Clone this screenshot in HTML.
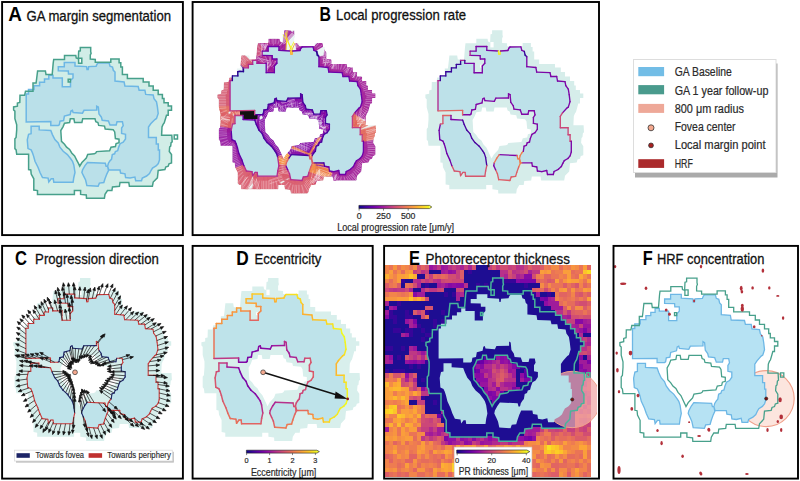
<!DOCTYPE html>
<html><head><meta charset="utf-8"><style>
html,body{margin:0;padding:0;background:#fff;}
body{width:800px;height:481px;overflow:hidden;font-family:"Liberation Sans", sans-serif;}
svg{display:block;}
</style></head><body>
<svg width="800" height="481" viewBox="0 0 800 481" font-family='"Liberation Sans", sans-serif'>
<defs><clipPath id="clipEp"><rect x="385" y="247" width="212" height="231"/></clipPath><clipPath id="clipBL"><path d="M284.2 30.3 L294.6 30.3 L294.6 34.7 L295.0 36.6 L294.2 38.4 L294.2 42.9 L299.2 43.3 L299.2 46.3 L314.7 46.3 L314.7 42.9 L323.0 42.9 L323.0 46.9 L324.7 46.9 L324.7 51.4 L326.3 51.4 L326.3 59.4 L331.3 59.4 L331.3 64.0 L347.1 64.0 L347.1 67.5 L352.9 67.5 L352.9 72.1 L357.1 72.1 L357.1 76.5 L362.1 76.5 L362.1 81.0 L366.3 81.0 L366.3 85.6 L367.9 85.6 L367.9 90.0 L372.1 90.0 L372.1 93.6 L375.4 93.6 L375.4 98.1 L372.1 98.1 L372.1 103.6 L370.4 103.6 L369.6 106.6 L368.1 111.9 L367.0 113.5 L365.9 116.2 L365.5 125.3 L375.7 125.3 L376.1 132.3 L375.0 133.2 L374.6 137.1 L373.6 137.9 L373.2 142.8 L375.4 146.2 L375.4 155.3 L372.9 156.1 L372.1 158.7 L369.6 159.6 L368.8 162.4 L362.1 163.3 L361.3 171.4 L357.1 175.8 L356.3 180.4 L333.3 180.5 L332.7 176.4 L323.9 176.4 L323.3 180.5 L316.4 181.1 L315.8 185.1 L311.4 185.1 L308.9 189.2 L308.3 193.4 L290.4 193.4 L290.2 189.9 L284.5 189.2 L284.5 185.1 L278.3 185.1 L278.3 189.2 L241.4 189.2 L241.4 185.1 L237.7 184.5 L237.7 172.4 L235.1 167.2 L234.7 162.8 L232.5 162.4 L232.5 145.7 L220.6 145.7 L220.0 141.1 L218.8 139.7 L218.8 129.0 L220.0 127.6 L220.6 119.5 L220.6 114.0 L218.8 107.3 L218.8 99.2 L217.5 97.9 L217.5 94.6 L221.3 93.8 L221.3 90.5 L223.7 89.8 L223.9 82.0 L228.5 82.0 L229.4 77.6 L236.9 77.6 L236.9 68.6 L240.0 68.6 L240.5 64.6 L241.5 55.6 L249.3 55.6 L249.9 59.6 L256.1 59.6 L257.1 47.2 L257.6 43.3 L268.4 43.3 L268.4 38.8 L279.7 38.8 L280.1 41.6 L282.2 42.4 L282.6 34.3 L284.2 33.9 Z M268.4 112.2 L273.5 111.5 L274.2 107.4 L277.8 107.4 L278.5 111.5 L285.8 111.5 L286.6 107.4 L298.9 107.4 L299.7 110.6 L301.8 111.5 L302.6 114.6 L308.4 115.3 L309.1 118.5 L317.1 119.2 L318.6 121.6 L319.3 128.8 L322.9 129.5 L322.9 133.4 L320.0 134.3 L319.3 137.4 L314.9 138.2 L313.5 142.1 L300.4 142.9 L299.7 144.5 L298.2 145.3 L291.6 146.1 L290.2 150.0 L288.0 152.3 L285.8 154.7 L283.6 158.6 L282.2 155.5 L280.7 152.3 L278.5 147.6 L275.6 144.5 L273.5 140.6 L270.5 138.2 L268.4 135.0 L265.4 131.9 L264.7 120.1 L266.9 116.1 Z" fill-rule="evenodd" clip-rule="evenodd"/></clipPath><linearGradient id="plasma" x1="0" x2="1" y1="0" y2="0"><stop offset="0.00" stop-color="#0d0887"/><stop offset="0.10" stop-color="#41049d"/><stop offset="0.20" stop-color="#6a00a8"/><stop offset="0.30" stop-color="#8f0da4"/><stop offset="0.40" stop-color="#b12a90"/><stop offset="0.50" stop-color="#cc4778"/><stop offset="0.60" stop-color="#e16462"/><stop offset="0.70" stop-color="#f2844b"/><stop offset="0.80" stop-color="#fca636"/><stop offset="0.90" stop-color="#fcce25"/><stop offset="1.00" stop-color="#f0f921"/></linearGradient></defs>
<rect width="800" height="481" fill="#fff"/>
<path d="M80.3 47.5 L90.7 47.5 L90.7 51.6 L91.1 53.3 L90.3 55.0 L90.3 59.1 L95.3 59.5 L95.3 62.3 L110.8 62.3 L110.8 59.1 L119.1 59.1 L119.1 62.8 L120.8 62.8 L120.8 67.0 L122.4 67.0 L122.4 74.4 L127.4 74.4 L127.4 78.6 L143.2 78.6 L143.2 81.9 L149.0 81.9 L149.0 86.1 L153.2 86.1 L153.2 90.2 L158.2 90.2 L158.2 94.4 L162.4 94.4 L162.4 98.6 L164.0 98.6 L164.0 102.7 L168.2 102.7 L168.2 106.0 L171.5 106.0 L171.5 110.2 L168.2 110.2 L168.2 115.2 L166.5 115.2 L165.7 118.0 L164.2 122.9 L163.1 124.4 L162.0 126.9 L161.6 135.3 L171.8 135.3 L172.2 141.8 L171.1 142.6 L170.7 146.2 L169.7 146.9 L169.3 151.5 L171.5 154.6 L171.5 163.0 L169.0 163.8 L168.2 166.2 L165.7 167.0 L164.9 169.6 L158.2 170.4 L157.4 177.9 L153.2 182.0 L152.4 186.2 L129.4 186.3 L128.8 182.5 L120.0 182.5 L119.4 186.3 L112.5 186.9 L111.9 190.6 L107.5 190.6 L105.0 194.4 L104.4 198.2 L86.5 198.2 L86.3 195.0 L80.6 194.4 L80.6 190.6 L74.4 190.6 L74.4 194.4 L37.5 194.4 L37.5 190.6 L33.8 190.0 L33.8 178.8 L31.2 174.0 L30.8 170.0 L28.6 169.6 L28.6 154.2 L16.7 154.2 L16.1 149.9 L14.9 148.6 L14.9 138.7 L16.1 137.4 L16.7 129.9 L16.7 124.9 L14.9 118.7 L14.9 111.2 L13.6 110.0 L13.6 106.9 L17.4 106.2 L17.4 103.1 L19.8 102.5 L20.0 95.3 L24.6 95.3 L25.5 91.2 L33.0 91.2 L33.0 82.9 L36.1 82.9 L36.6 79.2 L37.6 70.9 L45.4 70.9 L46.0 74.6 L52.2 74.6 L53.2 63.1 L53.7 59.5 L64.5 59.5 L64.5 55.4 L75.8 55.4 L76.2 57.9 L78.3 58.7 L78.7 51.2 L80.3 50.8 Z M64.5 123.2 L69.6 122.5 L70.3 118.8 L73.9 118.8 L74.6 122.5 L81.9 122.5 L82.7 118.8 L95.0 118.8 L95.8 121.7 L97.9 122.5 L98.7 125.4 L104.5 126.1 L105.2 129.0 L113.2 129.7 L114.7 131.9 L115.4 138.5 L119.0 139.2 L119.0 142.8 L116.1 143.6 L115.4 146.5 L111.0 147.2 L109.6 150.8 L96.5 151.6 L95.8 153.0 L94.3 153.8 L87.7 154.5 L86.3 158.1 L84.1 160.3 L81.9 162.5 L79.7 166.1 L78.3 163.2 L76.8 160.3 L74.6 155.9 L71.7 153.0 L69.6 149.4 L66.6 147.2 L64.5 144.3 L61.5 141.4 L60.8 130.5 L63.0 126.8 Z" fill="#d1ede7" fill-rule="evenodd"/>
<path d="M78.6 58.3 L81.8 58.3 L81.8 63.3 L78.6 63.3 Z" fill="#fff"/>
<path d="M68.2 79.3 L70.4 79.3 L70.4 82.0 L68.2 82.0 Z" fill="#fff"/>
<path d="M26.2 121.9 L26.2 94.0 L28.5 94.0 L28.5 89.6 L34.0 89.6 L34.0 85.8 L39.6 85.8 L39.6 82.2 L44.5 82.2 L44.5 79.0 L48.8 79.0 L48.8 75.3 L53.0 75.3 L53.0 78.0 L62.3 78.0 L62.3 86.7 L70.5 86.7 L70.5 80.5 L73.0 78.0 L73.0 74.0 L68.5 74.0 L68.3 71.0 L58.3 70.7 L58.3 66.7 L64.3 66.7 L64.3 62.5 L75.0 62.5 L75.0 66.0 L86.6 66.6 L87.0 69.5 L88.2 69.5 L88.7 66.6 L96.1 66.2 L97.0 64.1 L98.2 62.9 L109.1 62.8 L110.0 66.1 L112.5 67.0 L113.3 70.3 L115.0 72.0 L115.0 81.1 L124.1 81.9 L124.9 86.1 L138.2 86.6 L139.1 90.2 L144.9 90.2 L145.7 94.4 L153.2 94.9 L154.0 98.6 L156.5 101.9 L157.4 106.9 L158.2 113.5 L156.5 118.5 L154.9 119.5 L150.7 123.8 L148.5 127.0 L148.5 137.5 L156.3 137.5 L156.3 144.0 L158.3 144.0 L158.3 150.0 L159.5 150.0 L159.5 160.0 L158.3 163.6 L156.1 166.0 L152.5 168.0 L151.0 170.5 L149.5 173.5 L146.6 176.0 L142.3 178.0 L141.5 180.8 L135.7 180.8 L134.9 177.1 L130.0 178.1 L125.6 177.5 L125.0 173.8 L120.6 173.1 L120.0 170.0 L110.0 170.0 L108.4 170.0 L107.6 166.3 L108.4 163.2 L110.0 160.8 L111.5 159.3 L112.3 154.6 L114.6 153.8 L115.4 151.5 L117.7 150.7 L118.5 147.6 L120.1 143.7 L123.2 142.1 L125.5 139.0 L125.5 134.3 L121.6 133.5 L121.6 128.1 L123.2 125.7 L122.4 121.8 L117.0 121.8 L116.2 125.0 L110.0 125.0 L108.4 121.0 L102.2 120.3 L101.4 117.2 L99.0 114.0 L98.3 107.0 L96.7 106.2 L96.7 110.1 L84.0 110.3 L82.5 113.2 L73.1 112.5 L72.4 110.3 L70.9 111.0 L70.2 114.6 L64.4 116.1 L63.6 120.5 L60.0 121.2 L59.3 124.8 L58.2 125.5 L50.8 125.5 L50.8 121.5 Z M31.1 126.2 L39.2 126.2 L39.2 129.9 L50.8 130.5 L52.4 134.6 L54.9 139.6 L58.2 143.0 L59.9 147.1 L63.2 151.3 L67.4 154.6 L70.7 158.8 L72.5 161.3 L73.8 165.0 L75.0 172.5 L73.8 177.5 L73.1 182.3 L53.8 182.3 L53.3 178.8 L51.2 178.8 L48.8 181.9 L48.1 178.1 L42.5 177.5 L40.0 172.5 L38.1 167.5 L35.0 161.3 L33.6 156.1 L32.3 152.4 L31.1 149.9 L28.0 148.6 L27.3 139.9 L28.6 134.3 L31.1 133.7 Z M87.5 162.5 L105.3 163.2 L106.1 166.3 L107.6 166.3 L108.8 170.0 L106.9 173.8 L105.0 178.8 L103.8 182.5 L99.4 183.1 L98.1 186.3 L86.9 185.6 L85.6 180.0 L83.8 176.3 L81.9 172.5 L82.5 170.0 L85.0 165.6 Z" fill="#bae0e9"/>
<path d="M26.2 121.9 L26.2 94.0 L28.5 94.0 L28.5 89.6 L34.0 89.6 L34.0 85.8 L39.6 85.8 L39.6 82.2 L44.5 82.2 L44.5 79.0 L48.8 79.0 L48.8 75.3 L53.0 75.3 L53.0 78.0 L62.3 78.0 L62.3 86.7 L70.5 86.7 L70.5 80.5 L73.0 78.0 L73.0 74.0 L68.5 74.0 L68.3 71.0 L58.3 70.7 L58.3 66.7 L64.3 66.7 L64.3 62.5 L75.0 62.5 L75.0 66.0 L86.6 66.6 L87.0 69.5 L88.2 69.5 L88.7 66.6 L96.1 66.2 L97.0 64.1 L98.2 62.9 L109.1 62.8 L110.0 66.1 L112.5 67.0 L113.3 70.3 L115.0 72.0 L115.0 81.1 L124.1 81.9 L124.9 86.1 L138.2 86.6 L139.1 90.2 L144.9 90.2 L145.7 94.4 L153.2 94.9 L154.0 98.6 L156.5 101.9 L157.4 106.9 L158.2 113.5 L156.5 118.5 L154.9 119.5 L150.7 123.8 L148.5 127.0 L148.5 137.5 L156.3 137.5 L156.3 144.0 L158.3 144.0 L158.3 150.0 L159.5 150.0 L159.5 160.0 L158.3 163.6 L156.1 166.0 L152.5 168.0 L151.0 170.5 L149.5 173.5 L146.6 176.0 L142.3 178.0 L141.5 180.8 L135.7 180.8 L134.9 177.1 L130.0 178.1 L125.6 177.5 L125.0 173.8 L120.6 173.1 L120.0 170.0 L110.0 170.0 L108.4 170.0 L107.6 166.3 L108.4 163.2 L110.0 160.8 L111.5 159.3 L112.3 154.6 L114.6 153.8 L115.4 151.5 L117.7 150.7 L118.5 147.6 L120.1 143.7 L123.2 142.1 L125.5 139.0 L125.5 134.3 L121.6 133.5 L121.6 128.1 L123.2 125.7 L122.4 121.8 L117.0 121.8 L116.2 125.0 L110.0 125.0 L108.4 121.0 L102.2 120.3 L101.4 117.2 L99.0 114.0 L98.3 107.0 L96.7 106.2 L96.7 110.1 L84.0 110.3 L82.5 113.2 L73.1 112.5 L72.4 110.3 L70.9 111.0 L70.2 114.6 L64.4 116.1 L63.6 120.5 L60.0 121.2 L59.3 124.8 L58.2 125.5 L50.8 125.5 L50.8 121.5 Z M31.1 126.2 L39.2 126.2 L39.2 129.9 L50.8 130.5 L52.4 134.6 L54.9 139.6 L58.2 143.0 L59.9 147.1 L63.2 151.3 L67.4 154.6 L70.7 158.8 L72.5 161.3 L73.8 165.0 L75.0 172.5 L73.8 177.5 L73.1 182.3 L53.8 182.3 L53.3 178.8 L51.2 178.8 L48.8 181.9 L48.1 178.1 L42.5 177.5 L40.0 172.5 L38.1 167.5 L35.0 161.3 L33.6 156.1 L32.3 152.4 L31.1 149.9 L28.0 148.6 L27.3 139.9 L28.6 134.3 L31.1 133.7 Z M87.5 162.5 L105.3 163.2 L106.1 166.3 L107.6 166.3 L108.8 170.0 L106.9 173.8 L105.0 178.8 L103.8 182.5 L99.4 183.1 L98.1 186.3 L86.9 185.6 L85.6 180.0 L83.8 176.3 L81.9 172.5 L82.5 170.0 L85.0 165.6 Z" fill="none" stroke="#6db7e5" stroke-width="1.50"/>
<path d="M80.3 47.5 L90.7 47.5 L90.7 51.6 L91.1 53.3 L90.3 55.0 L90.3 59.1 L95.3 59.5 L95.3 62.3 L110.8 62.3 L110.8 59.1 L119.1 59.1 L119.1 62.8 L120.8 62.8 L120.8 67.0 L122.4 67.0 L122.4 74.4 L127.4 74.4 L127.4 78.6 L143.2 78.6 L143.2 81.9 L149.0 81.9 L149.0 86.1 L153.2 86.1 L153.2 90.2 L158.2 90.2 L158.2 94.4 L162.4 94.4 L162.4 98.6 L164.0 98.6 L164.0 102.7 L168.2 102.7 L168.2 106.0 L171.5 106.0 L171.5 110.2 L168.2 110.2 L168.2 115.2 L166.5 115.2 L165.7 118.0 L164.2 122.9 L163.1 124.4 L162.0 126.9 L161.6 135.3 L171.8 135.3 L172.2 141.8 L171.1 142.6 L170.7 146.2 L169.7 146.9 L169.3 151.5 L171.5 154.6 L171.5 163.0 L169.0 163.8 L168.2 166.2 L165.7 167.0 L164.9 169.6 L158.2 170.4 L157.4 177.9 L153.2 182.0 L152.4 186.2 L129.4 186.3 L128.8 182.5 L120.0 182.5 L119.4 186.3 L112.5 186.9 L111.9 190.6 L107.5 190.6 L105.0 194.4 L104.4 198.2 L86.5 198.2 L86.3 195.0 L80.6 194.4 L80.6 190.6 L74.4 190.6 L74.4 194.4 L37.5 194.4 L37.5 190.6 L33.8 190.0 L33.8 178.8 L31.2 174.0 L30.8 170.0 L28.6 169.6 L28.6 154.2 L16.7 154.2 L16.1 149.9 L14.9 148.6 L14.9 138.7 L16.1 137.4 L16.7 129.9 L16.7 124.9 L14.9 118.7 L14.9 111.2 L13.6 110.0 L13.6 106.9 L17.4 106.2 L17.4 103.1 L19.8 102.5 L20.0 95.3 L24.6 95.3 L25.5 91.2 L33.0 91.2 L33.0 82.9 L36.1 82.9 L36.6 79.2 L37.6 70.9 L45.4 70.9 L46.0 74.6 L52.2 74.6 L53.2 63.1 L53.7 59.5 L64.5 59.5 L64.5 55.4 L75.8 55.4 L76.2 57.9 L78.3 58.7 L78.7 51.2 L80.3 50.8 Z M64.5 123.2 L69.6 122.5 L70.3 118.8 L73.9 118.8 L74.6 122.5 L81.9 122.5 L82.7 118.8 L95.0 118.8 L95.8 121.7 L97.9 122.5 L98.7 125.4 L104.5 126.1 L105.2 129.0 L113.2 129.7 L114.7 131.9 L115.4 138.5 L119.0 139.2 L119.0 142.8 L116.1 143.6 L115.4 146.5 L111.0 147.2 L109.6 150.8 L96.5 151.6 L95.8 153.0 L94.3 153.8 L87.7 154.5 L86.3 158.1 L84.1 160.3 L81.9 162.5 L79.7 166.1 L78.3 163.2 L76.8 160.3 L74.6 155.9 L71.7 153.0 L69.6 149.4 L66.6 147.2 L64.5 144.3 L61.5 141.4 L60.8 130.5 L63.0 126.8 Z" fill="none" stroke="#47a08b" stroke-width="1.50"/>
<path d="M78.6 58.3 L81.8 58.3 L81.8 63.3 L78.6 63.3 Z" fill="none" stroke="#47a08b" stroke-width="1.50"/>
<path d="M68.2 79.3 L70.4 79.3 L70.4 82.0 L68.2 82.0 Z" fill="none" stroke="#47a08b" stroke-width="1.50"/>
<path d="M174.2 135.0 L177.5 135.0 L177.5 138.9 L174.2 138.9 Z" fill="none" stroke="#47a08b" stroke-width="1.50"/>
<path d="M492.1 30.3 L502.5 30.3 L502.5 34.7 L502.9 36.6 L502.1 38.4 L502.1 42.9 L507.1 43.3 L507.1 46.3 L522.6 46.3 L522.6 42.9 L530.9 42.9 L530.9 46.9 L532.6 46.9 L532.6 51.4 L534.2 51.4 L534.2 59.4 L539.2 59.4 L539.2 64.0 L555.0 64.0 L555.0 67.5 L560.8 67.5 L560.8 72.1 L565.0 72.1 L565.0 76.5 L570.0 76.5 L570.0 81.0 L574.2 81.0 L574.2 85.6 L575.8 85.6 L575.8 90.0 L580.0 90.0 L580.0 93.6 L583.3 93.6 L583.3 98.1 L580.0 98.1 L580.0 103.6 L578.3 103.6 L577.5 106.6 L576.0 111.9 L574.9 113.5 L573.8 116.2 L573.4 125.3 L583.6 125.3 L584.0 132.3 L582.9 133.2 L582.5 137.1 L581.5 137.9 L581.1 142.8 L583.3 146.2 L583.3 155.3 L580.8 156.1 L580.0 158.7 L577.5 159.6 L576.7 162.4 L570.0 163.3 L569.2 171.4 L565.0 175.8 L564.2 180.4 L541.2 180.5 L540.6 176.4 L531.8 176.4 L531.2 180.5 L524.3 181.1 L523.7 185.1 L519.3 185.1 L516.8 189.2 L516.2 193.4 L498.3 193.4 L498.1 189.9 L492.4 189.2 L492.4 185.1 L486.2 185.1 L486.2 189.2 L449.3 189.2 L449.3 185.1 L445.6 184.5 L445.6 172.4 L443.0 167.2 L442.6 162.8 L440.4 162.4 L440.4 145.7 L428.5 145.7 L427.9 141.1 L426.7 139.7 L426.7 129.0 L427.9 127.6 L428.5 119.5 L428.5 114.0 L426.7 107.3 L426.7 99.2 L425.4 97.9 L425.4 94.6 L429.2 93.8 L429.2 90.5 L431.6 89.8 L431.8 82.0 L436.4 82.0 L437.3 77.6 L444.8 77.6 L444.8 68.6 L447.9 68.6 L448.4 64.6 L449.4 55.6 L457.2 55.6 L457.8 59.6 L464.0 59.6 L465.0 47.2 L465.5 43.3 L476.3 43.3 L476.3 38.8 L487.6 38.8 L488.0 41.6 L490.1 42.4 L490.5 34.3 L492.1 33.9 Z M476.3 112.2 L481.4 111.5 L482.1 107.4 L485.7 107.4 L486.4 111.5 L493.7 111.5 L494.5 107.4 L506.8 107.4 L507.6 110.6 L509.7 111.5 L510.5 114.6 L516.3 115.3 L517.0 118.5 L525.0 119.2 L526.5 121.6 L527.2 128.8 L530.8 129.5 L530.8 133.4 L527.9 134.3 L527.2 137.4 L522.8 138.2 L521.4 142.1 L508.3 142.9 L507.6 144.5 L506.1 145.3 L499.5 146.1 L498.1 150.0 L495.9 152.3 L493.7 154.7 L491.5 158.6 L490.1 155.5 L488.6 152.3 L486.4 147.6 L483.5 144.5 L481.4 140.6 L478.4 138.2 L476.3 135.0 L473.3 131.9 L472.6 120.1 L474.8 116.1 Z" fill="#d6edea" fill-rule="evenodd"/>
<path d="M490.4 42.0 L493.6 42.0 L493.6 47.4 L490.4 47.4 Z" fill="#fff"/>
<path d="M480.0 64.7 L482.2 64.7 L482.2 67.6 L480.0 67.6 Z" fill="#fff"/>
<path d="M438.0 110.8 L438.0 80.6 L440.3 80.6 L440.3 75.9 L445.8 75.9 L445.8 71.7 L451.4 71.7 L451.4 67.8 L456.3 67.8 L456.3 64.4 L460.6 64.4 L460.6 60.4 L464.8 60.4 L464.8 63.3 L474.1 63.3 L474.1 72.7 L482.3 72.7 L482.3 66.0 L484.8 63.3 L484.8 59.0 L480.3 59.0 L480.1 55.7 L470.1 55.4 L470.1 51.1 L476.1 51.1 L476.1 46.5 L486.8 46.5 L486.8 50.3 L498.4 51.0 L498.8 54.1 L500.0 54.1 L500.5 51.0 L507.9 50.5 L508.8 48.3 L510.0 47.0 L520.9 46.9 L521.8 50.4 L524.3 51.4 L525.1 55.0 L526.8 56.8 L526.8 66.7 L535.9 67.5 L536.7 72.1 L550.0 72.6 L550.9 76.5 L556.7 76.5 L557.5 81.0 L565.0 81.6 L565.8 85.6 L568.3 89.2 L569.2 94.6 L570.0 101.7 L568.3 107.1 L566.7 108.2 L562.5 112.9 L560.3 116.3 L560.3 127.7 L568.1 127.7 L568.1 134.7 L570.1 134.7 L570.1 141.2 L571.3 141.2 L571.3 152.0 L570.1 155.9 L567.9 158.5 L564.3 160.7 L562.8 163.4 L561.3 166.6 L558.4 169.3 L554.1 171.5 L553.3 174.5 L547.5 174.5 L546.7 170.5 L541.8 171.6 L537.4 171.0 L536.8 167.0 L532.4 166.2 L531.8 162.8 L521.8 162.8 L520.2 162.8 L519.4 158.8 L520.2 155.5 L521.8 152.9 L523.3 151.3 L524.1 146.2 L526.4 145.3 L527.2 142.8 L529.5 142.0 L530.3 138.6 L531.9 134.4 L535.0 132.7 L537.3 129.3 L537.3 124.2 L533.4 123.4 L533.4 117.5 L535.0 114.9 L534.2 110.7 L528.8 110.7 L528.0 114.2 L521.8 114.2 L520.2 109.8 L514.0 109.1 L513.2 105.7 L510.8 102.3 L510.1 94.7 L508.5 93.8 L508.5 98.0 L495.8 98.2 L494.3 101.4 L484.9 100.6 L484.2 98.2 L482.7 99.0 L482.0 102.9 L476.2 104.5 L475.4 109.3 L471.8 110.0 L471.1 113.9 L470.0 114.7 L462.6 114.7 L462.6 110.4 Z M442.9 115.5 L451.0 115.5 L451.0 119.5 L462.6 120.1 L464.2 124.5 L466.7 130.0 L470.0 133.6 L471.7 138.1 L475.0 142.6 L479.2 146.2 L482.5 150.7 L484.3 153.4 L485.6 157.4 L486.8 165.6 L485.6 171.0 L484.9 176.2 L465.6 176.2 L465.1 172.4 L463.0 172.4 L460.6 175.7 L459.9 171.6 L454.3 171.0 L451.8 165.6 L449.9 160.1 L446.8 153.4 L445.4 147.8 L444.1 143.8 L442.9 141.1 L439.8 139.7 L439.1 130.3 L440.4 124.2 L442.9 123.6 Z M499.3 154.7 L517.1 155.5 L517.9 158.8 L519.4 158.8 L520.6 162.8 L518.7 167.0 L516.8 172.4 L515.6 176.4 L511.2 177.0 L509.9 180.5 L498.7 179.7 L497.4 173.7 L495.6 169.7 L493.7 165.6 L494.3 162.8 L496.8 158.1 Z" fill="#bde1e9"/>
<line x1="438.0" y1="110.8" x2="438.0" y2="80.6" stroke="#b12a90" stroke-width="1.35" stroke-linecap="round"/>
<line x1="438.0" y1="80.6" x2="440.3" y2="80.6" stroke="#b12a90" stroke-width="1.35" stroke-linecap="round"/>
<line x1="440.3" y1="80.6" x2="440.3" y2="75.9" stroke="#370599" stroke-width="1.35" stroke-linecap="round"/>
<line x1="440.3" y1="75.9" x2="445.8" y2="75.9" stroke="#370599" stroke-width="1.35" stroke-linecap="round"/>
<line x1="445.8" y1="75.9" x2="445.8" y2="71.7" stroke="#370599" stroke-width="1.35" stroke-linecap="round"/>
<line x1="445.8" y1="71.7" x2="451.4" y2="71.7" stroke="#370599" stroke-width="1.35" stroke-linecap="round"/>
<line x1="451.4" y1="71.7" x2="451.4" y2="67.8" stroke="#370599" stroke-width="1.35" stroke-linecap="round"/>
<line x1="451.4" y1="67.8" x2="456.3" y2="67.8" stroke="#370599" stroke-width="1.35" stroke-linecap="round"/>
<line x1="456.3" y1="67.8" x2="456.3" y2="64.4" stroke="#370599" stroke-width="1.35" stroke-linecap="round"/>
<line x1="456.3" y1="64.4" x2="460.6" y2="64.4" stroke="#370599" stroke-width="1.35" stroke-linecap="round"/>
<line x1="460.6" y1="64.4" x2="460.6" y2="60.4" stroke="#370599" stroke-width="1.35" stroke-linecap="round"/>
<line x1="460.6" y1="60.4" x2="464.8" y2="60.4" stroke="#b12a90" stroke-width="1.35" stroke-linecap="round"/>
<line x1="464.8" y1="60.4" x2="464.8" y2="63.3" stroke="#370599" stroke-width="1.35" stroke-linecap="round"/>
<line x1="464.8" y1="63.3" x2="474.1" y2="63.3" stroke="#7c06a6" stroke-width="1.35" stroke-linecap="round"/>
<line x1="474.1" y1="63.3" x2="474.1" y2="72.7" stroke="#7c06a6" stroke-width="1.35" stroke-linecap="round"/>
<line x1="474.1" y1="72.7" x2="482.3" y2="72.7" stroke="#7c06a6" stroke-width="1.35" stroke-linecap="round"/>
<line x1="482.3" y1="72.7" x2="482.3" y2="66.0" stroke="#7c06a6" stroke-width="1.35" stroke-linecap="round"/>
<line x1="482.3" y1="66.0" x2="484.8" y2="63.3" stroke="#7c06a6" stroke-width="1.35" stroke-linecap="round"/>
<line x1="484.8" y1="63.3" x2="484.8" y2="59.0" stroke="#7c06a6" stroke-width="1.35" stroke-linecap="round"/>
<line x1="484.8" y1="59.0" x2="480.3" y2="59.0" stroke="#7c06a6" stroke-width="1.35" stroke-linecap="round"/>
<line x1="480.3" y1="59.0" x2="480.1" y2="55.7" stroke="#7c06a6" stroke-width="1.35" stroke-linecap="round"/>
<line x1="480.1" y1="55.7" x2="470.1" y2="55.4" stroke="#7c06a6" stroke-width="1.35" stroke-linecap="round"/>
<line x1="470.1" y1="55.4" x2="470.1" y2="51.1" stroke="#b12a90" stroke-width="1.35" stroke-linecap="round"/>
<line x1="470.1" y1="51.1" x2="476.1" y2="51.1" stroke="#7c06a6" stroke-width="1.35" stroke-linecap="round"/>
<line x1="476.1" y1="51.1" x2="476.1" y2="46.5" stroke="#7c06a6" stroke-width="1.35" stroke-linecap="round"/>
<line x1="476.1" y1="46.5" x2="486.8" y2="46.5" stroke="#7c06a6" stroke-width="1.35" stroke-linecap="round"/>
<line x1="486.8" y1="46.5" x2="486.8" y2="50.3" stroke="#7c06a6" stroke-width="1.35" stroke-linecap="round"/>
<line x1="486.8" y1="50.3" x2="498.4" y2="51.0" stroke="#7c06a6" stroke-width="1.35" stroke-linecap="round"/>
<line x1="498.4" y1="51.0" x2="498.8" y2="54.1" stroke="#f2f022" stroke-width="1.35" stroke-linecap="round"/>
<line x1="498.8" y1="54.1" x2="500.0" y2="54.1" stroke="#f2f022" stroke-width="1.35" stroke-linecap="round"/>
<line x1="500.0" y1="54.1" x2="500.5" y2="51.0" stroke="#f2f022" stroke-width="1.35" stroke-linecap="round"/>
<line x1="500.5" y1="51.0" x2="507.9" y2="50.5" stroke="#7c06a6" stroke-width="1.35" stroke-linecap="round"/>
<line x1="507.9" y1="50.5" x2="508.8" y2="48.3" stroke="#7c06a6" stroke-width="1.35" stroke-linecap="round"/>
<line x1="508.8" y1="48.3" x2="510.0" y2="47.0" stroke="#7c06a6" stroke-width="1.35" stroke-linecap="round"/>
<line x1="510.0" y1="47.0" x2="520.9" y2="46.9" stroke="#7c06a6" stroke-width="1.35" stroke-linecap="round"/>
<line x1="520.9" y1="46.9" x2="521.8" y2="50.4" stroke="#7c06a6" stroke-width="1.35" stroke-linecap="round"/>
<line x1="521.8" y1="50.4" x2="524.3" y2="51.4" stroke="#7c06a6" stroke-width="1.35" stroke-linecap="round"/>
<line x1="524.3" y1="51.4" x2="525.1" y2="55.0" stroke="#370599" stroke-width="1.35" stroke-linecap="round"/>
<line x1="525.1" y1="55.0" x2="526.8" y2="56.8" stroke="#370599" stroke-width="1.35" stroke-linecap="round"/>
<line x1="526.8" y1="56.8" x2="526.8" y2="66.7" stroke="#7c06a6" stroke-width="1.35" stroke-linecap="round"/>
<line x1="526.8" y1="66.7" x2="535.9" y2="67.5" stroke="#7c06a6" stroke-width="1.35" stroke-linecap="round"/>
<line x1="535.9" y1="67.5" x2="536.7" y2="72.1" stroke="#7c06a6" stroke-width="1.35" stroke-linecap="round"/>
<line x1="536.7" y1="72.1" x2="550.0" y2="72.6" stroke="#7c06a6" stroke-width="1.35" stroke-linecap="round"/>
<line x1="550.0" y1="72.6" x2="550.9" y2="76.5" stroke="#7c06a6" stroke-width="1.35" stroke-linecap="round"/>
<line x1="550.9" y1="76.5" x2="556.7" y2="76.5" stroke="#7c06a6" stroke-width="1.35" stroke-linecap="round"/>
<line x1="556.7" y1="76.5" x2="557.5" y2="81.0" stroke="#7c06a6" stroke-width="1.35" stroke-linecap="round"/>
<line x1="557.5" y1="81.0" x2="565.0" y2="81.6" stroke="#7c06a6" stroke-width="1.35" stroke-linecap="round"/>
<line x1="565.0" y1="81.6" x2="565.8" y2="85.6" stroke="#7c06a6" stroke-width="1.35" stroke-linecap="round"/>
<line x1="565.8" y1="85.6" x2="568.3" y2="89.2" stroke="#7c06a6" stroke-width="1.35" stroke-linecap="round"/>
<line x1="568.3" y1="89.2" x2="569.2" y2="94.6" stroke="#7c06a6" stroke-width="1.35" stroke-linecap="round"/>
<line x1="569.2" y1="94.6" x2="570.0" y2="101.7" stroke="#7c06a6" stroke-width="1.35" stroke-linecap="round"/>
<line x1="570.0" y1="101.7" x2="568.3" y2="107.1" stroke="#7c06a6" stroke-width="1.35" stroke-linecap="round"/>
<line x1="568.3" y1="107.1" x2="566.7" y2="108.2" stroke="#7c06a6" stroke-width="1.35" stroke-linecap="round"/>
<line x1="566.7" y1="108.2" x2="562.5" y2="112.9" stroke="#7c06a6" stroke-width="1.35" stroke-linecap="round"/>
<line x1="562.5" y1="112.9" x2="560.3" y2="116.3" stroke="#cc4778" stroke-width="1.35" stroke-linecap="round"/>
<line x1="560.3" y1="116.3" x2="560.3" y2="127.7" stroke="#cc4778" stroke-width="1.35" stroke-linecap="round"/>
<line x1="560.3" y1="127.7" x2="568.1" y2="127.7" stroke="#cc4778" stroke-width="1.35" stroke-linecap="round"/>
<line x1="568.1" y1="127.7" x2="568.1" y2="134.7" stroke="#cc4778" stroke-width="1.35" stroke-linecap="round"/>
<line x1="568.1" y1="134.7" x2="570.1" y2="134.7" stroke="#cc4778" stroke-width="1.35" stroke-linecap="round"/>
<line x1="570.1" y1="134.7" x2="570.1" y2="141.2" stroke="#cc4778" stroke-width="1.35" stroke-linecap="round"/>
<line x1="570.1" y1="141.2" x2="571.3" y2="141.2" stroke="#cc4778" stroke-width="1.35" stroke-linecap="round"/>
<line x1="571.3" y1="141.2" x2="571.3" y2="152.0" stroke="#7c06a6" stroke-width="1.35" stroke-linecap="round"/>
<line x1="571.3" y1="152.0" x2="570.1" y2="155.9" stroke="#7c06a6" stroke-width="1.35" stroke-linecap="round"/>
<line x1="570.1" y1="155.9" x2="567.9" y2="158.5" stroke="#7c06a6" stroke-width="1.35" stroke-linecap="round"/>
<line x1="567.9" y1="158.5" x2="564.3" y2="160.7" stroke="#7c06a6" stroke-width="1.35" stroke-linecap="round"/>
<line x1="564.3" y1="160.7" x2="562.8" y2="163.4" stroke="#7c06a6" stroke-width="1.35" stroke-linecap="round"/>
<line x1="562.8" y1="163.4" x2="561.3" y2="166.6" stroke="#7c06a6" stroke-width="1.35" stroke-linecap="round"/>
<line x1="561.3" y1="166.6" x2="558.4" y2="169.3" stroke="#7c06a6" stroke-width="1.35" stroke-linecap="round"/>
<line x1="558.4" y1="169.3" x2="554.1" y2="171.5" stroke="#7c06a6" stroke-width="1.35" stroke-linecap="round"/>
<line x1="554.1" y1="171.5" x2="553.3" y2="174.5" stroke="#7c06a6" stroke-width="1.35" stroke-linecap="round"/>
<line x1="553.3" y1="174.5" x2="547.5" y2="174.5" stroke="#7c06a6" stroke-width="1.35" stroke-linecap="round"/>
<line x1="547.5" y1="174.5" x2="546.7" y2="170.5" stroke="#7c06a6" stroke-width="1.35" stroke-linecap="round"/>
<line x1="546.7" y1="170.5" x2="541.8" y2="171.6" stroke="#7c06a6" stroke-width="1.35" stroke-linecap="round"/>
<line x1="541.8" y1="171.6" x2="537.4" y2="171.0" stroke="#7c06a6" stroke-width="1.35" stroke-linecap="round"/>
<line x1="537.4" y1="171.0" x2="536.8" y2="167.0" stroke="#7c06a6" stroke-width="1.35" stroke-linecap="round"/>
<line x1="536.8" y1="167.0" x2="532.4" y2="166.2" stroke="#7c06a6" stroke-width="1.35" stroke-linecap="round"/>
<line x1="532.4" y1="166.2" x2="531.8" y2="162.8" stroke="#8008a6" stroke-width="1.35" stroke-linecap="round"/>
<line x1="531.8" y1="162.8" x2="521.8" y2="162.8" stroke="#8008a6" stroke-width="1.35" stroke-linecap="round"/>
<line x1="521.8" y1="162.8" x2="520.2" y2="162.8" stroke="#ef7e50" stroke-width="1.35" stroke-linecap="round"/>
<line x1="520.2" y1="162.8" x2="519.4" y2="158.8" stroke="#ef7e50" stroke-width="1.35" stroke-linecap="round"/>
<line x1="519.4" y1="158.8" x2="520.2" y2="155.5" stroke="#ef7e50" stroke-width="1.35" stroke-linecap="round"/>
<line x1="520.2" y1="155.5" x2="521.8" y2="152.9" stroke="#ef7e50" stroke-width="1.35" stroke-linecap="round"/>
<line x1="521.8" y1="152.9" x2="523.3" y2="151.3" stroke="#ef7e50" stroke-width="1.35" stroke-linecap="round"/>
<line x1="523.3" y1="151.3" x2="524.1" y2="146.2" stroke="#8008a6" stroke-width="1.35" stroke-linecap="round"/>
<line x1="524.1" y1="146.2" x2="526.4" y2="145.3" stroke="#8008a6" stroke-width="1.35" stroke-linecap="round"/>
<line x1="526.4" y1="145.3" x2="527.2" y2="142.8" stroke="#8008a6" stroke-width="1.35" stroke-linecap="round"/>
<line x1="527.2" y1="142.8" x2="529.5" y2="142.0" stroke="#8008a6" stroke-width="1.35" stroke-linecap="round"/>
<line x1="529.5" y1="142.0" x2="530.3" y2="138.6" stroke="#8008a6" stroke-width="1.35" stroke-linecap="round"/>
<line x1="530.3" y1="138.6" x2="531.9" y2="134.4" stroke="#8008a6" stroke-width="1.35" stroke-linecap="round"/>
<line x1="531.9" y1="134.4" x2="535.0" y2="132.7" stroke="#8008a6" stroke-width="1.35" stroke-linecap="round"/>
<line x1="535.0" y1="132.7" x2="537.3" y2="129.3" stroke="#8008a6" stroke-width="1.35" stroke-linecap="round"/>
<line x1="537.3" y1="129.3" x2="537.3" y2="124.2" stroke="#7c06a6" stroke-width="1.35" stroke-linecap="round"/>
<line x1="537.3" y1="124.2" x2="533.4" y2="123.4" stroke="#8008a6" stroke-width="1.35" stroke-linecap="round"/>
<line x1="533.4" y1="123.4" x2="533.4" y2="117.5" stroke="#8008a6" stroke-width="1.35" stroke-linecap="round"/>
<line x1="533.4" y1="117.5" x2="535.0" y2="114.9" stroke="#8008a6" stroke-width="1.35" stroke-linecap="round"/>
<line x1="535.0" y1="114.9" x2="534.2" y2="110.7" stroke="#8008a6" stroke-width="1.35" stroke-linecap="round"/>
<line x1="534.2" y1="110.7" x2="528.8" y2="110.7" stroke="#8008a6" stroke-width="1.35" stroke-linecap="round"/>
<line x1="528.8" y1="110.7" x2="528.0" y2="114.2" stroke="#8008a6" stroke-width="1.35" stroke-linecap="round"/>
<line x1="528.0" y1="114.2" x2="521.8" y2="114.2" stroke="#8008a6" stroke-width="1.35" stroke-linecap="round"/>
<line x1="521.8" y1="114.2" x2="520.2" y2="109.8" stroke="#8008a6" stroke-width="1.35" stroke-linecap="round"/>
<line x1="520.2" y1="109.8" x2="514.0" y2="109.1" stroke="#8008a6" stroke-width="1.35" stroke-linecap="round"/>
<line x1="514.0" y1="109.1" x2="513.2" y2="105.7" stroke="#8008a6" stroke-width="1.35" stroke-linecap="round"/>
<line x1="513.2" y1="105.7" x2="510.8" y2="102.3" stroke="#8008a6" stroke-width="1.35" stroke-linecap="round"/>
<line x1="510.8" y1="102.3" x2="510.1" y2="94.7" stroke="#8008a6" stroke-width="1.35" stroke-linecap="round"/>
<line x1="510.1" y1="94.7" x2="508.5" y2="93.8" stroke="#8008a6" stroke-width="1.35" stroke-linecap="round"/>
<line x1="508.5" y1="93.8" x2="508.5" y2="98.0" stroke="#8008a6" stroke-width="1.35" stroke-linecap="round"/>
<line x1="508.5" y1="98.0" x2="495.8" y2="98.2" stroke="#8008a6" stroke-width="1.35" stroke-linecap="round"/>
<line x1="495.8" y1="98.2" x2="494.3" y2="101.4" stroke="#8008a6" stroke-width="1.35" stroke-linecap="round"/>
<line x1="494.3" y1="101.4" x2="484.9" y2="100.6" stroke="#8008a6" stroke-width="1.35" stroke-linecap="round"/>
<line x1="484.9" y1="100.6" x2="484.2" y2="98.2" stroke="#8008a6" stroke-width="1.35" stroke-linecap="round"/>
<line x1="484.2" y1="98.2" x2="482.7" y2="99.0" stroke="#8008a6" stroke-width="1.35" stroke-linecap="round"/>
<line x1="482.7" y1="99.0" x2="482.0" y2="102.9" stroke="#8008a6" stroke-width="1.35" stroke-linecap="round"/>
<line x1="482.0" y1="102.9" x2="476.2" y2="104.5" stroke="#8008a6" stroke-width="1.35" stroke-linecap="round"/>
<line x1="476.2" y1="104.5" x2="475.4" y2="109.3" stroke="#8008a6" stroke-width="1.35" stroke-linecap="round"/>
<line x1="475.4" y1="109.3" x2="471.8" y2="110.0" stroke="#8008a6" stroke-width="1.35" stroke-linecap="round"/>
<line x1="471.8" y1="110.0" x2="471.1" y2="113.9" stroke="#8008a6" stroke-width="1.35" stroke-linecap="round"/>
<line x1="471.1" y1="113.9" x2="470.0" y2="114.7" stroke="#8008a6" stroke-width="1.35" stroke-linecap="round"/>
<line x1="470.0" y1="114.7" x2="462.6" y2="114.7" stroke="#8008a6" stroke-width="1.35" stroke-linecap="round"/>
<line x1="462.6" y1="114.7" x2="462.6" y2="110.4" stroke="#e16462" stroke-width="1.35" stroke-linecap="round"/>
<line x1="462.6" y1="110.4" x2="438.0" y2="110.8" stroke="#e16462" stroke-width="1.35" stroke-linecap="round"/>
<line x1="442.9" y1="115.5" x2="451.0" y2="115.5" stroke="#e16462" stroke-width="1.35" stroke-linecap="round"/>
<line x1="451.0" y1="115.5" x2="451.0" y2="119.5" stroke="#7c06a6" stroke-width="1.35" stroke-linecap="round"/>
<line x1="451.0" y1="119.5" x2="462.6" y2="120.1" stroke="#7c06a6" stroke-width="1.35" stroke-linecap="round"/>
<line x1="462.6" y1="120.1" x2="464.2" y2="124.5" stroke="#49039f" stroke-width="1.35" stroke-linecap="round"/>
<line x1="464.2" y1="124.5" x2="466.7" y2="130.0" stroke="#49039f" stroke-width="1.35" stroke-linecap="round"/>
<line x1="466.7" y1="130.0" x2="470.0" y2="133.6" stroke="#49039f" stroke-width="1.35" stroke-linecap="round"/>
<line x1="470.0" y1="133.6" x2="471.7" y2="138.1" stroke="#49039f" stroke-width="1.35" stroke-linecap="round"/>
<line x1="471.7" y1="138.1" x2="475.0" y2="142.6" stroke="#49039f" stroke-width="1.35" stroke-linecap="round"/>
<line x1="475.0" y1="142.6" x2="479.2" y2="146.2" stroke="#49039f" stroke-width="1.35" stroke-linecap="round"/>
<line x1="479.2" y1="146.2" x2="482.5" y2="150.7" stroke="#49039f" stroke-width="1.35" stroke-linecap="round"/>
<line x1="482.5" y1="150.7" x2="484.3" y2="153.4" stroke="#49039f" stroke-width="1.35" stroke-linecap="round"/>
<line x1="484.3" y1="153.4" x2="485.6" y2="157.4" stroke="#49039f" stroke-width="1.35" stroke-linecap="round"/>
<line x1="485.6" y1="157.4" x2="486.8" y2="165.6" stroke="#49039f" stroke-width="1.35" stroke-linecap="round"/>
<line x1="486.8" y1="165.6" x2="485.6" y2="171.0" stroke="#d6566d" stroke-width="1.35" stroke-linecap="round"/>
<line x1="485.6" y1="171.0" x2="484.9" y2="176.2" stroke="#d6566d" stroke-width="1.35" stroke-linecap="round"/>
<line x1="484.9" y1="176.2" x2="465.6" y2="176.2" stroke="#d6566d" stroke-width="1.35" stroke-linecap="round"/>
<line x1="465.6" y1="176.2" x2="465.1" y2="172.4" stroke="#d6566d" stroke-width="1.35" stroke-linecap="round"/>
<line x1="465.1" y1="172.4" x2="463.0" y2="172.4" stroke="#d6566d" stroke-width="1.35" stroke-linecap="round"/>
<line x1="463.0" y1="172.4" x2="460.6" y2="175.7" stroke="#d6566d" stroke-width="1.35" stroke-linecap="round"/>
<line x1="460.6" y1="175.7" x2="459.9" y2="171.6" stroke="#d6566d" stroke-width="1.35" stroke-linecap="round"/>
<line x1="459.9" y1="171.6" x2="454.3" y2="171.0" stroke="#d6566d" stroke-width="1.35" stroke-linecap="round"/>
<line x1="454.3" y1="171.0" x2="451.8" y2="165.6" stroke="#d6566d" stroke-width="1.35" stroke-linecap="round"/>
<line x1="451.8" y1="165.6" x2="449.9" y2="160.1" stroke="#7103a7" stroke-width="1.35" stroke-linecap="round"/>
<line x1="449.9" y1="160.1" x2="446.8" y2="153.4" stroke="#7103a7" stroke-width="1.35" stroke-linecap="round"/>
<line x1="446.8" y1="153.4" x2="445.4" y2="147.8" stroke="#7103a7" stroke-width="1.35" stroke-linecap="round"/>
<line x1="445.4" y1="147.8" x2="444.1" y2="143.8" stroke="#7103a7" stroke-width="1.35" stroke-linecap="round"/>
<line x1="444.1" y1="143.8" x2="442.9" y2="141.1" stroke="#7103a7" stroke-width="1.35" stroke-linecap="round"/>
<line x1="442.9" y1="141.1" x2="439.8" y2="139.7" stroke="#7103a7" stroke-width="1.35" stroke-linecap="round"/>
<line x1="439.8" y1="139.7" x2="439.1" y2="130.3" stroke="#7103a7" stroke-width="1.35" stroke-linecap="round"/>
<line x1="439.1" y1="130.3" x2="440.4" y2="124.2" stroke="#7103a7" stroke-width="1.35" stroke-linecap="round"/>
<line x1="440.4" y1="124.2" x2="442.9" y2="123.6" stroke="#d6566d" stroke-width="1.35" stroke-linecap="round"/>
<line x1="442.9" y1="123.6" x2="442.9" y2="115.5" stroke="#d6566d" stroke-width="1.35" stroke-linecap="round"/>
<line x1="499.3" y1="154.7" x2="517.1" y2="155.5" stroke="#8008a6" stroke-width="1.35" stroke-linecap="round"/>
<line x1="517.1" y1="155.5" x2="517.9" y2="158.8" stroke="#ef7e50" stroke-width="1.35" stroke-linecap="round"/>
<line x1="517.9" y1="158.8" x2="519.4" y2="158.8" stroke="#ef7e50" stroke-width="1.35" stroke-linecap="round"/>
<line x1="519.4" y1="158.8" x2="520.6" y2="162.8" stroke="#ef7e50" stroke-width="1.35" stroke-linecap="round"/>
<line x1="520.6" y1="162.8" x2="518.7" y2="167.0" stroke="#ef7e50" stroke-width="1.35" stroke-linecap="round"/>
<line x1="518.7" y1="167.0" x2="516.8" y2="172.4" stroke="#dd5e66" stroke-width="1.35" stroke-linecap="round"/>
<line x1="516.8" y1="172.4" x2="515.6" y2="176.4" stroke="#dd5e66" stroke-width="1.35" stroke-linecap="round"/>
<line x1="515.6" y1="176.4" x2="511.2" y2="177.0" stroke="#dd5e66" stroke-width="1.35" stroke-linecap="round"/>
<line x1="511.2" y1="177.0" x2="509.9" y2="180.5" stroke="#dd5e66" stroke-width="1.35" stroke-linecap="round"/>
<line x1="509.9" y1="180.5" x2="498.7" y2="179.7" stroke="#dd5e66" stroke-width="1.35" stroke-linecap="round"/>
<line x1="498.7" y1="179.7" x2="497.4" y2="173.7" stroke="#dd5e66" stroke-width="1.35" stroke-linecap="round"/>
<line x1="497.4" y1="173.7" x2="495.6" y2="169.7" stroke="#dd5e66" stroke-width="1.35" stroke-linecap="round"/>
<line x1="495.6" y1="169.7" x2="493.7" y2="165.6" stroke="#7c06a6" stroke-width="1.35" stroke-linecap="round"/>
<line x1="493.7" y1="165.6" x2="494.3" y2="162.8" stroke="#8008a6" stroke-width="1.35" stroke-linecap="round"/>
<line x1="494.3" y1="162.8" x2="496.8" y2="158.1" stroke="#ea7456" stroke-width="1.35" stroke-linecap="round"/>
<line x1="496.8" y1="158.1" x2="499.3" y2="154.7" stroke="#ea7456" stroke-width="1.35" stroke-linecap="round"/>
<path d="M284.2 30.3 L294.6 30.3 L294.6 34.7 L295.0 36.6 L294.2 38.4 L294.2 42.9 L299.2 43.3 L299.2 46.3 L314.7 46.3 L314.7 42.9 L323.0 42.9 L323.0 46.9 L324.7 46.9 L324.7 51.4 L326.3 51.4 L326.3 59.4 L331.3 59.4 L331.3 64.0 L347.1 64.0 L347.1 67.5 L352.9 67.5 L352.9 72.1 L357.1 72.1 L357.1 76.5 L362.1 76.5 L362.1 81.0 L366.3 81.0 L366.3 85.6 L367.9 85.6 L367.9 90.0 L372.1 90.0 L372.1 93.6 L375.4 93.6 L375.4 98.1 L372.1 98.1 L372.1 103.6 L370.4 103.6 L369.6 106.6 L368.1 111.9 L367.0 113.5 L365.9 116.2 L365.5 125.3 L375.7 125.3 L376.1 132.3 L375.0 133.2 L374.6 137.1 L373.6 137.9 L373.2 142.8 L375.4 146.2 L375.4 155.3 L372.9 156.1 L372.1 158.7 L369.6 159.6 L368.8 162.4 L362.1 163.3 L361.3 171.4 L357.1 175.8 L356.3 180.4 L333.3 180.5 L332.7 176.4 L323.9 176.4 L323.3 180.5 L316.4 181.1 L315.8 185.1 L311.4 185.1 L308.9 189.2 L308.3 193.4 L290.4 193.4 L290.2 189.9 L284.5 189.2 L284.5 185.1 L278.3 185.1 L278.3 189.2 L241.4 189.2 L241.4 185.1 L237.7 184.5 L237.7 172.4 L235.1 167.2 L234.7 162.8 L232.5 162.4 L232.5 145.7 L220.6 145.7 L220.0 141.1 L218.8 139.7 L218.8 129.0 L220.0 127.6 L220.6 119.5 L220.6 114.0 L218.8 107.3 L218.8 99.2 L217.5 97.9 L217.5 94.6 L221.3 93.8 L221.3 90.5 L223.7 89.8 L223.9 82.0 L228.5 82.0 L229.4 77.6 L236.9 77.6 L236.9 68.6 L240.0 68.6 L240.5 64.6 L241.5 55.6 L249.3 55.6 L249.9 59.6 L256.1 59.6 L257.1 47.2 L257.6 43.3 L268.4 43.3 L268.4 38.8 L279.7 38.8 L280.1 41.6 L282.2 42.4 L282.6 34.3 L284.2 33.9 Z M268.4 112.2 L273.5 111.5 L274.2 107.4 L277.8 107.4 L278.5 111.5 L285.8 111.5 L286.6 107.4 L298.9 107.4 L299.7 110.6 L301.8 111.5 L302.6 114.6 L308.4 115.3 L309.1 118.5 L317.1 119.2 L318.6 121.6 L319.3 128.8 L322.9 129.5 L322.9 133.4 L320.0 134.3 L319.3 137.4 L314.9 138.2 L313.5 142.1 L300.4 142.9 L299.7 144.5 L298.2 145.3 L291.6 146.1 L290.2 150.0 L288.0 152.3 L285.8 154.7 L283.6 158.6 L282.2 155.5 L280.7 152.3 L278.5 147.6 L275.6 144.5 L273.5 140.6 L270.5 138.2 L268.4 135.0 L265.4 131.9 L264.7 120.1 L266.9 116.1 Z" fill="#eaf5f4" fill-rule="evenodd"/>
<g clip-path="url(#clipBL)">
<path d="M230.1 110.8L220.6 120.0L220.6 116.0L230.1 110.0ZM230.1 110.0L220.6 116.0L220.3 113.0L230.1 109.2ZM230.1 109.2L220.3 113.0L219.7 110.7L230.1 108.4ZM230.1 108.4L219.7 110.7L219.1 108.5L230.1 107.6ZM230.1 107.6L219.1 108.5L218.8 106.8L230.1 106.8ZM230.1 106.8L218.8 106.8L218.8 106.0L230.1 106.0ZM354.2 113.4L365.7 121.2L365.7 121.0L353.8 114.1ZM353.8 114.1L365.7 121.0L365.7 120.8L353.4 114.8ZM353.4 114.8L365.7 120.8L365.7 120.5L353.0 115.4ZM353.0 115.4L365.7 120.5L365.7 120.2L352.5 116.1ZM352.5 116.1L365.7 120.2L365.7 120.2L352.4 116.9ZM352.4 116.9L365.7 120.2L365.7 120.2L352.4 117.7ZM352.4 117.7L365.7 120.2L365.7 120.2L352.4 118.5ZM352.4 118.5L365.7 120.2L365.7 120.2L352.4 119.3ZM352.4 119.3L365.7 120.2L365.7 120.3L352.4 120.1ZM352.4 120.1L365.7 120.3L365.7 120.9L352.4 120.9ZM352.4 120.9L365.7 120.9L365.7 121.7L352.4 121.7ZM352.4 121.7L365.7 121.7L365.6 122.5L352.4 122.5ZM352.4 122.5L365.6 122.5L365.6 123.3L352.4 123.3ZM352.4 123.3L365.6 123.3L365.6 123.4L352.4 124.1ZM352.4 124.1L365.6 123.4L365.6 122.5L352.4 124.9ZM352.4 124.9L365.6 122.5L365.7 121.2L352.4 125.7ZM352.4 125.7L365.7 121.2L365.8 119.3L352.4 126.5ZM352.4 126.5L365.8 119.3L365.9 116.2L352.4 127.3ZM352.8 127.7L366.7 110.6L364.0 108.3L353.6 127.7ZM353.6 127.7L364.0 108.3L361.3 106.8L354.4 127.7ZM354.4 127.7L361.3 106.8L359.0 106.0L355.2 127.7ZM355.2 127.7L359.0 106.0L357.1 105.7L356.0 127.7ZM356.0 127.7L357.1 105.7L358.6 105.8L356.8 127.7ZM356.8 127.7L358.6 105.8L362.2 106.2L357.6 127.7ZM357.6 127.7L362.2 106.2L366.2 107.1L358.4 127.7ZM359.2 127.7L365.9 116.6L365.7 121.4L360.0 127.7ZM360.0 127.7L365.7 121.4L365.5 124.3L360.2 128.3ZM360.2 128.3L365.5 124.3L368.1 125.3L360.2 129.1ZM360.2 129.9L375.7 125.4L375.9 128.5L360.2 130.7ZM360.2 130.7L375.9 128.5L375.9 129.3L360.2 131.5ZM360.2 131.5L375.9 129.3L375.9 128.4L360.2 132.3ZM360.2 132.3L375.9 128.4L375.8 127.9L360.2 133.1ZM360.2 133.1L375.8 127.9L375.9 128.7L360.2 133.9ZM360.2 133.9L375.9 128.7L375.9 129.4L360.2 134.7ZM360.2 134.7L375.9 129.4L376.0 129.7L361.0 134.7ZM361.0 134.7L376.0 129.7L376.0 130.0L361.8 134.7ZM361.8 134.7L376.0 130.0L376.0 130.5L362.2 135.1ZM362.2 135.1L376.0 130.5L376.0 131.3L362.2 135.9ZM362.2 135.9L376.0 131.3L376.1 132.1L362.2 136.7ZM362.2 136.7L376.1 132.1L374.9 134.5L362.2 137.5ZM362.2 137.5L374.9 134.5L374.8 135.4L362.2 138.3ZM362.2 138.3L374.8 135.4L374.6 136.9L362.2 139.1ZM362.2 139.1L374.6 136.9L373.6 137.9L362.2 139.9ZM362.2 139.9L373.6 137.9L373.5 138.7L362.2 140.7ZM362.2 140.7L373.5 138.7L373.5 139.3L362.5 141.2ZM362.5 141.2L373.5 139.3L373.5 139.4L363.3 141.2ZM363.3 141.2L373.5 139.4L373.4 140.1L363.4 141.9ZM255.2 114.7L251.0 119.9L248.3 119.7L254.7 114.4ZM254.7 114.4L248.3 119.7L247.5 119.7L254.7 113.6ZM254.7 113.6L247.5 119.7L246.6 119.7L254.7 112.8ZM254.7 112.8L246.6 119.7L245.8 119.6L254.7 112.0ZM254.7 112.0L245.8 119.6L244.9 119.6L254.7 111.2ZM254.7 111.2L244.9 119.6L245.7 119.6L254.7 110.4ZM254.7 110.4L245.7 119.6L247.9 119.7L253.9 110.4ZM253.9 110.4L247.9 119.7L249.3 119.8L253.1 110.4ZM253.1 110.4L249.3 119.8L250.1 119.8L252.3 110.4ZM252.3 110.4L250.1 119.8L250.6 119.9L251.5 110.4ZM251.5 110.4L250.6 119.9L250.9 119.9L250.7 110.4ZM250.7 110.4L250.9 119.9L250.1 119.8L249.9 110.5ZM249.9 110.5L250.1 119.8L249.2 119.8L249.1 110.5ZM249.1 110.5L249.2 119.8L248.4 119.8L248.3 110.5ZM248.3 110.5L248.4 119.8L247.6 119.7L247.5 110.5ZM247.5 110.5L247.6 119.7L246.8 119.7L246.7 110.5ZM246.7 110.5L246.8 119.7L246.0 119.6L245.9 110.5ZM245.9 110.5L246.0 119.6L245.2 119.6L245.1 110.5ZM245.1 110.5L245.2 119.6L244.4 119.5L244.3 110.6ZM244.3 110.6L244.4 119.5L243.6 119.5L243.5 110.6ZM243.5 110.6L243.6 119.5L242.8 115.5L242.7 110.6ZM242.7 110.6L242.8 115.5L242.0 115.5L241.9 110.6ZM241.9 110.6L242.0 115.5L241.2 115.5L241.1 110.6ZM241.1 110.6L241.2 115.5L240.4 115.5L240.3 110.6ZM240.3 110.6L240.4 115.5L239.6 115.5L239.5 110.6ZM239.5 110.6L239.6 115.5L238.8 115.5L238.7 110.6ZM238.7 110.6L238.8 115.5L238.0 115.5L237.9 110.7ZM237.9 110.7L238.0 115.5L237.2 115.5L237.1 110.7ZM237.1 110.7L237.2 115.5L236.4 115.5L236.3 110.7ZM236.3 110.7L236.4 115.5L235.6 115.5L235.5 110.7ZM234.7 110.7L234.9 123.6L234.1 123.8L233.9 110.7ZM233.1 110.7L231.0 132.6L227.1 132.2L232.3 110.8ZM232.3 110.8L227.1 132.2L222.8 131.0L231.5 110.8ZM235.0 115.5L231.0 110.8L233.2 110.7L235.8 115.5ZM235.8 115.5L233.2 110.7L235.1 110.7L236.6 115.5ZM236.6 115.5L235.1 110.7L236.6 110.7L237.4 115.5ZM237.4 115.5L236.6 110.7L238.1 110.7L238.2 115.5ZM238.2 115.5L238.1 110.7L239.0 110.6L239.0 115.5ZM239.0 115.5L239.0 110.6L240.3 110.6L239.8 115.5ZM239.8 115.5L240.3 110.6L241.7 110.6L240.6 115.5ZM240.6 115.5L241.7 110.6L243.4 110.6L241.4 115.5ZM241.4 115.5L243.4 110.6L245.3 110.5L242.2 115.5ZM242.2 115.5L245.3 110.5L247.7 110.5L243.0 115.5ZM243.0 115.5L247.7 110.5L248.8 110.5L243.1 116.2ZM243.1 116.2L248.8 110.5L249.7 110.5L243.1 117.0Z" fill="#e46a5d" fill-opacity="0.85" stroke="#e46a5d" stroke-width="0.3"/>
<path d="M230.1 106.0L218.8 106.0L218.8 105.2L230.1 105.2ZM230.1 105.2L218.8 105.2L218.8 104.4L230.1 104.4ZM230.1 104.4L218.8 104.4L218.8 103.6L230.1 103.6ZM230.1 103.6L218.8 103.6L218.8 102.8L230.1 102.8ZM230.1 102.8L218.8 102.8L218.8 102.0L230.1 102.0ZM230.1 102.0L218.8 102.0L218.8 101.2L230.1 101.2ZM230.1 101.2L218.8 101.2L218.8 100.4L230.1 100.4ZM230.1 100.4L218.8 100.4L218.8 99.6L230.1 99.6ZM230.1 99.6L218.8 99.6L218.4 98.8L230.1 98.8ZM230.1 98.8L218.4 98.8L217.6 98.0L230.1 98.0ZM230.1 98.0L217.6 98.0L217.5 97.2L230.1 97.2ZM230.1 97.2L217.5 97.2L217.5 96.4L230.1 96.4ZM230.1 96.4L217.5 96.4L217.5 95.6L230.1 95.6ZM230.1 95.6L217.5 95.6L217.5 94.8L230.1 94.8ZM230.1 94.8L217.5 94.8L220.4 94.0L230.1 94.0ZM230.1 94.0L220.4 94.0L221.3 93.2L230.1 93.2ZM230.1 93.2L221.3 93.2L221.3 92.4L230.1 92.4ZM230.1 92.4L221.3 92.4L221.3 91.6L230.1 91.6ZM230.1 91.6L221.3 91.6L221.3 90.8L230.1 90.8ZM230.1 90.8L221.3 90.8L223.0 90.0L230.1 90.0ZM230.1 90.0L223.0 90.0L223.7 89.2L230.1 89.2ZM230.1 89.2L223.7 89.2L223.7 88.4L230.1 88.4ZM230.1 88.4L223.7 88.4L223.8 87.6L230.1 87.6ZM230.1 87.6L223.8 87.6L223.8 86.8L230.1 86.8ZM230.1 86.8L223.8 86.8L223.8 86.0L230.1 86.0ZM230.1 86.0L223.8 86.0L223.8 85.2L230.1 85.2ZM230.1 85.2L223.8 85.2L223.8 84.2L230.1 84.4ZM230.1 84.4L223.8 84.2L223.9 82.7L230.1 83.6ZM230.1 83.6L223.9 82.7L227.4 82.0L230.1 82.8ZM230.1 82.8L227.4 82.0L228.6 81.4L230.1 82.0ZM230.1 82.0L228.6 81.4L228.8 80.7L230.1 81.2ZM230.1 81.2L228.8 80.7L228.9 80.0L230.3 80.6ZM230.3 80.6L228.9 80.0L229.0 79.7L231.1 80.6ZM231.1 80.6L229.0 79.7L229.0 79.4L231.9 80.6ZM231.9 80.6L229.0 79.4L229.1 79.0L232.4 80.3ZM232.4 80.3L229.1 79.0L229.3 78.0L232.4 79.5ZM232.4 79.5L229.3 78.0L230.8 77.6L232.4 78.7ZM232.4 78.7L230.8 77.6L231.9 77.6L232.4 77.9ZM243.5 68.2L240.5 65.0L240.6 63.7L243.9 67.8ZM243.9 67.8L240.6 63.7L240.8 61.7L244.7 67.8ZM244.7 67.8L240.8 61.7L240.9 60.6L245.5 67.8ZM245.5 67.8L240.9 60.6L241.1 59.5L246.3 67.8ZM246.3 67.8L241.1 59.5L241.2 58.4L247.1 67.8ZM247.1 67.8L241.2 58.4L241.1 58.9L247.9 67.8ZM247.9 67.8L241.1 58.9L241.2 58.1L248.4 67.5ZM248.4 67.5L241.2 58.1L241.3 57.4L248.4 66.7ZM248.4 66.7L241.3 57.4L241.4 56.7L248.4 65.9ZM248.4 65.9L241.4 56.7L241.5 56.0L248.4 65.1ZM248.4 65.1L241.5 56.0L241.8 55.6L248.5 64.4ZM248.5 64.4L241.8 55.6L241.7 55.6L249.3 64.4ZM249.3 64.4L241.7 55.6L242.5 55.6L250.1 64.4ZM250.1 64.4L242.5 55.6L243.3 55.6L250.9 64.4ZM250.9 64.4L243.3 55.6L244.1 55.6L251.7 64.4ZM251.7 64.4L244.1 55.6L244.6 55.6L252.5 64.4ZM252.5 64.4L244.6 55.6L244.5 55.6L252.7 63.8ZM252.7 63.8L244.5 55.6L245.3 55.6L252.7 63.0ZM252.7 62.2L250.1 59.6L250.9 59.6L252.7 61.4ZM252.7 61.4L250.9 59.6L251.7 59.6L252.7 60.6ZM252.7 60.6L251.7 59.6L252.7 59.6L253.3 60.4ZM253.3 60.4L252.7 59.6L253.8 59.6L254.1 60.4ZM254.1 60.4L253.8 59.6L254.9 59.6L254.9 60.4ZM254.9 60.4L254.9 59.6L256.0 59.6L255.7 60.4ZM256.5 60.4L266.0 43.3L267.0 43.3L256.9 60.8ZM256.9 60.8L267.0 43.3L267.4 43.3L256.9 61.6ZM256.9 61.6L267.4 43.3L267.9 43.3L256.9 62.4ZM256.9 62.4L267.9 43.3L267.9 44.1L256.9 63.2ZM256.9 63.2L267.9 44.1L268.5 44.2L257.6 63.3ZM257.6 63.3L268.5 44.2L267.6 43.4L258.4 63.3ZM258.4 63.3L267.6 43.4L264.7 43.3L259.2 63.3ZM259.2 63.3L264.7 43.3L262.6 43.3L260.0 63.3Z" fill="#d6566d" fill-opacity="0.85" stroke="#d6566d" stroke-width="0.3"/>
<path d="M237.6 75.9L236.9 75.1L237.2 74.7L237.9 75.4ZM237.9 75.4L237.2 74.7L237.2 73.9L237.9 74.6ZM237.9 74.6L237.2 73.9L237.2 73.1L237.9 73.8ZM237.9 73.8L237.2 73.1L237.2 72.3L237.9 73.0ZM237.9 73.0L237.2 72.3L237.2 71.5L237.9 72.2ZM237.9 72.2L237.2 71.5L237.6 71.0L238.2 71.7ZM238.2 71.7L237.6 71.0L238.6 70.9L239.0 71.7ZM239.0 71.7L238.6 70.9L239.4 70.8L239.8 71.7ZM239.8 71.7L239.4 70.8L240.2 70.8L240.6 71.7ZM240.6 71.7L240.2 70.8L241.0 70.8L241.4 71.7ZM241.4 71.7L241.0 70.8L241.8 70.9L242.2 71.7ZM242.2 71.7L241.8 70.9L242.4 71.0L243.0 71.7ZM243.0 71.7L242.4 71.0L242.8 70.7L243.5 71.4ZM243.5 71.4L242.8 70.7L242.8 69.9L243.5 70.6ZM243.5 70.6L242.8 69.9L242.8 69.1L243.5 69.8ZM243.5 69.8L242.8 69.1L242.8 68.3L243.5 69.0ZM243.5 69.0L242.8 68.3L240.5 65.0L243.5 68.2ZM316.3 51.3L317.1 50.8L317.4 51.5L316.5 52.0ZM316.5 52.0L317.4 51.5L317.5 52.2L316.7 52.8ZM316.7 52.8L317.5 52.2L317.7 53.0L316.9 53.6ZM316.9 53.6L317.7 53.0L318.0 53.9L317.1 54.4ZM317.1 54.4L318.0 53.9L318.3 54.8L317.3 55.1ZM317.3 55.1L318.3 54.8L318.8 55.4L317.9 55.7ZM317.9 55.7L318.8 55.4L319.4 56.0L318.4 56.3Z" fill="#370599" fill-opacity="0.85" stroke="#370599" stroke-width="0.3"/>
<path d="M260.0 63.3L262.6 43.3L261.1 43.3L260.8 63.3ZM260.8 63.3L261.1 43.3L261.6 43.3L261.6 63.3ZM261.6 63.3L261.6 43.3L262.8 43.3L262.4 63.3ZM262.4 63.3L262.8 43.3L265.9 43.3L263.2 63.3ZM263.2 63.3L265.9 43.3L269.9 42.1L264.0 63.3ZM263.3 55.4L252.1 74.4L248.0 71.9L262.5 55.4ZM262.2 54.9L256.1 59.6L256.4 56.5L262.2 54.1ZM262.2 54.1L256.4 56.5L256.6 53.6L262.2 53.3ZM262.2 53.3L256.6 53.6L256.8 50.8L262.2 52.5ZM262.2 52.5L256.8 50.8L257.0 48.1L262.2 51.7ZM262.2 51.7L257.0 48.1L257.3 45.7L262.3 51.1ZM262.3 51.1L257.3 45.7L258.3 43.3L263.1 51.1ZM263.1 51.1L258.3 43.3L260.9 43.3L263.9 51.1Z" fill="#cc4778" fill-opacity="0.85" stroke="#cc4778" stroke-width="0.3"/>
<path d="M264.0 63.3L269.9 42.1L274.1 43.4L264.8 63.3ZM264.8 63.3L274.1 43.4L278.4 45.5L265.6 63.3ZM265.6 63.3L278.4 45.5L282.4 48.5L266.2 63.5ZM266.2 63.5L282.4 48.5L285.0 52.8L266.2 64.3ZM266.2 64.3L285.0 52.8L286.7 57.1L266.2 65.1ZM266.2 65.1L286.7 57.1L287.7 61.1L266.2 65.9ZM266.2 65.9L287.7 61.1L288.1 64.7L266.2 66.7ZM266.2 66.7L288.1 64.7L288.2 67.5L266.2 67.5ZM266.2 67.5L288.2 67.5L288.2 68.3L266.2 68.3ZM266.2 68.3L288.2 68.3L288.2 68.1L266.2 69.1ZM266.2 69.1L288.2 68.1L287.9 66.2L266.2 69.9ZM266.2 69.9L287.9 66.2L287.1 63.9L266.2 70.7ZM266.2 70.7L287.1 63.9L285.7 61.3L266.2 71.5ZM266.2 71.5L285.7 61.3L283.4 58.6L266.2 72.3ZM266.2 72.3L283.4 58.6L280.7 55.9L266.5 72.7ZM266.5 72.7L280.7 55.9L278.0 53.5L267.3 72.7ZM267.3 72.7L278.0 53.5L275.3 51.9L268.1 72.7ZM268.1 72.7L275.3 51.9L273.0 51.1L268.9 72.7ZM268.9 72.7L273.0 51.1L271.1 50.8L269.7 72.7ZM269.7 72.7L271.1 50.8L270.1 50.7L270.5 72.7ZM270.5 72.7L270.1 50.7L268.4 50.9L271.3 72.7ZM271.3 72.7L268.4 50.9L266.2 51.5L272.1 72.7ZM272.1 72.7L266.2 51.5L263.6 52.8L272.9 72.7ZM272.9 72.7L263.6 52.8L260.9 54.8L273.7 72.7ZM273.7 72.7L260.9 54.8L258.3 57.6L274.4 72.6ZM274.4 72.6L258.3 57.6L255.7 60.2L274.4 71.8ZM274.4 71.8L255.7 60.2L253.9 62.9L274.4 71.0ZM274.4 71.0L253.9 62.9L252.9 65.4L274.4 70.2ZM274.4 70.2L252.9 65.4L252.6 66.1L274.4 69.4ZM274.4 69.4L252.6 66.1L252.6 65.8L274.4 68.6ZM274.4 68.6L252.6 65.8L252.8 63.4L274.4 67.8ZM274.4 67.8L252.8 63.4L253.3 60.9L274.4 67.0ZM274.4 67.0L253.3 60.9L256.0 59.6L274.4 66.2ZM274.4 66.2L256.0 59.6L256.2 58.9L274.8 65.5ZM274.8 65.5L256.2 58.9L256.2 58.1L275.4 65.0ZM275.4 65.0L256.2 58.1L256.3 57.4L275.9 64.4ZM275.9 64.4L256.3 57.4L256.3 56.6L276.5 63.8ZM276.5 63.8L256.3 56.6L256.4 55.9L276.9 63.1ZM276.9 63.1L256.4 55.9L256.2 57.8L276.9 62.3ZM276.9 62.3L256.2 57.8L254.9 61.2L276.9 61.5ZM276.9 61.5L254.9 61.2L255.5 65.7L276.9 60.7ZM276.9 60.7L255.5 65.7L257.5 70.4L276.9 59.9ZM276.9 59.9L257.5 70.4L260.7 74.0L276.9 59.1ZM276.9 59.1L260.7 74.0L262.8 76.4L276.3 59.0ZM276.3 59.0L262.8 76.4L262.1 76.4L275.5 59.0ZM275.5 59.0L262.1 76.4L261.4 76.5L274.7 59.0ZM274.7 59.0L261.4 76.5L260.7 76.6L273.9 59.0ZM273.9 59.0L260.7 76.6L260.3 76.8L273.1 59.0ZM273.1 59.0L260.3 76.8L260.3 77.2L272.4 58.8ZM272.4 58.8L260.3 77.2L260.1 76.4L272.3 58.1ZM272.3 58.1L260.1 76.4L260.0 75.5L272.3 57.3ZM272.3 57.3L260.0 75.5L259.9 74.7L272.2 56.5ZM272.2 56.5L259.9 74.7L259.7 73.9L272.1 55.7ZM272.1 55.7L259.7 73.9L259.4 74.2L271.3 55.7ZM271.3 55.7L259.4 74.2L261.8 75.9L270.5 55.7ZM270.5 55.7L261.8 75.9L264.1 76.9L269.7 55.6ZM269.7 55.6L264.1 76.9L266.1 77.4L268.9 55.6ZM268.9 55.6L266.1 77.4L267.4 77.6L268.1 55.6ZM268.1 55.6L267.4 77.6L266.6 77.6L267.3 55.6ZM267.3 55.6L266.6 77.6L265.8 77.5L266.5 55.5ZM266.5 55.5L265.8 77.5L263.7 77.4L265.7 55.5ZM265.7 55.5L263.7 77.4L260.2 77.0L264.9 55.5ZM264.9 55.5L260.2 77.0L256.3 76.0L264.1 55.5ZM264.1 55.5L256.3 76.0L252.1 74.4L263.3 55.4ZM263.9 51.1L260.9 43.3L262.1 43.3L264.7 51.1ZM264.7 51.1L262.1 43.3L262.9 43.3L265.5 51.1ZM265.5 51.1L262.9 43.3L263.5 43.3L266.3 51.1ZM266.3 51.1L263.5 43.3L262.6 43.3L267.1 51.1ZM267.1 51.1L262.6 43.3L261.1 43.3L267.9 51.1ZM267.9 51.1L261.1 43.3L258.7 43.3L268.2 50.5ZM268.2 50.5L258.7 43.3L259.7 43.3L268.2 49.7ZM268.2 49.7L259.7 43.3L260.8 43.3L268.2 48.9ZM268.2 48.9L260.8 43.3L261.8 43.3L268.2 48.1ZM268.2 48.1L261.8 43.3L262.9 43.3L268.2 47.3ZM268.2 47.3L262.9 43.3L264.9 43.3L268.2 46.5ZM268.2 46.5L264.9 43.3L266.8 43.3L269.0 46.5ZM269.0 46.5L266.8 43.3L268.4 43.3L269.8 46.5ZM269.8 46.5L268.4 43.3L268.7 38.8L270.6 46.5ZM270.6 46.5L268.7 38.8L270.5 38.8L271.4 46.5ZM271.4 46.5L270.5 38.8L272.2 38.8L272.2 46.5ZM272.2 46.5L272.2 38.8L273.0 38.8L273.0 46.5ZM273.0 46.5L273.0 38.8L273.8 38.8L273.8 46.5ZM273.8 46.5L273.8 38.8L274.6 38.8L274.6 46.5ZM274.6 46.5L274.6 38.8L275.9 38.8L275.4 46.5ZM275.4 46.5L275.9 38.8L277.7 38.8L276.2 46.5ZM276.2 46.5L277.7 38.8L279.7 38.9L277.0 46.5ZM277.0 46.5L279.7 38.9L280.5 41.7L277.8 46.5ZM277.8 46.5L280.5 41.7L282.1 42.4L278.6 46.5ZM278.9 47.0L293.7 30.7L293.8 31.6L278.9 47.8ZM278.9 47.8L293.8 31.6L293.9 32.5L278.9 48.6ZM278.9 48.6L293.9 32.5L294.0 33.4L278.9 49.4ZM278.9 49.4L294.0 33.4L294.1 34.3L278.9 50.2ZM278.9 50.2L294.1 34.3L292.9 32.8L279.6 50.4ZM279.6 50.4L292.9 32.8L290.4 30.8L280.4 50.4ZM280.4 50.4L290.4 30.8L287.7 30.3L281.2 50.4ZM281.2 50.4L287.7 30.3L285.7 30.3L282.0 50.5ZM282.0 50.5L285.7 30.3L283.9 33.9L282.8 50.5ZM282.8 50.5L283.9 33.9L284.7 30.3L283.6 50.6ZM283.6 50.6L284.7 30.3L285.5 30.3L284.4 50.6ZM284.4 50.6L285.5 30.3L286.3 30.3L285.2 50.7ZM285.2 50.7L286.3 30.3L287.1 30.3L286.0 50.7ZM296.5 50.7L295.5 43.0L295.6 43.0L297.3 50.7ZM297.3 50.7L295.6 43.0L295.4 43.0L298.1 50.6ZM298.1 50.6L295.4 43.0L295.4 43.0L298.9 50.6ZM298.9 50.6L295.4 43.0L295.4 43.0L299.7 50.5ZM299.7 50.5L295.4 43.0L295.7 43.0L300.2 50.0ZM300.2 50.0L295.7 43.0L296.5 43.1L300.5 49.3ZM300.5 49.3L296.5 43.1L299.4 46.3L300.8 48.5ZM300.8 48.5L299.4 46.3L300.2 46.3L301.2 47.9ZM301.2 47.9L300.2 46.3L301.2 46.3L301.8 47.3ZM301.8 47.3L301.2 46.3L302.1 46.3L302.4 47.0ZM302.4 47.0L302.1 46.3L303.0 46.3L303.2 47.0ZM303.2 47.0L303.0 46.3L303.9 46.3L304.0 46.9ZM304.0 46.9L303.9 46.3L304.7 46.3L304.8 46.9ZM304.8 46.9L304.7 46.3L305.6 46.3L305.6 46.9ZM305.6 46.9L305.6 46.3L306.4 46.3L306.4 46.9ZM306.4 46.9L306.4 46.3L307.2 46.3L307.2 46.9ZM307.2 46.9L307.2 46.3L308.0 46.3L308.0 46.9ZM308.0 46.9L308.0 46.3L308.8 46.3L308.8 46.9ZM308.8 46.9L308.8 46.3L309.7 46.3L309.6 46.9ZM309.6 46.9L309.7 46.3L310.5 46.3L310.4 46.9ZM310.4 46.9L310.5 46.3L311.4 46.3L311.2 46.9ZM311.2 46.9L311.4 46.3L312.3 46.3L312.0 46.9ZM312.0 46.9L312.3 46.3L313.2 46.3L312.8 46.9ZM312.8 46.9L313.2 46.3L314.0 46.3L313.2 47.5ZM313.2 47.5L314.0 46.3L317.8 42.9L313.3 48.2ZM313.3 48.2L317.8 42.9L319.0 42.9L313.5 49.0ZM313.5 49.0L319.0 42.9L321.7 42.9L313.7 49.8ZM313.7 49.8L321.7 42.9L323.0 44.6L314.0 50.5ZM314.0 50.5L323.0 44.6L323.0 45.8L314.8 50.8ZM314.8 50.8L323.0 45.8L323.0 46.5L315.5 51.1ZM318.9 56.9L326.3 54.9L326.3 55.9L318.9 57.7ZM318.9 57.7L326.3 55.9L326.3 56.9L318.9 58.5ZM318.9 58.5L326.3 56.9L326.3 58.3L318.9 59.3ZM318.9 59.3L326.3 58.3L330.3 59.4L318.9 60.1ZM318.9 60.1L330.3 59.4L331.3 60.9L318.9 60.9ZM318.9 60.9L331.3 60.9L331.3 61.7L318.9 61.7ZM318.9 61.7L331.3 61.7L331.3 62.5L318.9 62.5ZM318.9 62.5L331.3 62.5L331.3 62.2L318.9 63.3ZM318.9 63.3L331.3 62.2L331.3 61.4L318.9 64.1ZM318.9 64.1L331.3 61.4L331.3 60.3L318.9 64.9ZM318.9 64.9L331.3 60.3L329.8 59.4L318.9 65.7ZM318.9 65.7L329.8 59.4L327.3 59.4L318.9 66.5ZM318.9 66.5L327.3 59.4L326.3 58.5L319.5 66.7ZM319.5 66.7L326.3 58.5L326.3 56.3L320.3 66.8ZM320.3 66.8L326.3 56.3L326.3 53.2L321.1 66.9ZM321.1 66.9L326.3 53.2L325.5 51.4L321.9 66.9ZM321.9 66.9L325.5 51.4L324.7 49.8L322.7 67.0ZM322.7 67.0L324.7 49.8L325.0 51.4L323.5 67.1ZM323.5 67.1L325.0 51.4L326.3 52.4L324.3 67.2ZM325.1 67.2L327.1 59.4L329.0 59.4L325.9 67.3ZM325.9 67.3L329.0 59.4L331.1 59.4L326.7 67.4ZM326.7 67.4L331.1 59.4L331.3 62.5L327.5 67.5ZM327.5 67.5L331.3 62.5L332.1 64.0L328.1 67.8ZM328.1 67.8L332.1 64.0L333.6 64.0L328.2 68.6ZM328.2 68.6L333.6 64.0L334.6 64.0L328.3 69.4ZM328.3 69.4L334.6 64.0L335.6 64.0L328.5 70.2ZM328.5 70.2L335.6 64.0L336.5 64.0L328.6 71.0ZM328.6 71.0L336.5 64.0L336.5 64.0L328.7 71.8ZM328.7 71.8L336.5 64.0L335.1 64.0L329.3 72.1ZM329.3 72.1L335.1 64.0L334.2 64.0L330.1 72.1ZM330.1 72.1L334.2 64.0L333.6 64.0L330.9 72.2ZM330.9 72.2L333.6 64.0L333.3 64.0L331.7 72.2ZM331.7 72.2L333.3 64.0L333.1 64.0L332.5 72.2ZM332.5 72.2L333.1 64.0L333.6 64.0L333.3 72.2ZM333.3 72.2L333.6 64.0L334.4 64.0L334.1 72.3ZM334.1 72.3L334.4 64.0L335.2 64.0L334.9 72.3ZM334.9 72.3L335.2 64.0L336.0 64.0L335.7 72.3ZM335.7 72.3L336.0 64.0L336.8 64.0L336.5 72.4ZM336.5 72.4L336.8 64.0L337.6 64.0L337.3 72.4ZM337.3 72.4L337.6 64.0L338.4 64.0L338.1 72.4ZM338.1 72.4L338.4 64.0L340.1 64.0L338.9 72.5ZM338.9 72.5L340.1 64.0L342.0 64.0L339.7 72.5ZM339.7 72.5L342.0 64.0L344.0 64.0L340.5 72.5ZM340.5 72.5L344.0 64.0L346.4 64.0L341.3 72.6ZM341.3 72.6L346.4 64.0L347.1 66.5L342.1 72.6ZM342.1 72.6L347.1 66.5L347.1 67.5L342.3 73.4ZM342.3 73.4L347.1 67.5L347.9 67.5L342.5 74.1ZM342.5 74.1L347.9 67.5L348.6 67.5L342.6 74.9ZM342.6 74.9L348.6 67.5L349.4 67.5L342.8 75.7ZM342.8 75.7L349.4 67.5L350.1 67.5L343.0 76.5ZM343.0 76.5L350.1 67.5L348.9 67.5L343.8 76.5ZM343.8 76.5L348.9 67.5L348.0 67.5L344.6 76.5ZM344.6 76.5L348.0 67.5L348.5 67.5L345.4 76.5ZM345.4 76.5L348.5 67.5L349.3 67.5L346.2 76.5ZM346.2 76.5L349.3 67.5L350.1 67.5L347.0 76.5ZM347.0 76.5L350.1 67.5L352.6 67.5L347.8 76.5ZM347.8 76.5L352.6 67.5L352.9 70.9L348.6 76.5ZM348.6 76.5L352.9 70.9L354.3 72.1L348.9 77.1ZM348.9 77.1L354.3 72.1L355.4 72.1L349.0 77.9ZM349.0 77.9L355.4 72.1L356.5 72.1L349.2 78.7ZM349.2 78.7L356.5 72.1L357.1 72.5L349.3 79.4ZM349.3 79.4L357.1 72.5L357.1 73.5L349.5 80.2ZM349.5 80.2L357.1 73.5L357.1 72.8L349.6 81.0ZM349.6 81.0L357.1 72.8L356.4 72.1L350.4 81.1ZM350.4 81.1L356.4 72.1L355.4 72.1L351.2 81.2ZM351.2 81.2L355.4 72.1L354.8 72.1L352.0 81.2ZM352.0 81.2L354.8 72.1L354.4 72.1L352.8 81.3ZM352.8 81.3L354.4 72.1L354.8 72.1L353.6 81.3ZM353.6 81.3L354.8 72.1L356.6 72.1L354.4 81.4ZM354.4 81.4L356.6 72.1L357.1 76.4L355.2 81.4ZM355.2 81.4L357.1 76.4L358.7 76.5L356.0 81.5ZM356.0 81.5L358.7 76.5L360.6 76.5L356.8 81.6ZM356.8 81.6L360.6 76.5L362.1 77.1L357.2 82.0ZM357.2 82.0L362.1 77.1L362.1 78.9L357.3 82.8ZM357.3 82.8L362.1 78.9L362.1 80.5L357.5 83.6ZM357.5 83.6L362.1 80.5L363.7 81.0L357.7 84.4ZM357.7 84.4L363.7 81.0L366.3 81.3L357.8 85.2ZM357.8 85.2L366.3 81.3L366.3 82.2L358.1 85.9ZM358.1 85.9L366.3 82.2L366.3 83.1L358.6 86.5ZM358.6 86.5L366.3 83.1L366.3 84.0L359.0 87.2ZM359.0 87.2L366.3 84.0L366.3 84.9L359.5 87.9ZM359.5 87.9L366.3 84.9L366.7 85.6L359.9 88.5ZM359.9 88.5L366.7 85.6L367.9 86.1L360.4 89.2ZM360.4 89.2L367.9 86.1L367.9 87.3L360.5 90.0ZM360.5 90.0L367.9 87.3L367.9 88.5L360.7 90.7ZM360.7 90.7L367.9 88.5L367.9 89.8L360.8 91.5ZM360.8 91.5L367.9 89.8L372.1 90.1L360.9 92.3ZM360.9 92.3L372.1 90.1L372.1 91.5L361.1 93.1ZM361.1 93.1L372.1 91.5L372.1 92.3L361.2 93.9ZM361.2 93.9L372.1 92.3L372.1 93.2L361.3 94.7ZM361.3 94.7L372.1 93.2L375.4 93.6L361.4 95.5ZM361.4 95.5L375.4 93.6L375.4 94.5L361.5 96.3ZM361.5 96.3L375.4 94.5L375.4 95.4L361.6 97.1ZM361.6 97.1L375.4 95.4L375.4 96.4L361.7 97.9ZM361.7 97.9L375.4 96.4L375.4 97.8L361.8 98.7ZM361.8 98.7L375.4 97.8L372.1 99.2L361.8 99.5ZM361.8 99.5L372.1 99.2L372.1 100.5L361.9 100.3ZM361.9 100.3L372.1 100.5L372.1 101.7L362.0 101.1ZM362.0 101.1L372.1 101.7L372.1 102.9L362.1 101.8ZM362.1 101.8L372.1 102.9L370.3 103.9L361.8 102.6ZM361.8 102.6L370.3 103.9L370.0 105.0L361.6 103.4ZM361.6 103.4L370.0 105.0L369.6 106.7L361.3 104.1ZM361.3 104.1L369.6 106.7L369.1 108.3L361.1 104.9ZM361.1 104.9L369.1 108.3L368.7 109.8L360.9 105.7ZM360.9 105.7L368.7 109.8L368.3 111.0L360.6 106.4ZM360.6 106.4L368.3 111.0L367.9 112.1L360.3 107.2ZM360.3 107.2L367.9 112.1L367.3 113.1L359.7 107.6ZM359.7 107.6L367.3 113.1L366.7 114.2L359.0 108.1ZM359.0 108.1L366.7 114.2L366.3 115.3L358.4 108.6ZM358.4 108.6L366.3 115.3L365.9 116.7L357.9 109.2ZM357.9 109.2L365.9 116.7L365.8 118.3L357.4 109.8ZM357.4 109.8L365.8 118.3L365.8 118.8L356.8 110.4ZM356.8 110.4L365.8 118.8L365.8 119.1L356.3 111.0ZM356.3 111.0L365.8 119.1L365.7 119.8L355.8 111.6ZM355.8 111.6L365.7 119.8L365.7 120.5L355.2 112.2ZM355.2 112.2L365.7 120.5L365.7 121.2L354.7 112.8ZM354.7 112.8L365.7 121.2L365.7 121.2L354.2 113.4ZM363.4 141.9L373.4 140.1L373.4 140.9L363.4 142.7ZM363.4 142.7L373.4 140.9L373.3 141.7L363.4 143.5ZM363.4 143.5L373.3 141.7L373.3 143.0L363.4 144.3ZM363.4 144.3L373.3 143.0L374.6 144.9L363.4 145.1ZM363.4 145.1L374.6 144.9L375.2 145.9L363.4 145.9ZM363.4 145.9L375.2 145.9L375.4 146.7L363.4 146.7ZM363.4 146.7L375.4 146.7L375.4 147.5L363.4 147.5ZM363.4 147.5L375.4 147.5L375.4 148.4L363.4 148.3ZM363.4 148.3L375.4 148.4L375.4 149.6L363.4 149.1ZM363.4 149.1L375.4 149.6L375.4 150.7L363.4 149.9ZM363.4 149.9L375.4 150.7L375.4 151.9L363.4 150.7ZM363.4 150.7L375.4 151.9L375.4 153.0L363.4 151.5ZM363.4 151.5L375.4 153.0L375.4 154.3L363.3 152.3ZM363.3 152.3L375.4 154.3L374.1 155.7L363.1 153.0ZM363.1 153.0L374.1 155.7L372.7 156.9L362.9 153.8ZM362.9 153.8L372.7 156.9L372.2 158.4L362.6 154.6ZM362.6 154.6L372.2 158.4L370.5 159.3L362.4 155.3ZM362.4 155.3L370.5 159.3L369.4 160.4L362.1 156.1ZM362.1 156.1L369.4 160.4L368.9 161.9L361.6 156.7ZM361.6 156.7L368.9 161.9L367.5 162.6L361.0 157.3ZM361.0 157.3L367.5 162.6L365.7 162.8L360.5 157.9ZM360.5 157.9L365.7 162.8L364.1 163.0L360.0 158.5ZM360.0 158.5L364.1 163.0L363.0 163.2L359.3 158.9ZM359.3 158.9L363.0 163.2L362.2 163.3L358.6 159.3ZM358.6 159.3L362.2 163.3L362.0 164.1L358.0 159.7ZM358.0 159.7L362.0 164.1L361.9 165.0L357.3 160.2ZM357.3 160.2L361.9 165.0L361.9 165.7L356.6 160.6ZM356.6 160.6L361.9 165.7L361.8 166.1L356.1 161.2ZM356.1 161.2L361.8 166.1L361.8 166.5L355.7 161.9ZM355.7 161.9L361.8 166.5L361.7 166.9L355.3 162.6ZM355.3 162.6L361.7 166.9L361.7 167.4L355.0 163.3ZM355.0 163.3L361.7 167.4L361.6 168.1L354.6 164.0ZM354.6 164.0L361.6 168.1L361.5 169.2L354.3 164.7ZM354.3 164.7L361.5 169.2L361.4 170.3L353.9 165.5ZM353.9 165.5L361.4 170.3L361.2 171.5L353.6 166.2ZM353.6 166.2L361.2 171.5L360.4 172.4L353.2 166.8ZM353.2 166.8L360.4 172.4L359.4 173.4L352.6 167.4ZM352.6 167.4L359.4 173.4L358.4 174.4L352.0 167.9ZM352.0 167.9L358.4 174.4L357.5 175.5L351.4 168.5ZM351.4 168.5L357.5 175.5L356.9 177.0L350.8 169.0ZM350.8 169.0L356.9 177.0L356.6 178.9L350.2 169.5ZM350.2 169.5L356.6 178.9L356.4 179.9L349.5 169.9ZM349.5 169.9L356.4 179.9L356.3 180.1L348.8 170.2ZM348.8 170.2L356.3 180.1L356.3 180.2L348.0 170.6ZM348.0 170.6L356.3 180.2L356.3 180.3L347.3 170.9ZM347.3 170.9L356.3 180.3L355.4 180.4L346.6 171.3ZM346.6 171.3L355.4 180.4L353.7 180.4L346.1 171.8ZM346.1 171.8L353.7 180.4L352.2 180.4L345.9 172.6ZM345.9 172.6L352.2 180.4L350.8 180.4L345.7 173.4ZM345.7 173.4L350.8 180.4L349.6 180.4L345.5 174.1ZM345.5 174.1L349.6 180.4L348.4 180.4L345.0 174.5ZM345.0 174.5L348.4 180.4L346.9 180.4L344.2 174.5ZM344.2 174.5L346.9 180.4L345.0 180.4L343.4 174.5ZM343.4 174.5L345.0 180.4L342.8 180.4L342.6 174.5ZM342.6 174.5L342.8 180.4L340.5 180.4L341.8 174.5ZM341.8 174.5L340.5 180.4L338.4 180.5L341.0 174.5ZM341.0 174.5L338.4 180.5L336.4 180.5L340.2 174.5ZM340.2 174.5L336.4 180.5L334.4 180.5L339.6 174.3ZM339.6 174.3L334.4 180.5L333.8 180.5L339.4 173.6ZM339.4 173.6L333.8 180.5L333.3 180.4L339.2 172.8ZM339.2 172.8L333.3 180.4L333.2 179.9L339.1 172.0ZM339.1 172.0L333.2 179.9L333.1 179.4L338.9 171.2ZM338.9 171.2L333.1 179.4L333.2 179.6L338.7 170.6ZM338.7 170.6L333.2 179.6L334.4 180.5L337.9 170.7ZM337.9 170.7L334.4 180.5L335.1 180.5L337.1 170.9ZM337.1 170.9L335.1 180.5L335.5 180.5L336.3 171.1ZM336.3 171.1L335.5 180.5L335.7 180.5L335.6 171.2ZM335.6 171.2L335.7 180.5L335.5 180.5L334.8 171.4ZM334.8 171.4L335.5 180.5L334.4 180.5L334.0 171.6ZM334.0 171.6L334.4 180.5L333.0 178.7L333.2 171.5ZM333.2 171.5L333.0 178.7L331.6 176.4L332.4 171.4ZM332.4 171.4L331.6 176.4L329.9 176.4L331.6 171.3ZM331.6 171.3L329.9 176.4L328.0 176.4L330.8 171.2ZM330.8 171.2L328.0 176.4L325.7 176.4L330.0 171.0ZM329.5 170.7L319.1 180.9L318.0 181.0L329.3 169.9ZM329.3 169.9L318.0 181.0L317.0 181.1L329.2 169.1ZM329.2 169.1L317.0 181.1L313.3 183.7L329.1 168.3ZM329.1 168.3L313.3 183.7L313.2 182.8L329.0 167.5ZM329.0 167.5L313.2 182.8L313.5 182.9L328.7 166.9ZM328.7 166.9L313.5 182.9L313.6 183.5L327.9 166.8ZM327.9 166.8L313.6 183.5L312.8 183.4L327.1 166.7ZM327.1 166.7L312.8 183.4L312.1 183.3L326.3 166.5ZM326.3 166.5L312.1 183.3L311.3 183.2L325.5 166.4ZM325.5 166.4L311.3 183.2L311.1 183.5L324.8 166.2ZM324.8 166.2L311.1 183.5L311.0 183.1L324.4 165.7ZM324.4 165.7L311.0 183.1L311.2 182.6L324.3 164.9ZM329.2 129.6L319.0 126.0L319.0 126.0L329.4 128.8ZM329.4 128.8L319.0 126.0L319.0 126.1L329.4 128.0ZM329.4 128.0L319.0 126.1L319.1 127.1L329.4 127.2ZM329.4 127.2L319.1 127.1L319.2 128.2L329.4 126.4ZM329.4 126.4L319.2 128.2L320.8 129.1L329.4 125.6ZM329.4 125.6L320.8 129.1L322.1 129.4L329.4 124.8ZM329.4 124.8L322.1 129.4L322.6 129.5L329.2 124.2ZM329.2 124.2L322.6 129.5L321.8 129.3L328.4 124.0ZM243.1 117.0L249.7 110.5L250.7 110.4L243.1 117.8ZM243.1 117.8L250.7 110.4L251.6 110.4L243.1 118.6ZM243.1 118.6L251.6 110.4L252.6 110.4L243.1 119.4ZM243.1 119.4L252.6 110.4L250.7 110.4L243.8 119.5ZM243.8 119.5L250.7 110.4L249.2 110.5L244.6 119.5ZM244.6 119.5L249.2 110.5L248.4 110.5L245.4 119.6ZM245.4 119.6L248.4 110.5L247.9 110.5L246.2 119.6ZM246.2 119.6L247.9 110.5L247.6 110.5L247.0 119.7ZM247.0 119.7L247.6 110.5L248.3 110.5L247.8 119.7ZM247.8 119.7L248.3 110.5L249.1 110.5L248.6 119.8ZM248.6 119.8L249.1 110.5L249.9 110.5L249.4 119.8ZM249.4 119.8L249.9 110.5L250.7 110.4L250.2 119.9ZM250.2 119.9L250.7 110.4L251.8 110.4L251.0 119.9ZM251.0 119.9L251.8 110.4L253.6 110.4L251.8 119.9ZM251.8 119.9L253.6 110.4L254.7 113.2L252.6 120.0ZM252.6 120.0L254.7 113.2L255.8 114.7L253.4 120.0ZM253.4 120.0L255.8 114.7L257.5 114.7L254.2 120.1ZM287.4 169.1L277.4 173.6L277.6 171.9L287.1 168.3ZM287.1 168.3L277.6 171.9L277.8 170.3L286.8 167.6ZM286.8 167.6L277.8 170.3L278.2 168.8L286.4 166.9ZM286.4 166.9L278.2 168.8L278.5 167.3L286.1 166.2ZM286.1 166.2L278.5 167.3L278.8 165.8L285.8 165.4ZM285.8 165.4L278.8 165.8L278.7 164.3L286.0 164.6Z" fill="#a31e98" fill-opacity="0.85" stroke="#a31e98" stroke-width="0.3"/>
<path d="M324.3 164.9L311.2 182.6L311.4 182.0L324.1 164.1ZM324.1 164.1L311.4 182.0L311.6 181.5L324.0 163.3ZM324.0 163.3L311.6 181.5L311.5 181.2L323.6 162.8ZM323.6 162.8L311.5 181.2L312.9 182.5L322.8 162.8ZM322.8 162.8L312.9 182.5L315.2 183.8L322.0 162.8ZM322.0 162.8L315.2 183.8L317.9 181.0L321.2 162.8ZM321.2 162.8L317.9 181.0L319.3 180.9L320.4 162.8ZM320.4 162.8L319.3 180.9L319.6 180.8L319.6 162.8ZM319.6 162.8L319.6 180.8L318.8 180.9L318.8 162.8ZM318.8 162.8L318.8 180.9L318.0 181.0L318.0 162.8ZM318.0 162.8L318.0 181.0L317.2 181.1L317.2 162.8ZM317.2 162.8L317.2 181.1L316.4 181.3L316.4 162.8ZM316.4 162.8L316.4 181.3L313.5 184.7L315.6 162.8ZM312.5 155.1L292.7 146.0L296.3 145.5L312.9 154.5ZM312.9 154.5L296.3 145.5L297.6 145.4L313.3 153.8ZM313.3 153.8L297.6 145.4L298.5 145.1L313.8 153.1ZM313.8 153.1L298.5 145.1L299.2 144.7L314.3 152.5ZM314.3 152.5L299.2 144.7L299.6 144.5L314.8 151.9ZM314.8 151.9L299.6 144.5L299.6 144.5L315.4 151.3ZM315.4 151.3L299.6 144.5L299.7 144.4L315.5 150.5ZM315.5 150.5L299.7 144.4L300.1 143.6L315.6 149.7ZM315.6 149.7L300.1 143.6L302.2 142.8L315.8 149.0ZM315.8 149.0L302.2 142.8L305.0 142.6L315.9 148.2ZM315.9 148.2L305.0 142.6L306.6 142.5L316.0 147.4ZM316.0 147.4L306.6 142.5L308.3 142.4L316.1 146.6ZM316.1 146.6L308.3 142.4L309.8 142.3L316.6 146.0ZM316.6 146.0L309.8 142.3L311.3 142.2L317.3 145.8ZM317.3 145.8L311.3 142.2L313.5 142.0L318.1 145.5ZM318.1 145.5L313.5 142.0L314.0 140.6L318.6 145.0ZM318.6 145.0L314.0 140.6L314.5 139.2L318.8 144.2ZM318.8 144.2L314.5 139.2L314.7 138.8L319.1 143.5ZM319.1 143.5L314.7 138.8L314.7 138.7L319.4 142.8ZM319.4 142.8L314.7 138.7L314.7 138.7L320.2 142.5ZM320.2 142.5L314.7 138.7L314.8 138.5L320.9 142.2ZM320.9 142.2L314.8 138.5L315.4 138.1L321.6 141.9ZM321.6 141.9L315.4 138.1L316.5 137.9L321.8 141.1ZM321.8 141.1L316.5 137.9L317.6 137.7L322.0 140.3ZM322.0 140.3L317.6 137.7L318.2 137.6L322.2 139.6ZM322.2 139.6L318.2 137.6L319.0 137.5L322.4 138.8ZM322.4 138.8L319.0 137.5L319.4 137.0L322.6 138.0ZM322.6 138.0L319.4 137.0L319.6 135.9L322.9 137.3ZM322.9 137.3L319.6 135.9L319.9 134.8L323.2 136.5ZM323.2 136.5L319.9 134.8L320.7 134.1L323.5 135.8ZM323.5 135.8L320.7 134.1L322.0 133.7L323.8 135.0ZM323.8 135.0L322.0 133.7L322.9 133.4L324.1 134.3ZM324.1 134.3L322.9 133.4L322.9 132.3L324.8 133.9ZM324.8 133.9L322.9 132.3L322.9 131.2L325.5 133.6ZM325.5 133.6L322.9 131.2L322.9 130.0L326.2 133.2ZM326.9 132.8L318.9 124.8L318.8 123.9L327.4 132.2ZM327.4 132.2L318.8 123.9L318.9 124.6L327.9 131.5ZM327.9 131.5L318.9 124.6L318.9 125.1L328.3 130.9ZM328.3 130.9L318.9 125.1L319.0 125.6L328.8 130.2ZM328.8 130.2L319.0 125.6L319.0 126.0L329.2 129.6ZM328.4 124.0L321.8 129.3L321.0 129.1L327.6 123.8ZM327.6 123.8L321.0 129.1L320.2 129.0L326.9 123.7ZM326.9 123.7L320.2 129.0L319.4 128.8L326.1 123.5ZM326.1 123.5L319.4 128.8L319.2 127.8L325.5 123.1ZM325.5 123.1L319.2 127.8L319.0 125.7L325.5 122.3ZM325.5 122.3L319.0 125.7L318.8 123.8L325.5 121.5ZM325.5 121.5L318.8 123.8L318.6 121.7L325.5 120.7ZM325.5 120.7L318.6 121.7L317.4 119.7L325.5 119.9ZM325.5 118.3L304.0 113.8L303.9 113.4L325.5 117.5ZM325.5 117.5L303.9 113.4L304.2 113.2L325.9 116.9ZM325.9 116.9L304.2 113.2L304.6 112.9L326.3 116.2ZM326.3 116.2L304.6 112.9L304.9 112.6L326.7 115.5ZM326.7 115.5L304.9 112.6L305.2 112.4L327.1 114.8ZM327.1 114.8L305.2 112.4L304.9 113.4L326.9 114.0ZM326.9 114.0L304.9 113.4L308.6 116.2L326.8 113.2ZM326.8 113.2L308.6 116.2L311.3 118.7L326.6 112.4ZM326.6 112.4L311.3 118.7L316.1 119.1L326.5 111.7ZM326.5 111.7L316.1 119.1L317.8 120.4L326.3 110.9ZM326.3 110.9L317.8 120.4L318.6 121.8L325.7 110.7ZM325.7 110.7L318.6 121.8L318.9 124.7L324.9 110.7ZM324.9 110.7L318.9 124.7L321.1 129.1L324.1 110.7ZM323.3 110.7L325.5 132.6L330.0 131.4L322.5 110.7ZM322.5 110.7L330.0 131.4L332.6 129.8L321.7 110.7ZM321.7 110.7L332.6 129.8L333.0 129.1L320.9 110.7ZM320.9 110.7L333.0 129.1L332.8 129.8L320.7 111.5ZM320.7 111.5L332.8 129.8L332.7 130.6L320.5 112.3ZM320.5 112.3L332.7 130.6L332.5 131.4L320.4 113.0ZM320.4 113.0L332.5 131.4L332.3 132.2L320.2 113.8ZM320.2 113.8L332.3 132.2L331.7 132.6L319.6 114.2ZM319.6 114.2L331.7 132.6L327.9 134.2L318.8 114.2ZM317.2 114.2L317.7 120.2L315.7 119.1L316.4 114.2ZM316.4 114.2L315.7 119.1L314.1 119.0L315.6 114.2ZM315.6 114.2L314.1 119.0L312.6 118.8L314.8 114.2ZM314.8 114.2L312.6 118.8L311.1 118.7L314.0 114.2ZM314.0 114.2L311.1 118.7L309.3 118.5L313.7 113.5ZM313.7 113.5L309.3 118.5L308.9 117.8L313.4 112.8ZM313.4 112.8L308.9 117.8L308.7 116.8L313.1 112.0ZM313.1 112.0L308.7 116.8L308.5 115.9L312.8 111.3ZM312.8 111.3L308.5 115.9L308.0 115.3L312.6 110.5ZM312.6 110.5L308.0 115.3L308.0 115.3L312.3 109.8ZM312.3 109.8L308.0 115.3L308.1 115.3L311.5 109.7ZM311.5 109.7L308.1 115.3L308.1 115.3L310.7 109.6ZM310.7 109.6L308.1 115.3L307.8 115.3L309.9 109.5ZM309.9 109.5L307.8 115.3L307.0 115.2L309.1 109.4ZM309.1 109.4L307.0 115.2L306.1 115.0L308.3 109.3ZM308.3 109.3L306.1 115.0L304.5 114.8L307.5 109.2ZM307.5 109.2L304.5 114.8L302.7 114.6L306.7 109.1ZM306.7 109.1L302.7 114.6L302.2 113.2L306.1 108.9ZM306.1 108.9L302.2 113.2L301.9 111.8L305.9 108.1ZM305.9 108.1L301.9 111.8L300.9 111.1L305.7 107.3ZM305.7 107.3L300.9 111.1L299.6 110.4L305.5 106.5ZM305.5 106.5L299.6 110.4L299.3 109.0L305.3 105.8ZM305.3 105.8L299.3 109.0L299.0 107.7L304.9 105.1ZM304.9 105.1L299.0 107.7L297.4 107.4L304.4 104.4ZM304.4 104.4L297.4 107.4L295.1 107.4L304.0 103.8ZM304.0 103.8L295.1 107.4L292.6 107.4L303.5 103.1ZM303.5 103.1L292.6 107.4L290.0 107.4L303.0 102.5ZM302.9 101.7L281.9 108.5L281.5 106.6L302.8 100.9ZM302.8 100.9L281.5 106.6L281.2 104.7L302.7 100.1ZM302.7 100.1L281.2 104.7L280.9 102.8L302.6 99.3ZM302.6 99.3L280.9 102.8L280.7 101.2L302.6 98.5ZM302.6 98.5L280.7 101.2L280.9 102.0L302.5 97.7ZM302.5 97.7L280.9 102.0L281.3 103.2L302.4 96.9ZM302.4 96.9L281.3 103.2L281.7 103.9L302.3 96.1ZM302.3 96.1L281.7 103.9L282.6 105.3L302.3 95.3ZM302.3 95.3L282.6 105.3L285.0 108.5L302.1 94.6ZM300.6 94.5L314.9 111.3L315.5 111.5L300.6 95.3ZM300.6 95.3L315.5 111.5L315.9 112.0L300.6 96.1ZM300.6 96.1L315.9 112.0L316.5 112.1L300.6 96.9ZM300.6 96.9L316.5 112.1L317.0 112.3L300.6 97.7ZM300.6 97.7L317.0 112.3L313.8 115.2L300.1 98.0ZM300.1 98.0L313.8 115.2L309.6 117.5L299.3 98.1ZM297.7 98.1L299.9 110.7L297.4 107.4L296.9 98.1ZM296.9 98.1L297.4 107.4L296.3 107.4L296.1 98.1ZM296.1 98.1L296.3 107.4L295.5 107.4L295.3 98.1ZM295.3 98.1L295.5 107.4L294.7 107.4L294.5 98.1ZM294.5 98.1L294.7 107.4L293.9 107.4L293.7 98.2ZM293.7 98.2L293.9 107.4L293.1 107.4L292.9 98.2ZM292.9 98.2L293.1 107.4L292.3 107.4L292.1 98.2ZM292.1 98.2L292.3 107.4L292.1 107.4L291.3 98.2ZM291.3 98.2L292.1 107.4L292.3 107.4L290.5 98.2ZM290.5 98.2L292.3 107.4L292.5 107.4L289.7 98.2ZM289.7 98.2L292.5 107.4L293.0 107.4L288.9 98.2ZM288.9 98.2L293.0 107.4L293.0 107.4L288.1 98.2ZM288.1 98.2L293.0 107.4L292.1 107.4L287.6 98.8ZM287.6 98.8L292.1 107.4L291.3 107.4L287.3 99.5ZM287.3 99.5L291.3 107.4L290.5 107.4L287.0 100.2ZM287.0 100.2L290.5 107.4L289.7 107.4L286.6 101.0ZM286.6 101.0L289.7 107.4L288.9 107.4L286.1 101.4ZM286.1 101.4L288.9 107.4L287.4 107.4L285.3 101.3ZM285.3 101.3L287.4 107.4L286.2 109.5L284.5 101.2ZM284.5 101.2L286.2 109.5L284.6 111.5L283.7 101.2ZM283.7 101.2L284.6 111.5L282.7 111.5L282.9 101.1ZM282.9 101.1L282.7 111.5L281.3 111.5L282.1 101.0ZM282.1 101.0L281.3 111.5L280.5 111.5L281.3 101.0ZM281.3 101.0L280.5 111.5L279.0 111.5L280.5 100.9ZM280.5 100.9L279.0 111.5L277.9 108.0L279.7 100.8ZM279.7 100.8L277.9 108.0L276.4 107.4L278.9 100.8ZM278.9 100.8L276.4 107.4L275.3 107.4L278.1 100.7ZM278.1 100.7L275.3 107.4L274.9 107.4L277.3 100.7ZM277.3 100.7L274.9 107.4L274.9 107.4L276.9 100.2ZM276.9 100.2L274.9 107.4L275.5 107.4L276.6 99.4ZM276.6 99.4L275.5 107.4L276.6 107.4L276.4 98.6ZM276.4 98.6L276.6 107.4L279.3 111.5L275.9 98.4ZM275.9 98.4L279.3 111.5L282.6 111.5L275.2 98.8ZM275.2 98.8L282.6 111.5L285.8 111.5L274.7 99.3ZM274.7 99.3L285.8 111.5L285.9 110.9L274.6 100.1ZM274.6 100.1L285.9 110.9L285.9 110.9L274.5 100.9ZM274.5 100.9L285.9 110.9L285.6 111.5L274.3 101.7ZM274.3 101.7L285.6 111.5L284.2 111.5L274.2 102.5ZM274.2 102.5L284.2 111.5L282.0 111.5L273.7 103.0ZM273.0 103.2L276.2 107.4L274.6 107.4L272.2 103.4ZM272.2 103.4L274.6 107.4L274.1 108.2L271.4 103.6ZM271.4 103.6L274.1 108.2L273.9 109.4L270.7 103.9ZM270.7 103.9L273.9 109.4L273.8 110.0L269.9 104.1ZM269.9 104.1L273.8 110.0L273.8 109.8L269.1 104.3ZM269.1 104.3L273.8 109.8L273.8 109.5L268.4 104.5ZM268.4 104.5L273.8 109.5L273.9 109.3L268.2 105.3ZM268.2 105.3L273.9 109.3L273.8 110.0L268.0 106.0ZM268.0 106.0L273.8 110.0L273.6 110.8L267.9 106.8ZM267.9 106.8L273.6 110.8L273.2 111.5L267.8 107.6ZM267.8 107.6L273.2 111.5L272.1 111.7L267.6 108.4ZM267.6 108.4L272.1 111.7L270.6 111.9L267.5 109.2ZM267.5 109.2L270.6 111.9L269.8 112.0L266.8 109.4ZM266.8 109.4L269.8 112.0L268.9 112.1L266.0 109.6ZM266.0 109.6L268.9 112.1L268.3 112.4L265.2 109.8ZM265.2 109.8L268.3 112.4L268.1 113.1L264.5 109.9ZM264.5 109.9L268.1 113.1L267.8 113.9L263.9 110.3ZM263.9 110.3L267.8 113.9L267.5 114.4L263.7 111.1ZM263.7 111.1L267.5 114.4L267.3 115.1L263.6 111.9ZM263.6 111.9L267.3 115.1L267.0 115.9L263.4 112.6ZM263.4 112.6L267.0 115.9L266.6 116.6L263.3 113.4ZM263.3 113.4L266.6 116.6L266.1 117.5L263.0 114.1ZM263.0 114.1L266.1 117.5L265.3 119.0L262.3 114.6ZM262.3 114.6L265.3 119.0L264.8 121.5L261.6 114.7ZM259.2 114.7L260.5 131.8L258.0 128.2L258.4 114.7ZM258.4 114.7L258.0 128.2L256.0 123.8L257.6 114.7ZM257.6 114.7L256.0 123.8L254.9 120.6L256.8 114.7ZM256.8 114.7L254.9 120.6L253.2 120.0L256.0 114.7ZM256.0 114.7L253.2 120.0L251.0 119.9L255.2 114.7ZM254.2 120.1L257.5 114.7L259.4 114.7L254.8 120.4ZM254.8 120.4L259.4 114.7L261.8 114.7L255.1 121.1ZM255.6 122.6L267.0 115.9L265.3 118.9L255.9 123.4ZM255.9 123.4L265.3 118.9L264.7 120.7L256.2 124.1ZM256.2 124.1L264.7 120.7L264.8 121.4L256.5 124.9ZM256.5 124.9L264.8 121.4L264.8 122.2L256.8 125.6ZM256.8 125.6L264.8 122.2L264.9 122.9L257.1 126.3ZM257.1 126.3L264.9 122.9L264.9 123.5L257.5 127.0ZM257.5 127.0L264.9 123.5L264.9 124.0L257.8 127.8ZM257.8 127.8L264.9 124.0L265.0 124.6L258.1 128.5ZM258.1 128.5L265.0 124.6L265.0 125.2L258.5 129.2ZM258.5 129.2L265.0 125.2L265.0 125.8L258.8 130.0ZM258.8 130.0L265.0 125.8L265.1 126.5L259.3 130.5ZM259.3 130.5L265.1 126.5L265.1 127.4L259.9 131.1ZM259.9 131.1L265.1 127.4L265.2 128.4L260.4 131.7ZM260.4 131.7L265.2 128.4L265.3 129.4L260.9 132.3ZM260.9 132.3L265.3 129.4L265.3 130.4L261.5 132.9ZM261.5 132.9L265.3 130.4L265.4 131.4L262.0 133.5ZM262.0 133.5L265.4 131.4L265.8 132.3L262.3 134.2ZM262.3 134.2L265.8 132.3L266.4 132.9L262.6 135.0ZM262.6 135.0L266.4 132.9L267.0 133.5L262.9 135.7ZM262.9 135.7L267.0 133.5L267.6 134.2L263.2 136.5ZM263.2 136.5L267.6 134.2L268.2 134.8L263.5 137.2ZM263.5 137.2L268.2 134.8L268.6 135.4L263.8 138.0ZM263.8 138.0L268.6 135.4L269.0 135.9L264.2 138.6ZM264.2 138.6L269.0 135.9L269.3 136.5L264.7 139.3ZM264.7 139.3L269.3 136.5L269.7 136.9L265.2 139.9ZM265.2 139.9L269.7 136.9L269.9 137.3L265.6 140.6ZM265.6 140.6L269.9 137.3L270.2 137.8L266.1 141.2ZM266.1 141.2L270.2 137.8L270.7 138.3L266.6 141.9ZM266.6 141.9L270.7 138.3L271.2 138.7L267.0 142.5ZM267.0 142.5L271.2 138.7L271.7 139.1L267.6 143.1ZM267.6 143.1L271.7 139.1L272.2 139.5L268.2 143.6ZM268.2 143.6L272.2 139.5L272.8 140.0L268.8 144.1ZM268.8 144.1L272.8 140.0L273.5 140.5L269.5 144.6ZM269.5 144.6L273.5 140.5L273.9 141.3L270.1 145.1ZM270.1 145.1L273.9 141.3L274.3 142.1L270.7 145.7ZM270.7 145.7L274.3 142.1L274.8 142.9L271.3 146.2ZM271.3 146.2L274.8 142.9L275.2 143.8L271.8 146.8ZM271.8 146.8L275.2 143.8L275.7 144.5L272.2 147.5ZM272.2 147.5L275.7 144.5L276.3 145.2L272.7 148.1ZM272.7 148.1L276.3 145.2L277.0 145.9L273.2 148.8ZM273.2 148.8L277.0 145.9L277.6 146.6L273.6 149.4ZM273.6 149.4L277.6 146.6L278.2 147.2L274.1 150.1ZM274.1 150.1L278.2 147.2L278.7 148.0L274.6 150.7ZM274.6 150.7L278.7 148.0L279.1 148.9L275.0 151.4ZM275.0 151.4L279.1 148.9L279.5 149.7L275.5 152.0ZM275.5 152.0L279.5 149.7L279.9 150.6L275.9 152.7ZM275.9 152.7L279.9 150.6L280.3 151.4L276.4 153.4ZM276.4 153.4L280.3 151.4L280.7 152.3L276.6 154.1ZM276.6 154.1L280.7 152.3L281.1 153.2L276.9 154.9ZM276.9 154.9L281.1 153.2L281.6 154.1L277.1 155.6ZM277.1 155.6L281.6 154.1L282.0 155.0L277.4 156.4ZM291.4 154.7L289.6 150.6L290.5 149.1L292.2 154.8ZM292.2 154.8L290.5 149.1L291.5 146.4L293.0 154.8ZM293.0 154.8L291.5 146.4L293.1 145.9L293.8 154.8ZM293.8 154.8L293.1 145.9L294.8 145.7L294.6 154.9ZM294.6 154.9L294.8 145.7L295.8 145.6L295.4 154.9ZM295.4 154.9L295.8 145.6L296.6 145.5L296.2 154.9ZM296.2 154.9L296.6 145.5L297.4 145.4L297.0 155.0ZM297.0 155.0L297.4 145.4L298.2 145.3L297.8 155.0ZM297.8 155.0L298.2 145.3L299.0 144.8L298.6 155.0ZM298.6 155.0L299.0 144.8L299.9 144.1L299.4 155.1ZM299.4 155.1L299.9 144.1L300.7 142.9L300.2 155.1ZM300.2 155.1L300.7 142.9L301.5 142.9L301.0 155.1ZM301.0 155.1L301.5 142.9L302.3 142.8L301.8 155.2ZM301.8 155.2L302.3 142.8L303.1 142.8L302.6 155.2ZM302.6 155.2L303.1 142.8L303.9 142.7L303.4 155.2ZM303.4 155.2L303.9 142.7L304.7 142.7L304.2 155.3ZM304.2 155.3L304.7 142.7L305.5 142.6L305.0 155.3ZM305.0 155.3L305.5 142.6L307.3 142.5L305.8 155.3ZM305.8 155.3L307.3 142.5L309.7 142.3L306.6 155.4ZM306.6 155.4L309.7 142.3L312.4 142.1L307.4 155.4ZM290.3 156.2L287.3 153.1L288.2 152.1L290.8 155.5ZM290.8 155.5L288.2 152.1L289.1 151.1L291.3 154.9ZM291.3 154.9L289.1 151.1L289.6 150.6L291.4 154.7Z" fill="#8409a5" fill-opacity="0.85" stroke="#8409a5" stroke-width="0.3"/>
<path d="M315.6 162.8L313.5 184.7L310.0 184.3L314.8 162.8ZM314.8 162.8L310.0 184.3L306.3 183.5L314.0 162.8ZM312.4 162.8L298.7 180.1L295.4 176.3L312.2 162.1ZM312.2 162.1L295.4 176.3L292.7 171.8L312.0 161.3ZM312.0 161.3L292.7 171.8L290.9 167.2L311.8 160.6ZM311.8 160.6L290.9 167.2L289.9 162.8L311.7 159.8ZM311.7 159.8L289.9 162.8L289.5 158.6L311.5 159.0ZM311.7 158.2L309.8 158.0L309.6 157.0L311.8 157.4ZM311.8 157.4L309.6 157.0L309.3 156.0L312.0 156.7ZM312.2 155.9L291.5 148.5L292.7 146.0L312.5 155.1ZM308.2 155.4L317.9 137.7L321.1 137.1L309.0 155.5ZM309.0 155.5L321.1 137.1L321.4 137.6L309.3 156.1ZM309.7 157.6L312.9 154.5L312.0 156.9L309.9 158.4ZM309.9 158.4L312.0 156.9L311.7 158.1L310.3 158.8ZM310.3 158.8L311.7 158.1L311.6 158.6L311.1 158.8ZM311.6 159.3L331.4 149.5L332.2 151.6L311.9 160.0ZM311.9 160.0L332.2 151.6L333.0 153.9L312.1 160.8ZM312.1 160.8L333.0 153.9L333.9 157.3L312.3 161.6ZM312.3 161.6L333.9 157.3L334.5 162.0L312.5 162.3ZM312.6 163.1L324.1 164.2L324.4 165.8L312.3 163.8ZM311.9 164.5L329.1 168.5L329.4 170.6L311.6 165.3ZM311.6 165.3L329.4 170.6L331.9 173.6L311.3 166.0ZM311.3 166.0L331.9 173.6L331.3 175.0L310.9 166.7ZM310.9 166.7L331.3 175.0L331.1 175.6L310.6 167.5ZM310.6 167.5L331.1 175.6L330.9 176.2L310.4 168.2ZM310.4 168.2L330.9 176.2L329.9 176.4L310.1 169.0ZM310.1 169.0L329.9 176.4L328.4 176.4L309.8 169.7ZM309.8 169.7L328.4 176.4L326.8 176.4L309.6 170.5ZM309.6 170.5L326.8 176.4L324.7 176.4L309.3 171.2ZM309.3 171.2L324.7 176.4L323.8 176.8L309.0 172.0Z" fill="#f48b47" fill-opacity="0.85" stroke="#f48b47" stroke-width="0.3"/>
<path d="M277.4 156.4L282.0 155.0L282.4 156.0L277.6 157.2ZM277.6 157.2L282.4 156.0L282.8 156.8L277.8 157.9ZM277.8 157.9L282.8 156.8L283.2 157.6L277.9 158.7ZM277.9 158.7L283.2 157.6L283.5 158.5L278.0 159.5ZM278.1 160.3L288.7 158.5L288.1 159.6L278.2 161.1ZM278.2 161.1L288.1 159.6L287.5 160.7L278.4 161.9ZM278.4 161.9L287.5 160.7L286.9 161.9L278.5 162.7ZM278.5 162.7L286.9 161.9L286.4 163.0L278.6 163.5ZM278.6 163.5L286.4 163.0L286.1 164.1L278.7 164.3ZM278.7 164.3L286.1 164.1L285.9 165.1L278.8 165.1ZM278.8 165.1L285.9 165.1L286.1 166.2L278.8 165.8ZM278.8 165.8L286.1 166.2L286.6 167.3L278.7 166.6ZM278.7 166.6L286.6 167.3L287.1 168.4L278.5 167.4ZM278.5 167.4L287.1 168.4L287.7 169.6L278.3 168.2ZM278.3 168.2L287.7 169.6L288.2 170.7L278.1 169.0ZM278.1 169.0L288.2 170.7L288.7 171.8L278.0 169.8ZM278.0 169.8L288.7 171.8L289.0 172.6L277.8 170.5ZM277.8 170.5L289.0 172.6L289.4 173.4L277.7 171.3ZM277.7 171.3L289.4 173.4L289.6 174.1L277.5 172.1ZM277.5 172.1L289.6 174.1L290.0 176.2L277.4 172.9ZM277.4 172.9L290.0 176.2L290.6 178.9L277.3 173.7ZM277.2 174.5L296.5 185.2L294.5 188.8L277.1 175.3ZM276.3 176.2L281.9 185.1L279.2 185.1L275.5 176.2ZM275.5 176.2L279.2 185.1L278.0 189.2L274.7 176.2ZM274.7 176.2L278.0 189.2L275.5 189.2L273.9 176.2ZM273.9 176.2L275.5 189.2L273.2 189.2L273.1 176.2ZM273.1 176.2L273.2 189.2L272.3 189.2L272.3 176.2ZM272.3 176.2L272.3 189.2L271.5 189.2L271.5 176.2ZM271.5 176.2L271.5 189.2L270.7 189.2L270.7 176.2ZM270.7 176.2L270.7 189.2L269.9 189.2L269.9 176.2ZM269.9 176.2L269.9 189.2L269.1 189.2L269.1 176.2ZM269.1 176.2L269.1 189.2L268.3 189.2L268.3 176.2ZM268.3 176.2L268.3 189.2L267.5 189.2L267.5 176.2ZM267.5 176.2L267.5 189.2L266.7 189.2L266.7 176.2ZM266.7 176.2L266.7 189.2L265.9 189.2L265.9 176.2ZM265.9 176.2L265.9 189.2L265.1 189.2L265.1 176.2ZM265.1 176.2L265.1 189.2L264.3 189.2L264.3 176.2ZM264.3 176.2L264.3 189.2L263.5 189.2L263.5 176.2ZM263.5 176.2L263.5 189.2L262.7 189.2L262.7 176.2ZM262.7 176.2L262.7 189.2L261.9 189.2L261.9 176.2ZM261.9 176.2L261.9 189.2L260.0 189.2L261.1 176.2ZM261.1 176.2L260.0 189.2L257.6 189.2L260.3 176.2ZM260.3 176.2L257.6 189.2L254.7 189.2L259.5 176.2ZM259.5 176.2L254.7 189.2L251.4 189.2L258.7 176.2ZM258.7 176.2L251.4 189.2L247.3 189.2L257.9 176.2ZM257.9 176.2L247.3 189.2L246.5 189.2L257.6 175.5ZM257.6 175.5L246.5 189.2L245.8 189.2L257.5 174.7ZM257.5 174.7L245.8 189.2L245.5 189.2L257.4 174.0ZM257.4 174.0L245.5 189.2L246.3 189.2L257.3 173.2ZM257.3 173.2L246.3 189.2L247.5 189.2L257.2 172.4ZM257.2 172.4L247.5 189.2L252.4 189.2L256.4 172.4ZM255.6 172.4L257.4 189.2L260.5 189.2L254.9 172.6ZM254.9 172.6L260.5 189.2L259.8 189.2L254.5 173.3ZM254.5 173.3L259.8 189.2L259.1 189.2L254.0 173.9ZM254.0 173.9L259.1 189.2L256.4 189.2L253.5 174.6ZM253.5 174.6L256.4 189.2L253.2 189.2L253.1 175.2ZM252.7 175.5L248.0 189.2L244.8 189.2L252.5 174.8ZM252.5 174.8L244.8 189.2L241.8 189.2L252.4 174.0ZM252.4 174.0L241.8 189.2L241.4 186.4L252.3 173.2ZM252.3 173.2L241.4 186.4L240.4 185.0L252.1 172.4ZM252.1 172.4L240.4 185.0L239.5 184.8L252.0 171.6ZM252.0 171.6L239.5 184.8L241.4 185.6L251.2 171.5ZM251.2 171.5L241.4 185.6L241.4 189.2L250.4 171.4ZM250.4 171.4L241.4 189.2L241.4 188.7L249.6 171.3ZM249.6 171.3L241.4 188.7L241.4 187.8L248.8 171.2ZM248.8 171.2L241.4 187.8L241.4 186.7L248.0 171.1ZM248.0 171.1L241.4 186.7L239.5 184.8L247.2 171.1ZM247.2 171.1L239.5 184.8L237.7 183.1L246.4 171.0ZM246.4 171.0L237.7 183.1L237.7 179.5L246.1 170.3ZM246.1 170.3L237.7 179.5L237.7 176.7L245.7 169.5ZM245.7 169.5L237.7 176.7L237.7 174.3L245.4 168.8ZM245.4 168.8L237.7 174.3L237.6 172.2L245.1 168.1ZM245.1 168.1L237.6 172.2L236.9 170.8L244.7 167.4ZM244.7 167.4L236.9 170.8L236.5 170.0L244.4 166.6ZM244.4 166.6L236.5 170.0L236.1 169.2L244.1 165.9ZM244.1 165.9L236.1 169.2L235.7 168.4L243.8 165.2ZM243.8 165.2L235.7 168.4L235.3 167.6L243.5 164.4ZM309.0 172.0L323.8 176.8L323.7 178.0L308.8 172.7ZM308.8 172.7L323.7 178.0L323.3 180.3L308.6 173.5ZM308.6 173.5L323.3 180.3L319.4 180.8L308.3 174.3ZM308.3 174.3L319.4 180.8L316.4 181.3L308.1 175.0ZM308.1 175.0L316.4 181.3L316.0 183.7L307.9 175.8ZM307.9 175.8L316.0 183.7L314.5 185.1L307.5 176.4ZM307.5 176.4L314.5 185.1L313.1 185.1L306.7 176.5ZM306.7 176.5L313.1 185.1L312.1 185.1L305.9 176.6ZM305.9 176.6L312.1 185.1L311.3 185.3L305.1 176.8ZM305.1 176.8L311.3 185.3L310.8 186.0L304.3 176.9ZM304.3 176.9L310.8 186.0L310.5 186.5L303.5 177.0ZM303.5 177.0L310.5 186.5L310.0 187.4L303.1 177.5ZM303.1 177.5L310.0 187.4L309.5 188.3L302.8 178.3ZM302.8 178.3L309.5 188.3L309.0 189.1L302.5 179.0ZM302.5 179.0L309.0 189.1L308.7 190.4L302.3 179.8ZM302.3 179.8L308.7 190.4L308.5 191.9L301.9 180.5ZM301.9 180.5L308.5 191.9L306.8 193.4L301.1 180.4ZM301.1 180.4L306.8 193.4L303.9 193.4L300.3 180.4ZM300.3 180.4L303.9 193.4L301.4 193.4L299.5 180.3ZM299.5 180.3L301.4 193.4L299.1 193.4L298.7 180.3ZM298.7 180.3L299.1 193.4L297.1 193.4L297.9 180.2ZM297.9 180.2L297.1 193.4L296.3 193.4L297.1 180.2ZM297.1 180.2L296.3 193.4L295.4 193.4L296.3 180.1ZM296.3 180.1L295.4 193.4L294.6 193.4L295.5 180.0ZM295.5 180.0L294.6 193.4L293.8 193.4L294.7 180.0ZM294.7 180.0L293.8 193.4L291.6 193.4L294.0 179.9ZM294.0 179.9L291.6 193.4L290.1 189.9L293.2 179.9ZM293.2 179.9L290.1 189.9L287.9 189.6L292.4 179.8ZM292.4 179.8L287.9 189.6L285.4 189.3L291.6 179.8ZM291.6 179.8L285.4 189.3L284.5 186.8L290.8 179.7ZM290.8 179.7L284.5 186.8L283.2 185.1L290.6 178.9ZM290.6 178.9L283.2 185.1L279.2 185.1L290.5 178.1ZM290.3 177.3L270.3 186.6L269.4 183.9L290.1 176.6ZM290.1 176.6L269.4 183.9L268.7 181.4L290.0 175.8ZM290.0 175.8L268.7 181.4L268.6 181.1L289.8 175.0ZM289.8 175.0L268.6 181.1L268.6 180.8L289.6 174.2ZM289.6 174.2L268.6 180.8L268.5 180.4L289.4 173.4ZM289.4 173.4L268.5 180.4L268.4 180.2L289.1 172.7ZM289.1 172.7L268.4 180.2L268.2 179.9L288.7 172.0ZM288.4 171.3L277.0 175.9L277.1 175.3L288.1 170.5ZM288.1 170.5L277.1 175.3L277.2 174.6L287.8 169.8ZM287.8 169.8L277.2 174.6L277.4 173.6L287.4 169.1Z" fill="#d9586b" fill-opacity="0.85" stroke="#d9586b" stroke-width="0.3"/>
<path d="M243.5 164.4L235.3 167.6L235.1 166.8L243.2 163.7ZM243.2 163.7L235.1 166.8L235.0 165.9L243.0 162.9ZM243.0 162.9L235.0 165.9L234.9 165.1L242.7 162.1ZM242.7 162.1L234.9 165.1L234.8 164.3L242.4 161.4ZM242.4 161.4L234.8 164.3L234.8 163.6L242.2 160.6ZM242.2 160.6L234.8 163.6L234.7 162.8L241.9 159.9ZM241.9 159.9L234.7 162.8L233.4 162.6L241.5 159.2ZM241.5 159.2L233.4 162.6L232.5 162.2L241.2 158.4ZM241.2 158.4L232.5 162.2L232.5 161.4L240.9 157.7ZM240.9 157.7L232.5 161.4L232.5 160.6L240.5 157.0ZM240.5 157.0L232.5 160.6L232.5 159.6L240.2 156.3ZM240.2 156.3L232.5 159.6L232.5 158.6L239.9 155.5ZM239.9 155.5L232.5 158.6L232.5 157.6L239.5 154.8ZM239.5 154.8L232.5 157.6L232.5 156.6L239.2 154.1ZM239.2 154.1L232.5 156.6L232.5 155.6L238.9 153.3ZM238.9 153.3L232.5 155.6L232.5 154.6L238.7 152.6ZM238.7 152.6L232.5 154.6L232.5 153.6L238.5 151.8ZM238.5 151.8L232.5 153.6L232.5 152.7L238.3 151.0ZM238.3 151.0L232.5 152.7L232.5 151.8L238.1 150.2ZM238.1 150.2L232.5 151.8L232.5 150.9L237.9 149.5ZM237.9 149.5L232.5 150.9L232.5 150.1L237.7 148.7ZM237.7 148.7L232.5 150.1L232.5 149.3L237.5 147.9ZM237.5 147.9L232.5 149.3L232.5 148.6L237.3 147.2ZM237.3 147.2L232.5 148.6L232.5 147.8L237.0 146.4ZM237.0 146.4L232.5 147.8L232.5 147.1L236.8 145.6ZM236.8 145.6L232.5 147.1L232.5 146.3L236.5 144.9ZM236.5 144.9L232.5 146.3L232.5 145.8L236.3 144.1ZM236.3 144.1L232.5 145.8L231.7 145.7L236.0 143.4ZM236.0 143.4L231.7 145.7L231.0 145.7L235.7 142.6ZM235.7 142.6L231.0 145.7L230.5 145.7L235.4 141.9ZM235.4 141.9L230.5 145.7L229.5 145.7L235.0 141.2ZM235.0 141.2L229.5 145.7L228.0 145.7L234.3 140.8ZM234.3 140.8L228.0 145.7L226.5 145.7L233.6 140.5ZM233.6 140.5L226.5 145.7L224.7 145.7L232.9 140.1ZM232.9 140.1L224.7 145.7L222.7 145.7L232.2 139.8ZM232.2 139.8L222.7 145.7L220.6 145.7L231.9 139.2ZM231.9 139.2L220.6 145.7L220.3 143.5L231.8 138.4ZM231.8 138.4L220.3 143.5L220.0 141.3L231.7 137.6ZM231.7 137.6L220.0 141.3L218.8 139.4L231.7 136.8ZM231.7 136.8L218.8 139.4L218.8 137.4L231.6 136.0ZM231.6 136.0L218.8 137.4L218.8 136.1L231.6 135.2ZM231.6 135.2L218.8 136.1L218.8 135.3L231.5 134.4ZM231.5 134.4L218.8 135.3L218.8 134.2L231.4 133.6ZM231.4 133.6L218.8 134.2L218.8 133.1L231.4 132.8ZM231.4 132.8L218.8 133.1L218.8 131.9L231.3 132.0ZM231.3 132.0L218.8 131.9L218.8 130.8L231.3 131.2ZM231.3 131.2L218.8 130.8L218.8 129.6L231.2 130.4ZM231.2 130.4L218.8 129.6L219.2 128.5L231.3 129.6ZM231.3 129.6L219.2 128.5L220.0 127.4L231.5 128.8ZM231.5 128.8L220.0 127.4L220.1 126.2L231.7 128.1Z" fill="#9613a0" fill-opacity="0.85" stroke="#9613a0" stroke-width="0.3"/>
<path d="M231.7 128.1L220.1 126.2L220.3 123.9L231.8 127.3ZM231.8 127.3L220.3 123.9L220.5 121.4L232.0 126.5ZM232.0 126.5L220.5 121.4L220.6 118.9L232.2 125.7ZM232.2 125.7L220.6 118.9L220.6 118.0L232.3 124.9ZM232.3 124.9L220.6 118.0L220.6 117.5L232.6 124.2ZM232.6 124.2L220.6 117.5L220.6 117.3L233.3 124.0ZM233.3 124.0L220.6 117.3L220.6 117.1L234.1 123.8ZM234.1 123.8L220.6 117.1L220.6 116.9L234.9 123.6ZM234.9 123.6L220.6 116.9L220.6 116.6L235.0 122.9ZM235.0 122.9L220.6 116.6L220.6 116.4L235.0 122.1ZM235.0 122.1L220.6 116.4L220.6 117.7L235.0 121.3ZM235.0 121.3L220.6 117.7L220.6 118.8L235.0 120.5ZM235.0 120.5L220.6 118.8L220.6 119.5L235.0 119.7ZM235.0 119.7L220.6 119.5L220.6 118.9L235.0 118.9ZM235.0 118.9L220.6 118.9L220.6 116.3L235.0 118.1ZM235.0 118.1L220.6 116.3L220.4 113.3L235.0 117.3ZM235.0 117.3L220.4 113.3L219.2 108.9L235.0 116.5Z" fill="#dd5e66" fill-opacity="0.85" stroke="#dd5e66" stroke-width="0.3"/>
<path d="M286.0 164.6L278.7 164.3L278.5 162.8L286.2 163.9ZM286.2 163.9L278.5 162.8L278.3 161.2L286.3 163.1ZM286.3 163.1L278.3 161.2L278.0 159.5L286.7 162.4ZM286.7 162.4L278.0 159.5L277.7 157.8L287.0 161.6ZM287.0 161.6L277.7 157.8L277.3 156.2L287.4 160.9ZM287.8 160.2L283.8 158.2L284.3 157.3L288.1 159.5ZM288.1 159.5L284.3 157.3L284.8 156.5L288.5 158.8ZM288.5 158.8L284.8 156.5L285.2 155.8L288.9 158.1ZM288.9 158.1L285.2 155.8L285.6 155.0L289.4 157.5ZM289.4 157.5L285.6 155.0L286.4 154.1L289.8 156.8ZM289.8 156.8L286.4 154.1L287.3 153.1L290.3 156.2Z" fill="#f79540" fill-opacity="0.85" stroke="#f79540" stroke-width="0.3"/>
<path d="M226.8 114.0L220.6 120.0M226.7 110.5L220.3 113.0M226.3 107.9L219.1 108.5M226.1 106.0L218.8 106.0M226.1 104.4L218.8 104.4M226.1 102.8L218.8 102.8M226.1 101.2L218.8 101.2M226.1 99.6L218.8 99.6M225.7 98.0L217.6 98.0M225.7 96.4L217.5 96.4M225.7 94.8L217.5 94.8M227.0 93.2L221.3 93.2M227.0 91.6L221.3 91.6M227.6 90.0L223.0 90.0M227.9 88.4L223.7 88.4M227.9 86.8L223.8 86.8M227.9 85.2L223.8 85.2M227.9 83.3L223.9 82.7M230.9 80.2L229.0 79.4M231.3 79.0L229.3 78.0M242.4 67.1L240.5 65.0M243.4 65.7L240.8 61.7M244.5 64.9L241.1 59.5M245.6 64.7L241.1 58.9M245.9 63.4L241.3 57.4M246.0 61.9L241.5 56.0M246.6 61.3L241.7 55.6M248.2 61.3L243.3 55.6M249.7 61.3L244.6 55.6M252.1 60.8L250.9 59.6M259.8 54.4L266.0 43.3M260.6 55.2L267.4 43.3M260.7 56.5L267.9 44.1M261.6 56.3L267.6 43.4M260.9 56.3L262.6 43.3M261.6 56.3L261.6 43.3M264.1 56.3L265.9 43.3M268.0 56.3L274.1 43.4M271.9 58.2L282.4 48.5M273.4 62.3L286.7 57.1M273.9 66.0L288.1 64.7M273.9 68.3L288.2 68.3M273.8 68.6L287.9 66.2M273.0 67.9L285.7 61.3M271.5 66.8L280.7 55.9M270.7 65.4L275.3 51.9M270.2 65.0L271.1 50.8M270.3 65.1L268.4 50.9M269.7 65.7L263.6 52.8M268.8 67.3L258.3 57.6M267.2 68.2L253.9 62.9M266.8 68.2L252.6 66.1M266.9 66.2L252.8 63.4M268.0 63.9L256.0 59.6M268.7 62.6L256.2 58.1M269.4 61.3L256.3 56.6M269.7 60.8L256.2 57.8M269.4 62.5L255.5 65.7M271.2 64.3L260.7 74.0M270.8 65.1L262.1 76.4M269.3 65.1L260.7 76.6M268.1 65.3L260.3 77.2M268.0 63.6L260.0 75.5M267.8 62.1L259.7 73.9M267.5 62.7L261.8 75.9M267.9 63.3L266.1 77.4M267.1 63.3L266.6 77.6M265.0 63.2L263.7 77.4M261.4 62.7L256.3 76.0M260.2 55.0L256.4 56.5M260.3 51.9L256.8 50.8M260.6 49.2L257.3 45.7M262.9 48.3L260.9 43.3M264.6 48.3L262.9 43.3M265.6 48.3L262.6 43.3M264.9 48.0L258.7 43.3M265.6 47.0L260.8 43.3M266.3 45.9L262.9 43.3M268.2 45.4L266.8 43.3M269.9 43.8L268.7 38.8M272.2 43.8L272.2 38.8M273.8 43.8L273.8 38.8M275.6 43.8L275.9 38.8M277.9 43.9L279.7 38.9M284.1 42.2L293.8 31.6M284.2 43.8L294.0 33.4M284.3 44.2L292.9 32.8M283.5 43.4L287.7 30.3M283.2 44.7L283.9 33.9M284.8 43.5L285.5 30.3M296.2 48.0L295.5 43.0M297.2 48.0L295.4 43.0M298.2 47.9L295.4 43.0M299.1 47.1L296.5 43.1M315.5 46.9L319.0 42.9M317.2 48.4L323.0 44.6M321.5 57.1L326.3 55.9M321.5 59.0L326.3 58.3M323.2 60.9L331.3 60.9M323.2 62.5L331.3 62.5M323.2 63.2L331.3 61.4M322.7 63.5L329.8 59.4M321.9 63.8L326.3 58.5M322.9 62.1L326.3 53.2M323.4 61.0L324.7 49.8M327.0 64.6L329.0 59.4M328.8 65.7L331.3 62.5M330.1 67.0L333.6 64.0M331.0 68.0L335.6 64.0M331.5 69.0L336.5 64.0M331.5 69.3L334.2 64.0M332.2 69.3L333.3 64.0M333.4 69.3L333.6 64.0M335.0 69.4L335.2 64.0M336.6 69.4L336.8 64.0M338.2 69.5L338.4 64.0M340.5 69.5L342.0 64.0M343.1 69.6L346.4 64.0M344.0 71.3L347.1 67.5M344.7 72.3L348.6 67.5M345.5 73.3L350.1 67.5M345.8 73.4L348.0 67.5M347.3 73.4L349.3 67.5M349.5 73.4L352.6 67.5M350.8 75.3L354.3 72.1M351.7 76.3L356.5 72.1M352.1 77.9L357.1 73.5M352.5 77.9L356.4 72.1M353.0 78.0L354.8 72.1M354.0 78.1L354.8 72.1M355.8 79.7L357.1 76.4M358.1 79.8L360.6 76.5M359.0 81.5L362.1 78.9M359.8 83.2L363.7 81.0M361.0 84.6L366.3 82.2M361.6 86.1L366.3 84.0M362.3 87.5L366.7 85.6M363.1 89.0L367.9 87.3M363.3 90.9L367.9 89.8M364.9 92.5L372.1 91.5M365.1 94.2L372.1 93.2M366.4 95.7L375.4 94.5M366.5 97.3L375.4 96.4M365.4 99.4L372.1 99.2M365.6 101.3L372.1 101.7M364.8 103.0L370.3 103.9M364.2 105.0L369.6 106.7M363.6 107.1L368.7 109.8M363.0 108.9L367.9 112.1M361.7 110.2L366.7 114.2M360.7 111.8L365.9 116.7M360.0 113.3L365.8 118.8M359.3 114.4L365.7 119.8M358.5 115.7L365.7 121.2M358.0 116.5L365.7 121.0M357.4 117.2L365.7 120.5M357.1 118.0L365.7 120.2M357.1 119.1L365.7 120.2M357.1 120.2L365.7 120.3M357.0 121.7L365.7 121.7M357.0 123.3L365.6 123.3M357.0 124.1L365.6 122.5M357.1 124.0L365.8 119.3M357.7 121.7L366.7 110.6M356.8 120.4L361.3 106.8M356.4 120.0L357.1 105.7M359.2 120.1L362.2 106.2M361.5 123.8L365.9 116.6M362.1 126.9L365.5 124.3M365.6 128.3L375.7 125.4M365.7 130.7L375.9 129.3M365.7 131.3L375.8 127.9M365.7 132.8L375.9 129.4M366.7 133.1L376.0 130.0M367.0 134.3L376.0 131.3M366.6 136.5L374.9 134.5M366.5 138.3L374.6 136.9M366.2 140.0L373.5 138.7M366.8 140.6L373.5 139.4M366.9 142.1L373.4 140.9M366.9 143.8L373.3 143.0M367.5 145.9L375.2 145.9M367.6 147.5L375.4 147.5M367.6 149.3L375.4 149.6M367.6 151.1L375.4 151.9M367.6 153.0L375.4 154.3M366.3 154.9L372.7 156.9M365.2 156.7L370.5 159.3M364.1 158.5L368.9 161.9M362.3 159.6L365.7 162.8M360.6 160.4L363.0 163.2M359.4 161.3L362.0 164.1M358.4 162.4L361.9 165.7M357.8 163.5L361.8 166.5M357.3 164.7L361.7 167.4M356.8 166.3L361.5 169.2M356.3 168.0L361.2 171.5M355.0 169.5L359.4 173.4M353.5 170.9L357.5 175.5M352.4 172.8L356.6 178.9M351.4 173.7L356.3 180.1M350.5 174.2L356.3 180.3M348.8 174.8L353.7 180.4M347.5 175.8L350.8 180.4M346.2 176.6L348.4 180.4M344.0 176.6L345.0 180.4M341.3 176.6L340.5 180.4M338.9 176.6L336.4 180.5M337.4 176.0L333.8 180.5M337.0 174.8L333.2 179.9M336.8 173.7L333.2 179.6M336.4 174.2L335.1 180.5M335.6 174.5L335.7 180.5M334.1 174.7L334.4 180.5M332.1 173.1L331.6 176.4M329.8 173.0L328.0 176.4M325.8 174.3L319.1 180.9M324.9 173.3L317.0 181.1M323.4 172.9L313.2 182.8M322.9 172.6L313.6 183.5M321.3 172.4L312.1 183.3M320.0 172.3L311.1 183.5M319.7 171.1L311.2 182.6M319.6 169.7L311.6 181.5M319.3 169.7L312.9 182.5M320.0 169.2L317.9 181.0M319.6 169.1L319.6 180.8M318.0 169.2L318.0 181.0M316.4 169.3L316.4 181.3M313.1 170.4L310.0 184.3M306.3 167.1L295.4 176.3M304.5 162.9L290.9 167.2M305.0 153.3L291.5 148.5M307.1 151.3L296.3 145.5M308.4 150.3L298.5 145.1M309.5 149.3L299.6 144.5M310.0 148.4L299.7 144.4M311.0 146.8L302.2 142.8M312.7 145.7L306.6 142.5M314.2 144.7L309.8 142.3M316.5 144.3L313.5 142.0M317.3 142.5L314.5 139.2M317.8 141.4L314.7 138.7M318.8 140.9L314.8 138.5M320.0 140.0L316.5 137.9M320.8 138.9L318.2 137.6M321.5 137.7L319.4 137.0M322.0 135.9L319.9 134.8M324.4 129.3L318.8 123.9M325.0 128.9L318.9 125.1M325.7 128.3L319.0 126.0M325.8 127.4L319.0 126.1M325.8 127.0L319.2 128.2M326.8 126.4L322.1 129.4M326.1 125.9L321.8 129.3M324.5 125.5L320.2 129.0M323.3 124.8L319.2 127.8M323.2 122.3L318.8 123.8M318.0 116.8L304.0 113.8M318.3 115.6L304.2 113.2M319.1 114.5L304.9 112.6M319.2 113.8L304.9 113.4M321.3 114.6L311.3 118.7M323.4 114.2L317.8 120.4M322.8 115.6L318.9 124.7M324.1 118.4L325.5 132.6M325.5 117.4L332.6 129.8M325.0 117.9L332.8 129.8M324.6 119.5L332.5 131.4M323.9 120.6L331.7 132.6M316.2 115.9L315.7 119.1M314.1 115.8L312.6 118.8M312.2 115.3L309.3 118.5M311.6 113.7L308.7 116.8M311.0 112.2L308.0 115.3M310.3 111.7L308.1 115.3M309.2 111.5L307.8 115.3M307.5 111.3L306.1 115.0M305.3 111.1L302.7 114.6M304.5 109.4L301.9 111.8M303.4 107.9L299.6 110.4M302.8 106.0L299.0 107.7M300.9 105.1L295.1 107.4M295.3 102.9L281.5 106.6M295.0 100.5L280.9 102.8M294.9 99.2L280.9 102.0M295.1 98.8L281.7 103.9M305.8 101.0L315.5 111.5M306.2 102.2L316.5 112.1M304.9 104.1L313.8 115.2M297.1 101.4L297.4 107.4M295.4 101.4L295.5 107.4M293.8 101.4L293.9 107.4M292.2 101.4L292.3 107.4M291.1 101.4L292.3 107.4M290.3 101.5L293.0 107.4M289.2 101.8L292.1 107.4M288.2 102.8L290.5 107.4M287.1 103.5L288.9 107.4M285.1 104.1L286.2 109.5M282.8 104.7L282.7 111.5M281.0 104.6L280.5 111.5M279.1 103.4L277.9 108.0M277.1 103.1L275.3 107.4M276.2 102.7L274.9 107.4M276.5 101.7L276.6 107.4M277.8 103.2L282.6 111.5M278.6 103.9L285.9 110.9M278.3 105.1L285.6 111.5M273.0 104.8L274.6 107.4M271.8 105.8L273.9 109.4M270.8 106.2L273.8 109.8M270.2 106.7L273.9 109.3M269.9 108.2L273.6 110.8M269.2 109.5L272.1 111.7M267.8 110.3L269.8 112.0M266.3 110.7L268.3 112.4M265.2 111.5L267.8 113.9M264.9 113.0L267.3 115.1M264.5 114.5L266.6 116.6M263.4 116.1L265.3 119.0M259.6 120.7L260.5 131.8M257.0 117.9L256.0 123.8M255.0 116.6L253.2 120.0M252.5 116.2L248.3 119.7M251.9 115.2L246.6 119.7M251.3 114.1L244.9 119.6M251.8 113.7L247.9 119.7M251.5 113.7L250.1 119.8M250.7 113.7L250.9 119.9M249.1 113.7L249.2 119.8M247.5 113.7L247.6 119.7M245.9 113.7L246.0 119.6M244.3 113.7L244.4 119.5M242.7 112.3L242.8 115.5M241.1 112.3L241.2 115.5M239.5 112.3L239.6 115.5M237.9 112.3L238.0 115.5M236.3 112.4L236.4 115.5M234.8 115.2L234.9 123.6M232.3 118.4L231.0 132.6M233.6 113.8L231.0 110.8M236.1 113.8L235.1 110.7M238.1 113.8L238.1 110.7M240.0 113.8L240.3 110.6M242.1 113.7L243.4 110.6M244.7 113.7L247.7 110.5M245.4 114.7L249.7 110.5M246.1 115.7L251.6 110.4M246.2 116.3L250.7 110.4M246.4 116.4L248.4 110.5M247.2 116.5L247.6 110.5M248.8 116.5L249.1 110.5M250.4 116.6L250.7 110.4M252.4 116.6L253.6 110.4M254.2 118.2L255.8 114.7M256.4 118.4L259.4 114.7M259.2 121.8L265.3 118.9M259.4 123.7L264.8 121.4M259.8 125.1L264.9 122.9M260.3 126.5L264.9 124.0M260.8 127.8L265.0 125.2M261.3 129.1L265.1 126.5M262.1 130.6L265.2 128.4M262.8 132.0L265.3 130.4M263.5 133.6L265.8 132.3M264.3 135.0L267.0 133.5M265.1 136.4L268.2 134.8M265.9 137.7L269.0 135.9M266.7 138.9L269.7 136.9M267.5 140.0L270.2 137.8M268.5 141.2L271.2 138.7M269.6 142.2L272.2 139.5M270.9 143.2L273.5 140.5M272.0 144.4L274.3 142.1M273.0 145.7L275.2 143.8M274.0 147.1L276.3 145.2M275.0 148.4L277.6 146.6M276.0 149.7L278.7 148.0M276.9 151.2L279.5 149.7M277.7 152.7L280.3 151.4M278.4 154.3L281.1 153.2M279.0 155.9L282.0 155.0M279.5 157.5L282.8 156.8M281.7 160.6L288.1 159.6M281.4 162.4L286.9 161.9M281.3 164.2L286.1 164.1M281.4 166.0L286.1 166.2M281.5 167.8L287.1 168.4M281.7 169.6L288.2 170.7M281.7 171.2L289.0 172.6M281.8 172.8L289.6 174.1M278.3 179.3L281.9 185.1M275.8 180.7L278.0 189.2M273.1 180.7L273.2 189.2M271.5 180.7L271.5 189.2M269.9 180.7L269.9 189.2M268.3 180.7L268.3 189.2M266.7 180.7L266.7 189.2M265.1 180.7L265.1 189.2M263.5 180.7L263.5 189.2M261.9 180.7L261.9 189.2M259.3 180.7L257.6 189.2M256.1 180.7L251.4 189.2M253.7 180.3L246.5 189.2M253.2 179.3L245.5 189.2M253.8 178.3L247.5 189.2M256.2 178.3L257.4 189.2M256.3 178.9L259.8 189.2M254.5 179.7L256.4 189.2M251.0 180.3L248.0 189.2M248.7 179.3L241.8 189.2M248.0 176.8L240.4 185.0M247.8 176.4L241.4 185.6M246.7 177.4L241.4 188.7M245.7 176.6L241.4 186.7M243.4 175.2L237.7 183.1M242.9 172.0L237.7 176.7M242.5 169.5L237.6 172.2M241.6 167.8L236.5 170.0M240.9 166.3L235.7 168.4M240.4 164.7L235.1 166.8M240.0 163.2L234.9 165.1M239.6 161.7L234.8 163.6M238.7 160.4L233.4 162.6M237.9 159.0L232.5 161.4M237.5 157.4L232.5 159.6M237.1 155.8L232.5 157.6M236.6 154.1L232.5 155.6M236.4 152.4L232.5 153.6M236.1 150.8L232.5 151.8M235.9 149.2L232.5 150.1M235.6 147.7L232.5 148.6M235.3 146.1L232.5 147.1M235.0 144.7L232.5 145.8M234.0 143.7L231.0 145.7M233.1 142.8L229.5 145.7M231.1 142.3L226.5 145.7M228.9 141.9L222.7 145.7M227.8 140.2L220.3 143.5M227.2 137.7L218.8 139.4M227.1 135.5L218.8 136.1M227.0 133.8L218.8 134.2M226.9 132.0L218.8 131.9M226.9 130.1L218.8 129.6M227.5 128.3L220.0 127.4M227.8 126.1L220.3 123.9M228.1 123.3L220.6 118.9M228.4 121.9L220.6 117.5M229.4 121.4L220.6 117.1M230.0 120.7L220.6 116.6M230.0 120.0L220.6 117.7M230.0 119.6L220.6 119.5M230.0 117.5L220.6 116.3M290.8 153.3L289.6 150.6M292.5 151.9L291.5 146.4M294.7 151.7L294.8 145.7M296.3 151.6L296.6 145.5M297.9 151.6L298.2 145.3M299.6 151.2L299.9 144.1M301.2 150.8L301.5 142.9M302.8 150.8L303.1 142.8M304.4 150.9L304.7 142.7M306.3 150.8L307.3 142.5M313.2 149.1L321.1 137.1M310.6 157.9L312.0 156.9M319.0 157.1L332.2 151.6M319.9 160.1L333.9 157.3M316.6 163.5L324.1 164.2M317.9 165.9L329.1 168.5M318.5 168.6L331.9 173.6M317.8 170.3L331.1 175.6M317.0 171.6L329.9 176.4M315.6 172.5L326.8 176.4M314.2 173.7L323.8 176.8M313.7 175.9L323.3 180.3M311.0 177.2L316.4 181.3M310.0 179.5L314.5 185.1M308.1 179.6L312.1 185.1M306.6 180.1L310.8 186.0M305.5 181.0L310.0 187.4M304.8 182.6L309.0 189.1M304.2 184.5L308.5 191.9M301.6 184.9L303.9 193.4M298.9 184.8L299.1 193.4M296.8 184.8L296.3 193.4M295.2 184.7L294.6 193.4M293.1 184.6L291.6 193.4M290.8 183.3L287.9 189.6M288.6 182.2L284.5 186.8M282.9 179.1L269.4 183.9M282.4 177.1L268.6 181.1M282.1 175.9L268.5 180.4M284.2 172.2L277.1 175.3M283.9 170.6L277.4 173.6M283.6 168.6L277.8 170.3M283.4 166.6L278.5 167.3M283.5 164.5L278.7 164.3M283.5 162.4L278.3 161.2M283.8 160.3L277.7 157.8M286.4 159.5L283.8 158.2M287.2 158.0L284.8 156.5M288.1 156.6L285.6 155.0M289.3 155.1L287.3 153.1M290.5 153.6L289.1 151.1" stroke="#fff" stroke-width="0.45" stroke-opacity="0.7" fill="none"/>
<line x1="286.0" y1="50.7" x2="287.1" y2="30.3" stroke="#fcce25" stroke-width="0.9"/>
<line x1="289.2" y1="50.9" x2="294.2" y2="41.4" stroke="#f0f921" stroke-width="0.9"/>
<line x1="290.7" y1="52.8" x2="295.1" y2="42.9" stroke="#fca636" stroke-width="0.9"/>
<line x1="292.2" y1="53.4" x2="285.2" y2="32.5" stroke="#fcce25" stroke-width="0.9"/>
<line x1="293.3" y1="50.9" x2="282.7" y2="34.3" stroke="#f0f921" stroke-width="0.9"/>
</g>
<rect x="240" y="110.6" width="17.5" height="8.4" fill="#111"/>
<path d="M230.1 110.8 L230.1 80.6 L232.4 80.6 L232.4 75.9 L237.9 75.9 L237.9 71.7 L243.5 71.7 L243.5 67.8 L248.4 67.8 L248.4 64.4 L252.7 64.4 L252.7 60.4 L256.9 60.4 L256.9 63.3 L266.2 63.3 L266.2 72.7 L274.4 72.7 L274.4 66.0 L276.9 63.3 L276.9 59.0 L272.4 59.0 L272.2 55.7 L262.2 55.4 L262.2 51.1 L268.2 51.1 L268.2 46.5 L278.9 46.5 L278.9 50.3 L290.5 51.0 L290.9 54.1 L292.1 54.1 L292.6 51.0 L300.0 50.5 L300.9 48.3 L302.1 47.0 L313.0 46.9 L313.9 50.4 L316.4 51.4 L317.2 55.0 L318.9 56.8 L318.9 66.7 L328.0 67.5 L328.8 72.1 L342.1 72.6 L343.0 76.5 L348.8 76.5 L349.6 81.0 L357.1 81.6 L357.9 85.6 L360.4 89.2 L361.3 94.6 L362.1 101.7 L360.4 107.1 L358.8 108.2 L354.6 112.9 L352.4 116.3 L352.4 127.7 L360.2 127.7 L360.2 134.7 L362.2 134.7 L362.2 141.2 L363.4 141.2 L363.4 152.0 L362.2 155.9 L360.0 158.5 L356.4 160.7 L354.9 163.4 L353.4 166.6 L350.5 169.3 L346.2 171.5 L345.4 174.5 L339.6 174.5 L338.8 170.5 L333.9 171.6 L329.5 171.0 L328.9 167.0 L324.5 166.2 L323.9 162.8 L313.9 162.8 L312.3 162.8 L311.5 158.8 L312.3 155.5 L313.9 152.9 L315.4 151.3 L316.2 146.2 L318.5 145.3 L319.3 142.8 L321.6 142.0 L322.4 138.6 L324.0 134.4 L327.1 132.7 L329.4 129.3 L329.4 124.2 L325.5 123.4 L325.5 117.5 L327.1 114.9 L326.3 110.7 L320.9 110.7 L320.1 114.2 L313.9 114.2 L312.3 109.8 L306.1 109.1 L305.3 105.7 L302.9 102.3 L302.2 94.7 L300.6 93.8 L300.6 98.0 L287.9 98.2 L286.4 101.4 L277.0 100.6 L276.3 98.2 L274.8 99.0 L274.1 102.9 L268.3 104.5 L267.5 109.3 L263.9 110.0 L263.2 113.9 L262.1 114.7 L254.7 114.7 L254.7 110.4 Z M235.0 115.5 L243.1 115.5 L243.1 119.5 L254.7 120.1 L256.3 124.5 L258.8 130.0 L262.1 133.6 L263.8 138.1 L267.1 142.6 L271.3 146.2 L274.6 150.7 L276.4 153.4 L277.7 157.4 L278.9 165.6 L277.7 171.0 L277.0 176.2 L257.7 176.2 L257.2 172.4 L255.1 172.4 L252.7 175.7 L252.0 171.6 L246.4 171.0 L243.9 165.6 L242.0 160.1 L238.9 153.4 L237.5 147.8 L236.2 143.8 L235.0 141.1 L231.9 139.7 L231.2 130.3 L232.5 124.2 L235.0 123.6 Z M291.4 154.7 L309.2 155.5 L310.0 158.8 L311.5 158.8 L312.7 162.8 L310.8 167.0 L308.9 172.4 L307.7 176.4 L303.3 177.0 L302.0 180.5 L290.8 179.7 L289.5 173.7 L287.7 169.7 L285.8 165.6 L286.4 162.8 L288.9 158.1 Z" fill="#bde1e9"/>
<line x1="230.1" y1="110.8" x2="230.1" y2="80.6" stroke="#b12a90" stroke-width="1.3" stroke-linecap="round"/>
<line x1="230.1" y1="80.6" x2="232.4" y2="80.6" stroke="#b12a90" stroke-width="1.3" stroke-linecap="round"/>
<line x1="232.4" y1="80.6" x2="232.4" y2="75.9" stroke="#270692" stroke-width="1.3" stroke-linecap="round"/>
<line x1="232.4" y1="75.9" x2="237.9" y2="75.9" stroke="#270692" stroke-width="1.3" stroke-linecap="round"/>
<line x1="237.9" y1="75.9" x2="237.9" y2="71.7" stroke="#270692" stroke-width="1.3" stroke-linecap="round"/>
<line x1="237.9" y1="71.7" x2="243.5" y2="71.7" stroke="#270692" stroke-width="1.3" stroke-linecap="round"/>
<line x1="243.5" y1="71.7" x2="243.5" y2="67.8" stroke="#270692" stroke-width="1.3" stroke-linecap="round"/>
<line x1="243.5" y1="67.8" x2="248.4" y2="67.8" stroke="#b12a90" stroke-width="1.3" stroke-linecap="round"/>
<line x1="248.4" y1="67.8" x2="248.4" y2="64.4" stroke="#b12a90" stroke-width="1.3" stroke-linecap="round"/>
<line x1="248.4" y1="64.4" x2="252.7" y2="64.4" stroke="#b12a90" stroke-width="1.3" stroke-linecap="round"/>
<line x1="252.7" y1="64.4" x2="252.7" y2="60.4" stroke="#b12a90" stroke-width="1.3" stroke-linecap="round"/>
<line x1="252.7" y1="60.4" x2="256.9" y2="60.4" stroke="#b12a90" stroke-width="1.3" stroke-linecap="round"/>
<line x1="256.9" y1="60.4" x2="256.9" y2="63.3" stroke="#b12a90" stroke-width="1.3" stroke-linecap="round"/>
<line x1="256.9" y1="63.3" x2="266.2" y2="63.3" stroke="#a01b9a" stroke-width="1.3" stroke-linecap="round"/>
<line x1="266.2" y1="63.3" x2="266.2" y2="72.7" stroke="#6e01a8" stroke-width="1.3" stroke-linecap="round"/>
<line x1="266.2" y1="72.7" x2="274.4" y2="72.7" stroke="#6e01a8" stroke-width="1.3" stroke-linecap="round"/>
<line x1="274.4" y1="72.7" x2="274.4" y2="66.0" stroke="#6e01a8" stroke-width="1.3" stroke-linecap="round"/>
<line x1="274.4" y1="66.0" x2="276.9" y2="63.3" stroke="#6e01a8" stroke-width="1.3" stroke-linecap="round"/>
<line x1="276.9" y1="63.3" x2="276.9" y2="59.0" stroke="#6e01a8" stroke-width="1.3" stroke-linecap="round"/>
<line x1="276.9" y1="59.0" x2="272.4" y2="59.0" stroke="#6e01a8" stroke-width="1.3" stroke-linecap="round"/>
<line x1="272.4" y1="59.0" x2="272.2" y2="55.7" stroke="#6e01a8" stroke-width="1.3" stroke-linecap="round"/>
<line x1="272.2" y1="55.7" x2="262.2" y2="55.4" stroke="#6e01a8" stroke-width="1.3" stroke-linecap="round"/>
<line x1="262.2" y1="55.4" x2="262.2" y2="51.1" stroke="#a01b9a" stroke-width="1.3" stroke-linecap="round"/>
<line x1="262.2" y1="51.1" x2="268.2" y2="51.1" stroke="#6e01a8" stroke-width="1.3" stroke-linecap="round"/>
<line x1="268.2" y1="51.1" x2="268.2" y2="46.5" stroke="#6e01a8" stroke-width="1.3" stroke-linecap="round"/>
<line x1="268.2" y1="46.5" x2="278.9" y2="46.5" stroke="#6e01a8" stroke-width="1.3" stroke-linecap="round"/>
<line x1="278.9" y1="46.5" x2="278.9" y2="50.3" stroke="#6e01a8" stroke-width="1.3" stroke-linecap="round"/>
<line x1="278.9" y1="50.3" x2="290.5" y2="51.0" stroke="#6e01a8" stroke-width="1.3" stroke-linecap="round"/>
<line x1="290.5" y1="51.0" x2="290.9" y2="54.1" stroke="#fcb231" stroke-width="1.3" stroke-linecap="round"/>
<line x1="290.9" y1="54.1" x2="292.1" y2="54.1" stroke="#fcb231" stroke-width="1.3" stroke-linecap="round"/>
<line x1="292.1" y1="54.1" x2="292.6" y2="51.0" stroke="#fcb231" stroke-width="1.3" stroke-linecap="round"/>
<line x1="292.6" y1="51.0" x2="300.0" y2="50.5" stroke="#6e01a8" stroke-width="1.3" stroke-linecap="round"/>
<line x1="300.0" y1="50.5" x2="300.9" y2="48.3" stroke="#6e01a8" stroke-width="1.3" stroke-linecap="round"/>
<line x1="300.9" y1="48.3" x2="302.1" y2="47.0" stroke="#6e01a8" stroke-width="1.3" stroke-linecap="round"/>
<line x1="302.1" y1="47.0" x2="313.0" y2="46.9" stroke="#6e01a8" stroke-width="1.3" stroke-linecap="round"/>
<line x1="313.0" y1="46.9" x2="313.9" y2="50.4" stroke="#6e01a8" stroke-width="1.3" stroke-linecap="round"/>
<line x1="313.9" y1="50.4" x2="316.4" y2="51.4" stroke="#6e01a8" stroke-width="1.3" stroke-linecap="round"/>
<line x1="316.4" y1="51.4" x2="317.2" y2="55.0" stroke="#270692" stroke-width="1.3" stroke-linecap="round"/>
<line x1="317.2" y1="55.0" x2="318.9" y2="56.8" stroke="#270692" stroke-width="1.3" stroke-linecap="round"/>
<line x1="318.9" y1="56.8" x2="318.9" y2="66.7" stroke="#6e01a8" stroke-width="1.3" stroke-linecap="round"/>
<line x1="318.9" y1="66.7" x2="328.0" y2="67.5" stroke="#6e01a8" stroke-width="1.3" stroke-linecap="round"/>
<line x1="328.0" y1="67.5" x2="328.8" y2="72.1" stroke="#6e01a8" stroke-width="1.3" stroke-linecap="round"/>
<line x1="328.8" y1="72.1" x2="342.1" y2="72.6" stroke="#6e01a8" stroke-width="1.3" stroke-linecap="round"/>
<line x1="342.1" y1="72.6" x2="343.0" y2="76.5" stroke="#6e01a8" stroke-width="1.3" stroke-linecap="round"/>
<line x1="343.0" y1="76.5" x2="348.8" y2="76.5" stroke="#6e01a8" stroke-width="1.3" stroke-linecap="round"/>
<line x1="348.8" y1="76.5" x2="349.6" y2="81.0" stroke="#6e01a8" stroke-width="1.3" stroke-linecap="round"/>
<line x1="349.6" y1="81.0" x2="357.1" y2="81.6" stroke="#6e01a8" stroke-width="1.3" stroke-linecap="round"/>
<line x1="357.1" y1="81.6" x2="357.9" y2="85.6" stroke="#6e01a8" stroke-width="1.3" stroke-linecap="round"/>
<line x1="357.9" y1="85.6" x2="360.4" y2="89.2" stroke="#6e01a8" stroke-width="1.3" stroke-linecap="round"/>
<line x1="360.4" y1="89.2" x2="361.3" y2="94.6" stroke="#6e01a8" stroke-width="1.3" stroke-linecap="round"/>
<line x1="361.3" y1="94.6" x2="362.1" y2="101.7" stroke="#6e01a8" stroke-width="1.3" stroke-linecap="round"/>
<line x1="362.1" y1="101.7" x2="360.4" y2="107.1" stroke="#6e01a8" stroke-width="1.3" stroke-linecap="round"/>
<line x1="360.4" y1="107.1" x2="358.8" y2="108.2" stroke="#6e01a8" stroke-width="1.3" stroke-linecap="round"/>
<line x1="358.8" y1="108.2" x2="354.6" y2="112.9" stroke="#6e01a8" stroke-width="1.3" stroke-linecap="round"/>
<line x1="354.6" y1="112.9" x2="352.4" y2="116.3" stroke="#c43e7f" stroke-width="1.3" stroke-linecap="round"/>
<line x1="352.4" y1="116.3" x2="352.4" y2="127.7" stroke="#c43e7f" stroke-width="1.3" stroke-linecap="round"/>
<line x1="352.4" y1="127.7" x2="360.2" y2="127.7" stroke="#c43e7f" stroke-width="1.3" stroke-linecap="round"/>
<line x1="360.2" y1="127.7" x2="360.2" y2="134.7" stroke="#c43e7f" stroke-width="1.3" stroke-linecap="round"/>
<line x1="360.2" y1="134.7" x2="362.2" y2="134.7" stroke="#c43e7f" stroke-width="1.3" stroke-linecap="round"/>
<line x1="362.2" y1="134.7" x2="362.2" y2="141.2" stroke="#c43e7f" stroke-width="1.3" stroke-linecap="round"/>
<line x1="362.2" y1="141.2" x2="363.4" y2="141.2" stroke="#c43e7f" stroke-width="1.3" stroke-linecap="round"/>
<line x1="363.4" y1="141.2" x2="363.4" y2="152.0" stroke="#6e01a8" stroke-width="1.3" stroke-linecap="round"/>
<line x1="363.4" y1="152.0" x2="362.2" y2="155.9" stroke="#6e01a8" stroke-width="1.3" stroke-linecap="round"/>
<line x1="362.2" y1="155.9" x2="360.0" y2="158.5" stroke="#6e01a8" stroke-width="1.3" stroke-linecap="round"/>
<line x1="360.0" y1="158.5" x2="356.4" y2="160.7" stroke="#6e01a8" stroke-width="1.3" stroke-linecap="round"/>
<line x1="356.4" y1="160.7" x2="354.9" y2="163.4" stroke="#6e01a8" stroke-width="1.3" stroke-linecap="round"/>
<line x1="354.9" y1="163.4" x2="353.4" y2="166.6" stroke="#6e01a8" stroke-width="1.3" stroke-linecap="round"/>
<line x1="353.4" y1="166.6" x2="350.5" y2="169.3" stroke="#6e01a8" stroke-width="1.3" stroke-linecap="round"/>
<line x1="350.5" y1="169.3" x2="346.2" y2="171.5" stroke="#6e01a8" stroke-width="1.3" stroke-linecap="round"/>
<line x1="346.2" y1="171.5" x2="345.4" y2="174.5" stroke="#6e01a8" stroke-width="1.3" stroke-linecap="round"/>
<line x1="345.4" y1="174.5" x2="339.6" y2="174.5" stroke="#6e01a8" stroke-width="1.3" stroke-linecap="round"/>
<line x1="339.6" y1="174.5" x2="338.8" y2="170.5" stroke="#6e01a8" stroke-width="1.3" stroke-linecap="round"/>
<line x1="338.8" y1="170.5" x2="333.9" y2="171.6" stroke="#6e01a8" stroke-width="1.3" stroke-linecap="round"/>
<line x1="333.9" y1="171.6" x2="329.5" y2="171.0" stroke="#6e01a8" stroke-width="1.3" stroke-linecap="round"/>
<line x1="329.5" y1="171.0" x2="328.9" y2="167.0" stroke="#6e01a8" stroke-width="1.3" stroke-linecap="round"/>
<line x1="328.9" y1="167.0" x2="324.5" y2="166.2" stroke="#6e01a8" stroke-width="1.3" stroke-linecap="round"/>
<line x1="324.5" y1="166.2" x2="323.9" y2="162.8" stroke="#49039f" stroke-width="1.3" stroke-linecap="round"/>
<line x1="323.9" y1="162.8" x2="313.9" y2="162.8" stroke="#49039f" stroke-width="1.3" stroke-linecap="round"/>
<line x1="313.9" y1="162.8" x2="312.3" y2="162.8" stroke="#db5b69" stroke-width="1.3" stroke-linecap="round"/>
<line x1="312.3" y1="162.8" x2="311.5" y2="158.8" stroke="#db5b69" stroke-width="1.3" stroke-linecap="round"/>
<line x1="311.5" y1="158.8" x2="312.3" y2="155.5" stroke="#db5b69" stroke-width="1.3" stroke-linecap="round"/>
<line x1="312.3" y1="155.5" x2="313.9" y2="152.9" stroke="#49039f" stroke-width="1.3" stroke-linecap="round"/>
<line x1="313.9" y1="152.9" x2="315.4" y2="151.3" stroke="#49039f" stroke-width="1.3" stroke-linecap="round"/>
<line x1="315.4" y1="151.3" x2="316.2" y2="146.2" stroke="#49039f" stroke-width="1.3" stroke-linecap="round"/>
<line x1="316.2" y1="146.2" x2="318.5" y2="145.3" stroke="#49039f" stroke-width="1.3" stroke-linecap="round"/>
<line x1="318.5" y1="145.3" x2="319.3" y2="142.8" stroke="#49039f" stroke-width="1.3" stroke-linecap="round"/>
<line x1="319.3" y1="142.8" x2="321.6" y2="142.0" stroke="#49039f" stroke-width="1.3" stroke-linecap="round"/>
<line x1="321.6" y1="142.0" x2="322.4" y2="138.6" stroke="#49039f" stroke-width="1.3" stroke-linecap="round"/>
<line x1="322.4" y1="138.6" x2="324.0" y2="134.4" stroke="#49039f" stroke-width="1.3" stroke-linecap="round"/>
<line x1="324.0" y1="134.4" x2="327.1" y2="132.7" stroke="#49039f" stroke-width="1.3" stroke-linecap="round"/>
<line x1="327.1" y1="132.7" x2="329.4" y2="129.3" stroke="#49039f" stroke-width="1.3" stroke-linecap="round"/>
<line x1="329.4" y1="129.3" x2="329.4" y2="124.2" stroke="#6e01a8" stroke-width="1.3" stroke-linecap="round"/>
<line x1="329.4" y1="124.2" x2="325.5" y2="123.4" stroke="#49039f" stroke-width="1.3" stroke-linecap="round"/>
<line x1="325.5" y1="123.4" x2="325.5" y2="117.5" stroke="#49039f" stroke-width="1.3" stroke-linecap="round"/>
<line x1="325.5" y1="117.5" x2="327.1" y2="114.9" stroke="#49039f" stroke-width="1.3" stroke-linecap="round"/>
<line x1="327.1" y1="114.9" x2="326.3" y2="110.7" stroke="#49039f" stroke-width="1.3" stroke-linecap="round"/>
<line x1="326.3" y1="110.7" x2="320.9" y2="110.7" stroke="#49039f" stroke-width="1.3" stroke-linecap="round"/>
<line x1="320.9" y1="110.7" x2="320.1" y2="114.2" stroke="#49039f" stroke-width="1.3" stroke-linecap="round"/>
<line x1="320.1" y1="114.2" x2="313.9" y2="114.2" stroke="#49039f" stroke-width="1.3" stroke-linecap="round"/>
<line x1="313.9" y1="114.2" x2="312.3" y2="109.8" stroke="#49039f" stroke-width="1.3" stroke-linecap="round"/>
<line x1="312.3" y1="109.8" x2="306.1" y2="109.1" stroke="#49039f" stroke-width="1.3" stroke-linecap="round"/>
<line x1="306.1" y1="109.1" x2="305.3" y2="105.7" stroke="#49039f" stroke-width="1.3" stroke-linecap="round"/>
<line x1="305.3" y1="105.7" x2="302.9" y2="102.3" stroke="#49039f" stroke-width="1.3" stroke-linecap="round"/>
<line x1="302.9" y1="102.3" x2="302.2" y2="94.7" stroke="#49039f" stroke-width="1.3" stroke-linecap="round"/>
<line x1="302.2" y1="94.7" x2="300.6" y2="93.8" stroke="#49039f" stroke-width="1.3" stroke-linecap="round"/>
<line x1="300.6" y1="93.8" x2="300.6" y2="98.0" stroke="#49039f" stroke-width="1.3" stroke-linecap="round"/>
<line x1="300.6" y1="98.0" x2="287.9" y2="98.2" stroke="#49039f" stroke-width="1.3" stroke-linecap="round"/>
<line x1="287.9" y1="98.2" x2="286.4" y2="101.4" stroke="#49039f" stroke-width="1.3" stroke-linecap="round"/>
<line x1="286.4" y1="101.4" x2="277.0" y2="100.6" stroke="#49039f" stroke-width="1.3" stroke-linecap="round"/>
<line x1="277.0" y1="100.6" x2="276.3" y2="98.2" stroke="#49039f" stroke-width="1.3" stroke-linecap="round"/>
<line x1="276.3" y1="98.2" x2="274.8" y2="99.0" stroke="#49039f" stroke-width="1.3" stroke-linecap="round"/>
<line x1="274.8" y1="99.0" x2="274.1" y2="102.9" stroke="#49039f" stroke-width="1.3" stroke-linecap="round"/>
<line x1="274.1" y1="102.9" x2="268.3" y2="104.5" stroke="#49039f" stroke-width="1.3" stroke-linecap="round"/>
<line x1="268.3" y1="104.5" x2="267.5" y2="109.3" stroke="#49039f" stroke-width="1.3" stroke-linecap="round"/>
<line x1="267.5" y1="109.3" x2="263.9" y2="110.0" stroke="#49039f" stroke-width="1.3" stroke-linecap="round"/>
<line x1="263.9" y1="110.0" x2="263.2" y2="113.9" stroke="#49039f" stroke-width="1.3" stroke-linecap="round"/>
<line x1="263.2" y1="113.9" x2="262.1" y2="114.7" stroke="#49039f" stroke-width="1.3" stroke-linecap="round"/>
<line x1="262.1" y1="114.7" x2="254.7" y2="114.7" stroke="#49039f" stroke-width="1.3" stroke-linecap="round"/>
<line x1="254.7" y1="114.7" x2="254.7" y2="110.4" stroke="#c43e7f" stroke-width="1.3" stroke-linecap="round"/>
<line x1="254.7" y1="110.4" x2="230.1" y2="110.8" stroke="#c43e7f" stroke-width="1.3" stroke-linecap="round"/>
<line x1="235.0" y1="115.5" x2="243.1" y2="115.5" stroke="#c43e7f" stroke-width="1.3" stroke-linecap="round"/>
<line x1="243.1" y1="115.5" x2="243.1" y2="119.5" stroke="#6e01a8" stroke-width="1.3" stroke-linecap="round"/>
<line x1="243.1" y1="119.5" x2="254.7" y2="120.1" stroke="#6e01a8" stroke-width="1.3" stroke-linecap="round"/>
<line x1="254.7" y1="120.1" x2="256.3" y2="124.5" stroke="#49039f" stroke-width="1.3" stroke-linecap="round"/>
<line x1="256.3" y1="124.5" x2="258.8" y2="130.0" stroke="#49039f" stroke-width="1.3" stroke-linecap="round"/>
<line x1="258.8" y1="130.0" x2="262.1" y2="133.6" stroke="#49039f" stroke-width="1.3" stroke-linecap="round"/>
<line x1="262.1" y1="133.6" x2="263.8" y2="138.1" stroke="#49039f" stroke-width="1.3" stroke-linecap="round"/>
<line x1="263.8" y1="138.1" x2="267.1" y2="142.6" stroke="#49039f" stroke-width="1.3" stroke-linecap="round"/>
<line x1="267.1" y1="142.6" x2="271.3" y2="146.2" stroke="#49039f" stroke-width="1.3" stroke-linecap="round"/>
<line x1="271.3" y1="146.2" x2="274.6" y2="150.7" stroke="#49039f" stroke-width="1.3" stroke-linecap="round"/>
<line x1="274.6" y1="150.7" x2="276.4" y2="153.4" stroke="#49039f" stroke-width="1.3" stroke-linecap="round"/>
<line x1="276.4" y1="153.4" x2="277.7" y2="157.4" stroke="#49039f" stroke-width="1.3" stroke-linecap="round"/>
<line x1="277.7" y1="157.4" x2="278.9" y2="165.6" stroke="#b42d8e" stroke-width="1.3" stroke-linecap="round"/>
<line x1="278.9" y1="165.6" x2="277.7" y2="171.0" stroke="#b42d8e" stroke-width="1.3" stroke-linecap="round"/>
<line x1="277.7" y1="171.0" x2="277.0" y2="176.2" stroke="#b42d8e" stroke-width="1.3" stroke-linecap="round"/>
<line x1="277.0" y1="176.2" x2="257.7" y2="176.2" stroke="#b42d8e" stroke-width="1.3" stroke-linecap="round"/>
<line x1="257.7" y1="176.2" x2="257.2" y2="172.4" stroke="#b42d8e" stroke-width="1.3" stroke-linecap="round"/>
<line x1="257.2" y1="172.4" x2="255.1" y2="172.4" stroke="#b42d8e" stroke-width="1.3" stroke-linecap="round"/>
<line x1="255.1" y1="172.4" x2="252.7" y2="175.7" stroke="#b42d8e" stroke-width="1.3" stroke-linecap="round"/>
<line x1="252.7" y1="175.7" x2="252.0" y2="171.6" stroke="#b42d8e" stroke-width="1.3" stroke-linecap="round"/>
<line x1="252.0" y1="171.6" x2="246.4" y2="171.0" stroke="#b42d8e" stroke-width="1.3" stroke-linecap="round"/>
<line x1="246.4" y1="171.0" x2="243.9" y2="165.6" stroke="#b42d8e" stroke-width="1.3" stroke-linecap="round"/>
<line x1="243.9" y1="165.6" x2="242.0" y2="160.1" stroke="#5e01a5" stroke-width="1.3" stroke-linecap="round"/>
<line x1="242.0" y1="160.1" x2="238.9" y2="153.4" stroke="#5e01a5" stroke-width="1.3" stroke-linecap="round"/>
<line x1="238.9" y1="153.4" x2="237.5" y2="147.8" stroke="#5e01a5" stroke-width="1.3" stroke-linecap="round"/>
<line x1="237.5" y1="147.8" x2="236.2" y2="143.8" stroke="#5e01a5" stroke-width="1.3" stroke-linecap="round"/>
<line x1="236.2" y1="143.8" x2="235.0" y2="141.1" stroke="#5e01a5" stroke-width="1.3" stroke-linecap="round"/>
<line x1="235.0" y1="141.1" x2="231.9" y2="139.7" stroke="#5e01a5" stroke-width="1.3" stroke-linecap="round"/>
<line x1="231.9" y1="139.7" x2="231.2" y2="130.3" stroke="#5e01a5" stroke-width="1.3" stroke-linecap="round"/>
<line x1="231.2" y1="130.3" x2="232.5" y2="124.2" stroke="#b93389" stroke-width="1.3" stroke-linecap="round"/>
<line x1="232.5" y1="124.2" x2="235.0" y2="123.6" stroke="#b93389" stroke-width="1.3" stroke-linecap="round"/>
<line x1="235.0" y1="123.6" x2="235.0" y2="115.5" stroke="#b93389" stroke-width="1.3" stroke-linecap="round"/>
<line x1="291.4" y1="154.7" x2="309.2" y2="155.5" stroke="#49039f" stroke-width="1.3" stroke-linecap="round"/>
<line x1="309.2" y1="155.5" x2="310.0" y2="158.8" stroke="#db5b69" stroke-width="1.3" stroke-linecap="round"/>
<line x1="310.0" y1="158.8" x2="311.5" y2="158.8" stroke="#db5b69" stroke-width="1.3" stroke-linecap="round"/>
<line x1="311.5" y1="158.8" x2="312.7" y2="162.8" stroke="#db5b69" stroke-width="1.3" stroke-linecap="round"/>
<line x1="312.7" y1="162.8" x2="310.8" y2="167.0" stroke="#db5b69" stroke-width="1.3" stroke-linecap="round"/>
<line x1="310.8" y1="167.0" x2="308.9" y2="172.4" stroke="#db5b69" stroke-width="1.3" stroke-linecap="round"/>
<line x1="308.9" y1="172.4" x2="307.7" y2="176.4" stroke="#b42d8e" stroke-width="1.3" stroke-linecap="round"/>
<line x1="307.7" y1="176.4" x2="303.3" y2="177.0" stroke="#b42d8e" stroke-width="1.3" stroke-linecap="round"/>
<line x1="303.3" y1="177.0" x2="302.0" y2="180.5" stroke="#b42d8e" stroke-width="1.3" stroke-linecap="round"/>
<line x1="302.0" y1="180.5" x2="290.8" y2="179.7" stroke="#b42d8e" stroke-width="1.3" stroke-linecap="round"/>
<line x1="290.8" y1="179.7" x2="289.5" y2="173.7" stroke="#b42d8e" stroke-width="1.3" stroke-linecap="round"/>
<line x1="289.5" y1="173.7" x2="287.7" y2="169.7" stroke="#b42d8e" stroke-width="1.3" stroke-linecap="round"/>
<line x1="287.7" y1="169.7" x2="285.8" y2="165.6" stroke="#6e01a8" stroke-width="1.3" stroke-linecap="round"/>
<line x1="285.8" y1="165.6" x2="286.4" y2="162.8" stroke="#e16462" stroke-width="1.3" stroke-linecap="round"/>
<line x1="286.4" y1="162.8" x2="288.9" y2="158.1" stroke="#e16462" stroke-width="1.3" stroke-linecap="round"/>
<line x1="288.9" y1="158.1" x2="291.4" y2="154.7" stroke="#49039f" stroke-width="1.3" stroke-linecap="round"/>
<rect x="358.9" y="205.4" width="70.6" height="3.2" fill="url(#plasma)"/>
<path d="M429.5 205.4 L431.8 207.0 L429.5 208.6 Z" fill="#f0f921"/>
<path d="M358.9 205.4 H429.5 L431.8 207.0 L429.5 208.6 H358.9 Z" fill="none" stroke="#222" stroke-width="0.6"/>
<line x1="359.1" y1="208.6" x2="359.1" y2="210.6" stroke="#333" stroke-width="0.6"/>
<text x="359.1" y="218.5" font-size="8.7" font-weight="normal" fill="#2a2a2a" text-anchor="middle" stroke="#2a2a2a" stroke-width="0.2">0</text>
<line x1="383.5" y1="208.6" x2="383.5" y2="210.6" stroke="#333" stroke-width="0.6"/>
<text x="383.5" y="218.5" font-size="8.7" font-weight="normal" fill="#2a2a2a" text-anchor="middle" stroke="#2a2a2a" stroke-width="0.2">250</text>
<line x1="408.2" y1="208.6" x2="408.2" y2="210.6" stroke="#333" stroke-width="0.6"/>
<text x="408.2" y="218.5" font-size="8.7" font-weight="normal" fill="#2a2a2a" text-anchor="middle" stroke="#2a2a2a" stroke-width="0.2">500</text>
<text x="337.2" y="230.6" font-size="10.0" font-weight="normal" fill="#2a2a2a" text-anchor="start" textLength="116.8" lengthAdjust="spacingAndGlyphs" stroke="#2a2a2a" stroke-width="0.2">Local progression rate [μm/y]</text>
<path d="M80.0 277.9 L90.4 277.9 L90.4 282.3 L90.8 284.2 L90.0 286.0 L90.0 290.5 L95.0 290.9 L95.0 293.9 L110.5 293.9 L110.5 290.5 L118.8 290.5 L118.8 294.5 L120.5 294.5 L120.5 299.0 L122.1 299.0 L122.1 307.0 L127.1 307.0 L127.1 311.6 L142.9 311.6 L142.9 315.1 L148.7 315.1 L148.7 319.7 L152.9 319.7 L152.9 324.1 L157.9 324.1 L157.9 328.6 L162.1 328.6 L162.1 333.2 L163.7 333.2 L163.7 337.6 L167.9 337.6 L167.9 341.2 L171.2 341.2 L171.2 345.7 L167.9 345.7 L167.9 351.2 L166.2 351.2 L165.4 354.2 L163.9 359.5 L162.8 361.1 L161.7 363.8 L161.3 372.9 L171.5 372.9 L171.9 379.9 L170.8 380.8 L170.4 384.7 L169.4 385.5 L169.0 390.4 L171.2 393.8 L171.2 402.9 L168.7 403.7 L167.9 406.3 L165.4 407.2 L164.6 410.0 L157.9 410.9 L157.1 419.0 L152.9 423.4 L152.1 428.0 L129.1 428.1 L128.5 424.0 L119.7 424.0 L119.1 428.1 L112.2 428.7 L111.6 432.7 L107.2 432.7 L104.7 436.8 L104.1 441.0 L86.2 441.0 L86.0 437.5 L80.3 436.8 L80.3 432.7 L74.1 432.7 L74.1 436.8 L37.2 436.8 L37.2 432.7 L33.5 432.1 L33.5 420.0 L30.9 414.8 L30.5 410.4 L28.3 410.0 L28.3 393.3 L16.4 393.3 L15.8 388.7 L14.6 387.3 L14.6 376.6 L15.8 375.2 L16.4 367.1 L16.4 361.6 L14.6 354.9 L14.6 346.8 L13.3 345.5 L13.3 342.2 L17.1 341.4 L17.1 338.1 L19.5 337.4 L19.7 329.6 L24.3 329.6 L25.2 325.2 L32.7 325.2 L32.7 316.2 L35.8 316.2 L36.3 312.2 L37.3 303.2 L45.1 303.2 L45.7 307.2 L51.9 307.2 L52.9 294.8 L53.4 290.9 L64.2 290.9 L64.2 286.4 L75.5 286.4 L75.9 289.2 L78.0 290.0 L78.4 281.9 L80.0 281.5 Z M64.2 359.8 L69.3 359.0 L70.0 355.0 L73.6 355.0 L74.3 359.0 L81.6 359.0 L82.4 355.0 L94.7 355.0 L95.5 358.2 L97.6 359.0 L98.4 362.2 L104.2 362.9 L104.9 366.1 L112.9 366.8 L114.4 369.2 L115.1 376.4 L118.7 377.1 L118.7 381.0 L115.8 381.9 L115.1 385.0 L110.7 385.8 L109.3 389.7 L96.2 390.5 L95.5 392.1 L94.0 392.9 L87.4 393.7 L86.0 397.6 L83.8 399.9 L81.6 402.3 L79.4 406.2 L78.0 403.1 L76.5 399.9 L74.3 395.2 L71.4 392.1 L69.3 388.2 L66.3 385.8 L64.2 382.6 L61.2 379.5 L60.5 367.7 L62.7 363.7 Z" fill="#d8efec" fill-rule="evenodd"/>
<path d="M78.3 289.6 L81.5 289.6 L81.5 295.0 L78.3 295.0 Z" fill="#fff"/>
<path d="M67.9 312.3 L70.1 312.3 L70.1 315.2 L67.9 315.2 Z" fill="#fff"/>
<path d="M25.9 358.4 L25.9 328.2 L28.2 328.2 L28.2 323.5 L33.7 323.5 L33.7 319.3 L39.3 319.3 L39.3 315.4 L44.2 315.4 L44.2 312.0 L48.5 312.0 L48.5 308.0 L52.7 308.0 L52.7 310.9 L62.0 310.9 L62.0 320.3 L70.2 320.3 L70.2 313.6 L72.7 310.9 L72.7 306.6 L68.2 306.6 L68.0 303.3 L58.0 303.0 L58.0 298.7 L64.0 298.7 L64.0 294.1 L74.7 294.1 L74.7 297.9 L86.3 298.6 L86.7 301.7 L87.9 301.7 L88.4 298.6 L95.8 298.1 L96.7 295.9 L97.9 294.6 L108.8 294.5 L109.7 298.0 L112.2 299.0 L113.0 302.6 L114.7 304.4 L114.7 314.3 L123.8 315.1 L124.6 319.7 L137.9 320.2 L138.8 324.1 L144.6 324.1 L145.4 328.6 L152.9 329.2 L153.7 333.2 L156.2 336.8 L157.1 342.2 L157.9 349.3 L156.2 354.7 L154.6 355.8 L150.4 360.5 L148.2 363.9 L148.2 375.3 L156.0 375.3 L156.0 382.3 L158.0 382.3 L158.0 388.8 L159.2 388.8 L159.2 399.6 L158.0 403.5 L155.8 406.1 L152.2 408.3 L150.7 411.0 L149.2 414.2 L146.3 416.9 L142.0 419.1 L141.2 422.1 L135.4 422.1 L134.6 418.1 L129.7 419.2 L125.3 418.6 L124.7 414.6 L120.3 413.8 L119.7 410.4 L109.7 410.4 L108.1 410.4 L107.3 406.4 L108.1 403.1 L109.7 400.5 L111.2 398.9 L112.0 393.8 L114.3 392.9 L115.1 390.4 L117.4 389.6 L118.2 386.2 L119.8 382.0 L122.9 380.3 L125.2 376.9 L125.2 371.8 L121.3 371.0 L121.3 365.1 L122.9 362.5 L122.1 358.3 L116.7 358.3 L115.9 361.8 L109.7 361.8 L108.1 357.4 L101.9 356.7 L101.1 353.3 L98.7 349.9 L98.0 342.3 L96.4 341.4 L96.4 345.6 L83.7 345.8 L82.2 349.0 L72.8 348.2 L72.1 345.8 L70.6 346.6 L69.9 350.5 L64.1 352.1 L63.3 356.9 L59.7 357.6 L59.0 361.5 L57.9 362.3 L50.5 362.3 L50.5 358.0 Z M30.8 363.1 L38.9 363.1 L38.9 367.1 L50.5 367.7 L52.1 372.1 L54.6 377.6 L57.9 381.2 L59.6 385.7 L62.9 390.2 L67.1 393.8 L70.4 398.3 L72.2 401.0 L73.5 405.0 L74.7 413.1 L73.5 418.6 L72.8 423.8 L53.5 423.8 L53.0 420.0 L50.9 420.0 L48.5 423.3 L47.8 419.2 L42.2 418.6 L39.7 413.1 L37.8 407.7 L34.7 401.0 L33.3 395.4 L32.0 391.4 L30.8 388.7 L27.7 387.3 L27.0 377.9 L28.3 371.8 L30.8 371.2 Z M87.2 402.3 L105.0 403.1 L105.8 406.4 L107.3 406.4 L108.5 410.4 L106.6 414.6 L104.7 420.0 L103.5 424.0 L99.1 424.6 L97.8 428.1 L86.6 427.3 L85.3 421.3 L83.5 417.3 L81.6 413.1 L82.2 410.4 L84.7 405.7 Z" fill="#bee3ea"/>
<line x1="25.9" y1="358.4" x2="25.9" y2="328.2" stroke="#c8393a" stroke-width="1.1" stroke-linecap="round"/>
<line x1="25.9" y1="328.2" x2="28.2" y2="328.2" stroke="#c8393a" stroke-width="1.1" stroke-linecap="round"/>
<line x1="28.2" y1="328.2" x2="28.2" y2="323.5" stroke="#c8393a" stroke-width="1.1" stroke-linecap="round"/>
<line x1="28.2" y1="323.5" x2="33.7" y2="323.5" stroke="#c8393a" stroke-width="1.1" stroke-linecap="round"/>
<line x1="33.7" y1="323.5" x2="33.7" y2="319.3" stroke="#c8393a" stroke-width="1.1" stroke-linecap="round"/>
<line x1="33.7" y1="319.3" x2="39.3" y2="319.3" stroke="#c8393a" stroke-width="1.1" stroke-linecap="round"/>
<line x1="39.3" y1="319.3" x2="39.3" y2="315.4" stroke="#c8393a" stroke-width="1.1" stroke-linecap="round"/>
<line x1="39.3" y1="315.4" x2="44.2" y2="315.4" stroke="#c8393a" stroke-width="1.1" stroke-linecap="round"/>
<line x1="44.2" y1="315.4" x2="44.2" y2="312.0" stroke="#c8393a" stroke-width="1.1" stroke-linecap="round"/>
<line x1="44.2" y1="312.0" x2="48.5" y2="312.0" stroke="#c8393a" stroke-width="1.1" stroke-linecap="round"/>
<line x1="48.5" y1="312.0" x2="48.5" y2="308.0" stroke="#c8393a" stroke-width="1.1" stroke-linecap="round"/>
<line x1="48.5" y1="308.0" x2="52.7" y2="308.0" stroke="#c8393a" stroke-width="1.1" stroke-linecap="round"/>
<line x1="52.7" y1="308.0" x2="52.7" y2="310.9" stroke="#c8393a" stroke-width="1.1" stroke-linecap="round"/>
<line x1="52.7" y1="310.9" x2="62.0" y2="310.9" stroke="#c8393a" stroke-width="1.1" stroke-linecap="round"/>
<line x1="62.0" y1="310.9" x2="62.0" y2="320.3" stroke="#c8393a" stroke-width="1.1" stroke-linecap="round"/>
<line x1="62.0" y1="320.3" x2="70.2" y2="320.3" stroke="#c8393a" stroke-width="1.1" stroke-linecap="round"/>
<line x1="70.2" y1="320.3" x2="70.2" y2="313.6" stroke="#c8393a" stroke-width="1.1" stroke-linecap="round"/>
<line x1="70.2" y1="313.6" x2="72.7" y2="310.9" stroke="#c8393a" stroke-width="1.1" stroke-linecap="round"/>
<line x1="72.7" y1="310.9" x2="72.7" y2="306.6" stroke="#c8393a" stroke-width="1.1" stroke-linecap="round"/>
<line x1="72.7" y1="306.6" x2="68.2" y2="306.6" stroke="#c8393a" stroke-width="1.1" stroke-linecap="round"/>
<line x1="68.2" y1="306.6" x2="68.0" y2="303.3" stroke="#c8393a" stroke-width="1.1" stroke-linecap="round"/>
<line x1="68.0" y1="303.3" x2="58.0" y2="303.0" stroke="#c8393a" stroke-width="1.1" stroke-linecap="round"/>
<line x1="58.0" y1="303.0" x2="58.0" y2="298.7" stroke="#c8393a" stroke-width="1.1" stroke-linecap="round"/>
<line x1="58.0" y1="298.7" x2="64.0" y2="298.7" stroke="#c8393a" stroke-width="1.1" stroke-linecap="round"/>
<line x1="64.0" y1="298.7" x2="64.0" y2="294.1" stroke="#c8393a" stroke-width="1.1" stroke-linecap="round"/>
<line x1="64.0" y1="294.1" x2="74.7" y2="294.1" stroke="#c8393a" stroke-width="1.1" stroke-linecap="round"/>
<line x1="74.7" y1="294.1" x2="74.7" y2="297.9" stroke="#c8393a" stroke-width="1.1" stroke-linecap="round"/>
<line x1="74.7" y1="297.9" x2="86.3" y2="298.6" stroke="#c8393a" stroke-width="1.1" stroke-linecap="round"/>
<line x1="86.3" y1="298.6" x2="86.7" y2="301.7" stroke="#c8393a" stroke-width="1.1" stroke-linecap="round"/>
<line x1="86.7" y1="301.7" x2="87.9" y2="301.7" stroke="#c8393a" stroke-width="1.1" stroke-linecap="round"/>
<line x1="87.9" y1="301.7" x2="88.4" y2="298.6" stroke="#c8393a" stroke-width="1.1" stroke-linecap="round"/>
<line x1="88.4" y1="298.6" x2="95.8" y2="298.1" stroke="#c8393a" stroke-width="1.1" stroke-linecap="round"/>
<line x1="95.8" y1="298.1" x2="96.7" y2="295.9" stroke="#c8393a" stroke-width="1.1" stroke-linecap="round"/>
<line x1="96.7" y1="295.9" x2="97.9" y2="294.6" stroke="#c8393a" stroke-width="1.1" stroke-linecap="round"/>
<line x1="97.9" y1="294.6" x2="108.8" y2="294.5" stroke="#c8393a" stroke-width="1.1" stroke-linecap="round"/>
<line x1="108.8" y1="294.5" x2="109.7" y2="298.0" stroke="#c8393a" stroke-width="1.1" stroke-linecap="round"/>
<line x1="109.7" y1="298.0" x2="112.2" y2="299.0" stroke="#c8393a" stroke-width="1.1" stroke-linecap="round"/>
<line x1="112.2" y1="299.0" x2="113.0" y2="302.6" stroke="#c8393a" stroke-width="1.1" stroke-linecap="round"/>
<line x1="113.0" y1="302.6" x2="114.7" y2="304.4" stroke="#c8393a" stroke-width="1.1" stroke-linecap="round"/>
<line x1="114.7" y1="304.4" x2="114.7" y2="314.3" stroke="#c8393a" stroke-width="1.1" stroke-linecap="round"/>
<line x1="114.7" y1="314.3" x2="123.8" y2="315.1" stroke="#c8393a" stroke-width="1.1" stroke-linecap="round"/>
<line x1="123.8" y1="315.1" x2="124.6" y2="319.7" stroke="#c8393a" stroke-width="1.1" stroke-linecap="round"/>
<line x1="124.6" y1="319.7" x2="137.9" y2="320.2" stroke="#c8393a" stroke-width="1.1" stroke-linecap="round"/>
<line x1="137.9" y1="320.2" x2="138.8" y2="324.1" stroke="#c8393a" stroke-width="1.1" stroke-linecap="round"/>
<line x1="138.8" y1="324.1" x2="144.6" y2="324.1" stroke="#c8393a" stroke-width="1.1" stroke-linecap="round"/>
<line x1="144.6" y1="324.1" x2="145.4" y2="328.6" stroke="#c8393a" stroke-width="1.1" stroke-linecap="round"/>
<line x1="145.4" y1="328.6" x2="152.9" y2="329.2" stroke="#c8393a" stroke-width="1.1" stroke-linecap="round"/>
<line x1="152.9" y1="329.2" x2="153.7" y2="333.2" stroke="#c8393a" stroke-width="1.1" stroke-linecap="round"/>
<line x1="153.7" y1="333.2" x2="156.2" y2="336.8" stroke="#c8393a" stroke-width="1.1" stroke-linecap="round"/>
<line x1="156.2" y1="336.8" x2="157.1" y2="342.2" stroke="#c8393a" stroke-width="1.1" stroke-linecap="round"/>
<line x1="157.1" y1="342.2" x2="157.9" y2="349.3" stroke="#c8393a" stroke-width="1.1" stroke-linecap="round"/>
<line x1="157.9" y1="349.3" x2="156.2" y2="354.7" stroke="#c8393a" stroke-width="1.1" stroke-linecap="round"/>
<line x1="156.2" y1="354.7" x2="154.6" y2="355.8" stroke="#c8393a" stroke-width="1.1" stroke-linecap="round"/>
<line x1="154.6" y1="355.8" x2="150.4" y2="360.5" stroke="#c8393a" stroke-width="1.1" stroke-linecap="round"/>
<line x1="150.4" y1="360.5" x2="148.2" y2="363.9" stroke="#c8393a" stroke-width="1.1" stroke-linecap="round"/>
<line x1="148.2" y1="363.9" x2="148.2" y2="375.3" stroke="#c8393a" stroke-width="1.1" stroke-linecap="round"/>
<line x1="148.2" y1="375.3" x2="156.0" y2="375.3" stroke="#c8393a" stroke-width="1.1" stroke-linecap="round"/>
<line x1="156.0" y1="375.3" x2="156.0" y2="382.3" stroke="#c8393a" stroke-width="1.1" stroke-linecap="round"/>
<line x1="156.0" y1="382.3" x2="158.0" y2="382.3" stroke="#c8393a" stroke-width="1.1" stroke-linecap="round"/>
<line x1="158.0" y1="382.3" x2="158.0" y2="388.8" stroke="#c8393a" stroke-width="1.1" stroke-linecap="round"/>
<line x1="158.0" y1="388.8" x2="159.2" y2="388.8" stroke="#c8393a" stroke-width="1.1" stroke-linecap="round"/>
<line x1="159.2" y1="388.8" x2="159.2" y2="399.6" stroke="#c8393a" stroke-width="1.1" stroke-linecap="round"/>
<line x1="159.2" y1="399.6" x2="158.0" y2="403.5" stroke="#c8393a" stroke-width="1.1" stroke-linecap="round"/>
<line x1="158.0" y1="403.5" x2="155.8" y2="406.1" stroke="#c8393a" stroke-width="1.1" stroke-linecap="round"/>
<line x1="155.8" y1="406.1" x2="152.2" y2="408.3" stroke="#c8393a" stroke-width="1.1" stroke-linecap="round"/>
<line x1="152.2" y1="408.3" x2="150.7" y2="411.0" stroke="#c8393a" stroke-width="1.1" stroke-linecap="round"/>
<line x1="150.7" y1="411.0" x2="149.2" y2="414.2" stroke="#c8393a" stroke-width="1.1" stroke-linecap="round"/>
<line x1="149.2" y1="414.2" x2="146.3" y2="416.9" stroke="#c8393a" stroke-width="1.1" stroke-linecap="round"/>
<line x1="146.3" y1="416.9" x2="142.0" y2="419.1" stroke="#c8393a" stroke-width="1.1" stroke-linecap="round"/>
<line x1="142.0" y1="419.1" x2="141.2" y2="422.1" stroke="#c8393a" stroke-width="1.1" stroke-linecap="round"/>
<line x1="141.2" y1="422.1" x2="135.4" y2="422.1" stroke="#c8393a" stroke-width="1.1" stroke-linecap="round"/>
<line x1="135.4" y1="422.1" x2="134.6" y2="418.1" stroke="#c8393a" stroke-width="1.1" stroke-linecap="round"/>
<line x1="134.6" y1="418.1" x2="129.7" y2="419.2" stroke="#c8393a" stroke-width="1.1" stroke-linecap="round"/>
<line x1="129.7" y1="419.2" x2="125.3" y2="418.6" stroke="#c8393a" stroke-width="1.1" stroke-linecap="round"/>
<line x1="125.3" y1="418.6" x2="124.7" y2="414.6" stroke="#c8393a" stroke-width="1.1" stroke-linecap="round"/>
<line x1="124.7" y1="414.6" x2="120.3" y2="413.8" stroke="#c8393a" stroke-width="1.1" stroke-linecap="round"/>
<line x1="120.3" y1="413.8" x2="119.7" y2="410.4" stroke="#c8393a" stroke-width="1.1" stroke-linecap="round"/>
<line x1="119.7" y1="410.4" x2="109.7" y2="410.4" stroke="#c8393a" stroke-width="1.1" stroke-linecap="round"/>
<line x1="109.7" y1="410.4" x2="108.1" y2="410.4" stroke="#c8393a" stroke-width="1.1" stroke-linecap="round"/>
<line x1="108.1" y1="410.4" x2="107.3" y2="406.4" stroke="#c8393a" stroke-width="1.1" stroke-linecap="round"/>
<line x1="107.3" y1="406.4" x2="108.1" y2="403.1" stroke="#c8393a" stroke-width="1.1" stroke-linecap="round"/>
<line x1="108.1" y1="403.1" x2="109.7" y2="400.5" stroke="#c8393a" stroke-width="1.1" stroke-linecap="round"/>
<line x1="109.7" y1="400.5" x2="111.2" y2="398.9" stroke="#c8393a" stroke-width="1.1" stroke-linecap="round"/>
<line x1="111.2" y1="398.9" x2="112.0" y2="393.8" stroke="#1c2466" stroke-width="1.1" stroke-linecap="round"/>
<line x1="112.0" y1="393.8" x2="114.3" y2="392.9" stroke="#1c2466" stroke-width="1.1" stroke-linecap="round"/>
<line x1="114.3" y1="392.9" x2="115.1" y2="390.4" stroke="#1c2466" stroke-width="1.1" stroke-linecap="round"/>
<line x1="115.1" y1="390.4" x2="117.4" y2="389.6" stroke="#1c2466" stroke-width="1.1" stroke-linecap="round"/>
<line x1="117.4" y1="389.6" x2="118.2" y2="386.2" stroke="#1c2466" stroke-width="1.1" stroke-linecap="round"/>
<line x1="118.2" y1="386.2" x2="119.8" y2="382.0" stroke="#1c2466" stroke-width="1.1" stroke-linecap="round"/>
<line x1="119.8" y1="382.0" x2="122.9" y2="380.3" stroke="#1c2466" stroke-width="1.1" stroke-linecap="round"/>
<line x1="122.9" y1="380.3" x2="125.2" y2="376.9" stroke="#1c2466" stroke-width="1.1" stroke-linecap="round"/>
<line x1="125.2" y1="376.9" x2="125.2" y2="371.8" stroke="#1c2466" stroke-width="1.1" stroke-linecap="round"/>
<line x1="125.2" y1="371.8" x2="121.3" y2="371.0" stroke="#1c2466" stroke-width="1.1" stroke-linecap="round"/>
<line x1="121.3" y1="371.0" x2="121.3" y2="365.1" stroke="#1c2466" stroke-width="1.1" stroke-linecap="round"/>
<line x1="121.3" y1="365.1" x2="122.9" y2="362.5" stroke="#c8393a" stroke-width="1.1" stroke-linecap="round"/>
<line x1="122.9" y1="362.5" x2="122.1" y2="358.3" stroke="#c8393a" stroke-width="1.1" stroke-linecap="round"/>
<line x1="122.1" y1="358.3" x2="116.7" y2="358.3" stroke="#c8393a" stroke-width="1.1" stroke-linecap="round"/>
<line x1="116.7" y1="358.3" x2="115.9" y2="361.8" stroke="#1c2466" stroke-width="1.1" stroke-linecap="round"/>
<line x1="115.9" y1="361.8" x2="109.7" y2="361.8" stroke="#1c2466" stroke-width="1.1" stroke-linecap="round"/>
<line x1="109.7" y1="361.8" x2="108.1" y2="357.4" stroke="#1c2466" stroke-width="1.1" stroke-linecap="round"/>
<line x1="108.1" y1="357.4" x2="101.9" y2="356.7" stroke="#1c2466" stroke-width="1.1" stroke-linecap="round"/>
<line x1="101.9" y1="356.7" x2="101.1" y2="353.3" stroke="#1c2466" stroke-width="1.1" stroke-linecap="round"/>
<line x1="101.1" y1="353.3" x2="98.7" y2="349.9" stroke="#1c2466" stroke-width="1.1" stroke-linecap="round"/>
<line x1="98.7" y1="349.9" x2="98.0" y2="342.3" stroke="#c8393a" stroke-width="1.1" stroke-linecap="round"/>
<line x1="98.0" y1="342.3" x2="96.4" y2="341.4" stroke="#c8393a" stroke-width="1.1" stroke-linecap="round"/>
<line x1="96.4" y1="341.4" x2="96.4" y2="345.6" stroke="#c8393a" stroke-width="1.1" stroke-linecap="round"/>
<line x1="96.4" y1="345.6" x2="83.7" y2="345.8" stroke="#1c2466" stroke-width="1.1" stroke-linecap="round"/>
<line x1="83.7" y1="345.8" x2="82.2" y2="349.0" stroke="#1c2466" stroke-width="1.1" stroke-linecap="round"/>
<line x1="82.2" y1="349.0" x2="72.8" y2="348.2" stroke="#1c2466" stroke-width="1.1" stroke-linecap="round"/>
<line x1="72.8" y1="348.2" x2="72.1" y2="345.8" stroke="#1c2466" stroke-width="1.1" stroke-linecap="round"/>
<line x1="72.1" y1="345.8" x2="70.6" y2="346.6" stroke="#1c2466" stroke-width="1.1" stroke-linecap="round"/>
<line x1="70.6" y1="346.6" x2="69.9" y2="350.5" stroke="#1c2466" stroke-width="1.1" stroke-linecap="round"/>
<line x1="69.9" y1="350.5" x2="64.1" y2="352.1" stroke="#1c2466" stroke-width="1.1" stroke-linecap="round"/>
<line x1="64.1" y1="352.1" x2="63.3" y2="356.9" stroke="#1c2466" stroke-width="1.1" stroke-linecap="round"/>
<line x1="63.3" y1="356.9" x2="59.7" y2="357.6" stroke="#1c2466" stroke-width="1.1" stroke-linecap="round"/>
<line x1="59.7" y1="357.6" x2="59.0" y2="361.5" stroke="#1c2466" stroke-width="1.1" stroke-linecap="round"/>
<line x1="59.0" y1="361.5" x2="57.9" y2="362.3" stroke="#1c2466" stroke-width="1.1" stroke-linecap="round"/>
<line x1="57.9" y1="362.3" x2="50.5" y2="362.3" stroke="#c8393a" stroke-width="1.1" stroke-linecap="round"/>
<line x1="50.5" y1="362.3" x2="50.5" y2="358.0" stroke="#c8393a" stroke-width="1.1" stroke-linecap="round"/>
<line x1="50.5" y1="358.0" x2="25.9" y2="358.4" stroke="#c8393a" stroke-width="1.1" stroke-linecap="round"/>
<line x1="30.8" y1="363.1" x2="38.9" y2="363.1" stroke="#c8393a" stroke-width="1.1" stroke-linecap="round"/>
<line x1="38.9" y1="363.1" x2="38.9" y2="367.1" stroke="#c8393a" stroke-width="1.1" stroke-linecap="round"/>
<line x1="38.9" y1="367.1" x2="50.5" y2="367.7" stroke="#c8393a" stroke-width="1.1" stroke-linecap="round"/>
<line x1="50.5" y1="367.7" x2="52.1" y2="372.1" stroke="#c8393a" stroke-width="1.1" stroke-linecap="round"/>
<line x1="52.1" y1="372.1" x2="54.6" y2="377.6" stroke="#1c2466" stroke-width="1.1" stroke-linecap="round"/>
<line x1="54.6" y1="377.6" x2="57.9" y2="381.2" stroke="#1c2466" stroke-width="1.1" stroke-linecap="round"/>
<line x1="57.9" y1="381.2" x2="59.6" y2="385.7" stroke="#1c2466" stroke-width="1.1" stroke-linecap="round"/>
<line x1="59.6" y1="385.7" x2="62.9" y2="390.2" stroke="#1c2466" stroke-width="1.1" stroke-linecap="round"/>
<line x1="62.9" y1="390.2" x2="67.1" y2="393.8" stroke="#1c2466" stroke-width="1.1" stroke-linecap="round"/>
<line x1="67.1" y1="393.8" x2="70.4" y2="398.3" stroke="#1c2466" stroke-width="1.1" stroke-linecap="round"/>
<line x1="70.4" y1="398.3" x2="72.2" y2="401.0" stroke="#1c2466" stroke-width="1.1" stroke-linecap="round"/>
<line x1="72.2" y1="401.0" x2="73.5" y2="405.0" stroke="#1c2466" stroke-width="1.1" stroke-linecap="round"/>
<line x1="73.5" y1="405.0" x2="74.7" y2="413.1" stroke="#1c2466" stroke-width="1.1" stroke-linecap="round"/>
<line x1="74.7" y1="413.1" x2="73.5" y2="418.6" stroke="#c8393a" stroke-width="1.1" stroke-linecap="round"/>
<line x1="73.5" y1="418.6" x2="72.8" y2="423.8" stroke="#c8393a" stroke-width="1.1" stroke-linecap="round"/>
<line x1="72.8" y1="423.8" x2="53.5" y2="423.8" stroke="#c8393a" stroke-width="1.1" stroke-linecap="round"/>
<line x1="53.5" y1="423.8" x2="53.0" y2="420.0" stroke="#c8393a" stroke-width="1.1" stroke-linecap="round"/>
<line x1="53.0" y1="420.0" x2="50.9" y2="420.0" stroke="#c8393a" stroke-width="1.1" stroke-linecap="round"/>
<line x1="50.9" y1="420.0" x2="48.5" y2="423.3" stroke="#c8393a" stroke-width="1.1" stroke-linecap="round"/>
<line x1="48.5" y1="423.3" x2="47.8" y2="419.2" stroke="#c8393a" stroke-width="1.1" stroke-linecap="round"/>
<line x1="47.8" y1="419.2" x2="42.2" y2="418.6" stroke="#c8393a" stroke-width="1.1" stroke-linecap="round"/>
<line x1="42.2" y1="418.6" x2="39.7" y2="413.1" stroke="#c8393a" stroke-width="1.1" stroke-linecap="round"/>
<line x1="39.7" y1="413.1" x2="37.8" y2="407.7" stroke="#c8393a" stroke-width="1.1" stroke-linecap="round"/>
<line x1="37.8" y1="407.7" x2="34.7" y2="401.0" stroke="#c8393a" stroke-width="1.1" stroke-linecap="round"/>
<line x1="34.7" y1="401.0" x2="33.3" y2="395.4" stroke="#c8393a" stroke-width="1.1" stroke-linecap="round"/>
<line x1="33.3" y1="395.4" x2="32.0" y2="391.4" stroke="#c8393a" stroke-width="1.1" stroke-linecap="round"/>
<line x1="32.0" y1="391.4" x2="30.8" y2="388.7" stroke="#c8393a" stroke-width="1.1" stroke-linecap="round"/>
<line x1="30.8" y1="388.7" x2="27.7" y2="387.3" stroke="#c8393a" stroke-width="1.1" stroke-linecap="round"/>
<line x1="27.7" y1="387.3" x2="27.0" y2="377.9" stroke="#c8393a" stroke-width="1.1" stroke-linecap="round"/>
<line x1="27.0" y1="377.9" x2="28.3" y2="371.8" stroke="#c8393a" stroke-width="1.1" stroke-linecap="round"/>
<line x1="28.3" y1="371.8" x2="30.8" y2="371.2" stroke="#c8393a" stroke-width="1.1" stroke-linecap="round"/>
<line x1="30.8" y1="371.2" x2="30.8" y2="363.1" stroke="#c8393a" stroke-width="1.1" stroke-linecap="round"/>
<line x1="87.2" y1="402.3" x2="105.0" y2="403.1" stroke="#c8393a" stroke-width="1.1" stroke-linecap="round"/>
<line x1="105.0" y1="403.1" x2="105.8" y2="406.4" stroke="#c8393a" stroke-width="1.1" stroke-linecap="round"/>
<line x1="105.8" y1="406.4" x2="107.3" y2="406.4" stroke="#c8393a" stroke-width="1.1" stroke-linecap="round"/>
<line x1="107.3" y1="406.4" x2="108.5" y2="410.4" stroke="#c8393a" stroke-width="1.1" stroke-linecap="round"/>
<line x1="108.5" y1="410.4" x2="106.6" y2="414.6" stroke="#c8393a" stroke-width="1.1" stroke-linecap="round"/>
<line x1="106.6" y1="414.6" x2="104.7" y2="420.0" stroke="#c8393a" stroke-width="1.1" stroke-linecap="round"/>
<line x1="104.7" y1="420.0" x2="103.5" y2="424.0" stroke="#c8393a" stroke-width="1.1" stroke-linecap="round"/>
<line x1="103.5" y1="424.0" x2="99.1" y2="424.6" stroke="#c8393a" stroke-width="1.1" stroke-linecap="round"/>
<line x1="99.1" y1="424.6" x2="97.8" y2="428.1" stroke="#c8393a" stroke-width="1.1" stroke-linecap="round"/>
<line x1="97.8" y1="428.1" x2="86.6" y2="427.3" stroke="#c8393a" stroke-width="1.1" stroke-linecap="round"/>
<line x1="86.6" y1="427.3" x2="85.3" y2="421.3" stroke="#c8393a" stroke-width="1.1" stroke-linecap="round"/>
<line x1="85.3" y1="421.3" x2="83.5" y2="417.3" stroke="#c8393a" stroke-width="1.1" stroke-linecap="round"/>
<line x1="83.5" y1="417.3" x2="81.6" y2="413.1" stroke="#1c2466" stroke-width="1.1" stroke-linecap="round"/>
<line x1="81.6" y1="413.1" x2="82.2" y2="410.4" stroke="#1c2466" stroke-width="1.1" stroke-linecap="round"/>
<line x1="82.2" y1="410.4" x2="84.7" y2="405.7" stroke="#1c2466" stroke-width="1.1" stroke-linecap="round"/>
<line x1="84.7" y1="405.7" x2="87.2" y2="402.3" stroke="#1c2466" stroke-width="1.1" stroke-linecap="round"/>
<path d="M25.9 358.4L18.1 356.2M14.8 355.3L18.5 354.9L17.7 357.5ZM25.9 353.5L18.3 350.6M15.2 349.4L18.8 349.4L17.9 351.9ZM25.9 348.7L18.6 345.2M15.5 343.7L19.2 343.9L18.0 346.4ZM25.9 343.8L18.9 339.7M16.0 338.0L19.6 338.6L18.2 340.9ZM25.9 338.9L19.2 334.4M16.4 332.5L20.0 333.3L18.4 335.5ZM25.9 334.1L19.5 329.1M16.8 327.0L20.3 328.0L18.7 330.1ZM25.9 329.2L19.8 323.8M17.3 321.6L20.7 322.8L18.9 324.9ZM28.2 326.8L22.4 321.2M19.9 318.8L23.3 320.2L21.4 322.1ZM29.6 323.5L24.1 317.5M21.8 315.0L25.1 316.6L23.1 318.4ZM33.7 323.0L28.5 316.8M26.3 314.2L29.5 315.9L27.5 317.7ZM34.8 319.3L29.9 312.9M27.8 310.2L31.0 312.1L28.8 313.7ZM39.3 319.3L34.8 312.6M32.9 309.8L35.9 311.9L33.7 313.4ZM40.2 315.4L36.0 308.5M34.2 305.6L37.1 307.8L34.8 309.2ZM44.2 314.9L40.4 307.8M38.8 304.8L41.6 307.1L39.2 308.4ZM46.0 312.0L42.5 304.7M41.0 301.6L43.7 304.1L41.3 305.3ZM48.5 309.8L45.3 302.4M44.0 299.2L46.6 301.8L44.1 302.9ZM51.3 308.0L48.5 300.4M47.3 297.2L49.8 299.9L47.2 300.8ZM53.1 310.9L50.4 303.3M49.2 300.1L51.6 302.8L49.1 303.7ZM57.6 310.9L55.4 303.1M54.5 299.8L56.7 302.7L54.1 303.5ZM62.0 311.0L60.3 303.1M59.6 299.8L61.6 302.8L59.0 303.4ZM62.0 315.9L60.2 308.0M59.4 304.7L61.5 307.7L58.9 308.3ZM62.4 320.3L60.5 312.4M59.7 309.1L61.8 312.1L59.2 312.8ZM66.9 320.3L65.7 312.3M65.1 309.0L67.0 312.1L64.3 312.5ZM70.2 319.0L69.5 310.9M69.2 307.6L70.8 310.8L68.1 311.1ZM70.2 314.1L69.5 306.1M69.3 302.7L70.9 306.0L68.2 306.2ZM72.7 310.4L72.4 302.3M72.3 298.9L73.7 302.3L71.0 302.4ZM71.7 306.6L71.3 298.5M71.2 295.1L72.7 298.4L70.0 298.6ZM68.1 305.5L67.3 297.5M67.0 294.1L68.6 297.3L66.0 297.6ZM65.5 303.2L64.4 295.2M64.0 291.9L65.8 295.0L63.1 295.4ZM61.0 303.1L59.4 295.2M58.8 291.8L60.8 294.9L58.1 295.4ZM58.0 301.4L56.1 293.6M55.3 290.2L57.4 293.2L54.8 293.9ZM60.0 298.7L58.3 290.7M57.6 287.4L59.7 290.5L57.0 291.0ZM64.0 298.2L62.8 290.2M62.3 286.8L64.1 290.0L61.5 290.4ZM64.8 294.1L63.7 286.1M63.3 282.7L65.0 285.9L62.4 286.3ZM69.3 294.1L68.7 286.1M68.4 282.7L70.0 286.0L67.3 286.2ZM73.8 294.1L73.6 286.0M73.6 282.6L75.0 286.0L72.3 286.1ZM74.8 297.9L74.7 289.8M74.7 286.4L76.1 289.8L73.4 289.8ZM79.2 298.2L79.7 290.1M79.9 286.7L81.1 290.2L78.4 290.0ZM83.7 298.4L84.7 290.4M85.1 287.0L86.0 290.5L83.4 290.2ZM86.6 300.6L87.9 292.6M88.4 289.3L89.2 292.9L86.5 292.4ZM88.3 299.2L89.7 291.3M90.4 287.9L91.1 291.5L88.4 291.0ZM92.3 298.3L94.1 290.5M94.9 287.1L95.4 290.8L92.8 290.1ZM96.2 297.2L98.4 289.4M99.3 286.1L99.7 289.8L97.1 289.0ZM99.4 294.5L101.8 286.8M102.8 283.6L103.1 287.2L100.5 286.4ZM103.9 294.5L106.7 286.9M107.9 283.7L108.0 287.4L105.4 286.4ZM108.4 294.5L111.6 287.0M112.9 283.9L112.8 287.5L110.3 286.5ZM110.3 298.3L113.8 291.0M115.3 287.9L115.0 291.5L112.6 290.4ZM112.8 301.6L116.6 294.5M118.2 291.5L117.8 295.1L115.4 293.8ZM114.7 305.7L118.8 298.7M120.6 295.8L120.0 299.4L117.7 298.1ZM114.7 310.6L119.1 303.8M120.9 300.9L120.2 304.5L117.9 303.0ZM115.8 314.4L120.5 307.7M122.4 305.0L121.6 308.5L119.4 307.0ZM120.3 314.8L125.3 308.4M127.4 305.8L126.3 309.3L124.2 307.6ZM124.0 316.1L129.3 310.0M131.5 307.5L130.3 310.9L128.3 309.2ZM125.8 319.7L131.4 313.9M133.8 311.4L132.4 314.8L130.4 313.0ZM130.3 319.9L136.2 314.3M138.6 312.0L137.1 315.3L135.2 313.3ZM134.8 320.1L140.9 314.8M143.4 312.5L141.8 315.8L140.0 313.7ZM138.2 321.7L144.6 316.6M147.2 314.5L145.4 317.6L143.7 315.5ZM141.0 324.1L147.5 319.3M150.3 317.3L148.3 320.4L146.7 318.2ZM144.8 325.0L151.5 320.5M154.3 318.6L152.2 321.6L150.7 319.4ZM146.5 328.7L153.4 324.5M156.3 322.7L154.1 325.7L152.7 323.4ZM151.0 329.0L158.0 325.0M161.0 323.4L158.7 326.2L157.4 323.9ZM153.4 331.9L160.6 328.2M163.7 326.6L161.3 329.4L160.0 327.0ZM155.7 336.0L163.1 332.7M166.2 331.3L163.6 333.9L162.5 331.5ZM156.8 340.6L164.4 337.7M167.6 336.5L164.9 339.0L163.9 336.5ZM157.5 345.5L165.2 343.0M168.4 341.9L165.6 344.2L164.8 341.7ZM157.6 350.3L165.4 348.2M168.7 347.3L165.8 349.5L165.1 346.9ZM156.1 354.8L164.0 353.1M167.3 352.4L164.3 354.4L163.7 351.8ZM152.7 357.9L160.6 356.5M164.0 355.8L160.9 357.8L160.4 355.1ZM149.7 361.6L157.7 360.4M161.1 359.9L157.9 361.8L157.5 359.1ZM148.2 365.9L156.3 365.2M159.7 364.9L156.4 366.6L156.2 363.9ZM148.2 370.8L156.3 370.6M159.7 370.6L156.3 372.0L156.3 369.3ZM148.6 375.3L156.7 375.6M160.0 375.8L156.6 377.0L156.7 374.3ZM153.1 375.3L161.2 375.6M164.5 375.7L161.1 376.9L161.2 374.2ZM156.0 377.0L164.1 377.4M167.5 377.6L164.0 378.8L164.2 376.1ZM156.0 381.8L164.0 382.8M167.4 383.2L163.9 384.1L164.2 381.4ZM158.0 384.5L166.0 385.7M169.4 386.2L165.8 387.1L166.2 384.4ZM158.6 388.8L166.5 390.4M169.8 391.0L166.2 391.7L166.8 389.1ZM159.2 393.0L167.1 394.9M170.4 395.7L166.7 396.2L167.4 393.6ZM159.2 397.8L166.9 400.2M170.2 401.2L166.6 401.5L167.3 398.9ZM158.3 402.6L165.9 405.3M169.1 406.5L165.4 406.6L166.4 404.1ZM155.5 406.3L163.0 409.4M166.1 410.8L162.5 410.7L163.5 408.2ZM151.8 408.9L159.2 412.4M162.2 413.9L158.6 413.6L159.7 411.2ZM149.7 413.2L156.8 417.1M159.8 418.7L156.1 418.3L157.4 415.9ZM146.6 416.6L153.5 420.9M156.4 422.7L152.8 422.1L154.2 419.8ZM142.6 418.8L149.3 423.4M152.1 425.3L148.5 424.5L150.0 422.3ZM140.3 422.1L146.7 427.0M149.4 429.1L145.9 428.1L147.5 426.0ZM135.8 422.1L142.0 427.3M144.7 429.4L141.2 428.3L142.9 426.2ZM134.3 418.2L140.7 423.2M143.3 425.3L139.8 424.2L141.5 422.1ZM129.8 419.2L136.0 424.4M138.6 426.7L135.1 425.5L136.9 423.4ZM125.4 418.6L131.4 424.1M133.9 426.4L130.4 425.0L132.3 423.1ZM124.0 414.4L130.2 419.7M132.8 421.9L129.3 420.8L131.1 418.7ZM120.2 413.0L126.2 418.5M128.7 420.8L125.3 419.5L127.1 417.5ZM117.7 410.4L123.7 415.8M126.2 418.1L122.8 416.9L124.6 414.8ZM113.2 410.4L118.9 416.2M121.3 418.6L117.9 417.1L119.8 415.2ZM108.7 410.4L114.0 416.5M116.3 419.1L113.0 417.4L115.0 415.6ZM107.3 406.3L112.9 412.1M115.3 414.6L111.9 413.1L113.9 411.2ZM108.9 401.8L115.0 407.1M117.6 409.3L114.1 408.1L115.9 406.1ZM111.2 398.9L102.2 392.3M99.5 390.3L103.0 391.2L101.4 393.4ZM111.8 395.2L102.4 389.3M99.5 387.5L103.1 388.2L101.6 390.5ZM114.1 393.0L104.3 387.8M101.3 386.2L104.9 386.6L103.6 389.0ZM115.9 390.1L105.7 385.7M102.6 384.3L106.2 384.5L105.2 386.9ZM117.9 387.6L107.4 383.9M104.2 382.7L107.9 382.6L107.0 385.1ZM119.0 384.0L108.3 381.2M105.0 380.3L108.7 379.9L108.0 382.5ZM121.1 381.3L110.2 379.1M106.9 378.5L110.5 377.8L109.9 380.5ZM123.8 379.0L112.8 377.5M109.4 377.0L113.0 376.1L112.6 378.8ZM125.2 375.7L114.1 374.9M110.7 374.7L114.2 373.6L114.0 376.3ZM125.2 371.9L114.1 372.0M110.7 372.0L114.1 370.6L114.1 373.3ZM121.9 371.1L110.8 371.4M107.4 371.4L110.7 370.0L110.8 372.7ZM121.3 367.8L110.3 368.8M106.9 369.2L110.1 367.5L110.4 370.2ZM121.9 364.2L110.9 366.1M107.6 366.6L110.7 364.7L111.2 367.4ZM122.4 359.7L130.2 357.6M133.5 356.8L130.5 358.9L129.9 356.3ZM118.9 358.3L126.7 355.8M129.9 354.8L127.1 357.1L126.2 354.6ZM116.4 359.6L105.8 362.9M102.5 363.9L105.4 361.6L106.2 364.2ZM114.4 361.8L103.7 364.6M100.4 365.5L103.4 363.3L104.0 365.9ZM110.9 361.8L100.3 364.9M97.0 365.8L99.9 363.6L100.7 366.2ZM108.9 359.5L98.5 363.4M95.3 364.6L98.0 362.1L98.9 364.7ZM106.6 357.2L96.6 362.0M93.5 363.5L96.0 360.8L97.2 363.2ZM103.2 356.8L93.4 362.2M90.5 363.8L92.8 361.0L94.1 363.3ZM101.3 354.3L92.2 360.6M89.4 362.5L91.4 359.5L92.9 361.7ZM99.6 351.1L91.2 358.4M88.6 360.6L90.3 357.3L92.0 359.4ZM98.5 347.7L90.8 355.7M88.5 358.2L89.9 354.8L91.8 356.6ZM98.1 342.8L103.0 336.5M105.1 333.8L104.1 337.3L102.0 335.6ZM96.4 343.8L101.3 337.3M103.3 334.6L102.3 338.1L100.2 336.5ZM94.6 345.7L88.0 354.6M86.0 357.3L86.9 353.8L89.1 355.4ZM91.1 345.7L85.3 355.2M83.6 358.1L84.2 354.5L86.5 355.9ZM87.6 345.8L82.8 355.8M81.4 358.9L81.6 355.2L84.0 356.4ZM84.1 345.8L80.5 356.3M79.4 359.6L79.2 355.9L81.8 356.8ZM82.3 348.8L79.0 359.4M78.0 362.7L77.7 359.0L80.3 359.8ZM78.9 348.7L77.1 359.7M76.5 363.0L75.7 359.5L78.4 359.9ZM75.4 348.4L75.2 359.5M75.2 362.9L73.9 359.5L76.6 359.6ZM72.5 347.3L73.6 358.3M74.0 361.7L72.3 358.5L75.0 358.2ZM70.5 347.1L72.5 358.0M73.1 361.4L71.1 358.2L73.8 357.8ZM69.6 350.6L72.3 361.4M73.1 364.7L71.0 361.7L73.6 361.0ZM66.2 351.5L70.6 361.8M71.9 364.9L69.3 362.3L71.8 361.2ZM63.9 353.5L69.5 363.0M71.3 366.0L68.4 363.7L70.7 362.3ZM63.0 357.0L69.8 365.7M71.9 368.4L68.8 366.5L70.9 364.8ZM59.7 357.8L67.7 365.4M70.2 367.7L66.8 366.4L68.7 364.4ZM59.0 361.5L68.2 367.7M71.0 369.6L67.5 368.8L69.0 366.6ZM54.7 362.3L47.5 358.7M44.4 357.2L48.1 357.5L46.9 359.9ZM50.5 362.0L43.0 358.9M39.9 357.6L43.5 357.6L42.5 360.1ZM49.7 358.0L42.7 354.0M39.7 352.3L43.3 352.8L42.0 355.2ZM45.2 358.1L37.9 354.6M34.8 353.1L38.5 353.4L37.3 355.8ZM40.7 358.1L33.2 355.1M30.1 353.8L33.8 353.8L32.7 356.3ZM36.2 358.2L28.6 355.5M25.4 354.3L29.1 354.2L28.2 356.7ZM31.7 358.3L24.0 355.8M20.8 354.8L24.4 354.5L23.6 357.1ZM27.2 358.4L19.5 356.1M16.2 355.2L19.8 354.8L19.1 357.4ZM30.8 363.1L22.9 361.4M19.5 360.7L23.1 360.1L22.6 362.7ZM35.3 363.1L27.4 361.2M24.1 360.5L27.7 359.9L27.1 362.5ZM38.9 364.0L31.0 362.2M27.7 361.5L31.3 360.9L30.7 363.5ZM40.6 367.2L32.6 366.0M29.2 365.5L32.8 364.6L32.4 367.3ZM45.1 367.4L37.1 366.1M33.7 365.6L37.3 364.8L36.9 367.4ZM49.6 367.7L41.6 366.2M38.3 365.6L41.9 364.9L41.4 367.5ZM51.8 371.3L62.9 371.8M66.3 371.9L62.8 373.1L62.9 370.4ZM53.3 374.7L64.3 373.5M67.7 373.1L64.5 374.8L64.2 372.1ZM55.0 378.0L65.7 374.9M68.9 374.0L66.1 376.2L65.3 373.6ZM57.5 380.7L67.4 375.9M70.5 374.4L68.0 377.1L66.9 374.7ZM59.0 384.1L67.9 377.5M70.7 375.5L68.7 378.6L67.1 376.4ZM60.8 387.3L68.4 379.2M70.7 376.8L69.4 380.2L67.4 378.3ZM63.0 390.3L69.1 381.0M71.0 378.2L70.3 381.8L68.0 380.3ZM65.7 392.6L70.3 382.5M71.7 379.4L71.5 383.1L69.1 381.9ZM68.2 395.3L71.3 384.6M72.3 381.4L72.6 385.0L70.0 384.2ZM70.3 398.2L72.3 387.3M72.9 384.0L73.6 387.5L71.0 387.1ZM72.3 401.4L73.3 390.3M73.6 386.9L74.7 390.4L72.0 390.2ZM73.5 404.9L74.0 393.8M74.1 390.4L75.3 393.9L72.6 393.8ZM74.0 408.7L74.3 397.6M74.4 394.2L75.7 397.6L73.0 397.5ZM74.6 412.4L74.7 401.3M74.7 397.9L76.1 401.3L73.4 401.3ZM73.8 417.1L73.6 425.2M73.5 428.6L72.3 425.2L75.0 425.3ZM73.0 421.9L72.7 430.0M72.6 433.4L71.4 430.0L74.1 430.1ZM70.0 423.8L69.2 431.8M68.9 435.2L67.9 431.7L70.6 431.9ZM65.5 423.8L64.0 431.7M63.4 435.1L62.7 431.5L65.4 432.0ZM61.0 423.8L58.9 431.6M58.0 434.9L57.6 431.2L60.2 431.9ZM56.5 423.8L53.8 431.4M52.6 434.6L52.5 430.9L55.0 431.8ZM53.3 422.1L50.1 429.6M48.7 432.7L48.8 429.0L51.3 430.1ZM50.7 420.3L47.0 427.5M45.5 430.5L45.8 426.9L48.2 428.1ZM48.3 422.3L44.5 429.5M42.9 432.5L43.3 428.8L45.7 430.1ZM46.2 419.0L42.0 425.9M40.2 428.8L40.8 425.2L43.1 426.6ZM42.0 418.1L37.3 424.7M35.3 427.5L36.2 423.9L38.4 425.5ZM40.0 413.8L34.8 420.0M32.6 422.6L33.7 419.1L35.8 420.8ZM38.3 409.2L32.6 415.0M30.2 417.4L31.7 414.0L33.6 415.9ZM36.5 404.8L30.3 410.1M27.7 412.2L29.4 409.0L31.1 411.1ZM34.5 400.4L27.9 405.1M25.1 407.0L27.1 403.9L28.7 406.2ZM33.4 395.7L26.3 399.7M23.4 401.4L25.7 398.5L27.0 400.9ZM31.9 391.1L24.5 394.4M21.3 395.7L23.9 393.1L25.0 395.6ZM29.0 387.9L21.3 390.5M18.1 391.6L20.9 389.2L21.7 391.7ZM27.4 383.9L19.6 385.8M16.3 386.6L19.3 384.5L19.9 387.1ZM27.1 379.1L19.1 380.2M15.7 380.7L18.9 378.9L19.3 381.5ZM27.8 374.3L19.7 374.6M16.3 374.8L19.6 373.3L19.7 376.0ZM30.4 371.3L22.3 371.1M18.9 371.0L22.3 369.7L22.3 372.4ZM30.8 366.7L22.8 365.7M19.4 365.3L22.9 364.4L22.6 367.1ZM87.2 402.3L83.0 392.0M81.8 388.9L84.3 391.5L81.8 392.6ZM90.7 402.5L85.6 392.6M84.0 389.6L86.8 392.0L84.4 393.2ZM94.2 402.6L88.3 393.2M86.4 390.4L89.4 392.5L87.1 394.0ZM98.7 402.8L103.7 409.2M105.7 411.9L102.6 410.0L104.7 408.4ZM103.2 403.0L108.7 409.0M111.0 411.5L107.7 409.9L109.7 408.1ZM105.7 405.9L111.1 411.9M113.4 414.4L110.1 412.8L112.1 411.0ZM108.1 409.0L113.5 415.0M115.8 417.5L112.5 415.9L114.5 414.1ZM107.1 413.4L112.1 419.8M114.2 422.5L111.0 420.7L113.2 419.0ZM105.4 417.9L109.9 424.7M111.8 427.5L108.8 425.4L111.0 423.9ZM103.9 422.5L108.0 429.6M109.7 432.5L106.8 430.2L109.1 428.9ZM100.4 424.4L104.0 431.7M105.5 434.8L102.8 432.3L105.2 431.1ZM97.9 427.8L101.0 435.3M102.3 438.4L99.7 435.8L102.2 434.8ZM93.6 427.8L96.2 435.5M97.2 438.7L94.9 435.9L97.4 435.0ZM89.1 427.5L91.1 435.3M91.9 438.6L89.8 435.7L92.4 435.0ZM86.1 425.2L87.8 433.2M88.5 436.5L86.5 433.4L89.1 432.9ZM85.0 420.5L86.6 428.5M87.3 431.8L85.3 428.7L87.9 428.2ZM83.0 416.2L84.4 424.1M85.1 427.5L83.1 424.4L85.8 423.9ZM81.7 412.8L79.9 401.8M79.3 398.4L81.2 401.6L78.5 402.0ZM82.8 409.2L80.5 398.4M79.8 395.0L81.9 398.1L79.2 398.6ZM84.6 405.9L81.5 395.2M80.6 392.0L82.8 394.9L80.2 395.6ZM86.7 402.9L82.8 392.6M81.6 389.4L84.0 392.1L81.5 393.1Z" fill="#111" stroke="#111" stroke-width="0.7"/>
<circle cx="75.0" cy="372.3" r="2.4" fill="#f4a88e" stroke="#333" stroke-width="0.7"/>
<rect x="16" y="451.8" width="157.8" height="10.8" fill="#bbb"/>
<rect x="14.5" y="450.2" width="157.8" height="10.8" fill="#fff" stroke="#ddd" stroke-width="0.8"/>
<rect x="16.5" y="453.2" width="13.3" height="4.6" fill="#1c2466"/>
<rect x="88.6" y="453.2" width="13.5" height="4.6" fill="#c0302f"/>
<text x="35.5" y="457.6" font-size="8.7" font-weight="normal" fill="#2a2a2a" text-anchor="start" textLength="48.5" lengthAdjust="spacingAndGlyphs" stroke="#2a2a2a" stroke-width="0.15">Towards fovea</text>
<text x="107.3" y="457.6" font-size="8.7" font-weight="normal" fill="#2a2a2a" text-anchor="start" textLength="63.5" lengthAdjust="spacingAndGlyphs" stroke="#2a2a2a" stroke-width="0.15">Towards periphery</text>
<path d="M268.1 277.9 L278.5 277.9 L278.5 282.3 L278.9 284.2 L278.1 286.0 L278.1 290.5 L283.1 290.9 L283.1 293.9 L298.6 293.9 L298.6 290.5 L306.9 290.5 L306.9 294.5 L308.6 294.5 L308.6 299.0 L310.2 299.0 L310.2 307.0 L315.2 307.0 L315.2 311.6 L331.0 311.6 L331.0 315.1 L336.8 315.1 L336.8 319.7 L341.0 319.7 L341.0 324.1 L346.0 324.1 L346.0 328.6 L350.2 328.6 L350.2 333.2 L351.8 333.2 L351.8 337.6 L356.0 337.6 L356.0 341.2 L359.3 341.2 L359.3 345.7 L356.0 345.7 L356.0 351.2 L354.3 351.2 L353.5 354.2 L352.0 359.5 L350.9 361.1 L349.8 363.8 L349.4 372.9 L359.6 372.9 L360.0 379.9 L358.9 380.8 L358.5 384.7 L357.5 385.5 L357.1 390.4 L359.3 393.8 L359.3 402.9 L356.8 403.7 L356.0 406.3 L353.5 407.2 L352.7 410.0 L346.0 410.9 L345.2 419.0 L341.0 423.4 L340.2 428.0 L317.2 428.1 L316.6 424.0 L307.8 424.0 L307.2 428.1 L300.3 428.7 L299.7 432.7 L295.3 432.7 L292.8 436.8 L292.2 441.0 L274.3 441.0 L274.1 437.5 L268.4 436.8 L268.4 432.7 L262.2 432.7 L262.2 436.8 L225.3 436.8 L225.3 432.7 L221.6 432.1 L221.6 420.0 L219.0 414.8 L218.6 410.4 L216.4 410.0 L216.4 393.3 L204.5 393.3 L203.9 388.7 L202.7 387.3 L202.7 376.6 L203.9 375.2 L204.5 367.1 L204.5 361.6 L202.7 354.9 L202.7 346.8 L201.4 345.5 L201.4 342.2 L205.2 341.4 L205.2 338.1 L207.6 337.4 L207.8 329.6 L212.4 329.6 L213.3 325.2 L220.8 325.2 L220.8 316.2 L223.9 316.2 L224.4 312.2 L225.4 303.2 L233.2 303.2 L233.8 307.2 L240.0 307.2 L241.0 294.8 L241.5 290.9 L252.3 290.9 L252.3 286.4 L263.6 286.4 L264.0 289.2 L266.1 290.0 L266.5 281.9 L268.1 281.5 Z M252.3 359.8 L257.4 359.0 L258.1 355.0 L261.7 355.0 L262.4 359.0 L269.7 359.0 L270.5 355.0 L282.8 355.0 L283.6 358.2 L285.7 359.0 L286.5 362.2 L292.3 362.9 L293.0 366.1 L301.0 366.8 L302.5 369.2 L303.2 376.4 L306.8 377.1 L306.8 381.0 L303.9 381.9 L303.2 385.0 L298.8 385.8 L297.4 389.7 L284.3 390.5 L283.6 392.1 L282.1 392.9 L275.5 393.7 L274.1 397.6 L271.9 399.9 L269.7 402.3 L267.5 406.2 L266.1 403.1 L264.6 399.9 L262.4 395.2 L259.5 392.1 L257.4 388.2 L254.4 385.8 L252.3 382.6 L249.3 379.5 L248.6 367.7 L250.8 363.7 Z" fill="#d8efec" fill-rule="evenodd"/>
<path d="M266.4 289.6 L269.6 289.6 L269.6 295.0 L266.4 295.0 Z" fill="#fff"/>
<path d="M256.0 312.3 L258.2 312.3 L258.2 315.2 L256.0 315.2 Z" fill="#fff"/>
<path d="M214.0 358.4 L214.0 328.2 L216.3 328.2 L216.3 323.5 L221.8 323.5 L221.8 319.3 L227.4 319.3 L227.4 315.4 L232.3 315.4 L232.3 312.0 L236.6 312.0 L236.6 308.0 L240.8 308.0 L240.8 310.9 L250.1 310.9 L250.1 320.3 L258.3 320.3 L258.3 313.6 L260.8 310.9 L260.8 306.6 L256.3 306.6 L256.1 303.3 L246.1 303.0 L246.1 298.7 L252.1 298.7 L252.1 294.1 L262.8 294.1 L262.8 297.9 L274.4 298.6 L274.8 301.7 L276.0 301.7 L276.5 298.6 L283.9 298.1 L284.8 295.9 L286.0 294.6 L296.9 294.5 L297.8 298.0 L300.3 299.0 L301.1 302.6 L302.8 304.4 L302.8 314.3 L311.9 315.1 L312.7 319.7 L326.0 320.2 L326.9 324.1 L332.7 324.1 L333.5 328.6 L341.0 329.2 L341.8 333.2 L344.3 336.8 L345.2 342.2 L346.0 349.3 L344.3 354.7 L342.7 355.8 L338.5 360.5 L336.3 363.9 L336.3 375.3 L344.1 375.3 L344.1 382.3 L346.1 382.3 L346.1 388.8 L347.3 388.8 L347.3 399.6 L346.1 403.5 L343.9 406.1 L340.3 408.3 L338.8 411.0 L337.3 414.2 L334.4 416.9 L330.1 419.1 L329.3 422.1 L323.5 422.1 L322.7 418.1 L317.8 419.2 L313.4 418.6 L312.8 414.6 L308.4 413.8 L307.8 410.4 L297.8 410.4 L296.2 410.4 L295.4 406.4 L296.2 403.1 L297.8 400.5 L299.3 398.9 L300.1 393.8 L302.4 392.9 L303.2 390.4 L305.5 389.6 L306.3 386.2 L307.9 382.0 L311.0 380.3 L313.3 376.9 L313.3 371.8 L309.4 371.0 L309.4 365.1 L311.0 362.5 L310.2 358.3 L304.8 358.3 L304.0 361.8 L297.8 361.8 L296.2 357.4 L290.0 356.7 L289.2 353.3 L286.8 349.9 L286.1 342.3 L284.5 341.4 L284.5 345.6 L271.8 345.8 L270.3 349.0 L260.9 348.2 L260.2 345.8 L258.7 346.6 L258.0 350.5 L252.2 352.1 L251.4 356.9 L247.8 357.6 L247.1 361.5 L246.0 362.3 L238.6 362.3 L238.6 358.0 Z M218.9 363.1 L227.0 363.1 L227.0 367.1 L238.6 367.7 L240.2 372.1 L242.7 377.6 L246.0 381.2 L247.7 385.7 L251.0 390.2 L255.2 393.8 L258.5 398.3 L260.3 401.0 L261.6 405.0 L262.8 413.1 L261.6 418.6 L260.9 423.8 L241.6 423.8 L241.1 420.0 L239.0 420.0 L236.6 423.3 L235.9 419.2 L230.3 418.6 L227.8 413.1 L225.9 407.7 L222.8 401.0 L221.4 395.4 L220.1 391.4 L218.9 388.7 L215.8 387.3 L215.1 377.9 L216.4 371.8 L218.9 371.2 Z M275.3 402.3 L293.1 403.1 L293.9 406.4 L295.4 406.4 L296.6 410.4 L294.7 414.6 L292.8 420.0 L291.6 424.0 L287.2 424.6 L285.9 428.1 L274.7 427.3 L273.4 421.3 L271.6 417.3 L269.7 413.1 L270.3 410.4 L272.8 405.7 Z" fill="#bee3ea"/>
<line x1="214.0" y1="358.4" x2="214.0" y2="328.2" stroke="#e97357" stroke-width="1.5" stroke-linecap="round"/>
<line x1="214.0" y1="328.2" x2="216.3" y2="328.2" stroke="#f69243" stroke-width="1.5" stroke-linecap="round"/>
<line x1="216.3" y1="328.2" x2="216.3" y2="323.5" stroke="#f79541" stroke-width="1.5" stroke-linecap="round"/>
<line x1="216.3" y1="323.5" x2="221.8" y2="323.5" stroke="#f79441" stroke-width="1.5" stroke-linecap="round"/>
<line x1="221.8" y1="323.5" x2="221.8" y2="319.3" stroke="#f69342" stroke-width="1.5" stroke-linecap="round"/>
<line x1="221.8" y1="319.3" x2="227.4" y2="319.3" stroke="#f69342" stroke-width="1.5" stroke-linecap="round"/>
<line x1="227.4" y1="319.3" x2="227.4" y2="315.4" stroke="#f69342" stroke-width="1.5" stroke-linecap="round"/>
<line x1="227.4" y1="315.4" x2="232.3" y2="315.4" stroke="#f79441" stroke-width="1.5" stroke-linecap="round"/>
<line x1="232.3" y1="315.4" x2="232.3" y2="312.0" stroke="#f79640" stroke-width="1.5" stroke-linecap="round"/>
<line x1="232.3" y1="312.0" x2="236.6" y2="312.0" stroke="#f8983f" stroke-width="1.5" stroke-linecap="round"/>
<line x1="236.6" y1="312.0" x2="236.6" y2="308.0" stroke="#f99b3d" stroke-width="1.5" stroke-linecap="round"/>
<line x1="236.6" y1="308.0" x2="240.8" y2="308.0" stroke="#faa03a" stroke-width="1.5" stroke-linecap="round"/>
<line x1="240.8" y1="308.0" x2="240.8" y2="310.9" stroke="#f8983f" stroke-width="1.5" stroke-linecap="round"/>
<line x1="240.8" y1="310.9" x2="250.1" y2="310.9" stroke="#f58d46" stroke-width="1.5" stroke-linecap="round"/>
<line x1="250.1" y1="310.9" x2="250.1" y2="320.3" stroke="#eb7754" stroke-width="1.5" stroke-linecap="round"/>
<line x1="250.1" y1="320.3" x2="258.3" y2="320.3" stroke="#e16462" stroke-width="1.5" stroke-linecap="round"/>
<line x1="258.3" y1="320.3" x2="258.3" y2="313.6" stroke="#e66e5b" stroke-width="1.5" stroke-linecap="round"/>
<line x1="258.3" y1="313.6" x2="260.8" y2="310.9" stroke="#ef7f4f" stroke-width="1.5" stroke-linecap="round"/>
<line x1="260.8" y1="310.9" x2="260.8" y2="306.6" stroke="#f48c46" stroke-width="1.5" stroke-linecap="round"/>
<line x1="260.8" y1="306.6" x2="256.3" y2="306.6" stroke="#f79441" stroke-width="1.5" stroke-linecap="round"/>
<line x1="256.3" y1="306.6" x2="256.1" y2="303.3" stroke="#f99b3d" stroke-width="1.5" stroke-linecap="round"/>
<line x1="256.1" y1="303.3" x2="246.1" y2="303.0" stroke="#fca537" stroke-width="1.5" stroke-linecap="round"/>
<line x1="246.1" y1="303.0" x2="246.1" y2="298.7" stroke="#fcb430" stroke-width="1.5" stroke-linecap="round"/>
<line x1="246.1" y1="298.7" x2="252.1" y2="298.7" stroke="#fcba2d" stroke-width="1.5" stroke-linecap="round"/>
<line x1="252.1" y1="298.7" x2="252.1" y2="294.1" stroke="#fcc22a" stroke-width="1.5" stroke-linecap="round"/>
<line x1="252.1" y1="294.1" x2="262.8" y2="294.1" stroke="#fcca27" stroke-width="1.5" stroke-linecap="round"/>
<line x1="262.8" y1="294.1" x2="262.8" y2="297.9" stroke="#fcc02b" stroke-width="1.5" stroke-linecap="round"/>
<line x1="262.8" y1="297.9" x2="274.4" y2="298.6" stroke="#fcb72f" stroke-width="1.5" stroke-linecap="round"/>
<line x1="274.4" y1="298.6" x2="274.8" y2="301.7" stroke="#fcb231" stroke-width="1.5" stroke-linecap="round"/>
<line x1="274.8" y1="301.7" x2="276.0" y2="301.7" stroke="#fcac34" stroke-width="1.5" stroke-linecap="round"/>
<line x1="276.0" y1="301.7" x2="276.5" y2="298.6" stroke="#fcb330" stroke-width="1.5" stroke-linecap="round"/>
<line x1="276.5" y1="298.6" x2="283.9" y2="298.1" stroke="#fcbf2b" stroke-width="1.5" stroke-linecap="round"/>
<line x1="283.9" y1="298.1" x2="284.8" y2="295.9" stroke="#fcc927" stroke-width="1.5" stroke-linecap="round"/>
<line x1="284.8" y1="295.9" x2="286.0" y2="294.6" stroke="#fbd325" stroke-width="1.5" stroke-linecap="round"/>
<line x1="286.0" y1="294.6" x2="296.9" y2="294.5" stroke="#f7df23" stroke-width="1.5" stroke-linecap="round"/>
<line x1="296.9" y1="294.5" x2="297.8" y2="298.0" stroke="#f6e223" stroke-width="1.5" stroke-linecap="round"/>
<line x1="297.8" y1="298.0" x2="300.3" y2="299.0" stroke="#f8dc24" stroke-width="1.5" stroke-linecap="round"/>
<line x1="300.3" y1="299.0" x2="301.1" y2="302.6" stroke="#fad624" stroke-width="1.5" stroke-linecap="round"/>
<line x1="301.1" y1="302.6" x2="302.8" y2="304.4" stroke="#fccd25" stroke-width="1.5" stroke-linecap="round"/>
<line x1="302.8" y1="304.4" x2="302.8" y2="314.3" stroke="#fcb82e" stroke-width="1.5" stroke-linecap="round"/>
<line x1="302.8" y1="314.3" x2="311.9" y2="315.1" stroke="#fcb032" stroke-width="1.5" stroke-linecap="round"/>
<line x1="311.9" y1="315.1" x2="312.7" y2="319.7" stroke="#fcb530" stroke-width="1.5" stroke-linecap="round"/>
<line x1="312.7" y1="319.7" x2="326.0" y2="320.2" stroke="#fcc32a" stroke-width="1.5" stroke-linecap="round"/>
<line x1="326.0" y1="320.2" x2="326.9" y2="324.1" stroke="#fad624" stroke-width="1.5" stroke-linecap="round"/>
<line x1="326.9" y1="324.1" x2="332.7" y2="324.1" stroke="#f8dd24" stroke-width="1.5" stroke-linecap="round"/>
<line x1="332.7" y1="324.1" x2="333.5" y2="328.6" stroke="#f6e423" stroke-width="1.5" stroke-linecap="round"/>
<line x1="333.5" y1="328.6" x2="341.0" y2="329.2" stroke="#f3ef22" stroke-width="1.5" stroke-linecap="round"/>
<line x1="341.0" y1="329.2" x2="341.8" y2="333.2" stroke="#f0f921" stroke-width="1.5" stroke-linecap="round"/>
<line x1="341.8" y1="333.2" x2="344.3" y2="336.8" stroke="#f0f921" stroke-width="1.5" stroke-linecap="round"/>
<line x1="344.3" y1="336.8" x2="345.2" y2="342.2" stroke="#f0f921" stroke-width="1.5" stroke-linecap="round"/>
<line x1="345.2" y1="342.2" x2="346.0" y2="349.3" stroke="#f2f222" stroke-width="1.5" stroke-linecap="round"/>
<line x1="346.0" y1="349.3" x2="344.3" y2="354.7" stroke="#f5e823" stroke-width="1.5" stroke-linecap="round"/>
<line x1="344.3" y1="354.7" x2="342.7" y2="355.8" stroke="#f8dd24" stroke-width="1.5" stroke-linecap="round"/>
<line x1="342.7" y1="355.8" x2="338.5" y2="360.5" stroke="#fccc26" stroke-width="1.5" stroke-linecap="round"/>
<line x1="338.5" y1="360.5" x2="336.3" y2="363.9" stroke="#fcbb2d" stroke-width="1.5" stroke-linecap="round"/>
<line x1="336.3" y1="363.9" x2="336.3" y2="375.3" stroke="#fcb330" stroke-width="1.5" stroke-linecap="round"/>
<line x1="336.3" y1="375.3" x2="344.1" y2="375.3" stroke="#fcc529" stroke-width="1.5" stroke-linecap="round"/>
<line x1="344.1" y1="375.3" x2="344.1" y2="382.3" stroke="#f9d824" stroke-width="1.5" stroke-linecap="round"/>
<line x1="344.1" y1="382.3" x2="346.1" y2="382.3" stroke="#f7df23" stroke-width="1.5" stroke-linecap="round"/>
<line x1="346.1" y1="382.3" x2="346.1" y2="388.8" stroke="#f5e623" stroke-width="1.5" stroke-linecap="round"/>
<line x1="346.1" y1="388.8" x2="347.3" y2="388.8" stroke="#f4eb22" stroke-width="1.5" stroke-linecap="round"/>
<line x1="347.3" y1="388.8" x2="347.3" y2="399.6" stroke="#f1f421" stroke-width="1.5" stroke-linecap="round"/>
<line x1="347.3" y1="399.6" x2="346.1" y2="403.5" stroke="#f0f921" stroke-width="1.5" stroke-linecap="round"/>
<line x1="346.1" y1="403.5" x2="343.9" y2="406.1" stroke="#f0f921" stroke-width="1.5" stroke-linecap="round"/>
<line x1="343.9" y1="406.1" x2="340.3" y2="408.3" stroke="#f2f122" stroke-width="1.5" stroke-linecap="round"/>
<line x1="340.3" y1="408.3" x2="338.8" y2="411.0" stroke="#f4eb22" stroke-width="1.5" stroke-linecap="round"/>
<line x1="338.8" y1="411.0" x2="337.3" y2="414.2" stroke="#f4eb22" stroke-width="1.5" stroke-linecap="round"/>
<line x1="337.3" y1="414.2" x2="334.4" y2="416.9" stroke="#f5e923" stroke-width="1.5" stroke-linecap="round"/>
<line x1="334.4" y1="416.9" x2="330.1" y2="419.1" stroke="#f7e023" stroke-width="1.5" stroke-linecap="round"/>
<line x1="330.1" y1="419.1" x2="329.3" y2="422.1" stroke="#f8dd24" stroke-width="1.5" stroke-linecap="round"/>
<line x1="329.3" y1="422.1" x2="323.5" y2="422.1" stroke="#fad524" stroke-width="1.5" stroke-linecap="round"/>
<line x1="323.5" y1="422.1" x2="322.7" y2="418.1" stroke="#fcc32a" stroke-width="1.5" stroke-linecap="round"/>
<line x1="322.7" y1="418.1" x2="317.8" y2="419.2" stroke="#fcb530" stroke-width="1.5" stroke-linecap="round"/>
<line x1="317.8" y1="419.2" x2="313.4" y2="418.6" stroke="#fca536" stroke-width="1.5" stroke-linecap="round"/>
<line x1="313.4" y1="418.6" x2="312.8" y2="414.6" stroke="#f8983f" stroke-width="1.5" stroke-linecap="round"/>
<line x1="312.8" y1="414.6" x2="308.4" y2="413.8" stroke="#f48b47" stroke-width="1.5" stroke-linecap="round"/>
<line x1="308.4" y1="413.8" x2="307.8" y2="410.4" stroke="#ef7f4f" stroke-width="1.5" stroke-linecap="round"/>
<line x1="307.8" y1="410.4" x2="297.8" y2="410.4" stroke="#e56c5c" stroke-width="1.5" stroke-linecap="round"/>
<line x1="297.8" y1="410.4" x2="296.2" y2="410.4" stroke="#dd5e66" stroke-width="1.5" stroke-linecap="round"/>
<line x1="296.2" y1="410.4" x2="295.4" y2="406.4" stroke="#d7576c" stroke-width="1.5" stroke-linecap="round"/>
<line x1="295.4" y1="406.4" x2="296.2" y2="403.1" stroke="#d14e73" stroke-width="1.5" stroke-linecap="round"/>
<line x1="296.2" y1="403.1" x2="297.8" y2="400.5" stroke="#ce4a76" stroke-width="1.5" stroke-linecap="round"/>
<line x1="297.8" y1="400.5" x2="299.3" y2="398.9" stroke="#ce4a76" stroke-width="1.5" stroke-linecap="round"/>
<line x1="299.3" y1="398.9" x2="300.1" y2="393.8" stroke="#cb4679" stroke-width="1.5" stroke-linecap="round"/>
<line x1="300.1" y1="393.8" x2="302.4" y2="392.9" stroke="#cb4679" stroke-width="1.5" stroke-linecap="round"/>
<line x1="302.4" y1="392.9" x2="303.2" y2="390.4" stroke="#cc4878" stroke-width="1.5" stroke-linecap="round"/>
<line x1="303.2" y1="390.4" x2="305.5" y2="389.6" stroke="#ce4a76" stroke-width="1.5" stroke-linecap="round"/>
<line x1="305.5" y1="389.6" x2="306.3" y2="386.2" stroke="#d04c74" stroke-width="1.5" stroke-linecap="round"/>
<line x1="306.3" y1="386.2" x2="307.9" y2="382.0" stroke="#d04c74" stroke-width="1.5" stroke-linecap="round"/>
<line x1="307.9" y1="382.0" x2="311.0" y2="380.3" stroke="#d45270" stroke-width="1.5" stroke-linecap="round"/>
<line x1="311.0" y1="380.3" x2="313.3" y2="376.9" stroke="#d9596a" stroke-width="1.5" stroke-linecap="round"/>
<line x1="313.3" y1="376.9" x2="313.3" y2="371.8" stroke="#db5c68" stroke-width="1.5" stroke-linecap="round"/>
<line x1="313.3" y1="371.8" x2="309.4" y2="371.0" stroke="#d6556d" stroke-width="1.5" stroke-linecap="round"/>
<line x1="309.4" y1="371.0" x2="309.4" y2="365.1" stroke="#d24f72" stroke-width="1.5" stroke-linecap="round"/>
<line x1="309.4" y1="365.1" x2="311.0" y2="362.5" stroke="#d5546e" stroke-width="1.5" stroke-linecap="round"/>
<line x1="311.0" y1="362.5" x2="310.2" y2="358.3" stroke="#d8576c" stroke-width="1.5" stroke-linecap="round"/>
<line x1="310.2" y1="358.3" x2="304.8" y2="358.3" stroke="#d24f72" stroke-width="1.5" stroke-linecap="round"/>
<line x1="304.8" y1="358.3" x2="304.0" y2="361.8" stroke="#c9447b" stroke-width="1.5" stroke-linecap="round"/>
<line x1="304.0" y1="361.8" x2="297.8" y2="361.8" stroke="#bd3785" stroke-width="1.5" stroke-linecap="round"/>
<line x1="297.8" y1="361.8" x2="296.2" y2="357.4" stroke="#b42d8d" stroke-width="1.5" stroke-linecap="round"/>
<line x1="296.2" y1="357.4" x2="290.0" y2="356.7" stroke="#ab2594" stroke-width="1.5" stroke-linecap="round"/>
<line x1="290.0" y1="356.7" x2="289.2" y2="353.3" stroke="#a31e98" stroke-width="1.5" stroke-linecap="round"/>
<line x1="289.2" y1="353.3" x2="286.8" y2="349.9" stroke="#a62196" stroke-width="1.5" stroke-linecap="round"/>
<line x1="286.8" y1="349.9" x2="286.1" y2="342.3" stroke="#b12a90" stroke-width="1.5" stroke-linecap="round"/>
<line x1="286.1" y1="342.3" x2="284.5" y2="341.4" stroke="#b93289" stroke-width="1.5" stroke-linecap="round"/>
<line x1="284.5" y1="341.4" x2="284.5" y2="345.6" stroke="#b32c8e" stroke-width="1.5" stroke-linecap="round"/>
<line x1="284.5" y1="345.6" x2="271.8" y2="345.8" stroke="#9f1a9b" stroke-width="1.5" stroke-linecap="round"/>
<line x1="271.8" y1="345.8" x2="270.3" y2="349.0" stroke="#8e0da4" stroke-width="1.5" stroke-linecap="round"/>
<line x1="270.3" y1="349.0" x2="260.9" y2="348.2" stroke="#8409a5" stroke-width="1.5" stroke-linecap="round"/>
<line x1="260.9" y1="348.2" x2="260.2" y2="345.8" stroke="#8b0ba4" stroke-width="1.5" stroke-linecap="round"/>
<line x1="260.2" y1="345.8" x2="258.7" y2="346.6" stroke="#8e0da4" stroke-width="1.5" stroke-linecap="round"/>
<line x1="258.7" y1="346.6" x2="258.0" y2="350.5" stroke="#860aa5" stroke-width="1.5" stroke-linecap="round"/>
<line x1="258.0" y1="350.5" x2="252.2" y2="352.1" stroke="#7e07a6" stroke-width="1.5" stroke-linecap="round"/>
<line x1="252.2" y1="352.1" x2="251.4" y2="356.9" stroke="#7c06a6" stroke-width="1.5" stroke-linecap="round"/>
<line x1="251.4" y1="356.9" x2="247.8" y2="357.6" stroke="#7c06a6" stroke-width="1.5" stroke-linecap="round"/>
<line x1="247.8" y1="357.6" x2="247.1" y2="361.5" stroke="#7c06a6" stroke-width="1.5" stroke-linecap="round"/>
<line x1="247.1" y1="361.5" x2="246.0" y2="362.3" stroke="#7c06a6" stroke-width="1.5" stroke-linecap="round"/>
<line x1="246.0" y1="362.3" x2="238.6" y2="362.3" stroke="#8108a6" stroke-width="1.5" stroke-linecap="round"/>
<line x1="238.6" y1="362.3" x2="238.6" y2="358.0" stroke="#9310a2" stroke-width="1.5" stroke-linecap="round"/>
<line x1="238.6" y1="358.0" x2="214.0" y2="358.4" stroke="#be3885" stroke-width="1.5" stroke-linecap="round"/>
<line x1="218.9" y1="363.1" x2="227.0" y2="363.1" stroke="#c33e80" stroke-width="1.5" stroke-linecap="round"/>
<line x1="227.0" y1="363.1" x2="227.0" y2="367.1" stroke="#b62f8c" stroke-width="1.5" stroke-linecap="round"/>
<line x1="227.0" y1="367.1" x2="238.6" y2="367.7" stroke="#a01b9a" stroke-width="1.5" stroke-linecap="round"/>
<line x1="238.6" y1="367.7" x2="240.2" y2="372.1" stroke="#8409a5" stroke-width="1.5" stroke-linecap="round"/>
<line x1="240.2" y1="372.1" x2="242.7" y2="377.6" stroke="#7c06a6" stroke-width="1.5" stroke-linecap="round"/>
<line x1="242.7" y1="377.6" x2="246.0" y2="381.2" stroke="#7c06a6" stroke-width="1.5" stroke-linecap="round"/>
<line x1="246.0" y1="381.2" x2="247.7" y2="385.7" stroke="#7c06a6" stroke-width="1.5" stroke-linecap="round"/>
<line x1="247.7" y1="385.7" x2="251.0" y2="390.2" stroke="#7c06a6" stroke-width="1.5" stroke-linecap="round"/>
<line x1="251.0" y1="390.2" x2="255.2" y2="393.8" stroke="#7d07a6" stroke-width="1.5" stroke-linecap="round"/>
<line x1="255.2" y1="393.8" x2="258.5" y2="398.3" stroke="#870aa5" stroke-width="1.5" stroke-linecap="round"/>
<line x1="258.5" y1="398.3" x2="260.3" y2="401.0" stroke="#9411a1" stroke-width="1.5" stroke-linecap="round"/>
<line x1="260.3" y1="401.0" x2="261.6" y2="405.0" stroke="#a01c9a" stroke-width="1.5" stroke-linecap="round"/>
<line x1="261.6" y1="405.0" x2="262.8" y2="413.1" stroke="#b62f8b" stroke-width="1.5" stroke-linecap="round"/>
<line x1="262.8" y1="413.1" x2="261.6" y2="418.6" stroke="#cb4679" stroke-width="1.5" stroke-linecap="round"/>
<line x1="261.6" y1="418.6" x2="260.9" y2="423.8" stroke="#d8576c" stroke-width="1.5" stroke-linecap="round"/>
<line x1="260.9" y1="423.8" x2="241.6" y2="423.8" stroke="#e16462" stroke-width="1.5" stroke-linecap="round"/>
<line x1="241.6" y1="423.8" x2="241.1" y2="420.0" stroke="#e4695e" stroke-width="1.5" stroke-linecap="round"/>
<line x1="241.1" y1="420.0" x2="239.0" y2="420.0" stroke="#e16561" stroke-width="1.5" stroke-linecap="round"/>
<line x1="239.0" y1="420.0" x2="236.6" y2="423.3" stroke="#e66e5b" stroke-width="1.5" stroke-linecap="round"/>
<line x1="236.6" y1="423.3" x2="235.9" y2="419.2" stroke="#e76f5a" stroke-width="1.5" stroke-linecap="round"/>
<line x1="235.9" y1="419.2" x2="230.3" y2="418.6" stroke="#e66e5b" stroke-width="1.5" stroke-linecap="round"/>
<line x1="230.3" y1="418.6" x2="227.8" y2="413.1" stroke="#e66d5b" stroke-width="1.5" stroke-linecap="round"/>
<line x1="227.8" y1="413.1" x2="225.9" y2="407.7" stroke="#e16462" stroke-width="1.5" stroke-linecap="round"/>
<line x1="225.9" y1="407.7" x2="222.8" y2="401.0" stroke="#db5c68" stroke-width="1.5" stroke-linecap="round"/>
<line x1="222.8" y1="401.0" x2="221.4" y2="395.4" stroke="#d7566d" stroke-width="1.5" stroke-linecap="round"/>
<line x1="221.4" y1="395.4" x2="220.1" y2="391.4" stroke="#d45270" stroke-width="1.5" stroke-linecap="round"/>
<line x1="220.1" y1="391.4" x2="218.9" y2="388.7" stroke="#d35170" stroke-width="1.5" stroke-linecap="round"/>
<line x1="218.9" y1="388.7" x2="215.8" y2="387.3" stroke="#d6556d" stroke-width="1.5" stroke-linecap="round"/>
<line x1="215.8" y1="387.3" x2="215.1" y2="377.9" stroke="#d7576c" stroke-width="1.5" stroke-linecap="round"/>
<line x1="215.1" y1="377.9" x2="216.4" y2="371.8" stroke="#d4526f" stroke-width="1.5" stroke-linecap="round"/>
<line x1="216.4" y1="371.8" x2="218.9" y2="371.2" stroke="#cf4c74" stroke-width="1.5" stroke-linecap="round"/>
<line x1="218.9" y1="371.2" x2="218.9" y2="363.1" stroke="#cd4977" stroke-width="1.5" stroke-linecap="round"/>
<line x1="275.3" y1="402.3" x2="293.1" y2="403.1" stroke="#b7308b" stroke-width="1.5" stroke-linecap="round"/>
<line x1="293.1" y1="403.1" x2="293.9" y2="406.4" stroke="#cd4977" stroke-width="1.5" stroke-linecap="round"/>
<line x1="293.9" y1="406.4" x2="295.4" y2="406.4" stroke="#d24f72" stroke-width="1.5" stroke-linecap="round"/>
<line x1="295.4" y1="406.4" x2="296.6" y2="410.4" stroke="#d8576c" stroke-width="1.5" stroke-linecap="round"/>
<line x1="296.6" y1="410.4" x2="294.7" y2="414.6" stroke="#df6165" stroke-width="1.5" stroke-linecap="round"/>
<line x1="294.7" y1="414.6" x2="292.8" y2="420.0" stroke="#e46a5e" stroke-width="1.5" stroke-linecap="round"/>
<line x1="292.8" y1="420.0" x2="291.6" y2="424.0" stroke="#ea7555" stroke-width="1.5" stroke-linecap="round"/>
<line x1="291.6" y1="424.0" x2="287.2" y2="424.6" stroke="#ec7854" stroke-width="1.5" stroke-linecap="round"/>
<line x1="287.2" y1="424.6" x2="285.9" y2="428.1" stroke="#ed7a52" stroke-width="1.5" stroke-linecap="round"/>
<line x1="285.9" y1="428.1" x2="274.7" y2="427.3" stroke="#eb7754" stroke-width="1.5" stroke-linecap="round"/>
<line x1="274.7" y1="427.3" x2="273.4" y2="421.3" stroke="#e26561" stroke-width="1.5" stroke-linecap="round"/>
<line x1="273.4" y1="421.3" x2="271.6" y2="417.3" stroke="#d5546e" stroke-width="1.5" stroke-linecap="round"/>
<line x1="271.6" y1="417.3" x2="269.7" y2="413.1" stroke="#cb4679" stroke-width="1.5" stroke-linecap="round"/>
<line x1="269.7" y1="413.1" x2="270.3" y2="410.4" stroke="#c03a83" stroke-width="1.5" stroke-linecap="round"/>
<line x1="270.3" y1="410.4" x2="272.8" y2="405.7" stroke="#b62f8c" stroke-width="1.5" stroke-linecap="round"/>
<line x1="272.8" y1="405.7" x2="275.3" y2="402.3" stroke="#ab2594" stroke-width="1.5" stroke-linecap="round"/>
<line x1="263.1" y1="372.3" x2="337" y2="395" stroke="#111" stroke-width="1.5"/>
<path d="M347.7 398.9 L335.6 391.4 L334.6 398.6 Z" fill="#111"/>
<circle cx="263.1" cy="372.3" r="2.4" fill="#f4a88e" stroke="#333" stroke-width="0.7"/>
<circle cx="347.7" cy="398.9" r="1.3" fill="#8a1a1a"/>
<rect x="246.4" y="450.2" width="70.5" height="2.9" fill="url(#plasma)"/>
<path d="M316.9 450.2 L319.4 451.6 L316.9 453.1 Z" fill="#f0f921"/>
<path d="M246.4 450.2 H316.9 L319.4 451.6 L316.9 453.1 H246.4 Z" fill="none" stroke="#222" stroke-width="0.6"/>
<line x1="246.6" y1="453.1" x2="246.6" y2="455.1" stroke="#333" stroke-width="0.6"/>
<text x="246.6" y="462.6" font-size="7.3" font-weight="normal" fill="#2a2a2a" text-anchor="middle" stroke="#2a2a2a" stroke-width="0.2">0</text>
<line x1="269.6" y1="453.1" x2="269.6" y2="455.1" stroke="#333" stroke-width="0.6"/>
<text x="269.6" y="462.6" font-size="7.3" font-weight="normal" fill="#2a2a2a" text-anchor="middle" stroke="#2a2a2a" stroke-width="0.2">1</text>
<line x1="292.5" y1="453.1" x2="292.5" y2="455.1" stroke="#333" stroke-width="0.6"/>
<text x="292.5" y="462.6" font-size="7.3" font-weight="normal" fill="#2a2a2a" text-anchor="middle" stroke="#2a2a2a" stroke-width="0.2">2</text>
<line x1="315.4" y1="453.1" x2="315.4" y2="455.1" stroke="#333" stroke-width="0.6"/>
<text x="315.4" y="462.6" font-size="7.3" font-weight="normal" fill="#2a2a2a" text-anchor="middle" stroke="#2a2a2a" stroke-width="0.2">3</text>
<text x="250.9" y="475.7" font-size="10.0" font-weight="normal" fill="#2a2a2a" text-anchor="start" textLength="65.4" lengthAdjust="spacingAndGlyphs" stroke="#2a2a2a" stroke-width="0.2">Eccentricity [μm]</text>
<path d="M385.0 265.2h4.01v4.55h-4.01zM404.8 265.2h4.01v4.55h-4.01zM563.3 265.2h4.01v4.55h-4.01zM385.0 269.7h4.01v4.55h-4.01zM392.9 274.2h4.01v4.55h-4.01zM539.5 274.2h4.01v4.55h-4.01zM559.3 274.2h4.01v4.55h-4.01zM385.0 278.7h4.01v4.55h-4.01zM392.9 278.7h4.01v4.55h-4.01zM579.1 283.2h4.01v4.55h-4.01zM551.4 287.7h4.01v4.55h-4.01zM389.0 292.2h4.01v4.55h-4.01zM392.9 292.2h4.01v4.55h-4.01zM571.2 292.2h4.01v4.55h-4.01zM555.3 296.7h4.01v4.55h-4.01zM408.8 391.2h4.01v4.55h-4.01zM389.0 400.2h4.01v4.55h-4.01zM396.9 400.2h4.01v4.55h-4.01zM416.7 409.2h4.01v4.55h-4.01zM389.0 413.7h4.01v4.55h-4.01zM392.9 413.7h4.01v4.55h-4.01zM392.9 422.7h4.01v4.55h-4.01zM412.7 422.7h4.01v4.55h-4.01zM389.0 427.2h4.01v4.55h-4.01zM404.8 427.2h4.01v4.55h-4.01zM389.0 440.7h4.01v4.55h-4.01zM408.8 440.7h4.01v4.55h-4.01zM555.3 440.7h4.01v4.55h-4.01zM567.2 440.7h4.01v4.55h-4.01zM583.1 440.7h4.01v4.55h-4.01zM385.0 445.2h4.01v4.55h-4.01zM389.0 445.2h4.01v4.55h-4.01zM404.8 445.2h4.01v4.55h-4.01zM424.6 445.2h4.01v4.55h-4.01zM428.6 445.2h4.01v4.55h-4.01zM495.9 445.2h4.01v4.55h-4.01zM499.9 445.2h4.01v4.55h-4.01zM511.8 445.2h4.01v4.55h-4.01zM519.7 445.2h4.01v4.55h-4.01zM523.7 445.2h4.01v4.55h-4.01zM563.3 445.2h4.01v4.55h-4.01zM567.2 445.2h4.01v4.55h-4.01zM385.0 449.7h4.01v4.55h-4.01zM400.8 449.7h4.01v4.55h-4.01zM424.6 449.7h4.01v4.55h-4.01zM464.2 449.7h4.01v4.55h-4.01zM468.2 449.7h4.01v4.55h-4.01zM571.2 449.7h4.01v4.55h-4.01zM400.8 454.2h4.01v4.55h-4.01zM448.4 454.2h4.01v4.55h-4.01zM472.2 454.2h4.01v4.55h-4.01zM484.0 454.2h4.01v4.55h-4.01zM519.7 454.2h4.01v4.55h-4.01zM385.0 458.7h4.01v4.55h-4.01zM440.5 458.7h4.01v4.55h-4.01zM539.5 458.7h4.01v4.55h-4.01zM551.4 458.7h4.01v4.55h-4.01zM571.2 458.7h4.01v4.55h-4.01zM587.0 458.7h4.01v4.55h-4.01zM385.0 463.2h4.01v4.55h-4.01zM420.7 463.2h4.01v4.55h-4.01zM428.6 463.2h4.01v4.55h-4.01zM492.0 463.2h4.01v4.55h-4.01zM495.9 463.2h4.01v4.55h-4.01zM507.8 463.2h4.01v4.55h-4.01zM527.6 463.2h4.01v4.55h-4.01zM583.1 463.2h4.01v4.55h-4.01zM400.8 467.7h4.01v4.55h-4.01zM519.7 467.7h4.01v4.55h-4.01zM571.2 467.7h4.01v4.55h-4.01zM579.1 467.7h4.01v4.55h-4.01zM583.1 467.7h4.01v4.55h-4.01zM408.8 472.2h4.01v4.55h-4.01zM412.7 472.2h4.01v4.55h-4.01zM468.2 472.2h4.01v4.55h-4.01zM476.1 472.2h4.01v4.55h-4.01zM488.0 472.2h4.01v4.55h-4.01zM523.7 472.2h4.01v4.55h-4.01zM563.3 472.2h4.01v4.55h-4.01zM571.2 472.2h4.01v4.55h-4.01z" fill="#f2844b" shape-rendering="crispEdges"/>
<path d="M389.0 265.2h4.01v4.55h-4.01zM396.9 265.2h4.01v4.55h-4.01zM408.8 265.2h4.01v4.55h-4.01zM547.4 265.2h4.01v4.55h-4.01zM579.1 265.2h4.01v4.55h-4.01zM392.9 269.7h4.01v4.55h-4.01zM551.4 269.7h4.01v4.55h-4.01zM575.2 269.7h4.01v4.55h-4.01zM579.1 269.7h4.01v4.55h-4.01zM551.4 274.2h4.01v4.55h-4.01zM555.3 274.2h4.01v4.55h-4.01zM571.2 274.2h4.01v4.55h-4.01zM587.0 274.2h4.01v4.55h-4.01zM559.3 278.7h4.01v4.55h-4.01zM583.1 278.7h4.01v4.55h-4.01zM389.0 283.2h4.01v4.55h-4.01zM404.8 283.2h4.01v4.55h-4.01zM551.4 283.2h4.01v4.55h-4.01zM555.3 283.2h4.01v4.55h-4.01zM559.3 283.2h4.01v4.55h-4.01zM567.2 283.2h4.01v4.55h-4.01zM587.0 283.2h4.01v4.55h-4.01zM575.2 287.7h4.01v4.55h-4.01zM385.0 292.2h4.01v4.55h-4.01zM400.8 292.2h4.01v4.55h-4.01zM559.3 296.7h4.01v4.55h-4.01zM567.2 296.7h4.01v4.55h-4.01zM587.0 305.7h4.01v4.55h-4.01zM583.1 310.2h4.01v4.55h-4.01zM424.6 314.7h4.01v4.55h-4.01zM385.0 377.7h4.01v4.55h-4.01zM392.9 377.7h4.01v4.55h-4.01zM396.9 404.7h4.01v4.55h-4.01zM408.8 404.7h4.01v4.55h-4.01zM420.7 404.7h4.01v4.55h-4.01zM420.7 409.2h4.01v4.55h-4.01zM385.0 418.2h4.01v4.55h-4.01zM389.0 418.2h4.01v4.55h-4.01zM416.7 418.2h4.01v4.55h-4.01zM436.5 422.7h4.01v4.55h-4.01zM440.5 422.7h4.01v4.55h-4.01zM396.9 427.2h4.01v4.55h-4.01zM396.9 431.7h4.01v4.55h-4.01zM408.8 431.7h4.01v4.55h-4.01zM412.7 431.7h4.01v4.55h-4.01zM539.5 436.2h4.01v4.55h-4.01zM547.4 436.2h4.01v4.55h-4.01zM555.3 436.2h4.01v4.55h-4.01zM567.2 436.2h4.01v4.55h-4.01zM385.0 440.7h4.01v4.55h-4.01zM396.9 440.7h4.01v4.55h-4.01zM416.7 440.7h4.01v4.55h-4.01zM424.6 440.7h4.01v4.55h-4.01zM587.0 440.7h4.01v4.55h-4.01zM432.5 445.2h4.01v4.55h-4.01zM476.1 445.2h4.01v4.55h-4.01zM408.8 449.7h4.01v4.55h-4.01zM456.3 449.7h4.01v4.55h-4.01zM460.3 449.7h4.01v4.55h-4.01zM472.2 449.7h4.01v4.55h-4.01zM476.1 449.7h4.01v4.55h-4.01zM539.5 449.7h4.01v4.55h-4.01zM575.2 449.7h4.01v4.55h-4.01zM579.1 449.7h4.01v4.55h-4.01zM587.0 449.7h4.01v4.55h-4.01zM420.7 454.2h4.01v4.55h-4.01zM428.6 454.2h4.01v4.55h-4.01zM436.5 454.2h4.01v4.55h-4.01zM452.3 454.2h4.01v4.55h-4.01zM460.3 454.2h4.01v4.55h-4.01zM503.8 454.2h4.01v4.55h-4.01zM515.7 454.2h4.01v4.55h-4.01zM539.5 454.2h4.01v4.55h-4.01zM551.4 454.2h4.01v4.55h-4.01zM575.2 454.2h4.01v4.55h-4.01zM587.0 454.2h4.01v4.55h-4.01zM396.9 458.7h4.01v4.55h-4.01zM416.7 458.7h4.01v4.55h-4.01zM428.6 458.7h4.01v4.55h-4.01zM444.4 458.7h4.01v4.55h-4.01zM460.3 458.7h4.01v4.55h-4.01zM488.0 458.7h4.01v4.55h-4.01zM495.9 458.7h4.01v4.55h-4.01zM543.5 458.7h4.01v4.55h-4.01zM575.2 458.7h4.01v4.55h-4.01zM583.1 458.7h4.01v4.55h-4.01zM400.8 463.2h4.01v4.55h-4.01zM456.3 463.2h4.01v4.55h-4.01zM484.0 463.2h4.01v4.55h-4.01zM499.9 463.2h4.01v4.55h-4.01zM523.7 463.2h4.01v4.55h-4.01zM567.2 463.2h4.01v4.55h-4.01zM571.2 463.2h4.01v4.55h-4.01zM579.1 463.2h4.01v4.55h-4.01zM396.9 467.7h4.01v4.55h-4.01zM424.6 467.7h4.01v4.55h-4.01zM476.1 467.7h4.01v4.55h-4.01zM488.0 467.7h4.01v4.55h-4.01zM392.9 472.2h4.01v4.55h-4.01zM428.6 472.2h4.01v4.55h-4.01zM484.0 472.2h4.01v4.55h-4.01zM527.6 472.2h4.01v4.55h-4.01zM539.5 472.2h4.01v4.55h-4.01zM587.0 472.2h4.01v4.55h-4.01z" fill="#ea7456" shape-rendering="crispEdges"/>
<path d="M392.9 265.2h4.01v4.55h-4.01zM571.2 265.2h4.01v4.55h-4.01zM404.8 269.7h4.01v4.55h-4.01zM543.5 269.7h4.01v4.55h-4.01zM389.0 274.2h4.01v4.55h-4.01zM563.3 278.7h4.01v4.55h-4.01zM559.3 287.7h4.01v4.55h-4.01zM571.2 287.7h4.01v4.55h-4.01zM587.0 287.7h4.01v4.55h-4.01zM408.8 292.2h4.01v4.55h-4.01zM385.0 296.7h4.01v4.55h-4.01zM389.0 296.7h4.01v4.55h-4.01zM392.9 296.7h4.01v4.55h-4.01zM420.7 296.7h4.01v4.55h-4.01zM396.9 391.2h4.01v4.55h-4.01zM400.8 400.2h4.01v4.55h-4.01zM404.8 404.7h4.01v4.55h-4.01zM408.8 409.2h4.01v4.55h-4.01zM400.8 418.2h4.01v4.55h-4.01zM416.7 422.7h4.01v4.55h-4.01zM392.9 427.2h4.01v4.55h-4.01zM392.9 431.7h4.01v4.55h-4.01zM404.8 431.7h4.01v4.55h-4.01zM389.0 436.2h4.01v4.55h-4.01zM400.8 436.2h4.01v4.55h-4.01zM400.8 440.7h4.01v4.55h-4.01zM535.5 440.7h4.01v4.55h-4.01zM543.5 440.7h4.01v4.55h-4.01zM579.1 440.7h4.01v4.55h-4.01zM392.9 445.2h4.01v4.55h-4.01zM416.7 445.2h4.01v4.55h-4.01zM464.2 445.2h4.01v4.55h-4.01zM468.2 445.2h4.01v4.55h-4.01zM507.8 445.2h4.01v4.55h-4.01zM404.8 449.7h4.01v4.55h-4.01zM420.7 449.7h4.01v4.55h-4.01zM440.5 449.7h4.01v4.55h-4.01zM507.8 449.7h4.01v4.55h-4.01zM527.6 449.7h4.01v4.55h-4.01zM396.9 454.2h4.01v4.55h-4.01zM444.4 454.2h4.01v4.55h-4.01zM468.2 454.2h4.01v4.55h-4.01zM495.9 454.2h4.01v4.55h-4.01zM499.9 454.2h4.01v4.55h-4.01zM507.8 454.2h4.01v4.55h-4.01zM531.6 454.2h4.01v4.55h-4.01zM555.3 454.2h4.01v4.55h-4.01zM412.7 458.7h4.01v4.55h-4.01zM464.2 458.7h4.01v4.55h-4.01zM476.1 458.7h4.01v4.55h-4.01zM507.8 458.7h4.01v4.55h-4.01zM535.5 458.7h4.01v4.55h-4.01zM559.3 458.7h4.01v4.55h-4.01zM464.2 463.2h4.01v4.55h-4.01zM472.2 463.2h4.01v4.55h-4.01zM476.1 463.2h4.01v4.55h-4.01zM519.7 463.2h4.01v4.55h-4.01zM539.5 463.2h4.01v4.55h-4.01zM385.0 467.7h4.01v4.55h-4.01zM392.9 467.7h4.01v4.55h-4.01zM416.7 467.7h4.01v4.55h-4.01zM420.7 467.7h4.01v4.55h-4.01zM460.3 467.7h4.01v4.55h-4.01zM484.0 467.7h4.01v4.55h-4.01zM495.9 467.7h4.01v4.55h-4.01zM503.8 467.7h4.01v4.55h-4.01zM515.7 467.7h4.01v4.55h-4.01zM543.5 467.7h4.01v4.55h-4.01zM432.5 472.2h4.01v4.55h-4.01zM559.3 472.2h4.01v4.55h-4.01zM575.2 472.2h4.01v4.55h-4.01z" fill="#f79540" shape-rendering="crispEdges"/>
<path d="M400.8 265.2h4.01v4.55h-4.01zM412.7 265.2h4.01v4.55h-4.01zM551.4 265.2h4.01v4.55h-4.01zM555.3 265.2h4.01v4.55h-4.01zM575.2 265.2h4.01v4.55h-4.01zM396.9 269.7h4.01v4.55h-4.01zM583.1 274.2h4.01v4.55h-4.01zM579.1 278.7h4.01v4.55h-4.01zM539.5 283.2h4.01v4.55h-4.01zM547.4 283.2h4.01v4.55h-4.01zM567.2 305.7h4.01v4.55h-4.01zM575.2 305.7h4.01v4.55h-4.01zM579.1 305.7h4.01v4.55h-4.01zM389.0 382.2h4.01v4.55h-4.01zM400.8 391.2h4.01v4.55h-4.01zM416.7 391.2h4.01v4.55h-4.01zM416.7 404.7h4.01v4.55h-4.01zM412.7 413.7h4.01v4.55h-4.01zM408.8 418.2h4.01v4.55h-4.01zM385.0 422.7h4.01v4.55h-4.01zM385.0 431.7h4.01v4.55h-4.01zM389.0 431.7h4.01v4.55h-4.01zM416.7 431.7h4.01v4.55h-4.01zM420.7 431.7h4.01v4.55h-4.01zM396.9 436.2h4.01v4.55h-4.01zM416.7 436.2h4.01v4.55h-4.01zM428.6 440.7h4.01v4.55h-4.01zM527.6 440.7h4.01v4.55h-4.01zM531.6 440.7h4.01v4.55h-4.01zM551.4 440.7h4.01v4.55h-4.01zM575.2 440.7h4.01v4.55h-4.01zM444.4 445.2h4.01v4.55h-4.01zM448.4 445.2h4.01v4.55h-4.01zM527.6 445.2h4.01v4.55h-4.01zM539.5 445.2h4.01v4.55h-4.01zM571.2 445.2h4.01v4.55h-4.01zM575.2 445.2h4.01v4.55h-4.01zM587.0 445.2h4.01v4.55h-4.01zM389.0 449.7h4.01v4.55h-4.01zM436.5 449.7h4.01v4.55h-4.01zM480.1 449.7h4.01v4.55h-4.01zM484.0 449.7h4.01v4.55h-4.01zM495.9 449.7h4.01v4.55h-4.01zM515.7 449.7h4.01v4.55h-4.01zM531.6 449.7h4.01v4.55h-4.01zM535.5 449.7h4.01v4.55h-4.01zM567.2 449.7h4.01v4.55h-4.01zM404.8 454.2h4.01v4.55h-4.01zM416.7 454.2h4.01v4.55h-4.01zM424.6 454.2h4.01v4.55h-4.01zM511.8 454.2h4.01v4.55h-4.01zM543.5 454.2h4.01v4.55h-4.01zM563.3 454.2h4.01v4.55h-4.01zM452.3 458.7h4.01v4.55h-4.01zM480.1 458.7h4.01v4.55h-4.01zM492.0 458.7h4.01v4.55h-4.01zM527.6 458.7h4.01v4.55h-4.01zM579.1 458.7h4.01v4.55h-4.01zM412.7 463.2h4.01v4.55h-4.01zM468.2 463.2h4.01v4.55h-4.01zM511.8 463.2h4.01v4.55h-4.01zM543.5 463.2h4.01v4.55h-4.01zM547.4 463.2h4.01v4.55h-4.01zM389.0 467.7h4.01v4.55h-4.01zM404.8 467.7h4.01v4.55h-4.01zM436.5 467.7h4.01v4.55h-4.01zM464.2 467.7h4.01v4.55h-4.01zM472.2 467.7h4.01v4.55h-4.01zM480.1 467.7h4.01v4.55h-4.01zM507.8 467.7h4.01v4.55h-4.01zM511.8 467.7h4.01v4.55h-4.01zM531.6 467.7h4.01v4.55h-4.01zM551.4 467.7h4.01v4.55h-4.01zM559.3 467.7h4.01v4.55h-4.01zM563.3 467.7h4.01v4.55h-4.01zM444.4 472.2h4.01v4.55h-4.01zM460.3 472.2h4.01v4.55h-4.01zM492.0 472.2h4.01v4.55h-4.01z" fill="#f48c46" shape-rendering="crispEdges"/>
<path d="M416.7 265.2h4.01v4.55h-4.01zM472.2 265.2h4.01v4.55h-4.01zM499.9 265.2h4.01v4.55h-4.01zM503.8 265.2h4.01v4.55h-4.01zM531.6 265.2h4.01v4.55h-4.01zM535.5 265.2h4.01v4.55h-4.01zM416.7 269.7h4.01v4.55h-4.01zM523.7 269.7h4.01v4.55h-4.01zM448.4 274.2h4.01v4.55h-4.01zM452.3 274.2h4.01v4.55h-4.01zM507.8 274.2h4.01v4.55h-4.01zM531.6 274.2h4.01v4.55h-4.01zM444.4 278.7h4.01v4.55h-4.01zM448.4 278.7h4.01v4.55h-4.01zM412.7 283.2h4.01v4.55h-4.01zM440.5 287.7h4.01v4.55h-4.01zM460.3 287.7h4.01v4.55h-4.01zM424.6 296.7h4.01v4.55h-4.01zM579.1 301.2h4.01v4.55h-4.01zM583.1 301.2h4.01v4.55h-4.01zM420.7 314.7h4.01v4.55h-4.01zM571.2 314.7h4.01v4.55h-4.01zM575.2 314.7h4.01v4.55h-4.01zM583.1 314.7h4.01v4.55h-4.01zM587.0 314.7h4.01v4.55h-4.01zM579.1 341.7h4.01v4.55h-4.01zM583.1 350.7h4.01v4.55h-4.01zM492.0 368.7h4.01v4.55h-4.01zM495.9 373.2h4.01v4.55h-4.01zM503.8 373.2h4.01v4.55h-4.01zM408.8 377.7h4.01v4.55h-4.01zM400.8 382.2h4.01v4.55h-4.01zM495.9 382.2h4.01v4.55h-4.01zM587.0 382.2h4.01v4.55h-4.01zM587.0 386.7h4.01v4.55h-4.01zM583.1 409.2h4.01v4.55h-4.01zM420.7 413.7h4.01v4.55h-4.01zM420.7 418.2h4.01v4.55h-4.01zM579.1 418.2h4.01v4.55h-4.01zM432.5 422.7h4.01v4.55h-4.01zM535.5 431.7h4.01v4.55h-4.01zM571.2 431.7h4.01v4.55h-4.01zM583.1 431.7h4.01v4.55h-4.01zM587.0 431.7h4.01v4.55h-4.01zM424.6 436.2h4.01v4.55h-4.01zM440.5 436.2h4.01v4.55h-4.01z" fill="#d14e72" shape-rendering="crispEdges"/>
<path d="M420.7 265.2h4.01v4.55h-4.01zM587.0 265.2h4.01v4.55h-4.01zM436.5 274.2h4.01v4.55h-4.01zM444.4 274.2h4.01v4.55h-4.01zM543.5 274.2h4.01v4.55h-4.01zM547.4 274.2h4.01v4.55h-4.01zM543.5 278.7h4.01v4.55h-4.01zM571.2 283.2h4.01v4.55h-4.01zM583.1 283.2h4.01v4.55h-4.01zM535.5 287.7h4.01v4.55h-4.01zM547.4 287.7h4.01v4.55h-4.01zM559.3 292.2h4.01v4.55h-4.01zM563.3 292.2h4.01v4.55h-4.01zM571.2 305.7h4.01v4.55h-4.01zM575.2 310.2h4.01v4.55h-4.01zM579.1 310.2h4.01v4.55h-4.01zM587.0 310.2h4.01v4.55h-4.01zM416.7 386.7h4.01v4.55h-4.01zM428.6 413.7h4.01v4.55h-4.01zM432.5 413.7h4.01v4.55h-4.01zM575.2 413.7h4.01v4.55h-4.01zM579.1 413.7h4.01v4.55h-4.01zM575.2 418.2h4.01v4.55h-4.01zM575.2 422.7h4.01v4.55h-4.01zM563.3 427.2h4.01v4.55h-4.01zM539.5 431.7h4.01v4.55h-4.01zM567.2 431.7h4.01v4.55h-4.01zM575.2 431.7h4.01v4.55h-4.01zM579.1 431.7h4.01v4.55h-4.01zM392.9 440.7h4.01v4.55h-4.01zM436.5 440.7h4.01v4.55h-4.01zM547.4 440.7h4.01v4.55h-4.01zM488.0 445.2h4.01v4.55h-4.01zM519.7 449.7h4.01v4.55h-4.01zM385.0 454.2h4.01v4.55h-4.01zM408.8 454.2h4.01v4.55h-4.01zM412.7 454.2h4.01v4.55h-4.01zM440.5 454.2h4.01v4.55h-4.01zM464.2 454.2h4.01v4.55h-4.01zM492.0 454.2h4.01v4.55h-4.01zM389.0 458.7h4.01v4.55h-4.01zM404.8 458.7h4.01v4.55h-4.01zM408.8 458.7h4.01v4.55h-4.01zM436.5 458.7h4.01v4.55h-4.01zM456.3 458.7h4.01v4.55h-4.01zM563.3 458.7h4.01v4.55h-4.01zM488.0 463.2h4.01v4.55h-4.01zM535.5 463.2h4.01v4.55h-4.01zM551.4 463.2h4.01v4.55h-4.01zM555.3 463.2h4.01v4.55h-4.01zM575.2 463.2h4.01v4.55h-4.01zM412.7 467.7h4.01v4.55h-4.01zM468.2 467.7h4.01v4.55h-4.01zM492.0 467.7h4.01v4.55h-4.01zM527.6 467.7h4.01v4.55h-4.01zM555.3 467.7h4.01v4.55h-4.01zM396.9 472.2h4.01v4.55h-4.01zM404.8 472.2h4.01v4.55h-4.01zM448.4 472.2h4.01v4.55h-4.01zM472.2 472.2h4.01v4.55h-4.01zM495.9 472.2h4.01v4.55h-4.01zM507.8 472.2h4.01v4.55h-4.01zM519.7 472.2h4.01v4.55h-4.01zM531.6 472.2h4.01v4.55h-4.01zM547.4 472.2h4.01v4.55h-4.01zM583.1 472.2h4.01v4.55h-4.01z" fill="#e16462" shape-rendering="crispEdges"/>
<path d="M424.6 265.2h4.01v4.55h-4.01zM492.0 265.2h4.01v4.55h-4.01zM507.8 269.7h4.01v4.55h-4.01zM547.4 278.7h4.01v4.55h-4.01zM575.2 283.2h4.01v4.55h-4.01zM579.1 292.2h4.01v4.55h-4.01zM575.2 301.2h4.01v4.55h-4.01zM424.6 305.7h4.01v4.55h-4.01zM428.6 305.7h4.01v4.55h-4.01zM420.7 310.2h4.01v4.55h-4.01zM563.3 310.2h4.01v4.55h-4.01zM579.1 314.7h4.01v4.55h-4.01zM404.8 355.2h4.01v4.55h-4.01zM424.6 355.2h4.01v4.55h-4.01zM499.9 368.7h4.01v4.55h-4.01zM385.0 373.2h4.01v4.55h-4.01zM392.9 373.2h4.01v4.55h-4.01zM396.9 373.2h4.01v4.55h-4.01zM495.9 377.7h4.01v4.55h-4.01zM404.8 382.2h4.01v4.55h-4.01zM408.8 386.7h4.01v4.55h-4.01zM408.8 395.7h4.01v4.55h-4.01zM416.7 395.7h4.01v4.55h-4.01zM583.1 400.2h4.01v4.55h-4.01zM575.2 404.7h4.01v4.55h-4.01zM587.0 404.7h4.01v4.55h-4.01zM575.2 409.2h4.01v4.55h-4.01zM432.5 418.2h4.01v4.55h-4.01zM587.0 418.2h4.01v4.55h-4.01zM416.7 427.2h4.01v4.55h-4.01zM551.4 431.7h4.01v4.55h-4.01z" fill="#d6566d" shape-rendering="crispEdges"/>
<path d="M428.6 265.2h4.01v4.55h-4.01zM440.5 265.2h4.01v4.55h-4.01zM452.3 269.7h4.01v4.55h-4.01zM444.4 283.2h4.01v4.55h-4.01zM535.5 292.2h4.01v4.55h-4.01zM559.3 314.7h4.01v4.55h-4.01zM404.8 319.2h4.01v4.55h-4.01zM412.7 323.7h4.01v4.55h-4.01zM567.2 323.7h4.01v4.55h-4.01zM583.1 323.7h4.01v4.55h-4.01zM587.0 323.7h4.01v4.55h-4.01zM579.1 328.2h4.01v4.55h-4.01zM404.8 332.7h4.01v4.55h-4.01zM412.7 346.2h4.01v4.55h-4.01zM420.7 350.7h4.01v4.55h-4.01zM495.9 355.2h4.01v4.55h-4.01zM404.8 359.7h4.01v4.55h-4.01zM416.7 359.7h4.01v4.55h-4.01zM488.0 359.7h4.01v4.55h-4.01zM503.8 359.7h4.01v4.55h-4.01zM476.1 364.2h4.01v4.55h-4.01zM507.8 368.7h4.01v4.55h-4.01zM480.1 382.2h4.01v4.55h-4.01zM484.0 382.2h4.01v4.55h-4.01zM511.8 382.2h4.01v4.55h-4.01zM484.0 391.2h4.01v4.55h-4.01zM464.2 436.2h4.01v4.55h-4.01zM511.8 436.2h4.01v4.55h-4.01zM515.7 436.2h4.01v4.55h-4.01zM468.2 440.7h4.01v4.55h-4.01zM480.1 440.7h4.01v4.55h-4.01z" fill="#98149f" shape-rendering="crispEdges"/>
<path d="M432.5 265.2h4.01v4.55h-4.01zM460.3 265.2h4.01v4.55h-4.01zM468.2 265.2h4.01v4.55h-4.01zM444.4 269.7h4.01v4.55h-4.01zM527.6 269.7h4.01v4.55h-4.01zM503.8 274.2h4.01v4.55h-4.01zM515.7 274.2h4.01v4.55h-4.01zM416.7 283.2h4.01v4.55h-4.01zM440.5 283.2h4.01v4.55h-4.01zM408.8 287.7h4.01v4.55h-4.01zM456.3 292.2h4.01v4.55h-4.01zM456.3 296.7h4.01v4.55h-4.01zM551.4 296.7h4.01v4.55h-4.01zM385.0 301.2h4.01v4.55h-4.01zM563.3 314.7h4.01v4.55h-4.01zM408.8 319.2h4.01v4.55h-4.01zM587.0 319.2h4.01v4.55h-4.01zM408.8 323.7h4.01v4.55h-4.01zM571.2 323.7h4.01v4.55h-4.01zM575.2 328.2h4.01v4.55h-4.01zM400.8 332.7h4.01v4.55h-4.01zM587.0 341.7h4.01v4.55h-4.01zM408.8 346.2h4.01v4.55h-4.01zM385.0 355.2h4.01v4.55h-4.01zM587.0 355.2h4.01v4.55h-4.01zM385.0 359.7h4.01v4.55h-4.01zM492.0 359.7h4.01v4.55h-4.01zM488.0 368.7h4.01v4.55h-4.01zM488.0 373.2h4.01v4.55h-4.01zM404.8 377.7h4.01v4.55h-4.01zM412.7 377.7h4.01v4.55h-4.01zM424.6 386.7h4.01v4.55h-4.01zM507.8 386.7h4.01v4.55h-4.01zM440.5 409.2h4.01v4.55h-4.01zM424.6 431.7h4.01v4.55h-4.01zM523.7 431.7h4.01v4.55h-4.01zM531.6 431.7h4.01v4.55h-4.01zM468.2 436.2h4.01v4.55h-4.01zM476.1 436.2h4.01v4.55h-4.01zM444.4 440.7h4.01v4.55h-4.01zM456.3 440.7h4.01v4.55h-4.01zM507.8 440.7h4.01v4.55h-4.01z" fill="#a82395" shape-rendering="crispEdges"/>
<path d="M436.5 265.2h4.01v4.55h-4.01zM495.9 265.2h4.01v4.55h-4.01zM515.7 269.7h4.01v4.55h-4.01zM531.6 269.7h4.01v4.55h-4.01zM535.5 269.7h4.01v4.55h-4.01zM424.6 278.7h4.01v4.55h-4.01zM389.0 287.7h4.01v4.55h-4.01zM396.9 287.7h4.01v4.55h-4.01zM400.8 287.7h4.01v4.55h-4.01zM428.6 287.7h4.01v4.55h-4.01zM432.5 287.7h4.01v4.55h-4.01zM567.2 310.2h4.01v4.55h-4.01zM408.8 350.7h4.01v4.55h-4.01zM412.7 350.7h4.01v4.55h-4.01zM484.0 373.2h4.01v4.55h-4.01zM507.8 373.2h4.01v4.55h-4.01zM587.0 373.2h4.01v4.55h-4.01zM492.0 377.7h4.01v4.55h-4.01zM503.8 377.7h4.01v4.55h-4.01zM575.2 377.7h4.01v4.55h-4.01zM575.2 382.2h4.01v4.55h-4.01zM579.1 382.2h4.01v4.55h-4.01zM420.7 391.2h4.01v4.55h-4.01zM424.6 391.2h4.01v4.55h-4.01zM575.2 391.2h4.01v4.55h-4.01zM587.0 391.2h4.01v4.55h-4.01zM583.1 395.7h4.01v4.55h-4.01zM575.2 400.2h4.01v4.55h-4.01zM579.1 409.2h4.01v4.55h-4.01zM420.7 436.2h4.01v4.55h-4.01zM428.6 436.2h4.01v4.55h-4.01zM440.5 440.7h4.01v4.55h-4.01zM499.9 440.7h4.01v4.55h-4.01zM503.8 440.7h4.01v4.55h-4.01z" fill="#be3884" shape-rendering="crispEdges"/>
<path d="M444.4 265.2h4.01v4.55h-4.01zM440.5 269.7h4.01v4.55h-4.01zM436.5 283.2h4.01v4.55h-4.01zM416.7 292.2h4.01v4.55h-4.01zM420.7 292.2h4.01v4.55h-4.01zM547.4 296.7h4.01v4.55h-4.01zM547.4 301.2h4.01v4.55h-4.01zM551.4 301.2h4.01v4.55h-4.01zM555.3 301.2h4.01v4.55h-4.01zM389.0 305.7h4.01v4.55h-4.01zM551.4 305.7h4.01v4.55h-4.01zM555.3 305.7h4.01v4.55h-4.01zM559.3 305.7h4.01v4.55h-4.01zM385.0 310.2h4.01v4.55h-4.01zM567.2 314.7h4.01v4.55h-4.01zM583.1 319.2h4.01v4.55h-4.01zM575.2 323.7h4.01v4.55h-4.01zM587.0 328.2h4.01v4.55h-4.01zM389.0 359.7h4.01v4.55h-4.01zM579.1 359.7h4.01v4.55h-4.01zM583.1 359.7h4.01v4.55h-4.01zM507.8 364.2h4.01v4.55h-4.01zM583.1 364.2h4.01v4.55h-4.01zM587.0 364.2h4.01v4.55h-4.01zM480.1 368.7h4.01v4.55h-4.01zM484.0 368.7h4.01v4.55h-4.01zM511.8 368.7h4.01v4.55h-4.01zM587.0 368.7h4.01v4.55h-4.01zM511.8 373.2h4.01v4.55h-4.01zM519.7 377.7h4.01v4.55h-4.01zM492.0 382.2h4.01v4.55h-4.01zM503.8 382.2h4.01v4.55h-4.01zM507.8 382.2h4.01v4.55h-4.01zM385.0 427.2h4.01v4.55h-4.01zM436.5 427.2h4.01v4.55h-4.01zM440.5 427.2h4.01v4.55h-4.01zM523.7 427.2h4.01v4.55h-4.01zM527.6 427.2h4.01v4.55h-4.01zM531.6 427.2h4.01v4.55h-4.01zM535.5 427.2h4.01v4.55h-4.01zM428.6 431.7h4.01v4.55h-4.01zM436.5 431.7h4.01v4.55h-4.01zM448.4 431.7h4.01v4.55h-4.01zM527.6 431.7h4.01v4.55h-4.01zM484.0 436.2h4.01v4.55h-4.01zM492.0 436.2h4.01v4.55h-4.01zM495.9 436.2h4.01v4.55h-4.01zM452.3 440.7h4.01v4.55h-4.01zM484.0 440.7h4.01v4.55h-4.01zM488.0 440.7h4.01v4.55h-4.01z" fill="#a01b9a" shape-rendering="crispEdges"/>
<path d="M448.4 265.2h4.01v4.55h-4.01zM456.3 265.2h4.01v4.55h-4.01zM515.7 265.2h4.01v4.55h-4.01zM519.7 265.2h4.01v4.55h-4.01zM420.7 269.7h4.01v4.55h-4.01zM499.9 269.7h4.01v4.55h-4.01zM503.8 269.7h4.01v4.55h-4.01zM511.8 269.7h4.01v4.55h-4.01zM499.9 274.2h4.01v4.55h-4.01zM412.7 278.7h4.01v4.55h-4.01zM432.5 278.7h4.01v4.55h-4.01zM464.2 283.2h4.01v4.55h-4.01zM392.9 287.7h4.01v4.55h-4.01zM555.3 310.2h4.01v4.55h-4.01zM559.3 310.2h4.01v4.55h-4.01zM579.1 337.2h4.01v4.55h-4.01zM579.1 346.2h4.01v4.55h-4.01zM583.1 346.2h4.01v4.55h-4.01zM412.7 355.2h4.01v4.55h-4.01zM495.9 359.7h4.01v4.55h-4.01zM503.8 364.2h4.01v4.55h-4.01zM583.1 373.2h4.01v4.55h-4.01zM488.0 377.7h4.01v4.55h-4.01zM507.8 377.7h4.01v4.55h-4.01zM511.8 377.7h4.01v4.55h-4.01zM583.1 377.7h4.01v4.55h-4.01zM488.0 382.2h4.01v4.55h-4.01zM492.0 386.7h4.01v4.55h-4.01zM499.9 386.7h4.01v4.55h-4.01zM503.8 386.7h4.01v4.55h-4.01zM583.1 404.7h4.01v4.55h-4.01zM440.5 431.7h4.01v4.55h-4.01zM452.3 431.7h4.01v4.55h-4.01zM456.3 436.2h4.01v4.55h-4.01zM480.1 436.2h4.01v4.55h-4.01zM460.3 440.7h4.01v4.55h-4.01zM476.1 440.7h4.01v4.55h-4.01zM511.8 440.7h4.01v4.55h-4.01zM515.7 440.7h4.01v4.55h-4.01zM519.7 440.7h4.01v4.55h-4.01z" fill="#b8318a" shape-rendering="crispEdges"/>
<path d="M452.3 265.2h4.01v4.55h-4.01zM464.2 265.2h4.01v4.55h-4.01zM488.0 265.2h4.01v4.55h-4.01zM507.8 265.2h4.01v4.55h-4.01zM412.7 269.7h4.01v4.55h-4.01zM424.6 269.7h4.01v4.55h-4.01zM456.3 269.7h4.01v4.55h-4.01zM519.7 269.7h4.01v4.55h-4.01zM428.6 274.2h4.01v4.55h-4.01zM456.3 274.2h4.01v4.55h-4.01zM511.8 274.2h4.01v4.55h-4.01zM416.7 310.2h4.01v4.55h-4.01zM567.2 319.2h4.01v4.55h-4.01zM571.2 319.2h4.01v4.55h-4.01zM563.3 323.7h4.01v4.55h-4.01zM579.1 323.7h4.01v4.55h-4.01zM583.1 337.2h4.01v4.55h-4.01zM587.0 350.7h4.01v4.55h-4.01zM408.8 355.2h4.01v4.55h-4.01zM492.0 364.2h4.01v4.55h-4.01zM499.9 364.2h4.01v4.55h-4.01zM495.9 368.7h4.01v4.55h-4.01zM503.8 368.7h4.01v4.55h-4.01zM408.8 373.2h4.01v4.55h-4.01zM492.0 373.2h4.01v4.55h-4.01zM579.1 377.7h4.01v4.55h-4.01zM587.0 377.7h4.01v4.55h-4.01zM412.7 382.2h4.01v4.55h-4.01zM412.7 386.7h4.01v4.55h-4.01zM575.2 386.7h4.01v4.55h-4.01zM583.1 386.7h4.01v4.55h-4.01zM416.7 400.2h4.01v4.55h-4.01zM420.7 400.2h4.01v4.55h-4.01zM587.0 409.2h4.01v4.55h-4.01zM428.6 418.2h4.01v4.55h-4.01zM587.0 422.7h4.01v4.55h-4.01zM420.7 427.2h4.01v4.55h-4.01zM424.6 427.2h4.01v4.55h-4.01zM432.5 427.2h4.01v4.55h-4.01zM539.5 427.2h4.01v4.55h-4.01zM555.3 427.2h4.01v4.55h-4.01zM567.2 427.2h4.01v4.55h-4.01zM571.2 427.2h4.01v4.55h-4.01zM583.1 427.2h4.01v4.55h-4.01zM444.4 431.7h4.01v4.55h-4.01zM472.2 440.7h4.01v4.55h-4.01z" fill="#c5407e" shape-rendering="crispEdges"/>
<path d="M476.1 265.2h4.01v4.55h-4.01zM480.1 265.2h4.01v4.55h-4.01zM484.0 265.2h4.01v4.55h-4.01zM428.6 269.7h4.01v4.55h-4.01zM432.5 269.7h4.01v4.55h-4.01zM436.5 269.7h4.01v4.55h-4.01zM464.2 269.7h4.01v4.55h-4.01zM472.2 269.7h4.01v4.55h-4.01zM476.1 269.7h4.01v4.55h-4.01zM480.1 269.7h4.01v4.55h-4.01zM484.0 269.7h4.01v4.55h-4.01zM488.0 269.7h4.01v4.55h-4.01zM492.0 269.7h4.01v4.55h-4.01zM495.9 269.7h4.01v4.55h-4.01zM416.7 274.2h4.01v4.55h-4.01zM420.7 274.2h4.01v4.55h-4.01zM464.2 274.2h4.01v4.55h-4.01zM468.2 274.2h4.01v4.55h-4.01zM472.2 274.2h4.01v4.55h-4.01zM476.1 274.2h4.01v4.55h-4.01zM480.1 274.2h4.01v4.55h-4.01zM484.0 274.2h4.01v4.55h-4.01zM488.0 274.2h4.01v4.55h-4.01zM492.0 274.2h4.01v4.55h-4.01zM495.9 274.2h4.01v4.55h-4.01zM404.8 278.7h4.01v4.55h-4.01zM408.8 278.7h4.01v4.55h-4.01zM464.2 278.7h4.01v4.55h-4.01zM468.2 278.7h4.01v4.55h-4.01zM472.2 278.7h4.01v4.55h-4.01zM476.1 278.7h4.01v4.55h-4.01zM480.1 278.7h4.01v4.55h-4.01zM484.0 278.7h4.01v4.55h-4.01zM488.0 278.7h4.01v4.55h-4.01zM492.0 278.7h4.01v4.55h-4.01zM499.9 278.7h4.01v4.55h-4.01zM400.8 283.2h4.01v4.55h-4.01zM420.7 283.2h4.01v4.55h-4.01zM428.6 283.2h4.01v4.55h-4.01zM432.5 283.2h4.01v4.55h-4.01zM468.2 283.2h4.01v4.55h-4.01zM472.2 283.2h4.01v4.55h-4.01zM480.1 283.2h4.01v4.55h-4.01zM488.0 283.2h4.01v4.55h-4.01zM492.0 283.2h4.01v4.55h-4.01zM495.9 283.2h4.01v4.55h-4.01zM499.9 283.2h4.01v4.55h-4.01zM503.8 283.2h4.01v4.55h-4.01zM507.8 283.2h4.01v4.55h-4.01zM511.8 283.2h4.01v4.55h-4.01zM515.7 283.2h4.01v4.55h-4.01zM519.7 283.2h4.01v4.55h-4.01zM527.6 283.2h4.01v4.55h-4.01zM531.6 283.2h4.01v4.55h-4.01zM535.5 283.2h4.01v4.55h-4.01zM412.7 287.7h4.01v4.55h-4.01zM416.7 287.7h4.01v4.55h-4.01zM444.4 287.7h4.01v4.55h-4.01zM448.4 287.7h4.01v4.55h-4.01zM452.3 287.7h4.01v4.55h-4.01zM464.2 287.7h4.01v4.55h-4.01zM468.2 287.7h4.01v4.55h-4.01zM472.2 287.7h4.01v4.55h-4.01zM480.1 287.7h4.01v4.55h-4.01zM492.0 287.7h4.01v4.55h-4.01zM495.9 287.7h4.01v4.55h-4.01zM503.8 287.7h4.01v4.55h-4.01zM507.8 287.7h4.01v4.55h-4.01zM511.8 287.7h4.01v4.55h-4.01zM515.7 287.7h4.01v4.55h-4.01zM519.7 287.7h4.01v4.55h-4.01zM523.7 287.7h4.01v4.55h-4.01zM527.6 287.7h4.01v4.55h-4.01zM424.6 292.2h4.01v4.55h-4.01zM428.6 292.2h4.01v4.55h-4.01zM432.5 292.2h4.01v4.55h-4.01zM436.5 292.2h4.01v4.55h-4.01zM440.5 292.2h4.01v4.55h-4.01zM448.4 292.2h4.01v4.55h-4.01zM464.2 292.2h4.01v4.55h-4.01zM468.2 292.2h4.01v4.55h-4.01zM472.2 292.2h4.01v4.55h-4.01zM476.1 292.2h4.01v4.55h-4.01zM480.1 292.2h4.01v4.55h-4.01zM488.0 292.2h4.01v4.55h-4.01zM492.0 292.2h4.01v4.55h-4.01zM495.9 292.2h4.01v4.55h-4.01zM503.8 292.2h4.01v4.55h-4.01zM507.8 292.2h4.01v4.55h-4.01zM511.8 292.2h4.01v4.55h-4.01zM515.7 292.2h4.01v4.55h-4.01zM519.7 292.2h4.01v4.55h-4.01zM523.7 292.2h4.01v4.55h-4.01zM527.6 292.2h4.01v4.55h-4.01zM539.5 292.2h4.01v4.55h-4.01zM543.5 292.2h4.01v4.55h-4.01zM551.4 292.2h4.01v4.55h-4.01zM428.6 296.7h4.01v4.55h-4.01zM432.5 296.7h4.01v4.55h-4.01zM436.5 296.7h4.01v4.55h-4.01zM440.5 296.7h4.01v4.55h-4.01zM444.4 296.7h4.01v4.55h-4.01zM448.4 296.7h4.01v4.55h-4.01zM452.3 296.7h4.01v4.55h-4.01zM460.3 296.7h4.01v4.55h-4.01zM464.2 296.7h4.01v4.55h-4.01zM468.2 296.7h4.01v4.55h-4.01zM472.2 296.7h4.01v4.55h-4.01zM476.1 296.7h4.01v4.55h-4.01zM480.1 296.7h4.01v4.55h-4.01zM484.0 296.7h4.01v4.55h-4.01zM488.0 296.7h4.01v4.55h-4.01zM495.9 296.7h4.01v4.55h-4.01zM499.9 296.7h4.01v4.55h-4.01zM503.8 296.7h4.01v4.55h-4.01zM507.8 296.7h4.01v4.55h-4.01zM511.8 296.7h4.01v4.55h-4.01zM515.7 296.7h4.01v4.55h-4.01zM519.7 296.7h4.01v4.55h-4.01zM523.7 296.7h4.01v4.55h-4.01zM527.6 296.7h4.01v4.55h-4.01zM531.6 296.7h4.01v4.55h-4.01zM535.5 296.7h4.01v4.55h-4.01zM389.0 301.2h4.01v4.55h-4.01zM392.9 301.2h4.01v4.55h-4.01zM400.8 301.2h4.01v4.55h-4.01zM404.8 301.2h4.01v4.55h-4.01zM408.8 301.2h4.01v4.55h-4.01zM412.7 301.2h4.01v4.55h-4.01zM416.7 301.2h4.01v4.55h-4.01zM420.7 301.2h4.01v4.55h-4.01zM424.6 301.2h4.01v4.55h-4.01zM428.6 301.2h4.01v4.55h-4.01zM432.5 301.2h4.01v4.55h-4.01zM436.5 301.2h4.01v4.55h-4.01zM440.5 301.2h4.01v4.55h-4.01zM444.4 301.2h4.01v4.55h-4.01zM448.4 301.2h4.01v4.55h-4.01zM452.3 301.2h4.01v4.55h-4.01zM456.3 301.2h4.01v4.55h-4.01zM460.3 301.2h4.01v4.55h-4.01zM464.2 301.2h4.01v4.55h-4.01zM468.2 301.2h4.01v4.55h-4.01zM472.2 301.2h4.01v4.55h-4.01zM476.1 301.2h4.01v4.55h-4.01zM480.1 301.2h4.01v4.55h-4.01zM488.0 301.2h4.01v4.55h-4.01zM492.0 301.2h4.01v4.55h-4.01zM499.9 301.2h4.01v4.55h-4.01zM503.8 301.2h4.01v4.55h-4.01zM507.8 301.2h4.01v4.55h-4.01zM511.8 301.2h4.01v4.55h-4.01zM515.7 301.2h4.01v4.55h-4.01zM523.7 301.2h4.01v4.55h-4.01zM527.6 301.2h4.01v4.55h-4.01zM531.6 301.2h4.01v4.55h-4.01zM535.5 301.2h4.01v4.55h-4.01zM539.5 301.2h4.01v4.55h-4.01zM385.0 305.7h4.01v4.55h-4.01zM396.9 305.7h4.01v4.55h-4.01zM400.8 305.7h4.01v4.55h-4.01zM404.8 305.7h4.01v4.55h-4.01zM408.8 305.7h4.01v4.55h-4.01zM412.7 305.7h4.01v4.55h-4.01zM416.7 305.7h4.01v4.55h-4.01zM420.7 305.7h4.01v4.55h-4.01zM432.5 305.7h4.01v4.55h-4.01zM436.5 305.7h4.01v4.55h-4.01zM440.5 305.7h4.01v4.55h-4.01zM444.4 305.7h4.01v4.55h-4.01zM448.4 305.7h4.01v4.55h-4.01zM452.3 305.7h4.01v4.55h-4.01zM456.3 305.7h4.01v4.55h-4.01zM460.3 305.7h4.01v4.55h-4.01zM464.2 305.7h4.01v4.55h-4.01zM472.2 305.7h4.01v4.55h-4.01zM476.1 305.7h4.01v4.55h-4.01zM480.1 305.7h4.01v4.55h-4.01zM484.0 305.7h4.01v4.55h-4.01zM488.0 305.7h4.01v4.55h-4.01zM492.0 305.7h4.01v4.55h-4.01zM495.9 305.7h4.01v4.55h-4.01zM499.9 305.7h4.01v4.55h-4.01zM503.8 305.7h4.01v4.55h-4.01zM507.8 305.7h4.01v4.55h-4.01zM511.8 305.7h4.01v4.55h-4.01zM515.7 305.7h4.01v4.55h-4.01zM519.7 305.7h4.01v4.55h-4.01zM523.7 305.7h4.01v4.55h-4.01zM527.6 305.7h4.01v4.55h-4.01zM531.6 305.7h4.01v4.55h-4.01zM535.5 305.7h4.01v4.55h-4.01zM539.5 305.7h4.01v4.55h-4.01zM543.5 305.7h4.01v4.55h-4.01zM547.4 305.7h4.01v4.55h-4.01zM392.9 310.2h4.01v4.55h-4.01zM396.9 310.2h4.01v4.55h-4.01zM400.8 310.2h4.01v4.55h-4.01zM408.8 310.2h4.01v4.55h-4.01zM428.6 310.2h4.01v4.55h-4.01zM432.5 310.2h4.01v4.55h-4.01zM436.5 310.2h4.01v4.55h-4.01zM444.4 310.2h4.01v4.55h-4.01zM448.4 310.2h4.01v4.55h-4.01zM456.3 310.2h4.01v4.55h-4.01zM460.3 310.2h4.01v4.55h-4.01zM464.2 310.2h4.01v4.55h-4.01zM468.2 310.2h4.01v4.55h-4.01zM472.2 310.2h4.01v4.55h-4.01zM476.1 310.2h4.01v4.55h-4.01zM480.1 310.2h4.01v4.55h-4.01zM484.0 310.2h4.01v4.55h-4.01zM488.0 310.2h4.01v4.55h-4.01zM492.0 310.2h4.01v4.55h-4.01zM495.9 310.2h4.01v4.55h-4.01zM499.9 310.2h4.01v4.55h-4.01zM503.8 310.2h4.01v4.55h-4.01zM507.8 310.2h4.01v4.55h-4.01zM515.7 310.2h4.01v4.55h-4.01zM523.7 310.2h4.01v4.55h-4.01zM527.6 310.2h4.01v4.55h-4.01zM531.6 310.2h4.01v4.55h-4.01zM539.5 310.2h4.01v4.55h-4.01zM543.5 310.2h4.01v4.55h-4.01zM547.4 310.2h4.01v4.55h-4.01zM551.4 310.2h4.01v4.55h-4.01zM396.9 314.7h4.01v4.55h-4.01zM400.8 314.7h4.01v4.55h-4.01zM412.7 314.7h4.01v4.55h-4.01zM416.7 314.7h4.01v4.55h-4.01zM428.6 314.7h4.01v4.55h-4.01zM432.5 314.7h4.01v4.55h-4.01zM436.5 314.7h4.01v4.55h-4.01zM440.5 314.7h4.01v4.55h-4.01zM444.4 314.7h4.01v4.55h-4.01zM452.3 314.7h4.01v4.55h-4.01zM456.3 314.7h4.01v4.55h-4.01zM460.3 314.7h4.01v4.55h-4.01zM464.2 314.7h4.01v4.55h-4.01zM468.2 314.7h4.01v4.55h-4.01zM476.1 314.7h4.01v4.55h-4.01zM480.1 314.7h4.01v4.55h-4.01zM484.0 314.7h4.01v4.55h-4.01zM488.0 314.7h4.01v4.55h-4.01zM492.0 314.7h4.01v4.55h-4.01zM495.9 314.7h4.01v4.55h-4.01zM499.9 314.7h4.01v4.55h-4.01zM503.8 314.7h4.01v4.55h-4.01zM511.8 314.7h4.01v4.55h-4.01zM515.7 314.7h4.01v4.55h-4.01zM527.6 314.7h4.01v4.55h-4.01zM531.6 314.7h4.01v4.55h-4.01zM535.5 314.7h4.01v4.55h-4.01zM539.5 314.7h4.01v4.55h-4.01zM543.5 314.7h4.01v4.55h-4.01zM547.4 314.7h4.01v4.55h-4.01zM551.4 314.7h4.01v4.55h-4.01zM555.3 314.7h4.01v4.55h-4.01zM385.0 319.2h4.01v4.55h-4.01zM389.0 319.2h4.01v4.55h-4.01zM396.9 319.2h4.01v4.55h-4.01zM400.8 319.2h4.01v4.55h-4.01zM416.7 319.2h4.01v4.55h-4.01zM420.7 319.2h4.01v4.55h-4.01zM424.6 319.2h4.01v4.55h-4.01zM428.6 319.2h4.01v4.55h-4.01zM436.5 319.2h4.01v4.55h-4.01zM444.4 319.2h4.01v4.55h-4.01zM448.4 319.2h4.01v4.55h-4.01zM452.3 319.2h4.01v4.55h-4.01zM460.3 319.2h4.01v4.55h-4.01zM464.2 319.2h4.01v4.55h-4.01zM468.2 319.2h4.01v4.55h-4.01zM472.2 319.2h4.01v4.55h-4.01zM480.1 319.2h4.01v4.55h-4.01zM492.0 319.2h4.01v4.55h-4.01zM495.9 319.2h4.01v4.55h-4.01zM499.9 319.2h4.01v4.55h-4.01zM503.8 319.2h4.01v4.55h-4.01zM507.8 319.2h4.01v4.55h-4.01zM515.7 319.2h4.01v4.55h-4.01zM519.7 319.2h4.01v4.55h-4.01zM523.7 319.2h4.01v4.55h-4.01zM527.6 319.2h4.01v4.55h-4.01zM531.6 319.2h4.01v4.55h-4.01zM535.5 319.2h4.01v4.55h-4.01zM539.5 319.2h4.01v4.55h-4.01zM543.5 319.2h4.01v4.55h-4.01zM551.4 319.2h4.01v4.55h-4.01zM555.3 319.2h4.01v4.55h-4.01zM559.3 319.2h4.01v4.55h-4.01zM385.0 323.7h4.01v4.55h-4.01zM389.0 323.7h4.01v4.55h-4.01zM392.9 323.7h4.01v4.55h-4.01zM396.9 323.7h4.01v4.55h-4.01zM400.8 323.7h4.01v4.55h-4.01zM404.8 323.7h4.01v4.55h-4.01zM420.7 323.7h4.01v4.55h-4.01zM424.6 323.7h4.01v4.55h-4.01zM428.6 323.7h4.01v4.55h-4.01zM436.5 323.7h4.01v4.55h-4.01zM440.5 323.7h4.01v4.55h-4.01zM444.4 323.7h4.01v4.55h-4.01zM448.4 323.7h4.01v4.55h-4.01zM452.3 323.7h4.01v4.55h-4.01zM456.3 323.7h4.01v4.55h-4.01zM460.3 323.7h4.01v4.55h-4.01zM464.2 323.7h4.01v4.55h-4.01zM472.2 323.7h4.01v4.55h-4.01zM476.1 323.7h4.01v4.55h-4.01zM480.1 323.7h4.01v4.55h-4.01zM484.0 323.7h4.01v4.55h-4.01zM488.0 323.7h4.01v4.55h-4.01zM492.0 323.7h4.01v4.55h-4.01zM495.9 323.7h4.01v4.55h-4.01zM499.9 323.7h4.01v4.55h-4.01zM503.8 323.7h4.01v4.55h-4.01zM507.8 323.7h4.01v4.55h-4.01zM515.7 323.7h4.01v4.55h-4.01zM519.7 323.7h4.01v4.55h-4.01zM523.7 323.7h4.01v4.55h-4.01zM527.6 323.7h4.01v4.55h-4.01zM531.6 323.7h4.01v4.55h-4.01zM535.5 323.7h4.01v4.55h-4.01zM543.5 323.7h4.01v4.55h-4.01zM547.4 323.7h4.01v4.55h-4.01zM551.4 323.7h4.01v4.55h-4.01zM555.3 323.7h4.01v4.55h-4.01zM559.3 323.7h4.01v4.55h-4.01zM385.0 328.2h4.01v4.55h-4.01zM389.0 328.2h4.01v4.55h-4.01zM400.8 328.2h4.01v4.55h-4.01zM412.7 328.2h4.01v4.55h-4.01zM416.7 328.2h4.01v4.55h-4.01zM424.6 328.2h4.01v4.55h-4.01zM428.6 328.2h4.01v4.55h-4.01zM432.5 328.2h4.01v4.55h-4.01zM436.5 328.2h4.01v4.55h-4.01zM440.5 328.2h4.01v4.55h-4.01zM444.4 328.2h4.01v4.55h-4.01zM448.4 328.2h4.01v4.55h-4.01zM452.3 328.2h4.01v4.55h-4.01zM456.3 328.2h4.01v4.55h-4.01zM460.3 328.2h4.01v4.55h-4.01zM468.2 328.2h4.01v4.55h-4.01zM476.1 328.2h4.01v4.55h-4.01zM480.1 328.2h4.01v4.55h-4.01zM484.0 328.2h4.01v4.55h-4.01zM488.0 328.2h4.01v4.55h-4.01zM492.0 328.2h4.01v4.55h-4.01zM495.9 328.2h4.01v4.55h-4.01zM499.9 328.2h4.01v4.55h-4.01zM503.8 328.2h4.01v4.55h-4.01zM511.8 328.2h4.01v4.55h-4.01zM515.7 328.2h4.01v4.55h-4.01zM523.7 328.2h4.01v4.55h-4.01zM527.6 328.2h4.01v4.55h-4.01zM531.6 328.2h4.01v4.55h-4.01zM535.5 328.2h4.01v4.55h-4.01zM539.5 328.2h4.01v4.55h-4.01zM543.5 328.2h4.01v4.55h-4.01zM547.4 328.2h4.01v4.55h-4.01zM555.3 328.2h4.01v4.55h-4.01zM559.3 328.2h4.01v4.55h-4.01zM567.2 328.2h4.01v4.55h-4.01zM385.0 332.7h4.01v4.55h-4.01zM389.0 332.7h4.01v4.55h-4.01zM392.9 332.7h4.01v4.55h-4.01zM396.9 332.7h4.01v4.55h-4.01zM412.7 332.7h4.01v4.55h-4.01zM416.7 332.7h4.01v4.55h-4.01zM420.7 332.7h4.01v4.55h-4.01zM432.5 332.7h4.01v4.55h-4.01zM436.5 332.7h4.01v4.55h-4.01zM440.5 332.7h4.01v4.55h-4.01zM444.4 332.7h4.01v4.55h-4.01zM452.3 332.7h4.01v4.55h-4.01zM456.3 332.7h4.01v4.55h-4.01zM460.3 332.7h4.01v4.55h-4.01zM464.2 332.7h4.01v4.55h-4.01zM468.2 332.7h4.01v4.55h-4.01zM472.2 332.7h4.01v4.55h-4.01zM476.1 332.7h4.01v4.55h-4.01zM480.1 332.7h4.01v4.55h-4.01zM484.0 332.7h4.01v4.55h-4.01zM488.0 332.7h4.01v4.55h-4.01zM492.0 332.7h4.01v4.55h-4.01zM495.9 332.7h4.01v4.55h-4.01zM499.9 332.7h4.01v4.55h-4.01zM503.8 332.7h4.01v4.55h-4.01zM507.8 332.7h4.01v4.55h-4.01zM511.8 332.7h4.01v4.55h-4.01zM515.7 332.7h4.01v4.55h-4.01zM519.7 332.7h4.01v4.55h-4.01zM535.5 332.7h4.01v4.55h-4.01zM539.5 332.7h4.01v4.55h-4.01zM543.5 332.7h4.01v4.55h-4.01zM547.4 332.7h4.01v4.55h-4.01zM551.4 332.7h4.01v4.55h-4.01zM555.3 332.7h4.01v4.55h-4.01zM559.3 332.7h4.01v4.55h-4.01zM563.3 332.7h4.01v4.55h-4.01zM567.2 332.7h4.01v4.55h-4.01zM571.2 332.7h4.01v4.55h-4.01zM575.2 332.7h4.01v4.55h-4.01zM583.1 332.7h4.01v4.55h-4.01zM587.0 332.7h4.01v4.55h-4.01zM385.0 337.2h4.01v4.55h-4.01zM389.0 337.2h4.01v4.55h-4.01zM392.9 337.2h4.01v4.55h-4.01zM396.9 337.2h4.01v4.55h-4.01zM400.8 337.2h4.01v4.55h-4.01zM404.8 337.2h4.01v4.55h-4.01zM408.8 337.2h4.01v4.55h-4.01zM412.7 337.2h4.01v4.55h-4.01zM416.7 337.2h4.01v4.55h-4.01zM424.6 337.2h4.01v4.55h-4.01zM428.6 337.2h4.01v4.55h-4.01zM432.5 337.2h4.01v4.55h-4.01zM440.5 337.2h4.01v4.55h-4.01zM444.4 337.2h4.01v4.55h-4.01zM448.4 337.2h4.01v4.55h-4.01zM452.3 337.2h4.01v4.55h-4.01zM460.3 337.2h4.01v4.55h-4.01zM464.2 337.2h4.01v4.55h-4.01zM468.2 337.2h4.01v4.55h-4.01zM472.2 337.2h4.01v4.55h-4.01zM480.1 337.2h4.01v4.55h-4.01zM484.0 337.2h4.01v4.55h-4.01zM488.0 337.2h4.01v4.55h-4.01zM492.0 337.2h4.01v4.55h-4.01zM499.9 337.2h4.01v4.55h-4.01zM507.8 337.2h4.01v4.55h-4.01zM515.7 337.2h4.01v4.55h-4.01zM519.7 337.2h4.01v4.55h-4.01zM523.7 337.2h4.01v4.55h-4.01zM531.6 337.2h4.01v4.55h-4.01zM535.5 337.2h4.01v4.55h-4.01zM539.5 337.2h4.01v4.55h-4.01zM543.5 337.2h4.01v4.55h-4.01zM547.4 337.2h4.01v4.55h-4.01zM551.4 337.2h4.01v4.55h-4.01zM555.3 337.2h4.01v4.55h-4.01zM559.3 337.2h4.01v4.55h-4.01zM563.3 337.2h4.01v4.55h-4.01zM567.2 337.2h4.01v4.55h-4.01zM571.2 337.2h4.01v4.55h-4.01zM575.2 337.2h4.01v4.55h-4.01zM385.0 341.7h4.01v4.55h-4.01zM389.0 341.7h4.01v4.55h-4.01zM392.9 341.7h4.01v4.55h-4.01zM396.9 341.7h4.01v4.55h-4.01zM400.8 341.7h4.01v4.55h-4.01zM404.8 341.7h4.01v4.55h-4.01zM408.8 341.7h4.01v4.55h-4.01zM412.7 341.7h4.01v4.55h-4.01zM416.7 341.7h4.01v4.55h-4.01zM420.7 341.7h4.01v4.55h-4.01zM424.6 341.7h4.01v4.55h-4.01zM428.6 341.7h4.01v4.55h-4.01zM432.5 341.7h4.01v4.55h-4.01zM436.5 341.7h4.01v4.55h-4.01zM440.5 341.7h4.01v4.55h-4.01zM448.4 341.7h4.01v4.55h-4.01zM452.3 341.7h4.01v4.55h-4.01zM456.3 341.7h4.01v4.55h-4.01zM460.3 341.7h4.01v4.55h-4.01zM472.2 341.7h4.01v4.55h-4.01zM476.1 341.7h4.01v4.55h-4.01zM480.1 341.7h4.01v4.55h-4.01zM484.0 341.7h4.01v4.55h-4.01zM488.0 341.7h4.01v4.55h-4.01zM495.9 341.7h4.01v4.55h-4.01zM499.9 341.7h4.01v4.55h-4.01zM503.8 341.7h4.01v4.55h-4.01zM511.8 341.7h4.01v4.55h-4.01zM515.7 341.7h4.01v4.55h-4.01zM519.7 341.7h4.01v4.55h-4.01zM523.7 341.7h4.01v4.55h-4.01zM527.6 341.7h4.01v4.55h-4.01zM535.5 341.7h4.01v4.55h-4.01zM539.5 341.7h4.01v4.55h-4.01zM543.5 341.7h4.01v4.55h-4.01zM547.4 341.7h4.01v4.55h-4.01zM551.4 341.7h4.01v4.55h-4.01zM555.3 341.7h4.01v4.55h-4.01zM559.3 341.7h4.01v4.55h-4.01zM567.2 341.7h4.01v4.55h-4.01zM571.2 341.7h4.01v4.55h-4.01zM575.2 341.7h4.01v4.55h-4.01zM392.9 346.2h4.01v4.55h-4.01zM396.9 346.2h4.01v4.55h-4.01zM404.8 346.2h4.01v4.55h-4.01zM416.7 346.2h4.01v4.55h-4.01zM420.7 346.2h4.01v4.55h-4.01zM424.6 346.2h4.01v4.55h-4.01zM428.6 346.2h4.01v4.55h-4.01zM432.5 346.2h4.01v4.55h-4.01zM436.5 346.2h4.01v4.55h-4.01zM440.5 346.2h4.01v4.55h-4.01zM444.4 346.2h4.01v4.55h-4.01zM448.4 346.2h4.01v4.55h-4.01zM452.3 346.2h4.01v4.55h-4.01zM456.3 346.2h4.01v4.55h-4.01zM460.3 346.2h4.01v4.55h-4.01zM464.2 346.2h4.01v4.55h-4.01zM468.2 346.2h4.01v4.55h-4.01zM472.2 346.2h4.01v4.55h-4.01zM480.1 346.2h4.01v4.55h-4.01zM484.0 346.2h4.01v4.55h-4.01zM488.0 346.2h4.01v4.55h-4.01zM492.0 346.2h4.01v4.55h-4.01zM495.9 346.2h4.01v4.55h-4.01zM499.9 346.2h4.01v4.55h-4.01zM503.8 346.2h4.01v4.55h-4.01zM507.8 346.2h4.01v4.55h-4.01zM511.8 346.2h4.01v4.55h-4.01zM515.7 346.2h4.01v4.55h-4.01zM519.7 346.2h4.01v4.55h-4.01zM523.7 346.2h4.01v4.55h-4.01zM527.6 346.2h4.01v4.55h-4.01zM531.6 346.2h4.01v4.55h-4.01zM535.5 346.2h4.01v4.55h-4.01zM539.5 346.2h4.01v4.55h-4.01zM543.5 346.2h4.01v4.55h-4.01zM547.4 346.2h4.01v4.55h-4.01zM551.4 346.2h4.01v4.55h-4.01zM555.3 346.2h4.01v4.55h-4.01zM559.3 346.2h4.01v4.55h-4.01zM563.3 346.2h4.01v4.55h-4.01zM567.2 346.2h4.01v4.55h-4.01zM571.2 346.2h4.01v4.55h-4.01zM575.2 346.2h4.01v4.55h-4.01zM385.0 350.7h4.01v4.55h-4.01zM389.0 350.7h4.01v4.55h-4.01zM392.9 350.7h4.01v4.55h-4.01zM396.9 350.7h4.01v4.55h-4.01zM400.8 350.7h4.01v4.55h-4.01zM404.8 350.7h4.01v4.55h-4.01zM428.6 350.7h4.01v4.55h-4.01zM436.5 350.7h4.01v4.55h-4.01zM448.4 350.7h4.01v4.55h-4.01zM452.3 350.7h4.01v4.55h-4.01zM456.3 350.7h4.01v4.55h-4.01zM464.2 350.7h4.01v4.55h-4.01zM476.1 350.7h4.01v4.55h-4.01zM480.1 350.7h4.01v4.55h-4.01zM488.0 350.7h4.01v4.55h-4.01zM492.0 350.7h4.01v4.55h-4.01zM495.9 350.7h4.01v4.55h-4.01zM499.9 350.7h4.01v4.55h-4.01zM507.8 350.7h4.01v4.55h-4.01zM511.8 350.7h4.01v4.55h-4.01zM515.7 350.7h4.01v4.55h-4.01zM519.7 350.7h4.01v4.55h-4.01zM527.6 350.7h4.01v4.55h-4.01zM531.6 350.7h4.01v4.55h-4.01zM535.5 350.7h4.01v4.55h-4.01zM539.5 350.7h4.01v4.55h-4.01zM543.5 350.7h4.01v4.55h-4.01zM547.4 350.7h4.01v4.55h-4.01zM551.4 350.7h4.01v4.55h-4.01zM559.3 350.7h4.01v4.55h-4.01zM567.2 350.7h4.01v4.55h-4.01zM571.2 350.7h4.01v4.55h-4.01zM575.2 350.7h4.01v4.55h-4.01zM392.9 355.2h4.01v4.55h-4.01zM400.8 355.2h4.01v4.55h-4.01zM428.6 355.2h4.01v4.55h-4.01zM432.5 355.2h4.01v4.55h-4.01zM436.5 355.2h4.01v4.55h-4.01zM440.5 355.2h4.01v4.55h-4.01zM444.4 355.2h4.01v4.55h-4.01zM448.4 355.2h4.01v4.55h-4.01zM452.3 355.2h4.01v4.55h-4.01zM456.3 355.2h4.01v4.55h-4.01zM460.3 355.2h4.01v4.55h-4.01zM464.2 355.2h4.01v4.55h-4.01zM472.2 355.2h4.01v4.55h-4.01zM476.1 355.2h4.01v4.55h-4.01zM480.1 355.2h4.01v4.55h-4.01zM488.0 355.2h4.01v4.55h-4.01zM492.0 355.2h4.01v4.55h-4.01zM511.8 355.2h4.01v4.55h-4.01zM515.7 355.2h4.01v4.55h-4.01zM519.7 355.2h4.01v4.55h-4.01zM523.7 355.2h4.01v4.55h-4.01zM527.6 355.2h4.01v4.55h-4.01zM531.6 355.2h4.01v4.55h-4.01zM535.5 355.2h4.01v4.55h-4.01zM539.5 355.2h4.01v4.55h-4.01zM543.5 355.2h4.01v4.55h-4.01zM547.4 355.2h4.01v4.55h-4.01zM551.4 355.2h4.01v4.55h-4.01zM555.3 355.2h4.01v4.55h-4.01zM559.3 355.2h4.01v4.55h-4.01zM563.3 355.2h4.01v4.55h-4.01zM567.2 355.2h4.01v4.55h-4.01zM575.2 355.2h4.01v4.55h-4.01zM583.1 355.2h4.01v4.55h-4.01zM392.9 359.7h4.01v4.55h-4.01zM396.9 359.7h4.01v4.55h-4.01zM400.8 359.7h4.01v4.55h-4.01zM428.6 359.7h4.01v4.55h-4.01zM432.5 359.7h4.01v4.55h-4.01zM440.5 359.7h4.01v4.55h-4.01zM444.4 359.7h4.01v4.55h-4.01zM448.4 359.7h4.01v4.55h-4.01zM452.3 359.7h4.01v4.55h-4.01zM456.3 359.7h4.01v4.55h-4.01zM460.3 359.7h4.01v4.55h-4.01zM464.2 359.7h4.01v4.55h-4.01zM468.2 359.7h4.01v4.55h-4.01zM511.8 359.7h4.01v4.55h-4.01zM519.7 359.7h4.01v4.55h-4.01zM523.7 359.7h4.01v4.55h-4.01zM527.6 359.7h4.01v4.55h-4.01zM531.6 359.7h4.01v4.55h-4.01zM535.5 359.7h4.01v4.55h-4.01zM539.5 359.7h4.01v4.55h-4.01zM543.5 359.7h4.01v4.55h-4.01zM547.4 359.7h4.01v4.55h-4.01zM551.4 359.7h4.01v4.55h-4.01zM555.3 359.7h4.01v4.55h-4.01zM559.3 359.7h4.01v4.55h-4.01zM563.3 359.7h4.01v4.55h-4.01zM567.2 359.7h4.01v4.55h-4.01zM571.2 359.7h4.01v4.55h-4.01zM575.2 359.7h4.01v4.55h-4.01zM385.0 364.2h4.01v4.55h-4.01zM389.0 364.2h4.01v4.55h-4.01zM392.9 364.2h4.01v4.55h-4.01zM396.9 364.2h4.01v4.55h-4.01zM400.8 364.2h4.01v4.55h-4.01zM404.8 364.2h4.01v4.55h-4.01zM412.7 364.2h4.01v4.55h-4.01zM420.7 364.2h4.01v4.55h-4.01zM424.6 364.2h4.01v4.55h-4.01zM428.6 364.2h4.01v4.55h-4.01zM432.5 364.2h4.01v4.55h-4.01zM440.5 364.2h4.01v4.55h-4.01zM444.4 364.2h4.01v4.55h-4.01zM452.3 364.2h4.01v4.55h-4.01zM456.3 364.2h4.01v4.55h-4.01zM464.2 364.2h4.01v4.55h-4.01zM468.2 364.2h4.01v4.55h-4.01zM523.7 364.2h4.01v4.55h-4.01zM527.6 364.2h4.01v4.55h-4.01zM531.6 364.2h4.01v4.55h-4.01zM539.5 364.2h4.01v4.55h-4.01zM543.5 364.2h4.01v4.55h-4.01zM547.4 364.2h4.01v4.55h-4.01zM551.4 364.2h4.01v4.55h-4.01zM555.3 364.2h4.01v4.55h-4.01zM559.3 364.2h4.01v4.55h-4.01zM563.3 364.2h4.01v4.55h-4.01zM567.2 364.2h4.01v4.55h-4.01zM571.2 364.2h4.01v4.55h-4.01zM575.2 364.2h4.01v4.55h-4.01zM389.0 368.7h4.01v4.55h-4.01zM404.8 368.7h4.01v4.55h-4.01zM408.8 368.7h4.01v4.55h-4.01zM412.7 368.7h4.01v4.55h-4.01zM416.7 368.7h4.01v4.55h-4.01zM420.7 368.7h4.01v4.55h-4.01zM424.6 368.7h4.01v4.55h-4.01zM428.6 368.7h4.01v4.55h-4.01zM432.5 368.7h4.01v4.55h-4.01zM436.5 368.7h4.01v4.55h-4.01zM440.5 368.7h4.01v4.55h-4.01zM444.4 368.7h4.01v4.55h-4.01zM448.4 368.7h4.01v4.55h-4.01zM452.3 368.7h4.01v4.55h-4.01zM456.3 368.7h4.01v4.55h-4.01zM460.3 368.7h4.01v4.55h-4.01zM464.2 368.7h4.01v4.55h-4.01zM468.2 368.7h4.01v4.55h-4.01zM515.7 368.7h4.01v4.55h-4.01zM519.7 368.7h4.01v4.55h-4.01zM531.6 368.7h4.01v4.55h-4.01zM535.5 368.7h4.01v4.55h-4.01zM539.5 368.7h4.01v4.55h-4.01zM543.5 368.7h4.01v4.55h-4.01zM547.4 368.7h4.01v4.55h-4.01zM551.4 368.7h4.01v4.55h-4.01zM559.3 368.7h4.01v4.55h-4.01zM563.3 368.7h4.01v4.55h-4.01zM567.2 368.7h4.01v4.55h-4.01zM571.2 368.7h4.01v4.55h-4.01zM575.2 368.7h4.01v4.55h-4.01zM416.7 373.2h4.01v4.55h-4.01zM420.7 373.2h4.01v4.55h-4.01zM424.6 373.2h4.01v4.55h-4.01zM428.6 373.2h4.01v4.55h-4.01zM432.5 373.2h4.01v4.55h-4.01zM436.5 373.2h4.01v4.55h-4.01zM440.5 373.2h4.01v4.55h-4.01zM444.4 373.2h4.01v4.55h-4.01zM452.3 373.2h4.01v4.55h-4.01zM460.3 373.2h4.01v4.55h-4.01zM464.2 373.2h4.01v4.55h-4.01zM468.2 373.2h4.01v4.55h-4.01zM515.7 373.2h4.01v4.55h-4.01zM527.6 373.2h4.01v4.55h-4.01zM531.6 373.2h4.01v4.55h-4.01zM535.5 373.2h4.01v4.55h-4.01zM539.5 373.2h4.01v4.55h-4.01zM543.5 373.2h4.01v4.55h-4.01zM551.4 373.2h4.01v4.55h-4.01zM555.3 373.2h4.01v4.55h-4.01zM559.3 373.2h4.01v4.55h-4.01zM563.3 373.2h4.01v4.55h-4.01zM567.2 373.2h4.01v4.55h-4.01zM571.2 373.2h4.01v4.55h-4.01zM416.7 377.7h4.01v4.55h-4.01zM424.6 377.7h4.01v4.55h-4.01zM428.6 377.7h4.01v4.55h-4.01zM432.5 377.7h4.01v4.55h-4.01zM436.5 377.7h4.01v4.55h-4.01zM440.5 377.7h4.01v4.55h-4.01zM444.4 377.7h4.01v4.55h-4.01zM448.4 377.7h4.01v4.55h-4.01zM452.3 377.7h4.01v4.55h-4.01zM456.3 377.7h4.01v4.55h-4.01zM460.3 377.7h4.01v4.55h-4.01zM464.2 377.7h4.01v4.55h-4.01zM468.2 377.7h4.01v4.55h-4.01zM472.2 377.7h4.01v4.55h-4.01zM515.7 377.7h4.01v4.55h-4.01zM531.6 377.7h4.01v4.55h-4.01zM535.5 377.7h4.01v4.55h-4.01zM539.5 377.7h4.01v4.55h-4.01zM543.5 377.7h4.01v4.55h-4.01zM547.4 377.7h4.01v4.55h-4.01zM551.4 377.7h4.01v4.55h-4.01zM555.3 377.7h4.01v4.55h-4.01zM559.3 377.7h4.01v4.55h-4.01zM563.3 377.7h4.01v4.55h-4.01zM567.2 377.7h4.01v4.55h-4.01zM571.2 377.7h4.01v4.55h-4.01zM416.7 382.2h4.01v4.55h-4.01zM420.7 382.2h4.01v4.55h-4.01zM424.6 382.2h4.01v4.55h-4.01zM432.5 382.2h4.01v4.55h-4.01zM436.5 382.2h4.01v4.55h-4.01zM440.5 382.2h4.01v4.55h-4.01zM444.4 382.2h4.01v4.55h-4.01zM448.4 382.2h4.01v4.55h-4.01zM452.3 382.2h4.01v4.55h-4.01zM456.3 382.2h4.01v4.55h-4.01zM460.3 382.2h4.01v4.55h-4.01zM464.2 382.2h4.01v4.55h-4.01zM468.2 382.2h4.01v4.55h-4.01zM515.7 382.2h4.01v4.55h-4.01zM519.7 382.2h4.01v4.55h-4.01zM523.7 382.2h4.01v4.55h-4.01zM527.6 382.2h4.01v4.55h-4.01zM531.6 382.2h4.01v4.55h-4.01zM539.5 382.2h4.01v4.55h-4.01zM543.5 382.2h4.01v4.55h-4.01zM547.4 382.2h4.01v4.55h-4.01zM551.4 382.2h4.01v4.55h-4.01zM555.3 382.2h4.01v4.55h-4.01zM559.3 382.2h4.01v4.55h-4.01zM563.3 382.2h4.01v4.55h-4.01zM567.2 382.2h4.01v4.55h-4.01zM571.2 382.2h4.01v4.55h-4.01zM428.6 386.7h4.01v4.55h-4.01zM432.5 386.7h4.01v4.55h-4.01zM436.5 386.7h4.01v4.55h-4.01zM440.5 386.7h4.01v4.55h-4.01zM444.4 386.7h4.01v4.55h-4.01zM448.4 386.7h4.01v4.55h-4.01zM452.3 386.7h4.01v4.55h-4.01zM456.3 386.7h4.01v4.55h-4.01zM460.3 386.7h4.01v4.55h-4.01zM464.2 386.7h4.01v4.55h-4.01zM468.2 386.7h4.01v4.55h-4.01zM472.2 386.7h4.01v4.55h-4.01zM476.1 386.7h4.01v4.55h-4.01zM480.1 386.7h4.01v4.55h-4.01zM519.7 386.7h4.01v4.55h-4.01zM527.6 386.7h4.01v4.55h-4.01zM531.6 386.7h4.01v4.55h-4.01zM535.5 386.7h4.01v4.55h-4.01zM539.5 386.7h4.01v4.55h-4.01zM543.5 386.7h4.01v4.55h-4.01zM547.4 386.7h4.01v4.55h-4.01zM551.4 386.7h4.01v4.55h-4.01zM555.3 386.7h4.01v4.55h-4.01zM563.3 386.7h4.01v4.55h-4.01zM567.2 386.7h4.01v4.55h-4.01zM428.6 391.2h4.01v4.55h-4.01zM432.5 391.2h4.01v4.55h-4.01zM436.5 391.2h4.01v4.55h-4.01zM440.5 391.2h4.01v4.55h-4.01zM444.4 391.2h4.01v4.55h-4.01zM448.4 391.2h4.01v4.55h-4.01zM452.3 391.2h4.01v4.55h-4.01zM456.3 391.2h4.01v4.55h-4.01zM464.2 391.2h4.01v4.55h-4.01zM468.2 391.2h4.01v4.55h-4.01zM472.2 391.2h4.01v4.55h-4.01zM476.1 391.2h4.01v4.55h-4.01zM480.1 391.2h4.01v4.55h-4.01zM503.8 391.2h4.01v4.55h-4.01zM507.8 391.2h4.01v4.55h-4.01zM511.8 391.2h4.01v4.55h-4.01zM515.7 391.2h4.01v4.55h-4.01zM519.7 391.2h4.01v4.55h-4.01zM527.6 391.2h4.01v4.55h-4.01zM535.5 391.2h4.01v4.55h-4.01zM539.5 391.2h4.01v4.55h-4.01zM547.4 391.2h4.01v4.55h-4.01zM551.4 391.2h4.01v4.55h-4.01zM555.3 391.2h4.01v4.55h-4.01zM559.3 391.2h4.01v4.55h-4.01zM567.2 391.2h4.01v4.55h-4.01zM571.2 391.2h4.01v4.55h-4.01zM424.6 395.7h4.01v4.55h-4.01zM428.6 395.7h4.01v4.55h-4.01zM432.5 395.7h4.01v4.55h-4.01zM436.5 395.7h4.01v4.55h-4.01zM440.5 395.7h4.01v4.55h-4.01zM444.4 395.7h4.01v4.55h-4.01zM448.4 395.7h4.01v4.55h-4.01zM452.3 395.7h4.01v4.55h-4.01zM456.3 395.7h4.01v4.55h-4.01zM460.3 395.7h4.01v4.55h-4.01zM468.2 395.7h4.01v4.55h-4.01zM472.2 395.7h4.01v4.55h-4.01zM476.1 395.7h4.01v4.55h-4.01zM480.1 395.7h4.01v4.55h-4.01zM484.0 395.7h4.01v4.55h-4.01zM499.9 395.7h4.01v4.55h-4.01zM507.8 395.7h4.01v4.55h-4.01zM511.8 395.7h4.01v4.55h-4.01zM515.7 395.7h4.01v4.55h-4.01zM519.7 395.7h4.01v4.55h-4.01zM523.7 395.7h4.01v4.55h-4.01zM527.6 395.7h4.01v4.55h-4.01zM531.6 395.7h4.01v4.55h-4.01zM535.5 395.7h4.01v4.55h-4.01zM539.5 395.7h4.01v4.55h-4.01zM543.5 395.7h4.01v4.55h-4.01zM547.4 395.7h4.01v4.55h-4.01zM551.4 395.7h4.01v4.55h-4.01zM555.3 395.7h4.01v4.55h-4.01zM559.3 395.7h4.01v4.55h-4.01zM567.2 395.7h4.01v4.55h-4.01zM571.2 395.7h4.01v4.55h-4.01zM408.8 400.2h4.01v4.55h-4.01zM412.7 400.2h4.01v4.55h-4.01zM424.6 400.2h4.01v4.55h-4.01zM428.6 400.2h4.01v4.55h-4.01zM436.5 400.2h4.01v4.55h-4.01zM440.5 400.2h4.01v4.55h-4.01zM444.4 400.2h4.01v4.55h-4.01zM448.4 400.2h4.01v4.55h-4.01zM460.3 400.2h4.01v4.55h-4.01zM464.2 400.2h4.01v4.55h-4.01zM468.2 400.2h4.01v4.55h-4.01zM472.2 400.2h4.01v4.55h-4.01zM476.1 400.2h4.01v4.55h-4.01zM480.1 400.2h4.01v4.55h-4.01zM484.0 400.2h4.01v4.55h-4.01zM488.0 400.2h4.01v4.55h-4.01zM495.9 400.2h4.01v4.55h-4.01zM503.8 400.2h4.01v4.55h-4.01zM511.8 400.2h4.01v4.55h-4.01zM515.7 400.2h4.01v4.55h-4.01zM519.7 400.2h4.01v4.55h-4.01zM523.7 400.2h4.01v4.55h-4.01zM527.6 400.2h4.01v4.55h-4.01zM531.6 400.2h4.01v4.55h-4.01zM535.5 400.2h4.01v4.55h-4.01zM539.5 400.2h4.01v4.55h-4.01zM543.5 400.2h4.01v4.55h-4.01zM551.4 400.2h4.01v4.55h-4.01zM555.3 400.2h4.01v4.55h-4.01zM559.3 400.2h4.01v4.55h-4.01zM563.3 400.2h4.01v4.55h-4.01zM567.2 400.2h4.01v4.55h-4.01zM424.6 404.7h4.01v4.55h-4.01zM428.6 404.7h4.01v4.55h-4.01zM432.5 404.7h4.01v4.55h-4.01zM436.5 404.7h4.01v4.55h-4.01zM444.4 404.7h4.01v4.55h-4.01zM448.4 404.7h4.01v4.55h-4.01zM452.3 404.7h4.01v4.55h-4.01zM456.3 404.7h4.01v4.55h-4.01zM460.3 404.7h4.01v4.55h-4.01zM464.2 404.7h4.01v4.55h-4.01zM468.2 404.7h4.01v4.55h-4.01zM476.1 404.7h4.01v4.55h-4.01zM480.1 404.7h4.01v4.55h-4.01zM484.0 404.7h4.01v4.55h-4.01zM488.0 404.7h4.01v4.55h-4.01zM495.9 404.7h4.01v4.55h-4.01zM499.9 404.7h4.01v4.55h-4.01zM503.8 404.7h4.01v4.55h-4.01zM507.8 404.7h4.01v4.55h-4.01zM515.7 404.7h4.01v4.55h-4.01zM519.7 404.7h4.01v4.55h-4.01zM523.7 404.7h4.01v4.55h-4.01zM527.6 404.7h4.01v4.55h-4.01zM535.5 404.7h4.01v4.55h-4.01zM539.5 404.7h4.01v4.55h-4.01zM543.5 404.7h4.01v4.55h-4.01zM551.4 404.7h4.01v4.55h-4.01zM555.3 404.7h4.01v4.55h-4.01zM559.3 404.7h4.01v4.55h-4.01zM563.3 404.7h4.01v4.55h-4.01zM567.2 404.7h4.01v4.55h-4.01zM571.2 404.7h4.01v4.55h-4.01zM424.6 409.2h4.01v4.55h-4.01zM428.6 409.2h4.01v4.55h-4.01zM432.5 409.2h4.01v4.55h-4.01zM436.5 409.2h4.01v4.55h-4.01zM444.4 409.2h4.01v4.55h-4.01zM448.4 409.2h4.01v4.55h-4.01zM452.3 409.2h4.01v4.55h-4.01zM456.3 409.2h4.01v4.55h-4.01zM460.3 409.2h4.01v4.55h-4.01zM464.2 409.2h4.01v4.55h-4.01zM468.2 409.2h4.01v4.55h-4.01zM472.2 409.2h4.01v4.55h-4.01zM476.1 409.2h4.01v4.55h-4.01zM480.1 409.2h4.01v4.55h-4.01zM484.0 409.2h4.01v4.55h-4.01zM488.0 409.2h4.01v4.55h-4.01zM492.0 409.2h4.01v4.55h-4.01zM495.9 409.2h4.01v4.55h-4.01zM507.8 409.2h4.01v4.55h-4.01zM511.8 409.2h4.01v4.55h-4.01zM515.7 409.2h4.01v4.55h-4.01zM519.7 409.2h4.01v4.55h-4.01zM523.7 409.2h4.01v4.55h-4.01zM527.6 409.2h4.01v4.55h-4.01zM531.6 409.2h4.01v4.55h-4.01zM535.5 409.2h4.01v4.55h-4.01zM539.5 409.2h4.01v4.55h-4.01zM543.5 409.2h4.01v4.55h-4.01zM547.4 409.2h4.01v4.55h-4.01zM551.4 409.2h4.01v4.55h-4.01zM555.3 409.2h4.01v4.55h-4.01zM563.3 409.2h4.01v4.55h-4.01zM567.2 409.2h4.01v4.55h-4.01zM571.2 409.2h4.01v4.55h-4.01zM444.4 413.7h4.01v4.55h-4.01zM448.4 413.7h4.01v4.55h-4.01zM452.3 413.7h4.01v4.55h-4.01zM456.3 413.7h4.01v4.55h-4.01zM460.3 413.7h4.01v4.55h-4.01zM464.2 413.7h4.01v4.55h-4.01zM472.2 413.7h4.01v4.55h-4.01zM484.0 413.7h4.01v4.55h-4.01zM488.0 413.7h4.01v4.55h-4.01zM492.0 413.7h4.01v4.55h-4.01zM495.9 413.7h4.01v4.55h-4.01zM503.8 413.7h4.01v4.55h-4.01zM507.8 413.7h4.01v4.55h-4.01zM511.8 413.7h4.01v4.55h-4.01zM519.7 413.7h4.01v4.55h-4.01zM523.7 413.7h4.01v4.55h-4.01zM527.6 413.7h4.01v4.55h-4.01zM531.6 413.7h4.01v4.55h-4.01zM543.5 413.7h4.01v4.55h-4.01zM547.4 413.7h4.01v4.55h-4.01zM551.4 413.7h4.01v4.55h-4.01zM555.3 413.7h4.01v4.55h-4.01zM567.2 413.7h4.01v4.55h-4.01zM571.2 413.7h4.01v4.55h-4.01zM440.5 418.2h4.01v4.55h-4.01zM444.4 418.2h4.01v4.55h-4.01zM448.4 418.2h4.01v4.55h-4.01zM452.3 418.2h4.01v4.55h-4.01zM456.3 418.2h4.01v4.55h-4.01zM460.3 418.2h4.01v4.55h-4.01zM464.2 418.2h4.01v4.55h-4.01zM472.2 418.2h4.01v4.55h-4.01zM488.0 418.2h4.01v4.55h-4.01zM492.0 418.2h4.01v4.55h-4.01zM495.9 418.2h4.01v4.55h-4.01zM503.8 418.2h4.01v4.55h-4.01zM507.8 418.2h4.01v4.55h-4.01zM511.8 418.2h4.01v4.55h-4.01zM515.7 418.2h4.01v4.55h-4.01zM519.7 418.2h4.01v4.55h-4.01zM523.7 418.2h4.01v4.55h-4.01zM527.6 418.2h4.01v4.55h-4.01zM531.6 418.2h4.01v4.55h-4.01zM535.5 418.2h4.01v4.55h-4.01zM539.5 418.2h4.01v4.55h-4.01zM543.5 418.2h4.01v4.55h-4.01zM547.4 418.2h4.01v4.55h-4.01zM551.4 418.2h4.01v4.55h-4.01zM559.3 418.2h4.01v4.55h-4.01zM563.3 418.2h4.01v4.55h-4.01zM567.2 418.2h4.01v4.55h-4.01zM571.2 418.2h4.01v4.55h-4.01zM448.4 422.7h4.01v4.55h-4.01zM452.3 422.7h4.01v4.55h-4.01zM460.3 422.7h4.01v4.55h-4.01zM464.2 422.7h4.01v4.55h-4.01zM468.2 422.7h4.01v4.55h-4.01zM476.1 422.7h4.01v4.55h-4.01zM480.1 422.7h4.01v4.55h-4.01zM484.0 422.7h4.01v4.55h-4.01zM488.0 422.7h4.01v4.55h-4.01zM492.0 422.7h4.01v4.55h-4.01zM495.9 422.7h4.01v4.55h-4.01zM499.9 422.7h4.01v4.55h-4.01zM503.8 422.7h4.01v4.55h-4.01zM507.8 422.7h4.01v4.55h-4.01zM515.7 422.7h4.01v4.55h-4.01zM519.7 422.7h4.01v4.55h-4.01zM523.7 422.7h4.01v4.55h-4.01zM527.6 422.7h4.01v4.55h-4.01zM531.6 422.7h4.01v4.55h-4.01zM535.5 422.7h4.01v4.55h-4.01zM539.5 422.7h4.01v4.55h-4.01zM543.5 422.7h4.01v4.55h-4.01zM547.4 422.7h4.01v4.55h-4.01zM551.4 422.7h4.01v4.55h-4.01zM555.3 422.7h4.01v4.55h-4.01zM559.3 422.7h4.01v4.55h-4.01zM563.3 422.7h4.01v4.55h-4.01zM567.2 422.7h4.01v4.55h-4.01zM571.2 422.7h4.01v4.55h-4.01zM444.4 427.2h4.01v4.55h-4.01zM448.4 427.2h4.01v4.55h-4.01zM452.3 427.2h4.01v4.55h-4.01zM456.3 427.2h4.01v4.55h-4.01zM460.3 427.2h4.01v4.55h-4.01zM464.2 427.2h4.01v4.55h-4.01zM468.2 427.2h4.01v4.55h-4.01zM472.2 427.2h4.01v4.55h-4.01zM476.1 427.2h4.01v4.55h-4.01zM480.1 427.2h4.01v4.55h-4.01zM484.0 427.2h4.01v4.55h-4.01zM488.0 427.2h4.01v4.55h-4.01zM495.9 427.2h4.01v4.55h-4.01zM499.9 427.2h4.01v4.55h-4.01zM503.8 427.2h4.01v4.55h-4.01zM507.8 427.2h4.01v4.55h-4.01zM511.8 427.2h4.01v4.55h-4.01zM456.3 431.7h4.01v4.55h-4.01zM460.3 431.7h4.01v4.55h-4.01zM464.2 431.7h4.01v4.55h-4.01zM472.2 431.7h4.01v4.55h-4.01zM476.1 431.7h4.01v4.55h-4.01zM480.1 431.7h4.01v4.55h-4.01zM484.0 431.7h4.01v4.55h-4.01zM488.0 431.7h4.01v4.55h-4.01zM495.9 431.7h4.01v4.55h-4.01zM499.9 431.7h4.01v4.55h-4.01zM503.8 431.7h4.01v4.55h-4.01zM507.8 431.7h4.01v4.55h-4.01zM511.8 431.7h4.01v4.55h-4.01zM519.7 431.7h4.01v4.55h-4.01z" fill="#1e0d92" shape-rendering="crispEdges"/>
<path d="M511.8 265.2h4.01v4.55h-4.01zM523.7 265.2h4.01v4.55h-4.01zM420.7 278.7h4.01v4.55h-4.01zM428.6 278.7h4.01v4.55h-4.01zM440.5 278.7h4.01v4.55h-4.01zM452.3 278.7h4.01v4.55h-4.01zM456.3 278.7h4.01v4.55h-4.01zM460.3 278.7h4.01v4.55h-4.01zM385.0 287.7h4.01v4.55h-4.01zM404.8 287.7h4.01v4.55h-4.01zM424.6 287.7h4.01v4.55h-4.01zM436.5 287.7h4.01v4.55h-4.01zM456.3 287.7h4.01v4.55h-4.01zM543.5 287.7h4.01v4.55h-4.01zM587.0 346.2h4.01v4.55h-4.01zM579.1 350.7h4.01v4.55h-4.01zM416.7 355.2h4.01v4.55h-4.01zM400.8 377.7h4.01v4.55h-4.01zM579.1 386.7h4.01v4.55h-4.01zM579.1 391.2h4.01v4.55h-4.01zM412.7 395.7h4.01v4.55h-4.01zM575.2 395.7h4.01v4.55h-4.01zM579.1 395.7h4.01v4.55h-4.01zM424.6 418.2h4.01v4.55h-4.01zM436.5 418.2h4.01v4.55h-4.01zM583.1 418.2h4.01v4.55h-4.01zM420.7 422.7h4.01v4.55h-4.01zM424.6 422.7h4.01v4.55h-4.01zM428.6 422.7h4.01v4.55h-4.01zM583.1 422.7h4.01v4.55h-4.01zM547.4 427.2h4.01v4.55h-4.01zM551.4 427.2h4.01v4.55h-4.01zM559.3 427.2h4.01v4.55h-4.01zM579.1 427.2h4.01v4.55h-4.01zM432.5 436.2h4.01v4.55h-4.01z" fill="#cc4778" shape-rendering="crispEdges"/>
<path d="M527.6 265.2h4.01v4.55h-4.01zM539.5 265.2h4.01v4.55h-4.01zM460.3 269.7h4.01v4.55h-4.01zM424.6 274.2h4.01v4.55h-4.01zM460.3 274.2h4.01v4.55h-4.01zM535.5 278.7h4.01v4.55h-4.01zM551.4 278.7h4.01v4.55h-4.01zM385.0 283.2h4.01v4.55h-4.01zM396.9 283.2h4.01v4.55h-4.01zM563.3 283.2h4.01v4.55h-4.01zM531.6 287.7h4.01v4.55h-4.01zM575.2 292.2h4.01v4.55h-4.01zM587.0 292.2h4.01v4.55h-4.01zM587.0 301.2h4.01v4.55h-4.01zM563.3 305.7h4.01v4.55h-4.01zM583.1 305.7h4.01v4.55h-4.01zM412.7 310.2h4.01v4.55h-4.01zM571.2 310.2h4.01v4.55h-4.01zM412.7 373.2h4.01v4.55h-4.01zM499.9 373.2h4.01v4.55h-4.01zM499.9 377.7h4.01v4.55h-4.01zM579.1 400.2h4.01v4.55h-4.01zM579.1 404.7h4.01v4.55h-4.01zM583.1 413.7h4.01v4.55h-4.01zM579.1 422.7h4.01v4.55h-4.01zM575.2 427.2h4.01v4.55h-4.01zM587.0 427.2h4.01v4.55h-4.01zM555.3 431.7h4.01v4.55h-4.01zM563.3 431.7h4.01v4.55h-4.01zM436.5 436.2h4.01v4.55h-4.01zM551.4 436.2h4.01v4.55h-4.01zM575.2 436.2h4.01v4.55h-4.01zM579.1 436.2h4.01v4.55h-4.01zM583.1 436.2h4.01v4.55h-4.01zM385.0 472.2h4.01v4.55h-4.01zM511.8 472.2h4.01v4.55h-4.01zM551.4 472.2h4.01v4.55h-4.01zM555.3 472.2h4.01v4.55h-4.01zM567.2 472.2h4.01v4.55h-4.01z" fill="#dc5d68" shape-rendering="crispEdges"/>
<path d="M543.5 265.2h4.01v4.55h-4.01zM567.2 265.2h4.01v4.55h-4.01zM555.3 269.7h4.01v4.55h-4.01zM559.3 269.7h4.01v4.55h-4.01zM535.5 274.2h4.01v4.55h-4.01zM563.3 274.2h4.01v4.55h-4.01zM392.9 283.2h4.01v4.55h-4.01zM579.1 287.7h4.01v4.55h-4.01zM396.9 292.2h4.01v4.55h-4.01zM404.8 292.2h4.01v4.55h-4.01zM555.3 292.2h4.01v4.55h-4.01zM571.2 296.7h4.01v4.55h-4.01zM579.1 296.7h4.01v4.55h-4.01zM563.3 301.2h4.01v4.55h-4.01zM389.0 373.2h4.01v4.55h-4.01zM389.0 377.7h4.01v4.55h-4.01zM392.9 391.2h4.01v4.55h-4.01zM385.0 400.2h4.01v4.55h-4.01zM392.9 400.2h4.01v4.55h-4.01zM400.8 404.7h4.01v4.55h-4.01zM396.9 409.2h4.01v4.55h-4.01zM404.8 418.2h4.01v4.55h-4.01zM400.8 422.7h4.01v4.55h-4.01zM543.5 431.7h4.01v4.55h-4.01zM547.4 431.7h4.01v4.55h-4.01zM535.5 436.2h4.01v4.55h-4.01zM412.7 440.7h4.01v4.55h-4.01zM523.7 440.7h4.01v4.55h-4.01zM559.3 440.7h4.01v4.55h-4.01zM571.2 440.7h4.01v4.55h-4.01zM396.9 445.2h4.01v4.55h-4.01zM400.8 445.2h4.01v4.55h-4.01zM408.8 445.2h4.01v4.55h-4.01zM412.7 445.2h4.01v4.55h-4.01zM436.5 445.2h4.01v4.55h-4.01zM460.3 445.2h4.01v4.55h-4.01zM480.1 445.2h4.01v4.55h-4.01zM531.6 445.2h4.01v4.55h-4.01zM535.5 445.2h4.01v4.55h-4.01zM396.9 449.7h4.01v4.55h-4.01zM412.7 449.7h4.01v4.55h-4.01zM452.3 449.7h4.01v4.55h-4.01zM488.0 449.7h4.01v4.55h-4.01zM503.8 449.7h4.01v4.55h-4.01zM511.8 449.7h4.01v4.55h-4.01zM523.7 449.7h4.01v4.55h-4.01zM392.9 454.2h4.01v4.55h-4.01zM456.3 454.2h4.01v4.55h-4.01zM480.1 454.2h4.01v4.55h-4.01zM527.6 454.2h4.01v4.55h-4.01zM559.3 454.2h4.01v4.55h-4.01zM392.9 458.7h4.01v4.55h-4.01zM400.8 458.7h4.01v4.55h-4.01zM472.2 458.7h4.01v4.55h-4.01zM511.8 458.7h4.01v4.55h-4.01zM519.7 458.7h4.01v4.55h-4.01zM567.2 458.7h4.01v4.55h-4.01zM389.0 463.2h4.01v4.55h-4.01zM392.9 463.2h4.01v4.55h-4.01zM408.8 463.2h4.01v4.55h-4.01zM424.6 463.2h4.01v4.55h-4.01zM432.5 463.2h4.01v4.55h-4.01zM460.3 463.2h4.01v4.55h-4.01zM503.8 463.2h4.01v4.55h-4.01zM408.8 467.7h4.01v4.55h-4.01zM499.9 467.7h4.01v4.55h-4.01zM523.7 467.7h4.01v4.55h-4.01zM535.5 467.7h4.01v4.55h-4.01zM539.5 467.7h4.01v4.55h-4.01zM424.6 472.2h4.01v4.55h-4.01zM452.3 472.2h4.01v4.55h-4.01zM464.2 472.2h4.01v4.55h-4.01zM480.1 472.2h4.01v4.55h-4.01zM579.1 472.2h4.01v4.55h-4.01z" fill="#ee7c51" shape-rendering="crispEdges"/>
<path d="M559.3 265.2h4.01v4.55h-4.01zM400.8 269.7h4.01v4.55h-4.01zM571.2 269.7h4.01v4.55h-4.01zM432.5 274.2h4.01v4.55h-4.01zM440.5 274.2h4.01v4.55h-4.01zM575.2 274.2h4.01v4.55h-4.01zM389.0 278.7h4.01v4.55h-4.01zM539.5 278.7h4.01v4.55h-4.01zM408.8 283.2h4.01v4.55h-4.01zM543.5 283.2h4.01v4.55h-4.01zM539.5 287.7h4.01v4.55h-4.01zM555.3 287.7h4.01v4.55h-4.01zM567.2 287.7h4.01v4.55h-4.01zM567.2 292.2h4.01v4.55h-4.01zM583.1 292.2h4.01v4.55h-4.01zM563.3 296.7h4.01v4.55h-4.01zM575.2 296.7h4.01v4.55h-4.01zM583.1 296.7h4.01v4.55h-4.01zM559.3 301.2h4.01v4.55h-4.01zM567.2 301.2h4.01v4.55h-4.01zM571.2 301.2h4.01v4.55h-4.01zM400.8 373.2h4.01v4.55h-4.01zM408.8 382.2h4.01v4.55h-4.01zM424.6 413.7h4.01v4.55h-4.01zM587.0 413.7h4.01v4.55h-4.01zM543.5 427.2h4.01v4.55h-4.01zM559.3 431.7h4.01v4.55h-4.01zM412.7 436.2h4.01v4.55h-4.01zM543.5 436.2h4.01v4.55h-4.01zM559.3 436.2h4.01v4.55h-4.01zM563.3 436.2h4.01v4.55h-4.01zM571.2 436.2h4.01v4.55h-4.01zM587.0 436.2h4.01v4.55h-4.01zM404.8 440.7h4.01v4.55h-4.01zM432.5 440.7h4.01v4.55h-4.01zM539.5 440.7h4.01v4.55h-4.01zM440.5 445.2h4.01v4.55h-4.01zM452.3 445.2h4.01v4.55h-4.01zM492.0 445.2h4.01v4.55h-4.01zM428.6 449.7h4.01v4.55h-4.01zM499.9 449.7h4.01v4.55h-4.01zM389.0 454.2h4.01v4.55h-4.01zM432.5 454.2h4.01v4.55h-4.01zM488.0 454.2h4.01v4.55h-4.01zM535.5 454.2h4.01v4.55h-4.01zM547.4 454.2h4.01v4.55h-4.01zM567.2 454.2h4.01v4.55h-4.01zM571.2 454.2h4.01v4.55h-4.01zM579.1 454.2h4.01v4.55h-4.01zM420.7 458.7h4.01v4.55h-4.01zM424.6 458.7h4.01v4.55h-4.01zM432.5 458.7h4.01v4.55h-4.01zM448.4 458.7h4.01v4.55h-4.01zM468.2 458.7h4.01v4.55h-4.01zM484.0 458.7h4.01v4.55h-4.01zM503.8 458.7h4.01v4.55h-4.01zM515.7 458.7h4.01v4.55h-4.01zM523.7 458.7h4.01v4.55h-4.01zM531.6 458.7h4.01v4.55h-4.01zM547.4 458.7h4.01v4.55h-4.01zM555.3 458.7h4.01v4.55h-4.01zM396.9 463.2h4.01v4.55h-4.01zM416.7 463.2h4.01v4.55h-4.01zM436.5 463.2h4.01v4.55h-4.01zM480.1 463.2h4.01v4.55h-4.01zM515.7 463.2h4.01v4.55h-4.01zM531.6 463.2h4.01v4.55h-4.01zM559.3 463.2h4.01v4.55h-4.01zM563.3 463.2h4.01v4.55h-4.01zM587.0 463.2h4.01v4.55h-4.01zM428.6 467.7h4.01v4.55h-4.01zM456.3 467.7h4.01v4.55h-4.01zM547.4 467.7h4.01v4.55h-4.01zM567.2 467.7h4.01v4.55h-4.01zM587.0 467.7h4.01v4.55h-4.01zM389.0 472.2h4.01v4.55h-4.01zM400.8 472.2h4.01v4.55h-4.01zM416.7 472.2h4.01v4.55h-4.01zM420.7 472.2h4.01v4.55h-4.01zM436.5 472.2h4.01v4.55h-4.01zM440.5 472.2h4.01v4.55h-4.01zM456.3 472.2h4.01v4.55h-4.01zM499.9 472.2h4.01v4.55h-4.01zM503.8 472.2h4.01v4.55h-4.01zM515.7 472.2h4.01v4.55h-4.01zM535.5 472.2h4.01v4.55h-4.01zM543.5 472.2h4.01v4.55h-4.01z" fill="#e56c5c" shape-rendering="crispEdges"/>
<path d="M583.1 265.2h4.01v4.55h-4.01zM389.0 269.7h4.01v4.55h-4.01zM408.8 269.7h4.01v4.55h-4.01zM539.5 269.7h4.01v4.55h-4.01zM547.4 269.7h4.01v4.55h-4.01zM563.3 269.7h4.01v4.55h-4.01zM567.2 269.7h4.01v4.55h-4.01zM396.9 274.2h4.01v4.55h-4.01zM400.8 274.2h4.01v4.55h-4.01zM567.2 274.2h4.01v4.55h-4.01zM396.9 278.7h4.01v4.55h-4.01zM555.3 278.7h4.01v4.55h-4.01zM571.2 278.7h4.01v4.55h-4.01zM575.2 278.7h4.01v4.55h-4.01zM587.0 278.7h4.01v4.55h-4.01zM563.3 287.7h4.01v4.55h-4.01zM583.1 287.7h4.01v4.55h-4.01zM396.9 296.7h4.01v4.55h-4.01zM400.8 296.7h4.01v4.55h-4.01zM404.8 296.7h4.01v4.55h-4.01zM412.7 296.7h4.01v4.55h-4.01zM587.0 296.7h4.01v4.55h-4.01zM396.9 377.7h4.01v4.55h-4.01zM385.0 386.7h4.01v4.55h-4.01zM404.8 386.7h4.01v4.55h-4.01zM385.0 391.2h4.01v4.55h-4.01zM389.0 391.2h4.01v4.55h-4.01zM404.8 391.2h4.01v4.55h-4.01zM385.0 395.7h4.01v4.55h-4.01zM396.9 395.7h4.01v4.55h-4.01zM404.8 395.7h4.01v4.55h-4.01zM385.0 404.7h4.01v4.55h-4.01zM412.7 404.7h4.01v4.55h-4.01zM400.8 409.2h4.01v4.55h-4.01zM404.8 409.2h4.01v4.55h-4.01zM385.0 413.7h4.01v4.55h-4.01zM404.8 413.7h4.01v4.55h-4.01zM392.9 418.2h4.01v4.55h-4.01zM412.7 418.2h4.01v4.55h-4.01zM400.8 427.2h4.01v4.55h-4.01zM408.8 427.2h4.01v4.55h-4.01zM412.7 427.2h4.01v4.55h-4.01zM400.8 431.7h4.01v4.55h-4.01zM385.0 436.2h4.01v4.55h-4.01zM392.9 436.2h4.01v4.55h-4.01zM404.8 436.2h4.01v4.55h-4.01zM408.8 436.2h4.01v4.55h-4.01zM420.7 440.7h4.01v4.55h-4.01zM563.3 440.7h4.01v4.55h-4.01zM420.7 445.2h4.01v4.55h-4.01zM456.3 445.2h4.01v4.55h-4.01zM472.2 445.2h4.01v4.55h-4.01zM484.0 445.2h4.01v4.55h-4.01zM503.8 445.2h4.01v4.55h-4.01zM416.7 449.7h4.01v4.55h-4.01zM432.5 449.7h4.01v4.55h-4.01zM448.4 449.7h4.01v4.55h-4.01zM583.1 449.7h4.01v4.55h-4.01zM476.1 454.2h4.01v4.55h-4.01zM523.7 454.2h4.01v4.55h-4.01zM583.1 454.2h4.01v4.55h-4.01zM499.9 458.7h4.01v4.55h-4.01zM404.8 463.2h4.01v4.55h-4.01zM448.4 463.2h4.01v4.55h-4.01zM432.5 467.7h4.01v4.55h-4.01zM440.5 467.7h4.01v4.55h-4.01zM448.4 467.7h4.01v4.55h-4.01zM575.2 467.7h4.01v4.55h-4.01z" fill="#fa9e3b" shape-rendering="crispEdges"/>
<path d="M448.4 269.7h4.01v4.55h-4.01zM452.3 283.2h4.01v4.55h-4.01zM543.5 301.2h4.01v4.55h-4.01zM392.9 305.7h4.01v4.55h-4.01zM389.0 355.2h4.01v4.55h-4.01zM503.8 355.2h4.01v4.55h-4.01zM408.8 359.7h4.01v4.55h-4.01zM420.7 359.7h4.01v4.55h-4.01zM484.0 359.7h4.01v4.55h-4.01zM499.9 359.7h4.01v4.55h-4.01zM579.1 368.7h4.01v4.55h-4.01zM404.8 373.2h4.01v4.55h-4.01zM472.2 373.2h4.01v4.55h-4.01zM480.1 373.2h4.01v4.55h-4.01zM519.7 373.2h4.01v4.55h-4.01zM476.1 377.7h4.01v4.55h-4.01zM480.1 377.7h4.01v4.55h-4.01zM484.0 377.7h4.01v4.55h-4.01zM495.9 386.7h4.01v4.55h-4.01zM515.7 386.7h4.01v4.55h-4.01zM488.0 395.7h4.01v4.55h-4.01zM448.4 436.2h4.01v4.55h-4.01zM452.3 436.2h4.01v4.55h-4.01zM460.3 436.2h4.01v4.55h-4.01zM488.0 436.2h4.01v4.55h-4.01zM519.7 436.2h4.01v4.55h-4.01zM531.6 436.2h4.01v4.55h-4.01zM448.4 440.7h4.01v4.55h-4.01zM464.2 440.7h4.01v4.55h-4.01z" fill="#8f0da4" shape-rendering="crispEdges"/>
<path d="M468.2 269.7h4.01v4.55h-4.01zM400.8 278.7h4.01v4.55h-4.01zM495.9 278.7h4.01v4.55h-4.01zM503.8 278.7h4.01v4.55h-4.01zM507.8 278.7h4.01v4.55h-4.01zM511.8 278.7h4.01v4.55h-4.01zM424.6 283.2h4.01v4.55h-4.01zM476.1 283.2h4.01v4.55h-4.01zM484.0 283.2h4.01v4.55h-4.01zM523.7 283.2h4.01v4.55h-4.01zM476.1 287.7h4.01v4.55h-4.01zM484.0 287.7h4.01v4.55h-4.01zM488.0 287.7h4.01v4.55h-4.01zM499.9 287.7h4.01v4.55h-4.01zM444.4 292.2h4.01v4.55h-4.01zM452.3 292.2h4.01v4.55h-4.01zM484.0 292.2h4.01v4.55h-4.01zM499.9 292.2h4.01v4.55h-4.01zM531.6 292.2h4.01v4.55h-4.01zM547.4 292.2h4.01v4.55h-4.01zM492.0 296.7h4.01v4.55h-4.01zM396.9 301.2h4.01v4.55h-4.01zM484.0 301.2h4.01v4.55h-4.01zM495.9 301.2h4.01v4.55h-4.01zM519.7 301.2h4.01v4.55h-4.01zM468.2 305.7h4.01v4.55h-4.01zM389.0 310.2h4.01v4.55h-4.01zM404.8 310.2h4.01v4.55h-4.01zM424.6 310.2h4.01v4.55h-4.01zM440.5 310.2h4.01v4.55h-4.01zM452.3 310.2h4.01v4.55h-4.01zM511.8 310.2h4.01v4.55h-4.01zM519.7 310.2h4.01v4.55h-4.01zM535.5 310.2h4.01v4.55h-4.01zM389.0 314.7h4.01v4.55h-4.01zM392.9 314.7h4.01v4.55h-4.01zM404.8 314.7h4.01v4.55h-4.01zM408.8 314.7h4.01v4.55h-4.01zM448.4 314.7h4.01v4.55h-4.01zM472.2 314.7h4.01v4.55h-4.01zM507.8 314.7h4.01v4.55h-4.01zM519.7 314.7h4.01v4.55h-4.01zM523.7 314.7h4.01v4.55h-4.01zM392.9 319.2h4.01v4.55h-4.01zM432.5 319.2h4.01v4.55h-4.01zM440.5 319.2h4.01v4.55h-4.01zM456.3 319.2h4.01v4.55h-4.01zM476.1 319.2h4.01v4.55h-4.01zM484.0 319.2h4.01v4.55h-4.01zM488.0 319.2h4.01v4.55h-4.01zM511.8 319.2h4.01v4.55h-4.01zM547.4 319.2h4.01v4.55h-4.01zM416.7 323.7h4.01v4.55h-4.01zM432.5 323.7h4.01v4.55h-4.01zM468.2 323.7h4.01v4.55h-4.01zM511.8 323.7h4.01v4.55h-4.01zM539.5 323.7h4.01v4.55h-4.01zM392.9 328.2h4.01v4.55h-4.01zM396.9 328.2h4.01v4.55h-4.01zM404.8 328.2h4.01v4.55h-4.01zM408.8 328.2h4.01v4.55h-4.01zM420.7 328.2h4.01v4.55h-4.01zM464.2 328.2h4.01v4.55h-4.01zM472.2 328.2h4.01v4.55h-4.01zM507.8 328.2h4.01v4.55h-4.01zM519.7 328.2h4.01v4.55h-4.01zM551.4 328.2h4.01v4.55h-4.01zM563.3 328.2h4.01v4.55h-4.01zM408.8 332.7h4.01v4.55h-4.01zM424.6 332.7h4.01v4.55h-4.01zM428.6 332.7h4.01v4.55h-4.01zM448.4 332.7h4.01v4.55h-4.01zM523.7 332.7h4.01v4.55h-4.01zM527.6 332.7h4.01v4.55h-4.01zM531.6 332.7h4.01v4.55h-4.01zM420.7 337.2h4.01v4.55h-4.01zM436.5 337.2h4.01v4.55h-4.01zM456.3 337.2h4.01v4.55h-4.01zM476.1 337.2h4.01v4.55h-4.01zM495.9 337.2h4.01v4.55h-4.01zM503.8 337.2h4.01v4.55h-4.01zM511.8 337.2h4.01v4.55h-4.01zM527.6 337.2h4.01v4.55h-4.01zM444.4 341.7h4.01v4.55h-4.01zM464.2 341.7h4.01v4.55h-4.01zM468.2 341.7h4.01v4.55h-4.01zM492.0 341.7h4.01v4.55h-4.01zM507.8 341.7h4.01v4.55h-4.01zM531.6 341.7h4.01v4.55h-4.01zM563.3 341.7h4.01v4.55h-4.01zM385.0 346.2h4.01v4.55h-4.01zM389.0 346.2h4.01v4.55h-4.01zM400.8 346.2h4.01v4.55h-4.01zM476.1 346.2h4.01v4.55h-4.01zM432.5 350.7h4.01v4.55h-4.01zM440.5 350.7h4.01v4.55h-4.01zM444.4 350.7h4.01v4.55h-4.01zM460.3 350.7h4.01v4.55h-4.01zM468.2 350.7h4.01v4.55h-4.01zM472.2 350.7h4.01v4.55h-4.01zM484.0 350.7h4.01v4.55h-4.01zM503.8 350.7h4.01v4.55h-4.01zM523.7 350.7h4.01v4.55h-4.01zM555.3 350.7h4.01v4.55h-4.01zM563.3 350.7h4.01v4.55h-4.01zM396.9 355.2h4.01v4.55h-4.01zM468.2 355.2h4.01v4.55h-4.01zM507.8 355.2h4.01v4.55h-4.01zM571.2 355.2h4.01v4.55h-4.01zM424.6 359.7h4.01v4.55h-4.01zM436.5 359.7h4.01v4.55h-4.01zM472.2 359.7h4.01v4.55h-4.01zM515.7 359.7h4.01v4.55h-4.01zM408.8 364.2h4.01v4.55h-4.01zM416.7 364.2h4.01v4.55h-4.01zM436.5 364.2h4.01v4.55h-4.01zM448.4 364.2h4.01v4.55h-4.01zM460.3 364.2h4.01v4.55h-4.01zM519.7 364.2h4.01v4.55h-4.01zM535.5 364.2h4.01v4.55h-4.01zM385.0 368.7h4.01v4.55h-4.01zM392.9 368.7h4.01v4.55h-4.01zM396.9 368.7h4.01v4.55h-4.01zM400.8 368.7h4.01v4.55h-4.01zM527.6 368.7h4.01v4.55h-4.01zM555.3 368.7h4.01v4.55h-4.01zM448.4 373.2h4.01v4.55h-4.01zM456.3 373.2h4.01v4.55h-4.01zM547.4 373.2h4.01v4.55h-4.01zM420.7 377.7h4.01v4.55h-4.01zM428.6 382.2h4.01v4.55h-4.01zM472.2 382.2h4.01v4.55h-4.01zM535.5 382.2h4.01v4.55h-4.01zM523.7 386.7h4.01v4.55h-4.01zM559.3 386.7h4.01v4.55h-4.01zM571.2 386.7h4.01v4.55h-4.01zM460.3 391.2h4.01v4.55h-4.01zM523.7 391.2h4.01v4.55h-4.01zM531.6 391.2h4.01v4.55h-4.01zM543.5 391.2h4.01v4.55h-4.01zM563.3 391.2h4.01v4.55h-4.01zM420.7 395.7h4.01v4.55h-4.01zM464.2 395.7h4.01v4.55h-4.01zM503.8 395.7h4.01v4.55h-4.01zM563.3 395.7h4.01v4.55h-4.01zM432.5 400.2h4.01v4.55h-4.01zM452.3 400.2h4.01v4.55h-4.01zM456.3 400.2h4.01v4.55h-4.01zM499.9 400.2h4.01v4.55h-4.01zM507.8 400.2h4.01v4.55h-4.01zM547.4 400.2h4.01v4.55h-4.01zM571.2 400.2h4.01v4.55h-4.01zM472.2 404.7h4.01v4.55h-4.01zM492.0 404.7h4.01v4.55h-4.01zM511.8 404.7h4.01v4.55h-4.01zM531.6 404.7h4.01v4.55h-4.01zM547.4 404.7h4.01v4.55h-4.01zM499.9 409.2h4.01v4.55h-4.01zM503.8 409.2h4.01v4.55h-4.01zM559.3 409.2h4.01v4.55h-4.01zM468.2 413.7h4.01v4.55h-4.01zM476.1 413.7h4.01v4.55h-4.01zM480.1 413.7h4.01v4.55h-4.01zM499.9 413.7h4.01v4.55h-4.01zM515.7 413.7h4.01v4.55h-4.01zM535.5 413.7h4.01v4.55h-4.01zM539.5 413.7h4.01v4.55h-4.01zM559.3 413.7h4.01v4.55h-4.01zM563.3 413.7h4.01v4.55h-4.01zM468.2 418.2h4.01v4.55h-4.01zM476.1 418.2h4.01v4.55h-4.01zM480.1 418.2h4.01v4.55h-4.01zM484.0 418.2h4.01v4.55h-4.01zM499.9 418.2h4.01v4.55h-4.01zM555.3 418.2h4.01v4.55h-4.01zM444.4 422.7h4.01v4.55h-4.01zM456.3 422.7h4.01v4.55h-4.01zM472.2 422.7h4.01v4.55h-4.01zM511.8 422.7h4.01v4.55h-4.01zM492.0 427.2h4.01v4.55h-4.01zM515.7 427.2h4.01v4.55h-4.01zM519.7 427.2h4.01v4.55h-4.01zM468.2 431.7h4.01v4.55h-4.01zM492.0 431.7h4.01v4.55h-4.01zM515.7 431.7h4.01v4.55h-4.01z" fill="#370599" shape-rendering="crispEdges"/>
<path d="M583.1 269.7h4.01v4.55h-4.01zM408.8 274.2h4.01v4.55h-4.01zM408.8 296.7h4.01v4.55h-4.01zM389.0 404.7h4.01v4.55h-4.01zM392.9 409.2h4.01v4.55h-4.01zM396.9 413.7h4.01v4.55h-4.01zM555.3 445.2h4.01v4.55h-4.01zM543.5 449.7h4.01v4.55h-4.01zM559.3 449.7h4.01v4.55h-4.01z" fill="#fcc429" shape-rendering="crispEdges"/>
<path d="M587.0 269.7h4.01v4.55h-4.01zM389.0 409.2h4.01v4.55h-4.01z" fill="#f9d924" shape-rendering="crispEdges"/>
<path d="M385.0 274.2h4.01v4.55h-4.01zM412.7 274.2h4.01v4.55h-4.01zM416.7 296.7h4.01v4.55h-4.01zM396.9 382.2h4.01v4.55h-4.01zM389.0 386.7h4.01v4.55h-4.01zM416.7 413.7h4.01v4.55h-4.01zM389.0 422.7h4.01v4.55h-4.01zM404.8 422.7h4.01v4.55h-4.01zM440.5 463.2h4.01v4.55h-4.01z" fill="#fcb032" shape-rendering="crispEdges"/>
<path d="M404.8 274.2h4.01v4.55h-4.01zM579.1 274.2h4.01v4.55h-4.01zM567.2 278.7h4.01v4.55h-4.01zM392.9 382.2h4.01v4.55h-4.01zM400.8 386.7h4.01v4.55h-4.01zM412.7 391.2h4.01v4.55h-4.01zM389.0 395.7h4.01v4.55h-4.01zM404.8 400.2h4.01v4.55h-4.01zM412.7 409.2h4.01v4.55h-4.01zM408.8 413.7h4.01v4.55h-4.01zM396.9 418.2h4.01v4.55h-4.01zM408.8 422.7h4.01v4.55h-4.01zM515.7 445.2h4.01v4.55h-4.01zM559.3 445.2h4.01v4.55h-4.01zM579.1 445.2h4.01v4.55h-4.01zM583.1 445.2h4.01v4.55h-4.01zM392.9 449.7h4.01v4.55h-4.01zM444.4 449.7h4.01v4.55h-4.01zM492.0 449.7h4.01v4.55h-4.01zM563.3 449.7h4.01v4.55h-4.01zM444.4 463.2h4.01v4.55h-4.01zM444.4 467.7h4.01v4.55h-4.01z" fill="#fca636" shape-rendering="crispEdges"/>
<path d="M519.7 274.2h4.01v4.55h-4.01zM416.7 278.7h4.01v4.55h-4.01zM436.5 278.7h4.01v4.55h-4.01zM420.7 287.7h4.01v4.55h-4.01zM460.3 292.2h4.01v4.55h-4.01zM563.3 319.2h4.01v4.55h-4.01zM579.1 332.7h4.01v4.55h-4.01zM587.0 337.2h4.01v4.55h-4.01zM583.1 341.7h4.01v4.55h-4.01zM416.7 350.7h4.01v4.55h-4.01zM424.6 350.7h4.01v4.55h-4.01zM420.7 355.2h4.01v4.55h-4.01zM484.0 364.2h4.01v4.55h-4.01zM488.0 364.2h4.01v4.55h-4.01zM495.9 364.2h4.01v4.55h-4.01zM575.2 373.2h4.01v4.55h-4.01zM579.1 373.2h4.01v4.55h-4.01zM499.9 382.2h4.01v4.55h-4.01zM583.1 382.2h4.01v4.55h-4.01zM488.0 386.7h4.01v4.55h-4.01zM495.9 391.2h4.01v4.55h-4.01zM583.1 391.2h4.01v4.55h-4.01zM587.0 395.7h4.01v4.55h-4.01zM587.0 400.2h4.01v4.55h-4.01zM428.6 427.2h4.01v4.55h-4.01zM432.5 431.7h4.01v4.55h-4.01zM492.0 440.7h4.01v4.55h-4.01zM495.9 440.7h4.01v4.55h-4.01z" fill="#b12a90" shape-rendering="crispEdges"/>
<path d="M523.7 274.2h4.01v4.55h-4.01zM527.6 274.2h4.01v4.55h-4.01zM515.7 278.7h4.01v4.55h-4.01zM448.4 283.2h4.01v4.55h-4.01zM456.3 283.2h4.01v4.55h-4.01zM460.3 283.2h4.01v4.55h-4.01zM412.7 292.2h4.01v4.55h-4.01zM385.0 314.7h4.01v4.55h-4.01zM575.2 319.2h4.01v4.55h-4.01zM579.1 319.2h4.01v4.55h-4.01zM499.9 355.2h4.01v4.55h-4.01zM579.1 355.2h4.01v4.55h-4.01zM412.7 359.7h4.01v4.55h-4.01zM507.8 359.7h4.01v4.55h-4.01zM480.1 364.2h4.01v4.55h-4.01zM511.8 364.2h4.01v4.55h-4.01zM579.1 364.2h4.01v4.55h-4.01zM583.1 368.7h4.01v4.55h-4.01zM476.1 373.2h4.01v4.55h-4.01zM420.7 386.7h4.01v4.55h-4.01zM484.0 386.7h4.01v4.55h-4.01zM492.0 391.2h4.01v4.55h-4.01zM495.9 395.7h4.01v4.55h-4.01zM472.2 436.2h4.01v4.55h-4.01zM499.9 436.2h4.01v4.55h-4.01zM503.8 436.2h4.01v4.55h-4.01zM507.8 436.2h4.01v4.55h-4.01z" fill="#860aa5" shape-rendering="crispEdges"/>
<path d="M519.7 278.7h4.01v4.55h-4.01zM523.7 278.7h4.01v4.55h-4.01zM527.6 278.7h4.01v4.55h-4.01zM531.6 278.7h4.01v4.55h-4.01zM539.5 296.7h4.01v4.55h-4.01zM412.7 319.2h4.01v4.55h-4.01zM571.2 328.2h4.01v4.55h-4.01zM583.1 328.2h4.01v4.55h-4.01zM587.0 359.7h4.01v4.55h-4.01zM472.2 364.2h4.01v4.55h-4.01zM523.7 377.7h4.01v4.55h-4.01zM527.6 377.7h4.01v4.55h-4.01zM511.8 386.7h4.01v4.55h-4.01zM488.0 391.2h4.01v4.55h-4.01zM492.0 395.7h4.01v4.55h-4.01zM492.0 400.2h4.01v4.55h-4.01zM444.4 436.2h4.01v4.55h-4.01zM523.7 436.2h4.01v4.55h-4.01z" fill="#7c06a6" shape-rendering="crispEdges"/>
<path d="M543.5 296.7h4.01v4.55h-4.01zM515.7 364.2h4.01v4.55h-4.01zM476.1 368.7h4.01v4.55h-4.01zM499.9 391.2h4.01v4.55h-4.01zM440.5 404.7h4.01v4.55h-4.01zM436.5 413.7h4.01v4.55h-4.01zM527.6 436.2h4.01v4.55h-4.01z" fill="#7303a7" shape-rendering="crispEdges"/>
<path d="M484.0 355.2h4.01v4.55h-4.01zM476.1 359.7h4.01v4.55h-4.01z" fill="#5602a2" shape-rendering="crispEdges"/>
<path d="M480.1 359.7h4.01v4.55h-4.01zM476.1 382.2h4.01v4.55h-4.01z" fill="#6a00a8" shape-rendering="crispEdges"/>
<path d="M472.2 368.7h4.01v4.55h-4.01zM523.7 368.7h4.01v4.55h-4.01zM523.7 373.2h4.01v4.55h-4.01z" fill="#6001a5" shape-rendering="crispEdges"/>
<path d="M385.0 382.2h4.01v4.55h-4.01zM392.9 386.7h4.01v4.55h-4.01zM396.9 386.7h4.01v4.55h-4.01zM392.9 395.7h4.01v4.55h-4.01zM400.8 395.7h4.01v4.55h-4.01zM400.8 413.7h4.01v4.55h-4.01zM396.9 422.7h4.01v4.55h-4.01zM543.5 445.2h4.01v4.55h-4.01zM551.4 449.7h4.01v4.55h-4.01z" fill="#fcba2e" shape-rendering="crispEdges"/>
<path d="M392.9 404.7h4.01v4.55h-4.01zM385.0 409.2h4.01v4.55h-4.01zM551.4 445.2h4.01v4.55h-4.01zM547.4 449.7h4.01v4.55h-4.01zM555.3 449.7h4.01v4.55h-4.01zM452.3 463.2h4.01v4.55h-4.01zM452.3 467.7h4.01v4.55h-4.01z" fill="#fcce25" shape-rendering="crispEdges"/>
<path d="M440.5 413.7h4.01v4.55h-4.01z" fill="#41049d" shape-rendering="crispEdges"/>
<path d="M547.4 445.2h4.01v4.55h-4.01z" fill="#f6e323" shape-rendering="crispEdges"/>
<path d="M492.7 278.1 L503.1 278.1 L503.1 282.5 L503.5 284.4 L502.7 286.2 L502.7 290.7 L507.7 291.1 L507.7 294.1 L523.2 294.1 L523.2 290.7 L531.5 290.7 L531.5 294.7 L533.2 294.7 L533.2 299.2 L534.8 299.2 L534.8 307.2 L539.8 307.2 L539.8 311.8 L555.6 311.8 L555.6 315.3 L561.4 315.3 L561.4 319.9 L565.6 319.9 L565.6 324.3 L570.6 324.3 L570.6 328.8 L574.8 328.8 L574.8 333.4 L576.4 333.4 L576.4 337.8 L580.6 337.8 L580.6 341.4 L583.9 341.4 L583.9 345.9 L580.6 345.9 L580.6 351.4 L578.9 351.4 L578.1 354.4 L576.6 359.7 L575.5 361.3 L574.4 364.0 L574.0 373.1 L584.2 373.1 L584.6 380.1 L583.5 381.0 L583.1 384.9 L582.1 385.7 L581.7 390.6 L583.9 394.0 L583.9 403.1 L581.4 403.9 L580.6 406.5 L578.1 407.4 L577.3 410.2 L570.6 411.1 L569.8 419.2 L565.6 423.6 L564.8 428.2 L541.8 428.3 L541.2 424.2 L532.4 424.2 L531.8 428.3 L524.9 428.9 L524.3 432.9 L519.9 432.9 L517.4 437.0 L516.8 441.2 L498.9 441.2 L498.7 437.7 L493.0 437.0 L493.0 432.9 L486.8 432.9 L486.8 437.0 L449.9 437.0 L449.9 432.9 L446.2 432.3 L446.2 420.2 L443.6 415.0 L443.2 410.6 L441.0 410.2 L441.0 393.5 L429.1 393.5 L428.5 388.9 L427.3 387.5 L427.3 376.8 L428.5 375.4 L429.1 367.3 L429.1 361.8 L427.3 355.1 L427.3 347.0 L426.0 345.7 L426.0 342.4 L429.8 341.6 L429.8 338.3 L432.2 337.6 L432.4 329.8 L437.0 329.8 L437.9 325.4 L445.4 325.4 L445.4 316.4 L448.5 316.4 L449.0 312.4 L450.0 303.4 L457.8 303.4 L458.4 307.4 L464.6 307.4 L465.6 295.0 L466.1 291.1 L476.9 291.1 L476.9 286.6 L488.2 286.6 L488.6 289.4 L490.7 290.2 L491.1 282.1 L492.7 281.7 Z M476.9 360.0 L482.0 359.2 L482.7 355.2 L486.3 355.2 L487.0 359.2 L494.3 359.2 L495.1 355.2 L507.4 355.2 L508.2 358.4 L510.3 359.2 L511.1 362.4 L516.9 363.1 L517.6 366.3 L525.6 367.0 L527.1 369.4 L527.8 376.6 L531.4 377.3 L531.4 381.2 L528.5 382.1 L527.8 385.2 L523.4 386.0 L522.0 389.9 L508.9 390.7 L508.2 392.3 L506.7 393.1 L500.1 393.9 L498.7 397.8 L496.5 400.1 L494.3 402.5 L492.1 406.4 L490.7 403.3 L489.2 400.1 L487.0 395.4 L484.1 392.3 L482.0 388.4 L479.0 386.0 L476.9 382.8 L473.9 379.7 L473.2 367.9 L475.4 363.9 Z" fill="#1e0d92" fill-rule="evenodd"/>
<path d="M491.0 289.8 L494.2 289.8 L494.2 295.2 L491.0 295.2 Z" fill="#1e0d92"/>
<path d="M480.6 312.5 L482.8 312.5 L482.8 315.4 L480.6 315.4 Z" fill="#1e0d92"/>
<g clip-path="url(#clipEp)"><circle cx="572.2" cy="399.5" r="28.2" fill="#f0a8a8" fill-opacity="0.75" stroke="#f0a48e" stroke-width="1"/></g>
<path d="M438.6 358.6 L438.6 328.4 L440.9 328.4 L440.9 323.7 L446.4 323.7 L446.4 319.5 L452.0 319.5 L452.0 315.6 L456.9 315.6 L456.9 312.2 L461.2 312.2 L461.2 308.2 L465.4 308.2 L465.4 311.1 L474.7 311.1 L474.7 320.5 L482.9 320.5 L482.9 313.8 L485.4 311.1 L485.4 306.8 L480.9 306.8 L480.7 303.5 L470.7 303.2 L470.7 298.9 L476.7 298.9 L476.7 294.3 L487.4 294.3 L487.4 298.1 L499.0 298.8 L499.4 301.9 L500.6 301.9 L501.1 298.8 L508.5 298.3 L509.4 296.1 L510.6 294.8 L521.5 294.7 L522.4 298.2 L524.9 299.2 L525.7 302.8 L527.4 304.6 L527.4 314.5 L536.5 315.3 L537.3 319.9 L550.6 320.4 L551.5 324.3 L557.3 324.3 L558.1 328.8 L565.6 329.4 L566.4 333.4 L568.9 337.0 L569.8 342.4 L570.6 349.5 L568.9 354.9 L567.3 356.0 L563.1 360.7 L560.9 364.1 L560.9 375.5 L568.7 375.5 L568.7 382.5 L570.7 382.5 L570.7 389.0 L571.9 389.0 L571.9 399.8 L570.7 403.7 L568.5 406.3 L564.9 408.5 L563.4 411.2 L561.9 414.4 L559.0 417.1 L554.7 419.3 L553.9 422.3 L548.1 422.3 L547.3 418.3 L542.4 419.4 L538.0 418.8 L537.4 414.8 L533.0 414.0 L532.4 410.6 L522.4 410.6 L520.8 410.6 L520.0 406.6 L520.8 403.3 L522.4 400.7 L523.9 399.1 L524.7 394.0 L527.0 393.1 L527.8 390.6 L530.1 389.8 L530.9 386.4 L532.5 382.2 L535.6 380.5 L537.9 377.1 L537.9 372.0 L534.0 371.2 L534.0 365.3 L535.6 362.7 L534.8 358.5 L529.4 358.5 L528.6 362.0 L522.4 362.0 L520.8 357.6 L514.6 356.9 L513.8 353.5 L511.4 350.1 L510.7 342.5 L509.1 341.6 L509.1 345.8 L496.4 346.0 L494.9 349.2 L485.5 348.4 L484.8 346.0 L483.3 346.8 L482.6 350.7 L476.8 352.3 L476.0 357.1 L472.4 357.8 L471.7 361.7 L470.6 362.5 L463.2 362.5 L463.2 358.2 Z M443.5 363.3 L451.6 363.3 L451.6 367.3 L463.2 367.9 L464.8 372.3 L467.3 377.8 L470.6 381.4 L472.3 385.9 L475.6 390.4 L479.8 394.0 L483.1 398.5 L484.9 401.2 L486.2 405.2 L487.4 413.4 L486.2 418.8 L485.5 424.0 L466.2 424.0 L465.7 420.2 L463.6 420.2 L461.2 423.5 L460.5 419.4 L454.9 418.8 L452.4 413.4 L450.5 407.9 L447.4 401.2 L446.0 395.6 L444.7 391.6 L443.5 388.9 L440.4 387.5 L439.7 378.1 L441.0 372.0 L443.5 371.4 Z M499.9 402.5 L517.7 403.3 L518.5 406.6 L520.0 406.6 L521.2 410.6 L519.3 414.8 L517.4 420.2 L516.2 424.2 L511.8 424.8 L510.5 428.3 L499.3 427.5 L498.0 421.5 L496.2 417.5 L494.3 413.4 L494.9 410.6 L497.4 405.9 Z" fill="#b6dfe8"/>
<path d="M492.7 278.1 L503.1 278.1 L503.1 282.5 L503.5 284.4 L502.7 286.2 L502.7 290.7 L507.7 291.1 L507.7 294.1 L523.2 294.1 L523.2 290.7 L531.5 290.7 L531.5 294.7 L533.2 294.7 L533.2 299.2 L534.8 299.2 L534.8 307.2 L539.8 307.2 L539.8 311.8 L555.6 311.8 L555.6 315.3 L561.4 315.3 L561.4 319.9 L565.6 319.9 L565.6 324.3 L570.6 324.3 L570.6 328.8 L574.8 328.8 L574.8 333.4 L576.4 333.4 L576.4 337.8 L580.6 337.8 L580.6 341.4 L583.9 341.4 L583.9 345.9 L580.6 345.9 L580.6 351.4 L578.9 351.4 L578.1 354.4 L576.6 359.7 L575.5 361.3 L574.4 364.0 L574.0 373.1 L584.2 373.1 L584.6 380.1 L583.5 381.0 L583.1 384.9 L582.1 385.7 L581.7 390.6 L583.9 394.0 L583.9 403.1 L581.4 403.9 L580.6 406.5 L578.1 407.4 L577.3 410.2 L570.6 411.1 L569.8 419.2 L565.6 423.6 L564.8 428.2 L541.8 428.3 L541.2 424.2 L532.4 424.2 L531.8 428.3 L524.9 428.9 L524.3 432.9 L519.9 432.9 L517.4 437.0 L516.8 441.2 L498.9 441.2 L498.7 437.7 L493.0 437.0 L493.0 432.9 L486.8 432.9 L486.8 437.0 L449.9 437.0 L449.9 432.9 L446.2 432.3 L446.2 420.2 L443.6 415.0 L443.2 410.6 L441.0 410.2 L441.0 393.5 L429.1 393.5 L428.5 388.9 L427.3 387.5 L427.3 376.8 L428.5 375.4 L429.1 367.3 L429.1 361.8 L427.3 355.1 L427.3 347.0 L426.0 345.7 L426.0 342.4 L429.8 341.6 L429.8 338.3 L432.2 337.6 L432.4 329.8 L437.0 329.8 L437.9 325.4 L445.4 325.4 L445.4 316.4 L448.5 316.4 L449.0 312.4 L450.0 303.4 L457.8 303.4 L458.4 307.4 L464.6 307.4 L465.6 295.0 L466.1 291.1 L476.9 291.1 L476.9 286.6 L488.2 286.6 L488.6 289.4 L490.7 290.2 L491.1 282.1 L492.7 281.7 Z M476.9 360.0 L482.0 359.2 L482.7 355.2 L486.3 355.2 L487.0 359.2 L494.3 359.2 L495.1 355.2 L507.4 355.2 L508.2 358.4 L510.3 359.2 L511.1 362.4 L516.9 363.1 L517.6 366.3 L525.6 367.0 L527.1 369.4 L527.8 376.6 L531.4 377.3 L531.4 381.2 L528.5 382.1 L527.8 385.2 L523.4 386.0 L522.0 389.9 L508.9 390.7 L508.2 392.3 L506.7 393.1 L500.1 393.9 L498.7 397.8 L496.5 400.1 L494.3 402.5 L492.1 406.4 L490.7 403.3 L489.2 400.1 L487.0 395.4 L484.1 392.3 L482.0 388.4 L479.0 386.0 L476.9 382.8 L473.9 379.7 L473.2 367.9 L475.4 363.9 Z" fill="none" stroke="#48b49a" stroke-width="1.50"/>
<path d="M491.0 289.8 L494.2 289.8 L494.2 295.2 L491.0 295.2 Z" fill="none" stroke="#48b49a" stroke-width="1.50"/>
<path d="M480.6 312.5 L482.8 312.5 L482.8 315.4 L480.6 315.4 Z" fill="none" stroke="#48b49a" stroke-width="1.50"/>
<path d="M586.6 372.8 L589.9 372.8 L589.9 377.0 L586.6 377.0 Z" fill="none" stroke="#48b49a" stroke-width="1.50"/>
<circle cx="572.2" cy="399.5" r="1.6" fill="#7a1010" stroke="#222" stroke-width="0.6"/>
<rect x="454.2" y="447.1" width="77.7" height="31" fill="#fff" stroke="#ccc" stroke-width="0.6"/>
<rect x="456.7" y="450.0" width="70.2" height="3.3" fill="url(#plasma)"/>
<path d="M526.9 450.0 L529.8 451.6 L526.9 453.3 Z" fill="#f0f921"/>
<path d="M456.7 450.0 H526.9 L529.8 451.6 L526.9 453.3 H456.7 Z" fill="none" stroke="#222" stroke-width="0.6"/>
<line x1="457.2" y1="453.3" x2="457.2" y2="455.3" stroke="#333" stroke-width="0.6"/>
<text x="457.2" y="462.9" font-size="7.6" font-weight="normal" fill="#2a2a2a" text-anchor="middle" stroke="#2a2a2a" stroke-width="0.2">0</text>
<line x1="491.7" y1="453.3" x2="491.7" y2="455.3" stroke="#333" stroke-width="0.6"/>
<text x="491.7" y="462.9" font-size="7.6" font-weight="normal" fill="#2a2a2a" text-anchor="middle" stroke="#2a2a2a" stroke-width="0.2">20</text>
<line x1="526.3" y1="453.3" x2="526.3" y2="455.3" stroke="#333" stroke-width="0.6"/>
<text x="526.3" y="462.9" font-size="7.6" font-weight="normal" fill="#2a2a2a" text-anchor="middle" stroke="#2a2a2a" stroke-width="0.2">40</text>
<text x="458.8" y="475.4" font-size="10.0" font-weight="normal" fill="#2a2a2a" text-anchor="start" textLength="69.3" lengthAdjust="spacingAndGlyphs" stroke="#2a2a2a" stroke-width="0.2">PR thickness [μm]</text>
<circle cx="766.2" cy="398.6" r="28.0" fill="#f4a088" fill-opacity="0.28" stroke="#f0a08a" stroke-width="1.1"/>
<path d="M632.5 358.7 L632.5 328.5 L634.8 328.5 L634.8 323.8 L640.3 323.8 L640.3 319.6 L645.9 319.6 L645.9 315.7 L650.8 315.7 L650.8 312.3 L655.1 312.3 L655.1 308.3 L659.3 308.3 L659.3 311.2 L668.6 311.2 L668.6 320.6 L676.8 320.6 L676.8 313.9 L679.3 311.2 L679.3 306.9 L674.8 306.9 L674.6 303.6 L664.6 303.3 L664.6 299.0 L670.6 299.0 L670.6 294.4 L681.3 294.4 L681.3 298.2 L692.9 298.9 L693.3 302.0 L694.5 302.0 L695.0 298.9 L702.4 298.4 L703.3 296.2 L704.5 294.9 L715.4 294.8 L716.3 298.3 L718.8 299.3 L719.6 302.9 L721.3 304.7 L721.3 314.6 L730.4 315.4 L731.2 320.0 L744.5 320.5 L745.4 324.4 L751.2 324.4 L752.0 328.9 L759.5 329.5 L760.3 333.5 L762.8 337.1 L763.7 342.5 L764.5 349.6 L762.8 355.0 L761.2 356.1 L757.0 360.8 L754.8 364.2 L754.8 375.6 L762.6 375.6 L762.6 382.6 L764.6 382.6 L764.6 389.1 L765.8 389.1 L765.8 399.9 L764.6 403.8 L762.4 406.4 L758.8 408.6 L757.3 411.3 L755.8 414.5 L752.9 417.2 L748.6 419.4 L747.8 422.4 L742.0 422.4 L741.2 418.4 L736.3 419.5 L731.9 418.9 L731.3 414.9 L726.9 414.1 L726.3 410.7 L716.3 410.7 L714.7 410.7 L713.9 406.7 L714.7 403.4 L716.3 400.8 L717.8 399.2 L718.6 394.1 L720.9 393.2 L721.7 390.7 L724.0 389.9 L724.8 386.5 L726.4 382.3 L729.5 380.6 L731.8 377.2 L731.8 372.1 L727.9 371.3 L727.9 365.4 L729.5 362.8 L728.7 358.6 L723.3 358.6 L722.5 362.1 L716.3 362.1 L714.7 357.7 L708.5 357.0 L707.7 353.6 L705.3 350.2 L704.6 342.6 L703.0 341.7 L703.0 345.9 L690.3 346.1 L688.8 349.3 L679.4 348.5 L678.7 346.1 L677.2 346.9 L676.5 350.8 L670.7 352.4 L669.9 357.2 L666.3 357.9 L665.6 361.8 L664.5 362.6 L657.1 362.6 L657.1 358.3 Z M637.4 363.4 L645.5 363.4 L645.5 367.4 L657.1 368.0 L658.7 372.4 L661.2 377.9 L664.5 381.5 L666.2 386.0 L669.5 390.5 L673.7 394.1 L677.0 398.6 L678.8 401.3 L680.1 405.3 L681.3 413.4 L680.1 418.9 L679.4 424.1 L660.1 424.1 L659.6 420.3 L657.5 420.3 L655.1 423.6 L654.4 419.5 L648.8 418.9 L646.3 413.4 L644.4 408.0 L641.3 401.3 L639.9 395.7 L638.6 391.7 L637.4 389.0 L634.3 387.6 L633.6 378.2 L634.9 372.1 L637.4 371.5 Z M693.8 402.6 L711.6 403.4 L712.4 406.7 L713.9 406.7 L715.1 410.7 L713.2 414.9 L711.3 420.3 L710.1 424.3 L705.7 424.9 L704.4 428.4 L693.2 427.6 L691.9 421.6 L690.1 417.6 L688.2 413.4 L688.8 410.7 L691.3 406.0 Z" fill="#b6e2f3"/>
<path d="M632.5 358.7 L632.5 328.5 L634.8 328.5 L634.8 323.8 L640.3 323.8 L640.3 319.6 L645.9 319.6 L645.9 315.7 L650.8 315.7 L650.8 312.3 L655.1 312.3 L655.1 308.3 L659.3 308.3 L659.3 311.2 L668.6 311.2 L668.6 320.6 L676.8 320.6 L676.8 313.9 L679.3 311.2 L679.3 306.9 L674.8 306.9 L674.6 303.6 L664.6 303.3 L664.6 299.0 L670.6 299.0 L670.6 294.4 L681.3 294.4 L681.3 298.2 L692.9 298.9 L693.3 302.0 L694.5 302.0 L695.0 298.9 L702.4 298.4 L703.3 296.2 L704.5 294.9 L715.4 294.8 L716.3 298.3 L718.8 299.3 L719.6 302.9 L721.3 304.7 L721.3 314.6 L730.4 315.4 L731.2 320.0 L744.5 320.5 L745.4 324.4 L751.2 324.4 L752.0 328.9 L759.5 329.5 L760.3 333.5 L762.8 337.1 L763.7 342.5 L764.5 349.6 L762.8 355.0 L761.2 356.1 L757.0 360.8 L754.8 364.2 L754.8 375.6 L762.6 375.6 L762.6 382.6 L764.6 382.6 L764.6 389.1 L765.8 389.1 L765.8 399.9 L764.6 403.8 L762.4 406.4 L758.8 408.6 L757.3 411.3 L755.8 414.5 L752.9 417.2 L748.6 419.4 L747.8 422.4 L742.0 422.4 L741.2 418.4 L736.3 419.5 L731.9 418.9 L731.3 414.9 L726.9 414.1 L726.3 410.7 L716.3 410.7 L714.7 410.7 L713.9 406.7 L714.7 403.4 L716.3 400.8 L717.8 399.2 L718.6 394.1 L720.9 393.2 L721.7 390.7 L724.0 389.9 L724.8 386.5 L726.4 382.3 L729.5 380.6 L731.8 377.2 L731.8 372.1 L727.9 371.3 L727.9 365.4 L729.5 362.8 L728.7 358.6 L723.3 358.6 L722.5 362.1 L716.3 362.1 L714.7 357.7 L708.5 357.0 L707.7 353.6 L705.3 350.2 L704.6 342.6 L703.0 341.7 L703.0 345.9 L690.3 346.1 L688.8 349.3 L679.4 348.5 L678.7 346.1 L677.2 346.9 L676.5 350.8 L670.7 352.4 L669.9 357.2 L666.3 357.9 L665.6 361.8 L664.5 362.6 L657.1 362.6 L657.1 358.3 Z M637.4 363.4 L645.5 363.4 L645.5 367.4 L657.1 368.0 L658.7 372.4 L661.2 377.9 L664.5 381.5 L666.2 386.0 L669.5 390.5 L673.7 394.1 L677.0 398.6 L678.8 401.3 L680.1 405.3 L681.3 413.4 L680.1 418.9 L679.4 424.1 L660.1 424.1 L659.6 420.3 L657.5 420.3 L655.1 423.6 L654.4 419.5 L648.8 418.9 L646.3 413.4 L644.4 408.0 L641.3 401.3 L639.9 395.7 L638.6 391.7 L637.4 389.0 L634.3 387.6 L633.6 378.2 L634.9 372.1 L637.4 371.5 Z M693.8 402.6 L711.6 403.4 L712.4 406.7 L713.9 406.7 L715.1 410.7 L713.2 414.9 L711.3 420.3 L710.1 424.3 L705.7 424.9 L704.4 428.4 L693.2 427.6 L691.9 421.6 L690.1 417.6 L688.2 413.4 L688.8 410.7 L691.3 406.0 Z" fill="none" stroke="#6db7e5" stroke-width="1.30"/>
<path d="M686.6 278.2 L697.0 278.2 L697.0 282.6 L697.4 284.5 L696.6 286.3 L696.6 290.8 L701.6 291.2 L701.6 294.2 L717.1 294.2 L717.1 290.8 L725.4 290.8 L725.4 294.8 L727.1 294.8 L727.1 299.3 L728.7 299.3 L728.7 307.3 L733.7 307.3 L733.7 311.9 L749.5 311.9 L749.5 315.4 L755.3 315.4 L755.3 320.0 L759.5 320.0 L759.5 324.4 L764.5 324.4 L764.5 328.9 L768.7 328.9 L768.7 333.5 L770.3 333.5 L770.3 337.9 L774.5 337.9 L774.5 341.5 L777.8 341.5 L777.8 346.0 L774.5 346.0 L774.5 351.5 L772.8 351.5 L772.0 354.5 L770.5 359.8 L769.4 361.4 L768.3 364.1 L767.9 373.2 L778.1 373.2 L778.5 380.2 L777.4 381.1 L777.0 385.0 L776.0 385.8 L775.6 390.7 L777.8 394.1 L777.8 403.2 L775.3 404.0 L774.5 406.6 L772.0 407.5 L771.2 410.3 L764.5 411.2 L763.7 419.3 L759.5 423.7 L758.7 428.3 L735.7 428.4 L735.1 424.3 L726.3 424.3 L725.7 428.4 L718.8 429.0 L718.2 433.0 L713.8 433.0 L711.3 437.1 L710.7 441.3 L692.8 441.3 L692.6 437.8 L686.9 437.1 L686.9 433.0 L680.7 433.0 L680.7 437.1 L643.8 437.1 L643.8 433.0 L640.1 432.4 L640.1 420.3 L637.5 415.1 L637.1 410.7 L634.9 410.3 L634.9 393.6 L623.0 393.6 L622.4 389.0 L621.2 387.6 L621.2 376.9 L622.4 375.5 L623.0 367.4 L623.0 361.9 L621.2 355.2 L621.2 347.1 L619.9 345.8 L619.9 342.5 L623.7 341.7 L623.7 338.4 L626.1 337.7 L626.3 329.9 L630.9 329.9 L631.8 325.5 L639.3 325.5 L639.3 316.5 L642.4 316.5 L642.9 312.5 L643.9 303.5 L651.7 303.5 L652.3 307.5 L658.5 307.5 L659.5 295.1 L660.0 291.2 L670.8 291.2 L670.8 286.7 L682.1 286.7 L682.5 289.5 L684.6 290.3 L685.0 282.2 L686.6 281.8 Z M670.8 360.1 L675.9 359.4 L676.6 355.3 L680.2 355.3 L680.9 359.4 L688.2 359.4 L689.0 355.3 L701.3 355.3 L702.1 358.5 L704.2 359.4 L705.0 362.5 L710.8 363.2 L711.5 366.4 L719.5 367.1 L721.0 369.5 L721.7 376.7 L725.3 377.4 L725.3 381.3 L722.4 382.2 L721.7 385.3 L717.3 386.1 L715.9 390.0 L702.8 390.8 L702.1 392.4 L700.6 393.2 L694.0 394.0 L692.6 397.9 L690.4 400.2 L688.2 402.6 L686.0 406.5 L684.6 403.4 L683.1 400.2 L680.9 395.5 L678.0 392.4 L675.9 388.5 L672.9 386.1 L670.8 382.9 L667.8 379.8 L667.1 368.0 L669.3 364.0 Z" fill="none" stroke="#47a08b" stroke-width="1.30"/>
<path d="M684.9 289.9 L688.1 289.9 L688.1 295.3 L684.9 295.3 Z" fill="none" stroke="#47a08b" stroke-width="1.30"/>
<path d="M674.5 312.6 L676.7 312.6 L676.7 315.5 L674.5 315.5 Z" fill="none" stroke="#47a08b" stroke-width="1.30"/>
<path d="M780.5 372.9 L783.8 372.9 L783.8 377.1 L780.5 377.1 Z" fill="none" stroke="#47a08b" stroke-width="1.30"/>
<circle cx="766.2" cy="398.6" r="1.6" fill="#7a1010" stroke="#222" stroke-width="0.6"/>
<ellipse cx="615.1" cy="266.6" rx="1.2" ry="1.7" fill="#b3303a"/>
<ellipse cx="623.2" cy="283.7" rx="3.1" ry="1.3" fill="#b3303a"/>
<ellipse cx="646.0" cy="288.3" rx="1.3" ry="1.8" fill="#b3303a"/>
<ellipse cx="701.0" cy="266.6" rx="1.2" ry="1.8" fill="#b3303a"/>
<ellipse cx="694.1" cy="300.9" rx="1.0" ry="1.4" fill="#b3303a"/>
<ellipse cx="666.2" cy="310.0" rx="1.4" ry="1.6" fill="#b3303a"/>
<ellipse cx="669.4" cy="314.2" rx="1.4" ry="1.6" fill="#b3303a"/>
<ellipse cx="616.7" cy="353.1" rx="1.2" ry="1.6" fill="#b3303a"/>
<ellipse cx="630.5" cy="353.1" rx="1.8" ry="2.3" fill="#b3303a"/>
<ellipse cx="617.4" cy="369.6" rx="1.2" ry="1.5" fill="#b3303a"/>
<ellipse cx="762.9" cy="270.7" rx="1.3" ry="2.1" fill="#b3303a"/>
<ellipse cx="741.2" cy="288.3" rx="1.4" ry="2.5" fill="#b3303a"/>
<ellipse cx="741.9" cy="291.7" rx="1.3" ry="1.8" fill="#b3303a"/>
<ellipse cx="752.6" cy="287.9" rx="1.3" ry="1.7" fill="#b3303a"/>
<ellipse cx="769.3" cy="287.9" rx="1.2" ry="1.7" fill="#b3303a"/>
<ellipse cx="777.8" cy="295.9" rx="1.6" ry="0.9" fill="#b3303a"/>
<ellipse cx="742.3" cy="308.9" rx="1.7" ry="2.8" fill="#b3303a"/>
<ellipse cx="783.1" cy="318.1" rx="1.2" ry="1.8" fill="#b3303a"/>
<ellipse cx="754.2" cy="326.8" rx="1.3" ry="1.5" fill="#b3303a"/>
<ellipse cx="761.8" cy="335.7" rx="0.8" ry="0.8" fill="#b3303a"/>
<ellipse cx="617.4" cy="371.1" rx="1.2" ry="1.4" fill="#b3303a"/>
<ellipse cx="619.0" cy="391.7" rx="1.2" ry="1.6" fill="#b3303a"/>
<ellipse cx="638.0" cy="395.6" rx="1.4" ry="1.8" fill="#b3303a"/>
<ellipse cx="631.8" cy="408.9" rx="1.4" ry="1.8" fill="#b3303a"/>
<ellipse cx="657.5" cy="430.6" rx="1.2" ry="1.5" fill="#b3303a"/>
<ellipse cx="689.1" cy="422.2" rx="1.0" ry="0.9" fill="#b3303a"/>
<ellipse cx="709.0" cy="430.0" rx="1.4" ry="1.7" fill="#b3303a"/>
<ellipse cx="699.1" cy="435.9" rx="1.9" ry="1.0" fill="#b3303a"/>
<ellipse cx="661.6" cy="443.2" rx="1.2" ry="2.1" fill="#b3303a"/>
<ellipse cx="682.6" cy="456.3" rx="1.3" ry="1.7" fill="#b3303a"/>
<ellipse cx="619.0" cy="470.0" rx="1.6" ry="4.0" fill="#b3303a"/>
<ellipse cx="700.5" cy="473.0" rx="1.3" ry="1.6" fill="#b3303a"/>
<ellipse cx="780.1" cy="399.7" rx="1.7" ry="2.5" fill="#b3303a"/>
<ellipse cx="781.2" cy="416.9" rx="1.8" ry="2.3" fill="#b3303a"/>
<ellipse cx="777.8" cy="421.5" rx="1.2" ry="1.6" fill="#b3303a"/>
<ellipse cx="767.5" cy="430.0" rx="1.2" ry="2.1" fill="#b3303a"/>
<ellipse cx="781.2" cy="430.0" rx="1.2" ry="2.1" fill="#b3303a"/>
<ellipse cx="708.7" cy="429.5" rx="1.3" ry="1.7" fill="#b3303a"/>
<ellipse cx="746.9" cy="474.1" rx="1.8" ry="1.0" fill="#b3303a"/>
<ellipse cx="701.1" cy="474.1" rx="1.3" ry="1.5" fill="#b3303a"/>
<ellipse cx="742.3" cy="305.5" rx="1.4" ry="1.7" fill="#b3303a"/>
<rect x="2.10" y="2.00" width="180.80" height="233.10" fill="none" stroke="#000" stroke-width="1.9"/>
<rect x="192.60" y="2.00" width="406.40" height="233.10" fill="none" stroke="#000" stroke-width="1.9"/>
<rect x="2.10" y="245.90" width="180.80" height="232.70" fill="none" stroke="#000" stroke-width="1.9"/>
<rect x="192.60" y="245.90" width="180.10" height="232.70" fill="none" stroke="#000" stroke-width="1.9"/>
<rect x="384.10" y="245.90" width="214.90" height="232.70" fill="none" stroke="#000" stroke-width="1.9"/>
<rect x="613.50" y="245.90" width="184.50" height="232.70" fill="none" stroke="#000" stroke-width="1.9"/>
<text x="8.3" y="21.0" font-size="20.2" font-weight="bold" fill="#000" text-anchor="start" textLength="13.7" lengthAdjust="spacingAndGlyphs">A</text>
<text x="26.5" y="20.5" font-size="15.4" font-weight="normal" fill="#111" text-anchor="start" textLength="144.5" lengthAdjust="spacingAndGlyphs" stroke="#111" stroke-width="0.3">GA margin segmentation</text>
<text x="319.6" y="20.8" font-size="20.2" font-weight="bold" fill="#000" text-anchor="start" textLength="11.5" lengthAdjust="spacingAndGlyphs">B</text>
<text x="336.1" y="20.3" font-size="15.4" font-weight="normal" fill="#111" text-anchor="start" textLength="130.0" lengthAdjust="spacingAndGlyphs" stroke="#111" stroke-width="0.3">Local progression rate</text>
<text x="14.9" y="264.5" font-size="20.2" font-weight="bold" fill="#000" text-anchor="start" textLength="12.0" lengthAdjust="spacingAndGlyphs">C</text>
<text x="35.1" y="264.0" font-size="15.4" font-weight="normal" fill="#111" text-anchor="start" textLength="123.7" lengthAdjust="spacingAndGlyphs" stroke="#111" stroke-width="0.3">Progression direction</text>
<text x="236.2" y="264.5" font-size="20.2" font-weight="bold" fill="#000" text-anchor="start" textLength="12.5" lengthAdjust="spacingAndGlyphs">D</text>
<text x="254.5" y="264.0" font-size="15.4" font-weight="normal" fill="#111" text-anchor="start" textLength="66.8" lengthAdjust="spacingAndGlyphs" stroke="#111" stroke-width="0.3">Eccentricity</text>
<text x="409.0" y="264.5" font-size="20.2" font-weight="bold" fill="#000" text-anchor="start" textLength="11.0" lengthAdjust="spacingAndGlyphs">E</text>
<text x="425.6" y="264.0" font-size="15.4" font-weight="normal" fill="#111" text-anchor="start" textLength="144.4" lengthAdjust="spacingAndGlyphs" stroke="#111" stroke-width="0.3">Photoreceptor thickness</text>
<text x="642.8" y="264.5" font-size="20.2" font-weight="bold" fill="#000" text-anchor="start" textLength="10.0" lengthAdjust="spacingAndGlyphs">F</text>
<text x="657.0" y="264.0" font-size="15.4" font-weight="normal" fill="#111" text-anchor="start" textLength="107.4" lengthAdjust="spacingAndGlyphs" stroke="#111" stroke-width="0.3">HRF concentration</text>
<rect x="635" y="63.5" width="142.5" height="114" fill="#aaa"/>
<rect x="633.5" y="59.5" width="142.5" height="113" fill="#fff" stroke="#ddd" stroke-width="1"/>
<text x="674.7" y="76.2" font-size="12.3" font-weight="normal" fill="#2a2a2a" text-anchor="start" textLength="57.1" lengthAdjust="spacingAndGlyphs" stroke="#2a2a2a" stroke-width="0.2">GA Baseline</text>
<text x="674.7" y="94.5" font-size="12.3" font-weight="normal" fill="#2a2a2a" text-anchor="start" textLength="93.7" lengthAdjust="spacingAndGlyphs" stroke="#2a2a2a" stroke-width="0.2">GA 1 year follow-up</text>
<text x="674.7" y="112.7" font-size="12.3" font-weight="normal" fill="#2a2a2a" text-anchor="start" textLength="69.2" lengthAdjust="spacingAndGlyphs" stroke="#2a2a2a" stroke-width="0.2">800 μm radius</text>
<text x="674.7" y="131.0" font-size="12.3" font-weight="normal" fill="#2a2a2a" text-anchor="start" textLength="60.9" lengthAdjust="spacingAndGlyphs" stroke="#2a2a2a" stroke-width="0.2">Fovea center</text>
<text x="674.7" y="149.2" font-size="12.3" font-weight="normal" fill="#2a2a2a" text-anchor="start" textLength="90.9" lengthAdjust="spacingAndGlyphs" stroke="#2a2a2a" stroke-width="0.2">Local margin point</text>
<text x="674.7" y="167.5" font-size="12.3" font-weight="normal" fill="#2a2a2a" text-anchor="start" textLength="18.2" lengthAdjust="spacingAndGlyphs" stroke="#2a2a2a" stroke-width="0.2">HRF</text>
<rect x="638.3" y="67" width="25.8" height="9.2" fill="#72bde6"/>
<rect x="638.3" y="85.1" width="25.8" height="9.2" fill="#4a9b8d"/>
<rect x="638.3" y="103.9" width="25.8" height="9" fill="#eea898"/>
<circle cx="651" cy="127.8" r="3" fill="#f4a88e" stroke="#333" stroke-width="0.8"/>
<circle cx="651" cy="145.4" r="2.4" fill="#a8201f" stroke="#333" stroke-width="0.8"/>
<rect x="638.3" y="159.2" width="25.8" height="8.7" fill="#ab2a2c"/>
</svg>
</body></html>
